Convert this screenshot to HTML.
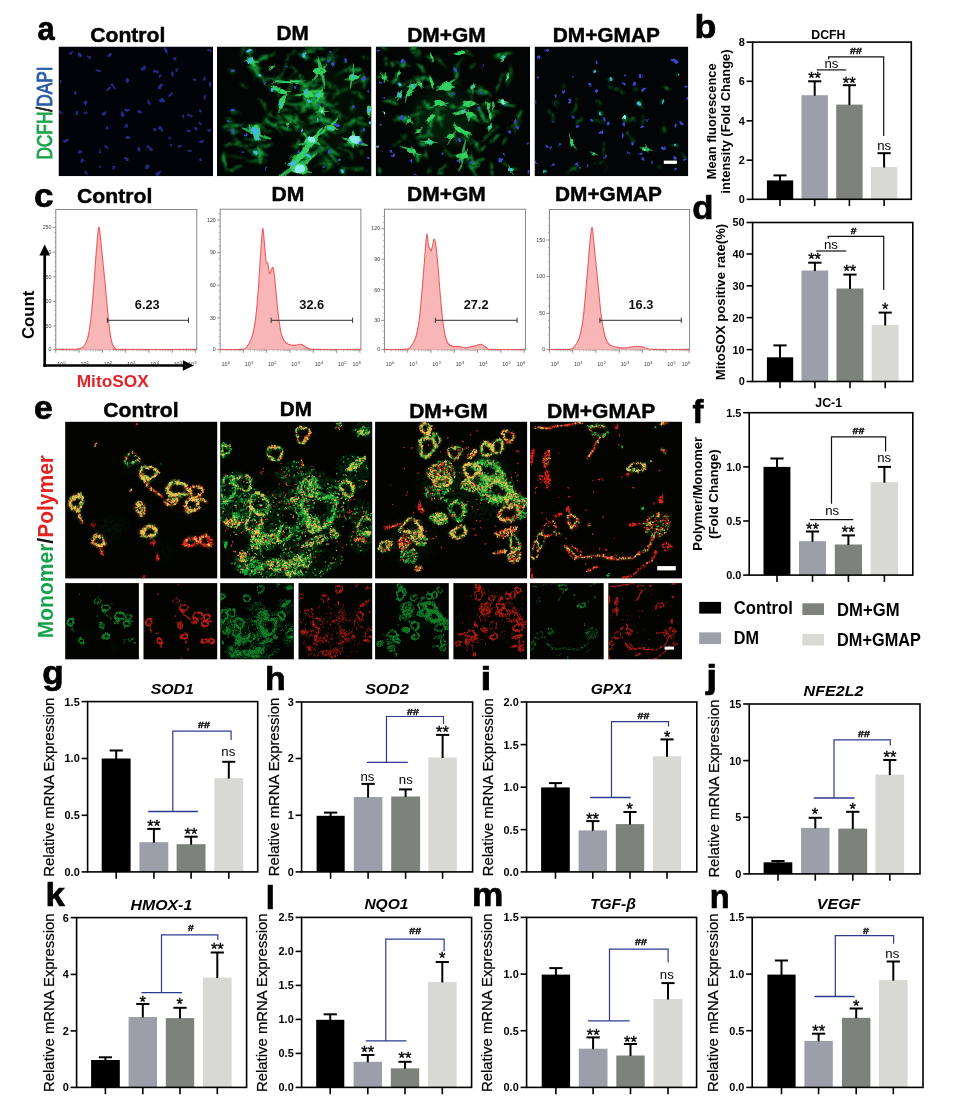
<!DOCTYPE html>
<html lang="en"><head><meta charset="utf-8"><title>Figure: oxidative stress and mitochondrial function</title>
<style>
html,body{margin:0;padding:0;background:#fff}
svg{display:block;font-family:"Liberation Sans", Arial, Helvetica, sans-serif}
text{font-family:"Liberation Sans", Arial, Helvetica, sans-serif}
</style></head>
<body>
<svg width="955" height="1102" viewBox="0 0 955 1102">
<defs>
<filter id="b06" x="-30%" y="-30%" width="160%" height="160%"><feGaussianBlur stdDeviation="0.55"/></filter>
<filter id="b08" x="-30%" y="-30%" width="160%" height="160%"><feGaussianBlur stdDeviation="0.8"/></filter>
<filter id="b1" x="-30%" y="-30%" width="160%" height="160%"><feGaussianBlur stdDeviation="1.0"/></filter>
<filter id="b12" x="-30%" y="-30%" width="160%" height="160%"><feGaussianBlur stdDeviation="1.1"/></filter>
<filter id="b2" x="-30%" y="-30%" width="160%" height="160%"><feGaussianBlur stdDeviation="1.8"/></filter>
<filter id="b5" x="-30%" y="-30%" width="160%" height="160%"><feGaussianBlur stdDeviation="6"/></filter>
<filter id="warp" x="-5%" y="-5%" width="110%" height="110%"><feTurbulence type="fractalNoise" baseFrequency="0.045" numOctaves="2" seed="11" result="n"/><feDisplacementMap in="SourceGraphic" in2="n" scale="9" xChannelSelector="R" yChannelSelector="G"/></filter>
<filter id="gtex" x="-5%" y="-5%" width="110%" height="110%"><feGaussianBlur in="SourceGraphic" stdDeviation="0.9" result="b"/><feTurbulence type="fractalNoise" baseFrequency="0.33" numOctaves="2" seed="21" result="n2"/><feColorMatrix in="n2" type="matrix" values="0 0 0 0 1  0 0 0 0 1  0 0 0 0 1  3.2 0 0 0 -1.05" result="m"/><feComposite in="b" in2="m" operator="in"/></filter>
<filter id="gtex2" x="-5%" y="-5%" width="110%" height="110%"><feGaussianBlur in="SourceGraphic" stdDeviation="0.9" result="b"/><feTurbulence type="fractalNoise" baseFrequency="0.33" numOctaves="2" seed="33" result="n2"/><feColorMatrix in="n2" type="matrix" values="0 0 0 0 1  0 0 0 0 1  0 0 0 0 1  3.2 0 0 0 -1.05" result="m"/><feComposite in="b" in2="m" operator="in"/></filter>
<filter id="cell1" x="-20%" y="-20%" width="140%" height="140%"><feTurbulence type="fractalNoise" baseFrequency="0.07" numOctaves="2" seed="5" result="n"/><feDisplacementMap in="SourceGraphic" in2="n" scale="9" xChannelSelector="R" yChannelSelector="G" result="d"/><feGaussianBlur in="d" stdDeviation="1.2" result="b"/><feTurbulence type="fractalNoise" baseFrequency="0.22" numOctaves="2" seed="9" result="n2"/><feColorMatrix in="n2" type="matrix" values="0 0 0 0 1  0 0 0 0 1  0 0 0 0 1  1.8 0 0 0 -0.15" result="m"/><feComposite in="b" in2="m" operator="in"/></filter>
<filter id="cell2" x="-20%" y="-20%" width="140%" height="140%"><feTurbulence type="fractalNoise" baseFrequency="0.07" numOctaves="2" seed="5" result="n"/><feDisplacementMap in="SourceGraphic" in2="n" scale="7" xChannelSelector="R" yChannelSelector="G" result="d"/><feGaussianBlur in="d" stdDeviation="0.8" result="b"/><feTurbulence type="fractalNoise" baseFrequency="0.22" numOctaves="2" seed="9" result="n2"/><feColorMatrix in="n2" type="matrix" values="0 0 0 0 1  0 0 0 0 1  0 0 0 0 1  1.8 0 0 0 0.05" result="m"/><feComposite in="b" in2="m" operator="in"/></filter>
<filter id="cell3" x="-20%" y="-20%" width="140%" height="140%"><feTurbulence type="fractalNoise" baseFrequency="0.07" numOctaves="2" seed="5" result="n"/><feDisplacementMap in="SourceGraphic" in2="n" scale="5" xChannelSelector="R" yChannelSelector="G" result="d"/><feGaussianBlur in="d" stdDeviation="0.65" result="b"/><feTurbulence type="fractalNoise" baseFrequency="0.22" numOctaves="2" seed="9" result="n2"/><feColorMatrix in="n2" type="matrix" values="0 0 0 0 1  0 0 0 0 1  0 0 0 0 1  1.8 0 0 0 0.3" result="m"/><feComposite in="b" in2="m" operator="in"/></filter>
<filter id="nuc" x="-10%" y="-10%" width="120%" height="120%"><feTurbulence type="fractalNoise" baseFrequency="0.16" numOctaves="2" seed="2" result="n"/><feDisplacementMap in="SourceGraphic" in2="n" scale="4.5" xChannelSelector="R" yChannelSelector="G" result="d"/><feGaussianBlur in="d" stdDeviation="0.6"/></filter>
<clipPath id="ca0"><rect x="58.5" y="46.5" width="154.5" height="129.7"/></clipPath>
<clipPath id="ca1"><rect x="217" y="46.5" width="154.5" height="129.7"/></clipPath>
<clipPath id="ca2"><rect x="375.7" y="46.5" width="154.3" height="129.7"/></clipPath>
<clipPath id="ca3"><rect x="534.5" y="46.5" width="153.8" height="129.7"/></clipPath>
<clipPath id="ce"><rect x="0" y="0" width="152" height="157"/></clipPath>
<g id="e0g" clip-path="url(#ce)"><g filter="url(#warp)">
<g filter="url(#gtex)" fill="#17a33b" stroke="#17a33b"><ellipse cx="82.9" cy="52.4" rx="7.5" ry="6.7" fill="none" stroke-width="4.1" opacity="0.85"/><ellipse cx="67" cy="36.5" rx="6.7" ry="5.9" fill="none" stroke-width="3.9" opacity="0.39"/><ellipse cx="112.2" cy="67.5" rx="9.2" ry="7.5" fill="none" stroke-width="4.4" opacity="0.85"/><ellipse cx="130.7" cy="70" rx="6.7" ry="5.9" fill="none" stroke-width="3.9" opacity="0.43"/><ellipse cx="126.5" cy="83.4" rx="5.9" ry="5.9" fill="none" stroke-width="4.1" opacity="0.7"/><ellipse cx="137.4" cy="80.9" rx="5.8" ry="2.1" stroke="none" opacity="0.43" transform="rotate(35 137.4 80.9)"/><ellipse cx="105.5" cy="80.1" rx="7.1" ry="4.8" stroke="none" opacity="0.45"/><ellipse cx="75.4" cy="86.8" rx="6.4" ry="8.8" stroke="none" opacity="0.45"/><ellipse cx="10.9" cy="81.7" rx="6" ry="6" fill="none" stroke-width="4.4" opacity="0.85"/><ellipse cx="16.4" cy="95.1" rx="1.7" ry="5.4" stroke="none" opacity="0.36"/><ellipse cx="34.3" cy="120.3" rx="6.4" ry="4.7" fill="none" stroke-width="4.1" opacity="0.65"/><ellipse cx="36.9" cy="132.3" rx="1.7" ry="5.1" stroke="none" opacity="0.14"/><ellipse cx="83.8" cy="109.4" rx="7.5" ry="5.5" fill="none" stroke-width="4.4" opacity="0.85"/><ellipse cx="125.6" cy="119.4" rx="7.5" ry="3.7" fill="none" stroke-width="3.9" opacity="0.16"/><ellipse cx="141.5" cy="119.4" rx="4.4" ry="5" fill="none" stroke-width="3.9" opacity="0.11"/><ellipse cx="31.8" cy="22.3" rx="1.4" ry="2.1" stroke="none" opacity="0.47"/><ellipse cx="71.2" cy="3.9" rx="1.2" ry="1.7" stroke="none" opacity="0.47"/><ellipse cx="65.3" cy="68.3" rx="1.6" ry="1.6" stroke="none" opacity="0.8"/><ellipse cx="96.3" cy="41.5" rx="1.2" ry="1.2" stroke="none" opacity="0.8"/><polyline points="75.4,58.3 87.1,67.5 97.2,75" fill="none" stroke-width="2.3" opacity="0.34"/><ellipse cx="46.9" cy="105.2" rx="15.1" ry="8.4" stroke="none" opacity="0.1" filter="url(#b5)"/><ellipse cx="100.5" cy="130.3" rx="10.1" ry="10.1" stroke="none" opacity="0.08" filter="url(#b5)"/><ellipse cx="68.7" cy="43.2" rx="8.4" ry="10.1" stroke="none" opacity="0.1" filter="url(#b5)"/></g>
<path d="m31.9 23.9h0m0.1-1.8h0m35.6 6.8h0m0.4-0.3h0m-6.5 7.2h0m1.7-3.6h0m0-0.3h0m0.1-0.8h0m0.6-0.3h0m0 0.5h0m4-0.4h0m2.9 3.8h0m0.3-0.3h0m0.1-0.6h0m0.7 0.2h0m0 0.3h0m-12.5 3.9h0m0.5 1.7h0m0-1.3h0m0.6 2.4h0m0.5-4.4h0m1.3 4.4h0m4.2 0.2h0m0.1 0h0m0.4-0.4h0m0.1 0.7h0m0.6-0.2h0m0.2-0.2h0m0.8-0.2h0m0 1h0m1.9-0.9h0m1.8-0.8h0m0.7-2h0m0 2.9h0m1-3.3h0m0.3-1.4h0m22.2 5.2h0m-33.3 0.6h0m4.3 0.2h0m0.2 0.6h0m8.6 4h0m0.3 0.6h0m1.1-1.4h0m2.5 0.7h0m0.6 0.7h0m0-0.3h0m1 0.1h0m0.7 0h0m1.7-2.2h0m0.2 0.9h0m0.2-0.1h0m0.1-0.1h0m0.8 0.8h0m0.2-0.8h0m0.4-0.4h0m0.2-0.9h0m0.4 1.3h0m1.9 1.9h0m0.4-0.3h0m0.8 0h0m-14.8 3.6h0m0 0.7h0m0.4 0.8h0m0.4-2.2h0m0.1-1.6h0m0.4 1.4h0m0.7 0.4h0m4.8-2.2h0m1.1-0.4h0m4.8 1.1h0m1.4-0.4h0m0 1h0m0.4-1h0m1.3 3.4h0m0.1-2.1h0m0 3.7h0m0.4-2.5h0m0.2-0.3h0m0.2 0.1h0m0.3 1.1h0m0.1-1.2h0m0.1 1h0m0.1 0.6h0m0.2-0.4h0m0.9 1.2h0m-19.3 3.5h0m0.2-0.9h0m0 0.6h0m0.7-1.7h0m0.1 3h0m0.1-1.4h0m0.5 1.7h0m0.1 1h0m0.5-1.5h0m0.1-1.4h0m0.1 1.5h0m0.2-0.7h0m0.1 0.7h0m0.1 1.5h0m0.3-1.2h0m0 0.1h0m0.1-0.9h0m0.1 0.9h0m0.6 1.4h0m0.5-3.5h0m0.1 1.3h0m0.2-0.6h0m0.5 0.9h0m0.7 0.5h0m0.3-0.2h0m0 1.3h0m0.1-2.6h0m0 2.7h0m0.1-2.8h0m0 1.9h0m0.9-0.5h0m0.3-0.2h0m0 0h0m0.2 0.9h0m0 0.4h0m0.7 0.7h0m0.5-1.1h0m0 0.3h0m0.7 0h0m0.3 0.4h0m0.1 0.2h0m0.3-0.4h0m1-1.1h0m0.2 0.2h0m0.2 0.8h0m0.3-2.1h0m0.7 0.5h0m1.1-0.9h0m0.4 0.1h0m0.2-1.3h0m0.1 2h0m0.5-2.1h0m0-0.1h0m0.4 0.4h0m0 0.9h0m23.7 3.6h0m0.4-0.1h0m0.6-0.2h0m-34.3 2.5h0m0.1 0.5h0m0.7-0.1h0m5.1 3h0m16.6-0.2h0m0.1-0.4h0m0.8-0.4h0m0.3 0.7h0m0.2-2h0m0.5-1.9h0m0.8 0.9h0m0.2-1.2h0m0.1 0.1h0m0.2 1h0m0-0.7h0m1.2-0.4h0m0-0.8h0m2.6 1.1h0m1-0.2h0m0.6-0.2h0m0.2 0.2h0m0.1 0.3h0m0.4 1.5h0m0.3-1.8h0m0.4-0.2h0m0.3 0.9h0m0.3 1.3h0m0.1-1.5h0m0 0.1h0m0.2-1.3h0m0.2 0.7h0m0 1.3h0m0.2-0.6h0m0.1-0.6h0m0 0.7h0m1.2 0.2h0m0-1.5h0m0.5-0.2h0m0.3 1.2h0m0.1-0.4h0m0.1 0.5h0m0.3-0.9h0m0.6 0.4h0m0.5 1.7h0m0-2.1h0m0.3 0.8h0m0.3-0.6h0m0.6 0h0m0.1 1.6h0m0-1.2h0m0 0.3h0m0.2 0.4h0m0.3 1.3h0m0.1-0.5h0m0.1-2.5h0m0.1 3.4h0m0.1-1.1h0m0.2 1.7h0m0.1-1.9h0m0.2 2.1h0m0.7-1.4h0m0.1 1.2h0m0.3-1.8h0m0.5 0.9h0m0.3-1.3h0m5.9 1.7h0m0.6 0h0m2.6-0.5h0m1.5 1.5h0m-66.9 3.2h0m0.1 1h0m0.2-1.6h0m19.8 0h0m0.3-0.8h0m2.5 2.5h0m11.3-1.7h0m1.8 2.8h0m0.1-4.3h0m0 2.8h0m0.5 1.6h0m0.1-2.5h0m0.2 0.3h0m0.4-1.1h0m0.3 3.3h0m0 0.9h0m0.2-2.3h0m0 2h0m0.2-1.9h0m0.2 2h0m0.2-0.2h0m0.6-0.4h0m0.6 1.2h0m1.1 0.1h0m14.8-5.3h0m0.2 2.3h0m0.7-0.6h0m0.1 1.2h0m0.3 1.3h0m0.1-0.2h0m0.5-1h0m0.4-2.2h0m0.9 4.2h0m0.1-2.8h0m0.1 2.2h0m0.2-4.7h0m0.2 0.8h0m0.2 4.8h0m7.9-5.7h0m1.3 0.2h0m1 1.4h0m0-0.5h0m0.5-1.2h0m0.5 0.9h0m0.5 2.4h0m0-1.1h0m0.4 0.6h0m0.3 2.3h0m-130.8 5.9h0m0.1 0.2h0m0.4 0.6h0m0-0.3h0m0-1.7h0m0.4-0.3h0m0.2 1.9h0m0.2-1.2h0m0.6-1.2h0m0.6 1.1h0m0.2 0.4h0m0.2-0.1h0m0.4 0.4h0m0.3-1.8h0m0.3 1.4h0m0-1h0m1.4 1.1h0m0-3h0m0.1 2h0m0.2-1.2h0m0 2.5h0m0.1-0.6h0m0.2 0.7h0m0.3-1.4h0m0-0.7h0m0.2 2h0m0-1.8h0m0.3 2h0m0.2-3h0m1.1 3.8h0m0-2.1h0m0.2-1h0m0.7 1.7h0m0.1 0h0m0 1h0m0.5-0.5h0m0 0.1h0m0.1 0.5h0m0.4 0.1h0m76.2-5.5h0m0.1 0.1h0m0.3 0.5h0m0.6-0.4h0m0.5 0.8h0m7.6 4.1h0m0.8-0.8h0m0.6-3.9h0m0.1 1h0m2.1-0.1h0m0.2 0.4h0m0.1 3.3h0m0.1-4.2h0m0.1 4h0m0.3-3.6h0m0.4 0.1h0m0.2-0.1h0m0 3.9h0m0.1-4.6h0m0.8-0.7h0m0.2 1.5h0m0.1-0.4h0m0 2.2h0m0.4-1.3h0m0 3.1h0m0.2-3.3h0m0.2-0.9h0m0.1 0.2h0m0.1 1.3h0m0-0.9h0m0.2-1.1h0m0.4 0.4h0m0.4 1.7h0m0.9-0.9h0m0.3-0.4h0m1.1-0.9h0m0.2 3.1h0m0.4-1.7h0m0-0.7h0m0.2-0.1h0m0.3-0.1h0m0 0.5h0m1.2 0.4h0m1.3-0.8h0m0.5 1.5h0m0.3-0.9h0m1.2 0.4h0m0.5-0.4h0m1.1-0.6h0m0.3 1.5h0m2.2 1.2h0m1.2 2.3h0m0.9 0h0m0.6-2.9h0m0.4 2.3h0m0-3h0m0 3.2h0m1.4-0.4h0m0.3-1h0m0.4-0.6h0m2.5-0.2h0m0.1 0.4h0m0.1 0.1h0m0.8 0.1h0m0.5 0h0m0.4-2.8h0m0.9 1h0m0.9 0.1h0m0.4-0.3h0m0.7-1h0m0.2 1.6h0m0.2-1.7h0m0.3 0.5h0m-131.7 4.7h0m0.2 3.8h0m0-0.3h0m0.1 2h0m0.1-0.4h0m0.1 0.5h0m0.1-2h0m0 2.3h0m0.4-1.9h0m0.1-0.7h0m0.1-1.1h0m0 0.9h0m0.1-0.4h0m0.4 1.4h0m0.6-3.1h0m0.3 0.2h0m0.1 0.9h0m2.1-0.9h0m0.4-0.9h0m5.1 4.8h0m0.5-0.9h0m0.4-0.8h0m0.1 0h0m0.3 0h0m0.1-1h0m0.1 3.1h0m0.2-5.1h0m0.3 0.4h0m0.2 1.5h0m0.2 1.5h0m0.4-2.6h0m1 4.3h0m53.9-2.1h0m0.7-0.8h0m0.2 1.6h0m0.1 1.2h0m0.7-0.4h0m0.3-0.4h0m0.3-1.2h0m0 2.5h0m0.1-3h0m0-1.2h0m0.2 2h0m0.7 0.7h0m0-3.1h0m0.2-0.8h0m0 3.2h0m0.8 1.1h0m0.7-1.5h0m0.3-2h0m0.8 2.3h0m24 0.2h0m0.2 1.8h0m0.1-1.1h0m0.6-0.4h0m0.9-3.1h0m0.1 4h0m2-2.4h0m0.3-1h0m1.6-1.1h0m0 1.1h0m0.1 0.6h0m0.6 2.7h0m0.3-4.4h0m0.1 0.1h0m0.3 5h0m0.9-5.4h0m0.1 1.3h0m0.8 1h0m8.6 0.5h0m0 2.8h0m0.1-3h0m0.4 1.2h0m0.1 1.9h0m0.3-0.9h0m0.1-2.7h0m0.3 1.2h0m2.2-1.4h0m1-0.7h0m0.1-0.6h0m0.4-0.2h0m1.5 0.9h0m1 0.8h0m0.1-1.5h0m0.4 0h0m0.4 0.5h0m0.2-1.2h0m0.4 1.7h0m0.3-0.8h0m0.3 0.5h0m0-0.1h0m0.1-0.7h0m0.9 0h0m0.6-0.1h0m0.2 1.9h0m0-0.3h0m0.5 2.9h0m0.1-2.8h0m0.1-1.6h0m0.4 3.5h0m0.4 1.1h0m0.5-4.7h0m0.1 4.8h0m0-2.3h0m0.4 1.8h0m1.2-2.1h0m0.7-1.7h0m1.7 2.2h0m1.1-1.4h0m0.8 1.3h0m0.7 1.5h0m0.9-0.1h0m-135.9 1.6h0m0.1 0h0m0.3 1.5h0m0.1 0.4h0m0.1-1h0m0.7-0.1h0m0 1.4h0m0.8 0.9h0m1.2-1.1h0m0.7 0.3h0m0.2 0.4h0m1.1-0.1h0m0 0.1h0m0.2-1.3h0m0 2.3h0m2 1.1h0m0.1-0.1h0m0.5-0.1h0m0.1-0.7h0m0.1-1.1h0m0 1.6h0m0.1 0h0m0.3 1h0m0.2-1.1h0m1.2-1.2h0m0.4-0.2h0m0.2 2.1h0m0-0.9h0m0.2-0.7h0m0.1-0.8h0m0.1 0.5h0m0.2-1.8h0m0.3 0.8h0m0.4 2.3h0m0.1-2.3h0m0.2-0.7h0m53 3.3h0m0.7 0.3h0m0.4-3.9h0m0.6 3.2h0m0.3-2.9h0m0.2 2.4h0m0.3-3.7h0m2.1 2h0m0.5-0.5h0m0.7-1.7h0m1.1 5.2h0m1.1-1.7h0m0.1-1.5h0m1.8-0.4h0m0.4 2.6h0m0.4-2h0m38.8-1.3h0m0.3 0.1h0m1.6 1.7h0m0.2-0.2h0m0.9-0.9h0m0.6 1.6h0m0.1 0.2h0m0.5 2.5h0m0.4-1.9h0m0.7-0.2h0m0.2-2.6h0m1.2 2.4h0m0.5 1.5h0m0.3-0.1h0m0.3 0.5h0m1.9-0.8h0m0-1.7h0m0.2 0.3h0m0.3 1.9h0m0.6-1h0m1.2-4.2h0m0.3 3.2h0m1.7-1.3h0m1.1 0.8h0m-119.1 6.2h0m0.1 1.3h0m0.7 0.4h0m0.3-0.9h0m0.1-1.8h0m53-2h0m1.9 1.3h0m1 0.7h0m0.1-1.7h0m0.8 1h0m1.4 1h0m0-0.8h0m0.7-1h0m0.1 4h0m0.3-1.7h0m0.9 1.4h0m0.8-3.3h0m0.5 0.1h0m0.5 1.2h0m0.2 0.8h0m0.5-0.3h0m0.7-2.7h0m44.4 0.7h0m1.7-0.6h0m-109 6.3h0m58.2 11h0m0.9-0.7h0m0.2 1.2h0m0.5-0.5h0m0.6-0.3h0m0.2-2.5h0m0.5 0.6h0m0.4-0.7h0m0.1 0.8h0m0.1-0.9h0m0 0.3h0m0.2 1.7h0m0.5-1.3h0m0.1 2.1h0m1.5-4.2h0m0 1.2h0m1.5-1.9h0m0.1 1.3h0m0.6-1.1h0m0.5 0.3h0m0.1 0h0m0 1.7h0m0.6-0.5h0m1.6 0.6h0m0.1 2.3h0m0.3-1.9h0m0-0.6h0m0 0.6h0m0.6 1.6h0m0-0.5h0m0.1-3.2h0m0.4 1h0m0.1 3.1h0m0.1 0.2h0m0.4 0.6h0m0.6-1.4h0m0.1 0.6h0m0.4 0.3h0m0.2-1.2h0m0.3 1.8h0m0 0.1h0m0.3-2h0m0.2 0.4h0m0.3 0.6h0m0.6 0.3h0m0.2 0.4h0m0.5-0.6h0m0.3-0.1h0m0.2-0.7h0m0.1 1.2h0m-16.9 1.6h0m0.4-0.1h0m0.4-0.7h0m0.2 2.6h0m0.2-0.5h0m0 1.2h0m0.1-1.4h0m0 1.7h0m0.1-0.4h0m0.1-1.3h0m0 1.6h0m0.1 0.4h0m0-0.8h0m0.1-3.2h0m0.5 1.1h0m0-0.5h0m0.2 1.2h0m0.4-0.5h0m3.3 4.2h0m1.6 0.3h0m0.5-0.8h0m0.5-0.8h0m0.8 1.1h0m0.2-0.3h0m0 0.6h0m0.3-0.8h0m0.3 0.6h0m0.7-0.3h0m0.1-0.3h0m0.7 0.7h0m0.5 0.2h0m0.1-0.2h0m0.2-0.5h0m1.2-0.6h0m0.3-3.2h0m0.4 0.1h0m0.6 2.1h0m0-0.5h0m0.1-2.8h0m0.2 4.3h0m0.1 1.2h0m0.4-4.6h0m0.6 0.1h0m0.4-0.3h0m0.1 2h0m-65.9 8.8h0m1.5-3.1h0m0.4 3.2h0m0-1.8h0m0.2-3h0m0.2 4.6h0m1.3-3.4h0m1.3-1.5h0m0.1 0.5h0m0.1 1.2h0m0.1-2h0m0.7 0.2h0m1.2 1.1h0m0.4 0.5h0m0.1-1h0m0.4 0.8h0m0.7-1.6h0m0.7 1.6h0m2.1-0.7h0m0.2 1.7h0m0.8-0.8h0m0 3.7h0m36.4-5.5h0m1.8 0.4h0m1-0.5h0m1.6 1.2h0m0.5-0.9h0m2.2 0.2h0m1.4-0.9h0m0.4 0.2h0m0.6 0h0m0.2 1.5h0m1.6-1.1h0m0.8 0h0m0.4-0.2h0m32 3.3h0m0.1-0.6h0m0.3 1.5h0m0.1 0.7h0m0.4-2h0m3.3-0.4h0m6-0.5h0m0.2-1.6h0m1.1 2.4h0m0.3 1.3h0m2.1 1.4h0m2.3-2.6h0m0.3 2h0m0.4-1.2h0m1.5-2.1h0m0.1-0.1h0m1.2 0.5h0m0.4 0.1h0m2.4-0.8h0m0.6-1.4h0m-115.3 7.8h0m1.8 2.1h0m1.9-0.1h0m0.2 0.5h0m0.1-0.5h0m1.2 1.4h0m1.1-0.2h0m0.5-0.1h0m0.1-0.3h0m0 0.1h0m0.1 0.6h0m0.3 0.2h0m0.2-0.1h0m0.2 0.2h0m0.4-1.1h0m0.5-0.8h0m0.4 1.7h0m0.3-2.8h0m0.3 0.7h0m0.3 1.9h0m0.6-1.5h0m0.2 0.1h0m0.1-2.7h0m0.5-0.3h0m0.1 1.6h0m0.2-0.4h0m0-1.9h0m0.2 1.7h0m0.1 0.9h0m0.2-1.2h0m79.4 1h0m3.4-0.8h0m13.3-1.9h0m6.7 3.1h0m0.7 0.4h0m0.6-1h0m0.6 1.2h0m-109.6 2.7h0m1.1 4h0m0.1-4.2h0" fill="none" stroke="#1bb83e" stroke-width="1.6" stroke-linecap="round"/>
</g></g>
<g id="e0r" clip-path="url(#ce)"><g filter="url(#warp)">
<g filter="url(#gtex2)" fill="#c4261a" stroke="#c4261a"><ellipse cx="82.9" cy="52.4" rx="7.5" ry="6.7" fill="none" stroke-width="4.1" opacity="0.7"/><ellipse cx="67" cy="36.5" rx="6.7" ry="5.9" fill="none" stroke-width="3.9" opacity="0.28"/><ellipse cx="112.2" cy="67.5" rx="9.2" ry="7.5" fill="none" stroke-width="4.4" opacity="0.7"/><ellipse cx="130.7" cy="70" rx="6.7" ry="5.9" fill="none" stroke-width="3.9" opacity="0.85"/><ellipse cx="126.5" cy="83.4" rx="5.9" ry="5.9" fill="none" stroke-width="4.1" opacity="0.85"/><ellipse cx="137.4" cy="80.9" rx="5.8" ry="2.1" stroke="none" opacity="0.68" transform="rotate(35 137.4 80.9)"/><ellipse cx="105.5" cy="80.1" rx="7.1" ry="4.8" stroke="none" opacity="0.58"/><ellipse cx="75.4" cy="86.8" rx="6.4" ry="8.8" stroke="none" opacity="0.58"/><ellipse cx="10.9" cy="81.7" rx="6" ry="6" fill="none" stroke-width="4.4" opacity="0.7"/><ellipse cx="16.4" cy="95.1" rx="1.7" ry="5.4" stroke="none" opacity="0.72"/><ellipse cx="27.6" cy="103.5" rx="4.2" ry="2" stroke="none" fill="#e3281b" transform="rotate(35 27.6 103.5)"/><ellipse cx="34.3" cy="120.3" rx="6.4" ry="4.7" fill="none" stroke-width="4.1" opacity="0.85"/><ellipse cx="36.9" cy="132.3" rx="1.7" ry="5.1" stroke="none" opacity="0.72"/><ellipse cx="83.8" cy="109.4" rx="7.5" ry="5.5" fill="none" stroke-width="4.4" opacity="0.85"/><ellipse cx="125.6" cy="119.4" rx="7.5" ry="3.7" fill="none" stroke-width="3.9" opacity="0.85"/><ellipse cx="141.5" cy="119.4" rx="4.4" ry="5" fill="none" stroke-width="3.9" opacity="0.85"/><ellipse cx="87.1" cy="121.1" rx="2.1" ry="3.8" stroke="none" opacity="0.72"/><ellipse cx="93" cy="135.3" rx="2.4" ry="3.8" stroke="none" opacity="0.72"/><ellipse cx="80.4" cy="154.6" rx="1.2" ry="1.7" stroke="none" opacity="0.8"/><ellipse cx="31.8" cy="22.3" rx="1.4" ry="2.1" stroke="none" opacity="0.8"/><ellipse cx="71.2" cy="3.9" rx="1.2" ry="1.7" stroke="none" opacity="0.47"/><ellipse cx="65.3" cy="68.3" rx="1.6" ry="1.6" stroke="none" opacity="0.8"/><polyline points="75.4,58.3 87.1,67.5 97.2,75" fill="none" stroke-width="2.3" opacity="0.8"/></g>
<path d="m71.6 2.9h0m0.3 0.8h0m-40.3 17.2h0m0.5 1h0m-0.4 2.1h0m35.2 5.4h0m1.7 0.2h0m-8.5 4.9h0m1.1 1.1h0m0.3-0.7h0m1.8-3.6h0m5.7-0.5h0m2.4 3.3h0m1 0.1h0m0.3 0.9h0m-13 3.1h0m7.9 2.8h0m0.6-0.1h0m3.9-1.1h0m1.2 1.8h0m0.7-3.9h0m0.2 1.3h0m0.7-0.9h0m1.5 9.1h0m0-0.3h0m0.3 1h0m0.9-1.4h0m0 0h0m3.4 0.8h0m0.6 0.5h0m0.1-0.6h0m0.3-0.1h0m0.5-0.2h0m0.2 0.5h0m1.4-2.1h0m0.2 0.9h0m0.5-0.2h0m0.1-0.2h0m0.2 0.5h0m0.4 0.4h0m0.1-0.5h0m0.8-0.4h0m0.1-1.4h0m0.5 1.7h0m0.6 0.9h0m-13.9 6.8h0m0.4-0.9h0m0.9-1.7h0m0 0.9h0m0.2-0.2h0m1.1-1.9h0m5.6-1.5h0m5.9 0.5h0m0.9-0.9h0m0.3 1.4h0m0.4-0.6h0m0-0.2h0m0.7 0h0m0.1 0.9h0m0.7 2.6h0m0.1-2.5h0m0.2 1.3h0m0.8 0.8h0m0-0.9h0m0.3 0.8h0m0.3 0.6h0m1.1 0.9h0m-20.4 1.6h0m0.4-0.6h0m0.5 2.7h0m0.5-0.8h0m0.4-1.5h0m0.2 1.7h0m0 1.5h0m0.4 0h0m0-1.4h0m0.1 1.5h0m0 1.1h0m0.4-1.1h0m0.1 0h0m0.1-1.8h0m0 0.9h0m0.6 1.3h0m0.2 1.3h0m0-0.6h0m1 0.2h0m0.5-3.5h0m0.4 1.1h0m0.1 0.4h0m0.4 1.7h0m0.2-0.6h0m0.7-0.3h0m0.3 1.2h0m0.1-0.7h0m0.5-0.5h0m0.4-0.1h0m0-0.4h0m0.1 1.3h0m0.2-0.3h0m1 0.3h0m1.3 0.7h0m0-0.1h0m0.1-0.1h0m1.5-2.2h0m0 1.9h0m1.9-2.3h0m0.4-0.1h0m0.1-0.1h0m0.2 0.8h0m0-2h0m1.2 0.3h0m0.1 0.8h0m0.9-0.3h0m0.1-1.7h0m22.9 5.5h0m0.6-0.3h0m-35.1 1.5h0m0.3 0.4h0m0.7 0.6h0m0.1 0.3h0m0 0.5h0m0.3 0h0m0.1-0.9h0m1.8 1.5h0m2 2.1h0m1.2 0.1h0m16-0.3h0m0 0.4h0m1-0.4h0m0.8-0.9h0m0.1 1h0m1.5-3.1h0m0.2-1.1h0m0.2-0.3h0m0 0.5h0m0.2 0.7h0m1.3-1.7h0m3.7 0.4h0m0.6 0.3h0m0.4 1.6h0m0.5-1.8h0m0.3 1.1h0m0.8-0.3h0m0-1.8h0m0.1 1.6h0m0.4-0.3h0m0.3 0.4h0m0.8 0.2h0m0.4 0h0m0.9-1h0m0.1 0.8h0m1-0.7h0m0.4-0.1h0m0.2 0.2h0m0.5 0.2h0m0.3-0.1h0m0.5 1.5h0m0.3 1.4h0m0-3.5h0m0.3 1.8h0m0.1 2.4h0m0.3-2.3h0m0.1 0.2h0m0.8 2.1h0m0.2-2.3h0m0.3 1.2h0m0.5-1.2h0m0.2 3.1h0m2.8 0.1h0m0.3-0.6h0m0.2-1h0m0.1 1.3h0m1.7-2.6h0m0.6 1.3h0m0.9-0.1h0m0.1 1.1h0m2.1-1.7h0m0.2-0.1h0m1.6 1.2h0m0.2-0.4h0m1.1 0.8h0m0 1.1h0m0.2-0.2h0m0.1 0.2h0m1.3-1.1h0m0.3 1h0m-70.5 3.2h0m0.3-0.7h0m0.2-0.6h0m19.6-1.7h0m0.2 1.5h0m0.1-0.7h0m2.2 0.8h0m0.7 1.8h0m0.4 0h0m0.9 0.7h0m0.2-0.6h0m1.3 1.8h0m9.9-0.8h0m0-3.2h0m0.7 0.6h0m0-1.1h0m1 0.1h0m0 4.2h0m0-0.9h0m0.2 0.7h0m0.4-1.9h0m0.2 0.1h0m0.7 1.5h0m0.7 0.7h0m14.3-4.6h0m1.1 2h0m0.2-2.4h0m0.6 2.2h0m0.3 0h0m0.2 0.2h0m0.1 0.8h0m0.1 1.2h0m0-0.4h0m1.1-1h0m0-2h0m0.1 1.8h0m0.3-2h0m0.1-0.6h0m0.1 1h0m0.2 1.7h0m0.1-1.9h0m0 0.5h0m0 4h0m0-0.3h0m0.2-2.8h0m0 0.7h0m0.1 1.8h0m0-0.4h0m0-3.5h0m0.2-1.4h0m0.1 3.4h0m0-2.6h0m0 0.2h0m0.1 4.4h0m0.3-1.7h0m7.7-3.2h0m0.1-0.4h0m1.6 0.6h0m0.9 0.4h0m0.5-0.3h0m0.5-0.1h0m0 2.6h0m0.1-1.8h0m0-0.6h0m0 0.1h0m0.1 1.5h0m0.3-0.6h0m0.1 0.9h0m0.2 0.1h0m0 2.5h0m0-2.2h0m0.1-0.4h0m0.3 0.8h0m0.3-1.5h0m1.4 0.6h0m-132.4 8.8h0m0.5-1.7h0m0 0.9h0m1.5-0.5h0m0.5 0.4h0m0.6-1.8h0m0.1 2.3h0m0.6-1.5h0m1.2-1.8h0m0.2 2.9h0m0.4-0.2h0m0.1-1h0m0.2 1.4h0m0.1-2.2h0m0.1 2.4h0m0-1.7h0m1.7-1.5h0m0.5 2.8h0m0.2-0.4h0m0.3 1.4h0m0.2 0h0m0.5-0.7h0m0 0.1h0m76.5-4.9h0m0.1 0.5h0m0.1-0.2h0m0.8 0.2h0m0.1 0.3h0m0.3-0.1h0m0.2 0.2h0m0.9 1h0m0.7 1.2h0m0.4 0h0m5.5 2h0m1-1h0m0.2-3h0m0.1-0.6h0m1.6-0.6h0m0.1 0.2h0m0.4 1.6h0m0.2-0.4h0m0 4h0m0.2-4.8h0m0.3 0.7h0m0 3.5h0m0.9-4.3h0m0.2 2h0m0.9-1.3h0m0 0.4h0m0-0.6h0m0.1 2h0m0.4-2.1h0m0.5 0.6h0m0 1h0m0.1-1.2h0m0.4-0.4h0m0.5 1.3h0m0.2 3.4h0m1-5.4h0m0.4 1.5h0m0.8-1.6h0m0.7 0.6h0m0.1 0.3h0m0.1-0.1h0m1.5 0.5h0m1.3-0.6h0m0.5 1.2h0m3.1-1.1h0m2.2 2.8h0m1.1 1.6h0m0.2 0.5h0m0.3-5.2h0m0.7 5.2h0m0-4.8h0m0.6 1.7h0m0.2 2.2h0m0.4 0.4h0m0.9-0.6h0m0.3 0.6h0m0.1-1.2h0m0.6-0.7h0m0.4 0.6h0m0.1 0.9h0m0.9-0.3h0m0.2-0.3h0m0.6-1.4h0m0.1 0.5h0m0.2-0.1h0m0 0.6h0m0.2-0.2h0m0.6-0.1h0m0.4 0.8h0m0.1-1.7h0m0.1 1.8h0m0.3-0.7h0m0.2 0.3h0m0-1.2h0m0.1-2.1h0m0.4 0.7h0m0.2 0.2h0m0.4 1.1h0m0.6-0.8h0m0.5-0.3h0m0.5-0.6h0m0.2 1.3h0m0.1-1.2h0m0.2-0.4h0m0.4 0.4h0m1.2-1.1h0m-133.4 7.4h0m0.3-0.6h0m0.3-0.8h0m0.1 3.7h0m0.1 1.5h0m0-0.4h0m0.3-1.6h0m0.2-0.1h0m0.1-0.4h0m0.2 1.3h0m0.2-1.6h0m0.5-1.1h0m0.5-0.1h0m0.3 0.4h0m1-1.7h0m0.9 1.1h0m0.7-1h0m5.5 4h0m0.2-0.8h0m0.4 0.1h0m0.4 0h0m0.2-2.5h0m0.1-0.4h0m0 5.1h0m0.5-2h0m0.4-2.6h0m0.8 4.1h0m54.2-2.1h0m0.9 1h0m0.4 1.1h0m0.4-0.4h0m0.2-0.3h0m0.4-1.9h0m0-0.8h0m0.2 1.9h0m0.6-2.3h0m0.2 3h0m0-0.8h0m0.3-3.2h0m0.4 4.2h0m1.1-3.3h0m0.7 0.8h0m0.6 1.3h0m1.4 2.6h0m19.1-3.9h0m0.2 0.6h0m1.2-0.3h0m0.4 1.5h0m1.4 1.8h0m0.1-2h0m0 0.8h0m0.2-1.4h0m0.7 1.2h0m0.6-3.1h0m0.4 3.8h0m1-3.4h0m0.1 3.9h0m0.1-4.4h0m0.6 1.9h0m0.2-0.2h0m0.3-1.3h0m1.1-1h0m0.1 2.1h0m0.1-1.3h0m0.2-0.5h0m0.1 1.5h0m0.4 3.4h0m0.5-0.6h0m0.2-4.9h0m0.1 5.5h0m0-5.4h0m0.6 1.6h0m0.2 1.9h0m0.1-3.7h0m0.3 4.3h0m0.6-2h0m8.6 0.4h0m0 0.3h0m0 2.8h0m0.7-2.1h0m0.1-1.4h0m0.1 2.7h0m0.2 0h0m0.3-1.7h0m1.6-3.2h0m0.7 2.1h0m1.2-1.2h0m0-0.4h0m0.4-0.1h0m0.5-0.1h0m0.6-0.5h0m0 1.5h0m1.1 0.6h0m0.4-1h0m0.1-0.1h0m0.6 0.6h0m0-0.2h0m0.6-0.7h0m0.1 1.4h0m0.1-0.5h0m0.5-0.1h0m0.6-0.7h0m0.4 0.9h0m0.3-1.4h0m0.1 0.6h0m0.2 1.3h0m0.4 0.1h0m0.2 3.1h0m0.1-0.7h0m0.1-0.5h0m0.1-3.3h0m0.3 0.8h0m0 3.9h0m0.8-0.3h0m0-5h0m0.2 5.4h0m0-2.5h0m0.2 1.9h0m0.1-0.2h0m0.9-4.7h0m1 1.1h0m1.2-0.4h0m0.2 2.1h0m1.1-1.3h0m0.9 2.7h0m0.5-1.2h0m0-0.3h0m0.2 1.6h0m1.2-0.1h0m-136.1 1.9h0m0.1-0.3h0m0.3 1.5h0m1.2 1.2h0m0-1.5h0m0.3 2.9h0m0.4-1h0m1.1-0.7h0m0.8 0.3h0m0.3 0.2h0m0.9 0.1h0m0.1-1.3h0m0.2 2.2h0m0.4 0.4h0m1.4 0.8h0m0.4 0h0m0.2-0.4h0m0.4 0h0m0.2-1.9h0m0.6 0.1h0m0.9 0.7h0m0.3 0.6h0m0.3-0.7h0m0.1 0h0m0.1 1.6h0m0.1-2.5h0m0.3-1.1h0m1 0.2h0m52.5 4.3h0m0.3-4.7h0m0.1 3.8h0m0.4-4.6h0m0.4 4.7h0m1.1-0.1h0m0.1-3.4h0m0.1 2.9h0m0.2-0.3h0m0.5-4.2h0m1.3 0h0m0.3 4.3h0m0.5-2.3h0m0.5-0.5h0m0.7-1.4h0m0.9 4.8h0m0.1 0.5h0m0.9-2h0m0.1 0.5h0m2.1-2.5h0m0.2 0.8h0m0 2.1h0m0.1 0.6h0m0.1-2.6h0m37.8-2.3h0m1.3-0.1h0m0 0h0m0 0.2h0m0.1 1h0m0.3-0.3h0m0.5 2.5h0m0.7-2.8h0m0.3 2h0m0 0h0m0.1-0.6h0m0.8 2.5h0m0.3 0.6h0m0.2-1.6h0m0.4-0.2h0m0 1.2h0m0.3-0.4h0m0.6 0.2h0m0.6-0.4h0m0.1-2.6h0m1 2.7h0m0.3-0.1h0m0.3 1.3h0m0.2 0h0m0.6 0.1h0m0.1 0.4h0m0.4-1.7h0m1.1 0.6h0m0.1 0.4h0m0.4-1.8h0m0.4 1.9h0m0.1-1.1h0m0.2 0.4h0m1.5-1h0m1.1-0.6h0m0.6-0.8h0m0.6-0.3h0m0.8 1.1h0m-119.2 6.3h0m0.1-1.8h0m0.1 3.2h0m0.2 1.4h0m0.2-1.1h0m0.2-0.4h0m0.1-0.4h0m0.3-2.2h0m54.9-0.2h0m1.1-1.4h0m0.2 1.6h0m0.3-0.3h0m0.5-0.2h0m1.1 2.2h0m0.1 0.9h0m0-2.4h0m0.8 2.8h0m0.1-4.4h0m0.2-0.2h0m0 2.9h0m2.2-2h0m0.1 1.6h0m0.6 0.5h0m0.6-0.3h0m0.9-2.7h0m0.1 0.4h0m0.1-0.5h0m43.1 0h0m2.7 0.3h0m-109.5 7.9h0m0.3-2.2h0m58 11.1h0m1.1 0.4h0m0.1-0.6h0m0.1 0.7h0m0.3 0h0m0.3-0.8h0m0.6-1.1h0m0.1 1.3h0m0.2-2.4h0m0.9 0.3h0m0.2 1.3h0m0.6 1h0m0.4-2.4h0m0.2 0.1h0m0.3-1.9h0m0.9 0.9h0m1.1-0.4h0m1.1-0.8h0m0.2 0.2h0m0.1 1.3h0m0.2-1.3h0m0.2 0.9h0m2 0.7h0m0 0.2h0m0 0.4h0m0.8-2.3h0m0.1 2.4h0m0 1.6h0m0.4-2.8h0m0.2 2.8h0m0.2 0.4h0m0.1 0.6h0m0.3-0.9h0m0.4 0.2h0m0.2-0.7h0m0.4-0.1h0m0.1-0.4h0m0.3 2h0m0.2-0.2h0m0-2h0m0.1 0.5h0m0.3-0.1h0m0.9 0.9h0m0.2 0.8h0m0.5-1.1h0m0.1 0.5h0m-17.2 3h0m0.8-0.2h0m0.4-1.3h0m0.2 4.8h0m0.1-5.4h0m0.2 2.3h0m0.1 2.5h0m0.1-0.9h0m0.1-2.1h0m0 1h0m0-0.5h0m0 1.2h0m0.2 0.8h0m0.4-0.8h0m0.1-2.7h0m0.2-0.4h0m0 1.3h0m0.7-0.5h0m3.3 4.4h0m2 0h0m0.2-0.7h0m0.4-0.7h0m0.7 0.6h0m0.2 0.7h0m0.3 0.2h0m0.5-0.1h0m0.4-0.5h0m0.2-0.4h0m0.8 0.6h0m0.3 0.1h0m0.2 0h0m0.4-0.5h0m0.7-0.3h0m0.2 0.4h0m0.2 0.5h0m0.7-4.2h0m0.3 2.1h0m0.2-3.2h0m0.3 4h0m0.3-3.3h0m1 0h0m0.4-0.5h0m49.9 4.4h0m-116.1 6.6h0m1.9-1.7h0m0.3 0.2h0m0 1.8h0m0.1-4.5h0m0.3 0.7h0m0.1 3.4h0m0.5-4h0m0.9 3.2h0m0.2-3.5h0m0.3-0.3h0m0.5-0.3h0m0.1 1.2h0m0.1-1.4h0m0.2 2h0m1.8-0.1h0m0.2 0.1h0m0-0.8h0m0.6 0.3h0m0-0.4h0m0.3-0.2h0m0.2-0.6h0m0.1-0.2h0m0.6 1.4h0m2.3-0.4h0m0.4 2.6h0m0.4-2.1h0m0.1 1.7h0m0.3-1.5h0m0.1 3.1h0m0-2.8h0m0.1 0.9h0m36.1-2.6h0m3-0.4h0m2.1 0.4h0m0.2 0.4h0m2.1-0.4h0m0.5 0.1h0m0.4-0.8h0m0.4 0.1h0m0.5-0.1h0m0.4 1.8h0m2.4-1.8h0m0.1 4.4h0m30.1 1.3h0m0.2-1.1h0m0.2 1.2h0m0.2-0.1h0m0.1-0.7h0m0.2 0.4h0m0.1-2.1h0m0.2 1.7h0m0-1.3h0m0.1 0.9h0m0.4 0.7h0m0.1-2.9h0m0.5 1.1h0m0-0.4h0m0 1.1h0m0.2-1.8h0m0.1 3h0m0.2-0.9h0m0.5-1.2h0m1.5-1.7h0m1 0.1h0m0.4 1h0m0.5-0.1h0m2.3-0.7h0m0.1 0.2h0m0.3-0.5h0m0.8-0.1h0m0.1 0h0m0.2 0.3h0m0.1 0.2h0m0-0.8h0m0.3 1.2h0m0.8-0.7h0m0.6 0.6h0m0.4 0.2h0m0.2-1.8h0m0.2 0.9h0m0.1 1.1h0m0-1.5h0m0.4 1.3h0m0.1 0.3h0m0.3-1.1h0m0.2 2.8h0m0.1-2.5h0m0.8 1h0m0.1 0.3h0m0 1h0m0.1 0.4h0m0.4 0.9h0m0.3-0.5h0m0.2-0.3h0m0.2 1h0m1-0.7h0m0.2 0.8h0m0.6-0.1h0m0.1-4.1h0m0.3 1.2h0m0.1 0.4h0m0 1.8h0m0.2-0.6h0m0.1-0.6h0m0.2 1.2h0m0.6-2.5h0m0.1 1.1h0m0-0.4h0m0.2-0.3h0m0.3-0.1h0m0.1-1.9h0m0.1 0.3h0m0.1 1.5h0m0-0.1h0m0-1h0m0.1 0.7h0m0.2-0.8h0m0.2 0.6h0m0.2-1h0m0.4 1.3h0m0.3-0.5h0m0-0.8h0m0.2 1.4h0m0.2-1.6h0m0 1.8h0m0.2-2.6h0m1.8 1.9h0m0-0.5h0m0.7-1.2h0m0.1 0.7h0m0.7 0.6h0m0.4-0.2h0m0.9-0.5h0m0.3 1.6h0m0.6 3h0m0.2-2.1h0m0-0.3h0m0.6-0.9h0m-118.7 5.7h0m0.8-0.8h0m0.4 2.6h0m0.1 0.4h0m0.1-1.8h0m0.1 0.2h0m2.3 1.7h0m0.1 0.7h0m1.8-0.1h0m0.3 0.4h0m0.4-0.4h0m0.2-0.1h0m0.1 0h0m0.1 0.3h0m0.1 0.6h0m0.2-0.2h0m0.2 0.1h0m0.3 0h0m0-1h0m0.2 0.2h0m0.9-0.7h0m0.1 0.2h0m0.1 1.1h0m0.2-1.6h0m0.3-0.5h0m0.2 2.4h0m0.4-2h0m0.3-0.2h0m0 0.2h0m0.4-2.5h0m0 2.6h0m0.4-0.8h0m0.1-0.7h0m0.1-1.9h0m0.1-0.3h0m0.1 2.7h0m0.1-0.5h0m0-0.5h0m0.5-0.8h0m0.1 1.4h0m0.1 0.9h0m0.3-0.4h0m0 0.6h0m45-2.3h0m1.5 3.1h0m0.1-2.7h0m0.4 0.6h0m0.3-1.8h0m0.2-0.1h0m0.1 1.4h0m27.6-0.1h0m0.1-0.4h0m0.4-1.2h0m0.1 0.9h0m0.4-0.4h0m0.2 0.7h0m0.6 1.9h0m0.5-1.8h0m0.1 1h0m0.1-2.4h0m0.3 3.2h0m0.1-0.5h0m0 0.1h0m0.9-0.1h0m0.4-0.5h0m0.6 0.1h0m0.1-0.4h0m0.3 1h0m0-0.5h0m1.2-0.1h0m0.4-0.2h0m0 0.9h0m0.3 0.6h0m0.6 0h0m1.4-0.4h0m0.2-0.2h0m1.2-0.8h0m0.9 1h0m0.1-0.2h0m0.5-0.8h0m0.3-0.3h0m1.7-0.3h0m0-0.7h0m0.2 0.7h0m2.2-1.6h0m0.2 0.7h0m0.2-0.5h0m1.7 1h0m1.6-0.3h0m0 0.2h0m1.1 2.3h0m0.1-1.1h0m0.4 0.6h0m0.2-2.1h0m0.2 0.3h0m0.6 3h0m0.9 1h0m0.1-0.4h0m0.8-0.9h0m0.1-0.4h0m0.4 2.1h0m1.3-2.6h0m0.6 1.8h0m0.2-1.5h0m0 0.9h0m0-0.9h0m0.2-0.6h0m0.4 1.3h0m0.1-2h0m0.2 0.7h0m0.4-0.6h0m0.1-0.2h0m0.1 2.1h0m0-3.7h0m0.5 1.9h0m0-2.1h0m0.2 1.5h0m1.5-0.1h0m-113.2 5.9h0m1.4-1h0m0.2 0.1h0m0.5-0.4h0m0.7 5.3h0m0.1-5h0m0 2h0m0 0.7h0m0.1 1.7h0m-1.1 3.1h0m0.3-1.6h0m0.3 0.4h0m0.8 2.3h0m0.1-1.8h0m54.5 2.3h0m0.3-1.4h0m1 1.2h0m0.3-2.9h0m0.3 0.4h0m0 0.8h0m0.4 0.7h0m0.1 1.7h0m0.2 1.1h0m0.5-1.2h0m-13.9 19.7h0m0.1-1.6h0" fill="none" stroke="#e3281b" stroke-width="1.6" stroke-linecap="round"/>
</g></g>
<g id="e1g" clip-path="url(#ce)"><g filter="url(#warp)">
<g filter="url(#gtex)" fill="#17a33b" stroke="#17a33b"><ellipse cx="11.7" cy="76.2" rx="16.3" ry="28.9" stroke="none" opacity="0.23"/><ellipse cx="45.2" cy="98" rx="32.2" ry="33.9" stroke="none" opacity="0.22"/><ellipse cx="97.2" cy="82.9" rx="32.2" ry="32.2" stroke="none" opacity="0.22"/><ellipse cx="67" cy="139.9" rx="55.7" ry="17.2" stroke="none" opacity="0.23"/><ellipse cx="140.7" cy="106.4" rx="13" ry="25.5" stroke="none" opacity="0.2"/><ellipse cx="132.3" cy="51.1" rx="16.3" ry="20.5" stroke="none" opacity="0.21" transform="rotate(-30 132.3 51.1)"/><ellipse cx="75.4" cy="51.1" rx="18.8" ry="10.5" stroke="none" opacity="0.21"/><ellipse cx="144.1" cy="9.2" rx="10.5" ry="8.8" stroke="none" opacity="0.23"/><ellipse cx="5" cy="27.6" rx="4.7" ry="4.7" fill="none" stroke-width="4.1" opacity="0.7"/><ellipse cx="55.3" cy="30.2" rx="7" ry="7" fill="none" stroke-width="3.9" opacity="0.52"/><ellipse cx="83.8" cy="12.6" rx="6.4" ry="7" fill="none" stroke-width="3.6" opacity="0.38"/><ellipse cx="118.9" cy="4.2" rx="4.6" ry="4.6" stroke="none" opacity="0.25"/><ellipse cx="144.1" cy="11.7" rx="6.8" ry="4.6" stroke="none" opacity="0.56"/><ellipse cx="82.1" cy="41" rx="2.1" ry="4.1" stroke="none" opacity="0.08"/><ellipse cx="135.7" cy="41" rx="10.5" ry="3.8" stroke="none" opacity="0.56" transform="rotate(-40 135.7 41)"/><ellipse cx="126.5" cy="66.2" rx="7" ry="8" fill="none" stroke-width="4.1" opacity="0.85"/><ellipse cx="21.8" cy="61.1" rx="10.9" ry="7.5" fill="none" stroke-width="4.1" opacity="0.66"/><ellipse cx="6.7" cy="66.2" rx="7.5" ry="12.6" fill="none" stroke-width="4.1" opacity="0.7"/><ellipse cx="38.5" cy="82.9" rx="9.7" ry="9.7" fill="none" stroke-width="4.1" opacity="0.61"/><ellipse cx="33.5" cy="101.3" rx="8" ry="10.9" fill="none" stroke-width="4.1" opacity="0.64"/><ellipse cx="16.8" cy="93" rx="4.1" ry="4.1" stroke="none" opacity="0.6"/><ellipse cx="13.4" cy="99.7" rx="6.8" ry="4.6" stroke="none" opacity="0.39"/><ellipse cx="88.8" cy="66.2" rx="13.8" ry="9.6" stroke="none" opacity="0.37"/><ellipse cx="75.4" cy="77.1" rx="4.1" ry="3.1" stroke="none" opacity="0.54"/><ellipse cx="98.8" cy="89.6" rx="15.9" ry="16.8" fill="none" stroke-width="5.9" opacity="0.68"/><ellipse cx="93.8" cy="103" rx="9.6" ry="9.6" stroke="none" opacity="0.5"/><ellipse cx="63.7" cy="111.4" rx="7.5" ry="8" fill="none" stroke-width="4.1" opacity="0.69"/><ellipse cx="46.9" cy="116.4" rx="11.3" ry="6.3" stroke="none" opacity="0.5"/><ellipse cx="36.9" cy="120.6" rx="6.3" ry="9.6" stroke="none" opacity="0.5"/><ellipse cx="145.7" cy="104.7" rx="7.5" ry="8" fill="none" stroke-width="4.1" opacity="0.54"/><ellipse cx="142.4" cy="118.1" rx="6.8" ry="2.9" stroke="none" opacity="0.06"/><ellipse cx="113.9" cy="111.4" rx="5.1" ry="5.1" stroke="none" opacity="0.55"/><ellipse cx="93.8" cy="120.6" rx="13.8" ry="4.1" stroke="none" opacity="0.5" transform="rotate(-20 93.8 120.6)"/><ellipse cx="80.4" cy="139.9" rx="20.5" ry="6.3" stroke="none" opacity="0.5" transform="rotate(-12 80.4 139.9)"/><ellipse cx="55.3" cy="143.2" rx="13" ry="7.9" stroke="none" opacity="0.46"/><ellipse cx="30.2" cy="146.6" rx="13" ry="7.9" stroke="none" opacity="0.42"/><ellipse cx="21.8" cy="134.8" rx="5.1" ry="5.1" stroke="none" opacity="0.33"/><ellipse cx="73.7" cy="151.6" rx="10.5" ry="4.1" stroke="none" opacity="0.6"/><ellipse cx="3.4" cy="123.1" rx="2.4" ry="3.4" stroke="none" opacity="0.72"/><ellipse cx="77.1" cy="96.3" rx="5.4" ry="28.9" stroke="none" opacity="0.18"/><ellipse cx="60.3" cy="103" rx="63.7" ry="55.3" stroke="none" opacity="0.05" filter="url(#b5)"/><ellipse cx="48.6" cy="62.8" rx="12.6" ry="9.2" stroke="none" fill="#000" opacity="0.8" transform="rotate(-20 48.6 62.8)"/><ellipse cx="100.5" cy="87.1" rx="7" ry="8" stroke="none" fill="#000" opacity="0.8"/><ellipse cx="67" cy="96.3" rx="10.1" ry="9.2" stroke="none" fill="#000" opacity="0.8"/><ellipse cx="113.9" cy="51.1" rx="9.2" ry="6.7" stroke="none" fill="#000" opacity="0.8"/><ellipse cx="124" cy="103" rx="9.2" ry="10.1" stroke="none" fill="#000" opacity="0.8"/><ellipse cx="21.8" cy="119.8" rx="10.1" ry="6.7" stroke="none" fill="#000" opacity="0.8" transform="rotate(20 21.8 119.8)"/><ellipse cx="51.9" cy="129.8" rx="11.7" ry="5" stroke="none" fill="#000" opacity="0.8" transform="rotate(-20 51.9 129.8)"/><ellipse cx="103.9" cy="136.5" rx="15.1" ry="8.4" stroke="none" fill="#000" opacity="0.8" transform="rotate(-20 103.9 136.5)"/><ellipse cx="6.7" cy="46.1" rx="7.5" ry="6.7" stroke="none" fill="#000" opacity="0.8"/></g>
<path d="m79.9 5.6h0m2.1 0.1h0m5.3 0.2h0m29.5-4h0m1.7 0.2h0m0.6 1.5h0m0.4-2.6h0m0.6 0.5h0m0.9 2.9h0m0.8-0.7h0m0.3-0.4h0m-45.5 5.8h0m0.6 1.4h0m0.2-2h0m0-1.6h0m1.1 0.5h0m2.1-0.5h0m1.6 0.3h0m0.5-0.8h0m0 0.4h0m1.8-0.4h0m1.1 0h0m0 0.6h0m0-0.6h0m0.2 1.5h0m0.9-1.7h0m3.4 1.3h0m0.1 1h0m0 2.1h0m1 0h0m25.4-3.5h0m3.3 0.7h0m17.5-0.2h0m1.1 2.2h0m0.1 1.1h0m0.4 0.5h0m0-0.6h0m0.3-1.3h0m0.7-0.4h0m0.7 0.7h0m0.5 1.8h0m0.5-3.4h0m0.1 3.3h0m0.3-1.8h0m0 0h0m0.4 0.7h0m0.5-0.6h0m0.2 1.3h0m0.2-0.7h0m0 1.5h0m0.1-5.7h0m0 0.9h0m0.5 2.2h0m0 0.8h0m1.4-3.3h0m1.9 2.8h0m0.5 2.2h0m0.1-2.6h0m0.6 2.2h0m0.5-4.2h0m0 3.8h0m0.4 0.2h0m0.4 0.8h0m0.2-0.3h0m-73.1 1.6h0m0.4-0.4h0m0.6 0.7h0m0.4 0.5h0m0.2-0.1h0m0.4 0.1h0m0.2-0.1h0m6.8 3.3h0m1-2.1h0m0.9 1.8h0m0.7-0.9h0m0.3 1.7h0m0.7-5h0m1.4-0.3h0m46.8 1.7h0m0.7-0.9h0m1.4-0.9h0m0.2 0.5h0m0.3 0.1h0m1.2 0.1h0m0.8-0.8h0m0.1 2.3h0m0.2-1.9h0m0.5 1h0m0-1.5h0m1.4 1h0m0 1.3h0m1.6-2.1h0m0.9 1.1h0m1-1.5h0m0.6 1h0m0.8-0.3h0m-148 11.3h0m0.4-1.6h0m0.1 1.1h0m0.7-1.2h0m0.9 0.9h0m0.1 0.5h0m0.8-2.9h0m0.7 2.7h0m0.2-1.4h0m1 1.7h0m0.6-0.5h0m0 0.6h0m43.9-1.1h0m2.6 0.1h0m0.3 0.2h0m0 0.7h0m2.4 0.1h0m0.2-0.5h0m1.2-0.6h0m0.2 1h0m0.8-0.7h0m0.3 0.7h0m22-4h0m0.2 0.4h0m0.9-0.1h0m2.1 0.5h0m0.5-1.3h0m0.5 1.5h0m0.1-1.9h0m1.3-0.1h0m-85.8 9.8h0m0.1-0.8h0m0.4-1.8h0m0.3-1.1h0m0.1 2.7h0m0.7 0.7h0m4.4-3.1h0m2-1h0m0.8 4.6h0m0.1 0.1h0m0.1-1.2h0m0.4-3.2h0m0.5 2.8h0m0.3 0.6h0m0.2-0.3h0m0.1-0.3h0m36.6 0h0m0.3-1.4h0m0.8-0.7h0m1.4-0.1h0m0.6 0.8h0m0.1-1.1h0m0.2-0.1h0m0.8 0h0m1.8 0.1h0m1.6 0.4h0m3.1-0.5h0m2.5 4.7h0m0.5 0h0m0.5-4.1h0m0.5 3.8h0m0-1.6h0m-61.8 4.1h0m0.3 0.1h0m0.2-0.3h0m0-0.3h0m0.3 0.2h0m0.6 1.3h0m0.3-0.5h0m0 0.6h0m0.2-2.5h0m0.4 3h0m0.2 1.2h0m0-2.2h0m0.5-0.6h0m0.7-0.2h0m1-0.2h0m0.2-0.8h0m0.5 1.2h0m0.3 0h0m0.7-0.3h0m0.1-0.4h0m0.2-0.7h0m0.7 1.5h0m0.3-0.8h0m0.5-0.8h0m1.3 0.1h0m38.2 1.3h0m1 1.2h0m0.2 0.4h0m0-0.1h0m1.1-0.2h0m0.2 3h0m0.4 0h0m0.3-1.8h0m0-0.5h0m0.2 0.8h0m0.1 1h0m0.4-1.7h0m0.2 1.7h0m7-1.2h0m0.4 0.5h0m0.2-1.5h0m0.4-1.8h0m0.2 0h0m0 2h0m0.1 2.1h0m0.2-4.7h0m0.3 0.5h0m0.2-0.3h0m0.1 0h0m0.7 0.8h0m61.2 2.5h0m8 0.5h0m3.3 0.2h0m1.1-0.9h0m0.2 0.7h0m3.5 0.9h0m2.5-0.5h0m0.9-0.3h0m-91.6 1.9h0m1.4 0.9h0m1.3 0h0m2.2-0.9h0m0.3 0.9h0m1.1 0.6h0m0.4-1.2h0m0-0.1h0m1.3 0.3h0m13.8 4.4h0m2.3 0.1h0m2.6-0.1h0m4.3-2.9h0m0 1.8h0m41.3-1.2h0m4.3-2.2h0m5.5 2.2h0m0.4-0.9h0m0.2 2.8h0m0.6-3h0m1.6 1h0m0.9-2h0m0.3 4.7h0m0.1-4.1h0m0-0.9h0m0.6 3.2h0m0.1-3.6h0m0.3 1.9h0m0.8 2h0m0.2 1h0m0.3-0.9h0m0.1-4.3h0m0.7 1h0m0.2 1.7h0m0.7 0.6h0m0.3-2.9h0m1.1 0h0m0.2 0.7h0m-76.5 9h0m4.8 0.3h0m1.2-4.5h0m3.3 4.8h0m0.5-0.7h0m3 1.1h0m3.1-2.8h0m0.7-1.3h0m44 2.8h0m1.8-1.1h0m0.6-0.2h0m0.2 0h0m0 1.6h0m0.4-4.3h0m0.3 2.4h0m0.8 1.9h0m0.1-2.5h0m0.1-1.7h0m0.2 1.6h0m0 3.2h0m0.1-2.7h0m0.2-1.5h0m0.1 3.3h0m0.4-3.7h0m0.4 2.3h0m0.1 2.2h0m0.5-2.2h0m0.8-2.3h0m0 3h0m0.4-2.3h0m0.1 1.7h0m0.1 0.9h0m0.1-0.9h0m0.2 0.6h0m0.4-2.6h0m0.1 4.9h0m0.6-5.5h0m0.9 1.8h0m7.1 0.7h0m1.9 1.1h0m-142.6 7.7h0m1.3-0.3h0m3.2-0.2h0m0.3 0.1h0m1.2-0.5h0m0.1-0.1h0m0.1 0.9h0m0.2 0.4h0m0.1-0.9h0m0.2 0.9h0m0.6-0.6h0m0.2-4.3h0m0.1 4.5h0m0.2 0.1h0m6.8 0.1h0m4.9-1.1h0m0.6 0.4h0m0-0.3h0m0.1 0.4h0m0.4-0.2h0m0.1 0.5h0m0.2-1h0m0.4 0.2h0m1.5 0.3h0m1 0.7h0m30-3.8h0m4.3 2.4h0m4.2 0.1h0m1.7-2.8h0m9.9 3.8h0m2.6 0.7h0m8.1 0.1h0m2.4-4.8h0m2.1-0.6h0m24.8 2.3h0m6.9 0.5h0m2.4-0.4h0m8.4 2.2h0m0 0.3h0m1.2-4.4h0m-135.7 9.3h0m0.3 0.5h0m0.2-3.7h0m0.1 2.3h0m0 0.6h0m0.3-2.5h0m0 3.9h0m0.1-1.1h0m0.3-1.5h0m0.1-2.1h0m0.1 3h0m0.1-2.2h0m0.3 0.9h0m4.1-0.6h0m1 1.7h0m0.2-3.5h0m0.5 6h0m0.6-5.6h0m0.4 3.9h0m0.7 1h0m0.1-3.7h0m0.5 4.1h0m0.1-5.1h0m0.6 3.5h0m0.2-3.5h0m0.4 3.7h0m0-2.8h0m0.1-0.3h0m0.2-0.6h0m0 2.5h0m0.3-0.1h0m0.3 0.6h0m0.1 0.5h0m0-3.2h0m0 5h0m0.1-3.8h0m0.1 1.3h0m0.1 2.6h0m0.3-2.9h0m0.2-0.2h0m1.6-0.5h0m0.6-0.5h0m0.6 1.3h0m0.1-0.5h0m0 1.4h0m0.1-2.1h0m0.3 0.2h0m0.6-0.5h0m0.2-0.6h0m0.2 0h0m0.2 0h0m0.6-0.9h0m6.5 0.6h0m1.5 4.2h0m1.4-3.8h0m0.4 1.8h0m0.1-2h0m0.3 1h0m0.8-1.3h0m0.4 1.7h0m0.2 1.8h0m0.4 0.9h0m0.3-0.2h0m0.4-0.5h0m0.2-0.3h0m0.3-1.2h0m0.1 0.9h0m0.6 2.1h0m27.8-5.1h0m1.5 0.4h0m2.8 0h0m8.2-0.6h0m6.8 1.1h0m1.3 3.7h0m1-5.1h0m0.6 4h0m0.3 0.9h0m0.7 0.2h0m0.9-5h0m0.5 4.9h0m1 0.3h0m0.6-1.6h0m1.4-1.6h0m2.6 0.9h0m0.4 0.1h0m1.1 2.2h0m0.1-0.4h0m0.4-2h0m0.2 0.9h0m1.7-0.1h0m0.6 0.9h0m2.2 0.7h0m18.8-0.3h0m2.6-1.4h0m2.7 0.6h0m2.2 1h0m0.6-0.5h0m1.7-2.3h0m0.1 0.3h0m0.6-0.3h0m0.2 1.1h0m0.3-3.1h0m0.2 4.9h0m0.3-3.2h0m0.2 1.5h0m0.1-1.9h0m0 1.4h0m0.2 1.1h0m0.1-0.5h0m0.2 1.3h0m0.2 0.2h0m0.3-2.1h0m0.3 1.1h0m0 0.4h0m0.4-0.9h0m0.3 1.1h0m0.5 0.5h0m8.4-0.1h0m3.4-0.7h0m1.2 0.3h0m-142.8 1.8h0m1.3 0.3h0m0.8 2.7h0m4.2-1.6h0m0.3 0.7h0m0.8 1h0m0.1-1.9h0m0.9-1.6h0m0.2 2.3h0m0.1 0.7h0m0.1-1.8h0m0.3 1.8h0m0.6-0.8h0m0.1 0.7h0m0.1-1.2h0m0.1-1.1h0m0 0.4h0m0.1 1.1h0m0.4 2.5h0m0.3 0.4h0m0.2-1.2h0m0.2-0.3h0m0.4 0.8h0m0.1-3.9h0m0 3.2h0m0.4 1.4h0m0-2.1h0m0.1 1.4h0m0.3-0.8h0m0.2-3.1h0m0.2 5.1h0m0.2-0.3h0m0.6 0h0m0.3 0h0m0.2 0.2h0m0.4-1.1h0m0.1 0.2h0m0.2 0.8h0m0.4-2.1h0m0.9 2.2h0m4.6-2.3h0m8.1 1.8h0m0.2-5.1h0m0.1 2.8h0m0.1 1.6h0m0.6-0.5h0m0 1.3h0m0.5-1h0m0.1 1.2h0m0.2-1.5h0m0.5-2.6h0m0.3 2.5h0m0.1-2.6h0m33.7 0.4h0m9.4 3.1h0m0.5-0.1h0m0.1-1.1h0m0.5 1.8h0m0.2-2.6h0m0.1 2.2h0m0.8-5.1h0m0.7 0.6h0m0.4 0.4h0m1.1 4.2h0m0-2.8h0m0.2 1.6h0m0.1-3.3h0m0 3.5h0m0.2-2.3h0m1.3-1.8h0m0.1 2.1h0m0.3-1.7h0m0.3 1.2h0m0.1-0.8h0m1.9 3.6h0m0.1-0.8h0m1.1-2h0m1.4 1h0m0.4-0.9h0m0.6 2.6h0m1 0.7h0m0.6-3.3h0m0-0.8h0m0.1 4h0m0-3.3h0m0.1 1.8h0m0.2-2.7h0m0 1.2h0m0 2.9h0m0.3-0.9h0m0.5-1.4h0m0.2 2.1h0m0.1 0.4h0m0.2-2.1h0m0.4-2.7h0m0.1 4h0m0.3-1.2h0m0.2-0.9h0m0.4 2.6h0m0.3-0.4h0m0.1 1.3h0m0-4.4h0m0.5-1h0m0.7 2.8h0m1.1-1.9h0m0.1 2.8h0m0.1 1.8h0m0.2-3.2h0m0.2-2.6h0m0 5.8h0m0.3-5h0m0.8 2.2h0m0.4 1.1h0m0.3 0h0m0.7 0h0m0.2-1.8h0m1.1 3.1h0m0.1-0.1h0m0.2-1.1h0m1.2 0.1h0m0.2 0.7h0m6.2-2.9h0m1.5 3.5h0m1.4 0.2h0m1.3-1.7h0m0.2-1.1h0m3.2 2.1h0m3.8-0.6h0m0.1-3.1h0m0.4 1.9h0m0.1 0.7h0m0-0.7h0m0.1-2.1h0m0.5 4.1h0m0.1-0.3h0m0.4-3.6h0m1.5-1.4h0m4.4 0.7h0m3.4 0h0m0.3 2.5h0m0.1-0.6h0m0-1.8h0m0 0.6h0m0.1 1.4h0m0.2-0.1h0m0.3-0.9h0m0 0.3h0m0.1 0.7h0m0.1-0.4h0m0 1.7h0m0.1-4.1h0m0.1 4.2h0m0 0.6h0m0.2-1.4h0m0.2 0.7h0m0.1 1.2h0m0.1-1.5h0m0.3 1.1h0m0.3-1.1h0m0.1 1.9h0m0.2-0.2h0m0.2 0.1h0m13.5-1.8h0m0.9-3.1h0m-146.6 7.9h0m3.5-0.6h0m5.9 0.1h0m1.8-0.8h0m0.7-0.6h0m0.1 1.9h0m0.3 1.8h0m0.2-3.1h0m0.2 4h0m0.3-1.3h0m0.3-1.9h0m1.3-1.6h0m1.3 2.1h0m0.4-2.4h0m0.3 0.4h0m0.2-0.4h0m1.9 1.8h0m0.1-0.2h0m1.9 0.1h0m1.4 1.3h0m0.6 0h0m0.3-0.4h0m0.3-0.6h0m0.5 0.6h0m0.5 0.6h0m0.6 0h0m0.6-1.6h0m1.1 0.7h0m0-0.5h0m0-0.2h0m0.3 1h0m0.4-0.8h0m0.2 0.5h0m0.7-1.1h0m0.2-0.6h0m0.4 0h0m0.5-0.1h0m0.6 0.5h0m1.4-1.3h0m3 1.7h0m0.7 4.1h0m0.3-0.5h0m1-0.4h0m0.9 0.9h0m0.6 0.2h0m0.6-1.1h0m32-2.6h0m0.4 0.6h0m3.2 1.5h0m0.4 0h0m1.3-2.9h0m0.6 2.3h0m0.6 2h0m0.1-1.6h0m0.2-1.8h0m0.6-1.8h0m0.4 1.4h0m0 2.2h0m0.8-3.5h0m0.5 1.9h0m0.1 1.2h0m0.3-3.4h0m1.2 1.5h0m0.7 1.4h0m0.7-0.6h0m0.8 2.3h0m0.6 1h0m0.1-1.7h0m2.2-3.7h0m0.5 0.5h0m0.1 0.2h0m0.3 1.4h0m0.3-1.8h0m0.4-0.7h0m0.2 2.2h0m0.5 3.1h0m0.4-4.6h0m1.1 3.8h0m0.3-1.5h0m0-0.4h0m0.3-0.8h0m0.3-0.2h0m0.5 1.4h0m0.6 1.4h0m0.2 0h0m0-3.2h0m0.2-0.4h0m1.5 3.4h0m0.2-2.5h0m0.1-0.6h0m0.4 4.7h0m0.1-0.8h0m1.2-0.4h0m0 0h0m0.1 0.6h0m0.5-3.8h0m0.5 3.8h0m0.2-1.3h0m0.5 0.4h0m0.7-0.9h0m0.1 0.3h0m7.8-3h0m6.7 4.3h0m1.9-5.1h0m0.2 0h0m2.6 3h0m0.3-3h0m0.5 0.1h0m0.6 1.3h0m0.3 0.1h0m0.1 3.5h0m0.1 0.6h0m0-5h0m0 1.8h0m0.3-2.5h0m0 1.6h0m0-0.4h0m0.2-1h0m0.1 3.1h0m0.1 2.5h0m0.1-2.5h0m0.7-1.5h0m0.1 0h0m0.4 2.8h0m0 0.5h0m1.1 0.3h0m0 0h0m0.1 0.5h0m0.7-1.1h0m6.7-3.9h0m0.4 3.2h0m0.3-3h0m0.1 1.7h0m0.1-1.6h0m0.2 3h0m0.2-0.8h0m0.1-2.1h0m0.5-0.3h0m0.2 4h0m0.2-1h0m0.2-3.2h0m0 1.1h0m0.1-0.2h0m6.8-1.5h0m-139.4 8.2h0m0.1-2.1h0m0.3 1.2h0m0.1-0.1h0m0.4 2.8h0m0.1 0.9h0m2.5-1.2h0m4.1 1.6h0m1.3-0.6h0m0.2-1.8h0m0 1.7h0m0.3-1.2h0m0.4-0.2h0m0.1 1h0m0.4-1.3h0m0.1-1.2h0m0.3-0.5h0m0-0.3h0m0 2.3h0m0.2 0.7h0m0.6-1.6h0m0.7-0.6h0m0.2-0.3h0m0.6-1.3h0m1.5 3.5h0m2 1.5h0m1.3-1.2h0m2 1.4h0m1.1-4.8h0m1.7 2.2h0m4.8-2.7h0m2 4.1h0m0.6 0.1h0m0.3-0.9h0m0.6-1.7h0m0 0.8h0m0.1-1.5h0m1 1h0m1.1-1.3h0m0.9 0h0m0.1 0h0m0.7-0.6h0m0.1 2.6h0m0.7-2.5h0m0.5 0.6h0m0.1-0.3h0m1.2 0.6h0m0.5 0.1h0m0.3-0.3h0m0.1-0.9h0m0 4.6h0m1.5-4.2h0m0 0.8h0m0.3-0.9h0m0.2 0.6h0m0.1 1.1h0m0.2-1.3h0m0.3 0h0m0.1 1.9h0m0.1 0h0m0.2-0.3h0m0.1 3.4h0m0-4.4h0m0.3 2.4h0m0.9 1.7h0m0.1-0.8h0m0.3-1.2h0m1.6 2.5h0m0.1-1h0m0.3 0.5h0m0.5 0.4h0m0.7-0.2h0m0.2-1.4h0m8.4-0.6h0m10.2-1h0m3.1 2.3h0m3.2-0.5h0m0.6-1.4h0m0.1 2.6h0m0-2.3h0m0.6 0.5h0m0.1-0.3h0m0.2-0.4h0m0.8 1.9h0m0.6 0.1h0m0.2 0.3h0m0.2-0.4h0m0.1-3.8h0m0.5 3.4h0m0.2-0.6h0m1.4-0.6h0m0.1-0.3h0m0.1 0.8h0m0.2 0.7h0m2.6-3.3h0m0.3 4.5h0m0.3-4.7h0m0.5-0.3h0m0.7 2.5h0m0.8 2.2h0m0-0.4h0m0.2 0h0m0.6-4.3h0m0.7 1h0m0-0.1h0m0.2 4h0m0.2-4.1h0m0.5 0h0m1 3.2h0m2-4.4h0m0.2 1.1h0m0.5 0.1h0m0.7-0.9h0m0.6 0.4h0m0.3 1.7h0m0.3-0.1h0m0.2 0.4h0m0-1.3h0m0.2 1.3h0m0.1-1.2h0m0-1.8h0m0.1 2.9h0m0.1-0.4h0m0.7-2.5h0m0.7 2.2h0m1.2 3.1h0m0.6-4h0m0.2 2.1h0m0.1-0.4h0m0.4 0h0m0.1-0.9h0m0.6-1.2h0m0.4-0.5h0m0.3 1.3h0m0.1 3.5h0m0.7-1.3h0m0.1 0.1h0m0.3 1.2h0m0.3-1.8h0m0.2-0.4h0m0.7-0.7h0m0.3 3h0m1.6-1h0m0.4-1.9h0m0.4 0.9h0m0.3-0.5h0m0.2 0.9h0m0.1-0.8h0m0 1.2h0m0.1-1.6h0m0.8-0.5h0m0.3 2h0m0.4-1.1h0m0.1-0.6h0m0.2-0.9h0m0-0.7h0m0.3 2.5h0m0.3-2h0m0.1 2.1h0m0.5-1.8h0m0.2 0.6h0m0.3 1.4h0m0.2 1h0m0.3-1h0m0.2-1.5h0m0.3 1.9h0m0.4-2.9h0m0.1 1.4h0m0 1.9h0m0.2-2.8h0m0.2 2.7h0m0.8-1.9h0m0.1 0.7h0m0.5-3h0m0 3.5h0m0.1-0.5h0m0.5 2.7h0m0.4-3.4h0m0.4 2.2h0m0.1-1.3h0m0.4-2.7h0m1.5 4.6h0m0.1-0.8h0m0.1 0.5h0m0.7-4.6h0m0.7 3.7h0m0.8 1.2h0m0.3-4.2h0m3.5 4.7h0m1.2-1.6h0m0.3-3.7h0m0.6-0.4h0m0 1.3h0m0.1-0.4h0m0.7-0.1h0m0-0.1h0m0.3-0.8h0m0.4 2.4h0m0.1-0.7h0m0.4 2.4h0m0.4-2.6h0m0.1 0.2h0m0.3 3.8h0m0.3-4.3h0m0.2 1.3h0m0.2 0h0m1 0.2h0m0.3-1h0m0.1 1.1h0m0.2 0.3h0m0.4 1.9h0m0.8-2.1h0m0.5-0.7h0m0.2 2.1h0m0.1-0.8h0m0.2-0.4h0m0.4 0.7h0m0.3 0.1h0m0.7-2.4h0m0.5-0.5h0m0.1 2.7h0m0.3-2.8h0m1.1 2.1h0m-131.3 6.1h0m1.3-0.5h0m0.2-1.4h0m0.2 2.1h0m0.7-0.4h0m0.1-0.7h0m0-0.1h0m0.3 1.2h0m0.2 0.1h0m0.5-0.5h0m0.4-0.6h0m0.3 2.3h0m0.3-0.6h0m0-2.3h0m0 1.6h0m0.1-0.8h0m0.2-0.4h0m0.1 2.6h0m0-3.5h0m0 1.8h0m0.4 3h0m0.3-3.4h0m0.8-0.2h0m0 2.4h0m0.2-3.6h0m0.1 0h0m0.4-0.1h0m0.1 1.1h0m0.2-0.3h0m0.4 0.2h0m0.2 0.1h0m0.2-0.5h0m2.3 0.5h0m4.3 0.8h0m5-2.4h0m0.2 2h0m0.5 0.8h0m0.2-2.8h0m2 3.8h0m0.9-2.1h0m0.6-2h0m1.1 2h0m0.3 1.7h0m1.4-1.3h0m1.3 3.1h0m0.1-3h0m0.2-0.5h0m0.5 2.4h0m0.3-2.8h0m0-0.8h0m0.2 2.2h0m0.1-0.7h0m0.2-0.9h0m0 2.7h0m0.2-4h0m0.3 0.4h0m0.5 3.3h0m2.1-3.4h0m1.6-0.1h0m4.3 5.4h0m4.7-5.9h0m0 3.1h0m1.1 1.2h0m0.5 1.3h0m0-4.8h0m0.5 4.7h0m0.1-4.3h0m0.4 2.5h0m0-1.9h0m4.6-1.1h0m0.9 0.8h0m12.3-1h0m4.4 1h0m0.2 4.2h0m0.3-5.5h0m3.8 5h0m0-4.1h0m0.5 4.1h0m1.7-5h0m0.3 0.6h0m0 1.9h0m1.6 0.4h0m0.8 2.8h0m0.6-0.8h0m0.3-2.6h0m0.6 3h0m0.1-4.5h0m0.4 4.7h0m0.4-0.5h0m0.3-1.3h0m0.7 1.6h0m0.1-2h0m0.1-2h0m0.1 2.9h0m0.5-3.1h0m0.3 4.6h0m0.1-4.5h0m0 2.1h0m0.2 2.3h0m0-2.4h0m0.1-0.5h0m0-2.7h0m0.3 0.1h0m0.7 1h0m3.6 4.3h0m0.8 0.1h0m1.3-5.8h0m2.3 0.8h0m1 2.5h0m11.4-2.3h0m1.3 0.9h0m2.9 2.2h0m0.4-0.2h0m0.9-2.7h0m0.5-0.8h0m0.2-0.1h0m1.2 1h0m0.2-0.5h0m0.2 0.6h0m0 2h0m0.7 1.7h0m0.5-3.6h0m0 1.1h0m0.2-0.9h0m0 0h0m0.5 1.2h0m0 2.7h0m0.1-2.1h0m0.2-1.8h0m0 3.2h0m0.1-3.3h0m0 4.1h0m0.1-1.3h0m0 0h0m0.2-3.2h0m0.8 1.8h0m0.8 0.5h0m6.3 0.2h0m1.8-3.2h0m2.8 0.7h0m6-0.3h0m-132.5 6.1h0m1 1.4h0m0.4-2.1h0m1.1 2.5h0m9.8 2.4h0m0.9-4.8h0m1.5 5.5h0m0.4-5.2h0m5.1 3.6h0m1.6-3h0m1.9 2.7h0m0.6-0.9h0m2.9-0.6h0m0.6 1.6h0m0.5 1.2h0m0-2h0m0.1-1.1h0m0.8 2.1h0m0.3 0.2h0m0 0.9h0m0.2-1.2h0m0-1.4h0m0.5 2.9h0m0-1.1h0m0.4-1.7h0m0 0.7h0m0.1 1.3h0m0.5-0.1h0m0.2 0.1h0m0.4 0.1h0m0.3-0.5h0m0.1-3.9h0m0.1 5.2h0m0.2-0.6h0m0 0h0m0.2 0.6h0m1.3-0.7h0m2.8-0.6h0m2.5-4.4h0m0 0h0m0.8 5.1h0m0.1-4.7h0m1.6 3h0m1.5 0.5h0m0.2-2.4h0m0.1 4.3h0m1-4.3h0m0.5 2.2h0m2.6 1.3h0m9.6-3h0m7.1 0.6h0m0.3-1.7h0m8.4 0.9h0m0.7 1.4h0m0.8-1.6h0m2.4-1.2h0m0.4 3.2h0m0.9-1.3h0m1.1 1h0m1-1.7h0m0.1-0.3h0m0.5-0.2h0m0.2-0.6h0m0 1.9h0m0.3 2h0m0.1-1h0m0 0.5h0m0.2-0.2h0m0.2 0.4h0m0.1 1.7h0m0.1-0.6h0m0.6-2.2h0m0.5 1.7h0m0.1-0.5h0m0.1 1h0m0.1-2.6h0m1.3 2h0m0.6 0.6h0m1-2.4h0m1.1-0.2h0m3.5-0.9h0m0.3-0.1h0m18.1 3h0m1.6-0.1h0m0.2-3.9h0m0.1 1.4h0m0 1.4h0m1.6 1.1h0m0.2-1.8h0m0.5 0.8h0m0.2-0.1h0m3.1 1.2h0m2.6-3.5h0m1.7 3.4h0m0.3-1.2h0m11.2 0.2h0m2.5 0.3h0m4.3 0.9h0m-138.8 3.6h0m0.1 3.5h0m0.5-5.2h0m11.6 4.1h0m0-0.4h0m0.1-1.6h0m0.1-2.1h0m0.1 4.4h0m0-1.2h0m0.2 0.3h0m0 1.5h0m0.2-0.5h0m0.6-2h0m0.2-2.4h0m0 2.2h0m0.2 2.9h0m0.2-1.9h0m0.2-1.3h0m0.9 0.4h0m0.1 0.1h0m0.5-1h0m0 0.7h0m0.1-2.7h0m0.3 0.9h0m0.1 3.2h0m0.1 0.4h0m0.5-1.7h0m0.9-0.6h0m1 3h0m1.2-1.8h0m2.3-1.9h0m3 3h0m0.9-4h0m0.1 2.7h0m0.2-2.3h0m0.1 2.2h0m0.1-0.6h0m0.5-0.4h0m1.5-0.6h0m0.1-1.7h0m1.8 0.7h0m0.4 0.1h0m0.3-0.4h0m0.4 1.2h0m0.5-1.1h0m0.8 0.6h0m0.1 0.5h0m0.2 1.6h0m0.2 0.4h0m0.1-2.5h0m0.3 2.5h0m0.1-1.3h0m0.1 0.8h0m0 0.1h0m0.2-1.7h0m0 1.7h0m0.2 0.2h0m0-2h0m0.1 1.6h0m0-0.9h0m0.4 2.3h0m0.2-1.9h0m0 1.5h0m0.2-0.3h0m0.1 1.8h0m0.1-4.9h0m0.1 3h0m0 0.6h0m0.1-0.4h0m0.1-1.1h0m0-0.6h0m0.5 1.9h0m0.1-0.5h0m0.3-0.6h0m0 1.5h0m0.2-0.8h0m0.1-0.3h0m0.4-3.2h0m0.2 4.4h0m0.4 0h0m1.1-0.9h0m0.2 0h0m0-0.9h0m0.6 0h0m0.2 1.4h0m0.4 1.2h0m0.2-3.8h0m0.3 1h0m0.3 0.3h0m1.9-0.4h0m0.4-1.4h0m0.1-0.6h0m9.5 2.5h0m0.2-1.2h0m13.6 1.8h0m2.5 2.1h0m3-5.3h0m1.1 1.5h0m0.7 0.6h0m1.1 1h0m0.6 1.3h0m0.6-2.5h0m1.2 1.2h0m1.4-1.2h0m0 1.2h0m0.1-1.4h0m0.1-0.4h0m1.4-1.1h0m0 1.3h0m0.1 2.7h0m0.2-3.3h0m0.2 0.9h0m0.6-0.5h0m0.2 0.3h0m0.1 0h0m0.1 1.8h0m0.4-1.1h0m0.2-0.1h0m0.2 3.3h0m0-4.7h0m0.1-0.2h0m0 0.9h0m0.1 1.4h0m0-0.5h0m0.2-2.6h0m0 1.9h0m0.1 1.8h0m0.1-0.8h0m0.1 2.5h0m0-2.8h0m0.2-2.1h0m0.1 3.4h0m0.4-1.9h0m0 3h0m0.2-2.5h0m0.8 3.1h0m1.2-2.7h0m0.1 1.3h0m4.4 0.5h0m0-0.9h0m0.8-1.9h0m1.6 3.7h0m0.4-0.8h0m0.4 0.5h0m1.6-2.3h0m5.8-0.8h0m5.1 1.5h0m0.8 1.5h0m1.9-1.6h0m0 1.7h0m0.5-1.9h0m0.1-1.3h0m0.4 0.6h0m0 1.2h0m0.7 1.6h0m0.1-4.4h0m0.1 1.5h0m0.1 0.8h0m0.3-0.5h0m0.8-2.9h0m2.6 3.4h0m0.9-1.1h0m0.5 0.6h0m7.5 2.1h0m3.6 0.2h0m0-0.3h0m4.9-3.2h0m1.2 0h0m5.7 3.9h0m1 0h0m0.1 0h0m1.4-3.3h0m0-0.8h0m1.1 3.9h0m1.1-1.4h0m0.1 1.5h0m1.2-1.7h0m2 1.1h0m0.8-1.8h0m-149.8 3.2h0m1.2 2.3h0m0.1-1.6h0m4.7 3.6h0m0.8 0.2h0m0.1-0.6h0m0.5-2.5h0m0.3 1.3h0m0.3 1.7h0m0.5-1.6h0m0.6-0.9h0m1.6 1.8h0m0.2 0.2h0m0.2 1h0m0.3-0.4h0m0-3.1h0m0-1.2h0m0.1 0.9h0m0.4 0h0m0.8 0.5h0m0.2 1.4h0m0.9-1.2h0m0.3-1.4h0m0.2 0.4h0m0.2-0.4h0m0.2 3.2h0m1 0.5h0m1 0.9h0m0-2.2h0m0.2 1.4h0m0.2-1.6h0m1.1-0.5h0m2-1.3h0m0.1-0.5h0m0.2 3.2h0m2.4-1.1h0m0.6 3h0m0.2-0.7h0m0.2-4.2h0m0.1 4.6h0m0.4-1.8h0m0.1 1.9h0m0.1-3.7h0m0.1 4h0m0.1-2.6h0m0.1-1h0m0.4 0.7h0m0.1-0.4h0m0.2-0.2h0m0.2 0.7h0m0.5-1.4h0m1.1-1h0m3.7 3.3h0m0.3-0.9h0m1.4 0.7h0m0.6-3.2h0m0.5 4h0m5.8 0.2h0m0.3-0.9h0m0-2.4h0m0.1 2.6h0m0.1-0.4h0m0-2.1h0m0.1 1.6h0m0 2.4h0m14.9-1.5h0m0.4 0.9h0m7.2 0.7h0m11.8-2h0m1.2-2.7h0m1.5 3.2h0m0.1 0.9h0m1.8-2.4h0m0.8 0.6h0m0.2-1.1h0m0.5 3.2h0m0.2-4.4h0m1.6-0.9h0m0.5 4.9h0m1.5-4.5h0m0 1.6h0m0.1 2.5h0m0.4-1.8h0m0.3 0.3h0m0 1.9h0m0-4.7h0m0.1 3h0m0-1.2h0m0.4-1.9h0m0 2.4h0m0 0h0m0.1 0.2h0m0.1 2.1h0m0.1-3.9h0m0.4-0.5h0m0.1 2.8h0m0.1-0.9h0m0.1 3.1h0m0.2-1.5h0m0.3-1.5h0m0 3h0m0.4-3.8h0m0.3 4.2h0m0-3.4h0m0.1 2.2h0m0.2-0.4h0m0.1-0.7h0m0.2-1.2h0m0.1 3.2h0m0.5-5.3h0m1 0.2h0m0.3 5h0m0.1-0.2h0m0.4-1.1h0m0 1.1h0m0.1-0.5h0m0-1.3h0m1-2.5h0m0.1 2.9h0m0-0.7h0m0.4 1.3h0m0.3-3.2h0m0.2 3.3h0m0.4 1.3h0m0-2.2h0m0.1 2h0m0.1-0.2h0m0.1-3.6h0m0.3-0.9h0m0.1-0.6h0m0.1 3.3h0m0.2-2.6h0m0.8-0.3h0m0.2-0.7h0m0 1.8h0m0.6-1.6h0m0.4 2h0m0.3 1.6h0m0.1 0.2h0m0.7-3.2h0m0.3 2.6h0m0.2-1.4h0m0.2 0.6h0m0.3 1.1h0m0.4-0.3h0m5.4 1.8h0m1.2 0.1h0m0.5-0.2h0m0.2-0.4h0m0.3-0.5h0m0.2 0.6h0m0.3-0.7h0m1.4 1.7h0m0-4.9h0m0.5 2.2h0m0.4-1.6h0m0.3-0.7h0m0.1 0.1h0m0.2 4.7h0m0.2 0h0m0.4-4.3h0m0.1-1.2h0m0.1 2h0m0.1-0.3h0m1.4-1.3h0m21.3 3.2h0m3.3 1.2h0m0.4 0h0m1.5-0.7h0m0.5 1.3h0m0.2-4h0m0.3 2.1h0m0-0.6h0m0.5-1.3h0m0.1-1.3h0m2.8 2h0m0.2 2h0m1.4-1.5h0m0.4-2.9h0m1.2 2.6h0m0.1 0.6h0m0.2 0.8h0m0.1-0.3h0m0.9-0.5h0m0.2 0h0m0.4 0.7h0m0.6-1.4h0m0.6 1.5h0m0.2-0.4h0m-150.3 3.7h0m8.6-0.7h0m1.6 0.4h0m0.6 0h0m2.6 0.7h0m1.5-0.8h0m0.9 2.2h0m0.7-3h0m0 0.7h0m6.8 0.1h0m0.1-0.3h0m0.2 2.4h0m0.1-2.9h0m0.3 0.6h0m0.1-0.5h0m0 2.5h0m0.2-0.1h0m0.2 2.6h0m0.7-1.2h0m0.9 0.2h0m0.4-1.3h0m3.7 2.7h0m1.6-5h0m0.8 3.8h0m1.1-1h0m3-2h0m2.2 3h0m0.8 0h0m0.3-1.1h0m1.1 0.3h0m0.3-1.9h0m0.6 0.2h0m0.4-0.7h0m0.1 3.6h0m6.4 0.8h0m0.3-5.5h0m3.5 5.4h0m2.9-0.5h0m1.2-2.7h0m0 2.9h0m0.2-0.6h0m0.5 0h0m0.3-0.9h0m0 1.6h0m0.5-0.7h0m0.4-0.1h0m0.4-1.8h0m0.4-1.3h0m0.1 2h0m0.5-1.2h0m3.5-1.9h0m1.5 4.8h0m2.1-1.4h0m0.5 0.5h0m1.1-0.6h0m0.1-0.2h0m0.1 0.5h0m0.6 0.4h0m0.1 1h0m2-2.3h0m2.5 2.1h0m1.3-4.5h0m0.2 3.8h0m0.2-2h0m0.1-1h0m1 4.3h0m0.2-0.4h0m0-3.1h0m2.1 2.4h0m0.6-3.6h0m4.9-0.9h0m0.2 1.7h0m0.6-0.3h0m0.2 3.1h0m0.2-3.2h0m0.1 0.8h0m0.4 0.7h0m0.4-2.4h0m0.2 2.1h0m0.1-2.1h0m0.3 2.3h0m0 1.1h0m0.2-2.7h0m0.2 2.4h0m0 0.2h0m0.1-0.7h0m0.1-2.8h0m0.2 0h0m0.3 2.9h0m0.1-2.4h0m0.8-0.1h0m0.8 0.3h0m0.1 2h0m0.2-1.3h0m0 1.4h0m0.9-1h0m0.8 0.8h0m0.4 2.9h0m0.1-3.7h0m0.1 2.3h0m0.1-4h0m0.1 4.3h0m0 0.8h0m0.7-1.9h0m0.1 2h0m0.5-1.1h0m0.1-0.1h0m0.4-3.3h0m0-1.1h0m0.2 4.4h0m0.8-1.1h0m0.4-0.7h0m0.3 1.4h0m0.1-2.5h0m0 1.3h0m0.8-1.2h0m0 2.8h0m0.2 0.8h0m0.2 0.5h0m0.1-0.4h0m0 0.2h0m0.3-4.8h0m0.3 0.5h0m0.5 3.4h0m0 0.8h0m0.2-0.3h0m0.1 0.2h0m0-2.8h0m0.2 0.3h0m0.1 1.1h0m0.1-0.2h0m0.1-2.1h0m0.1 1.3h0m0.2-2.4h0m0 2.4h0m0.2-2.1h0m0.3 3.4h0m0 0.3h0m0.1-2.5h0m0.5 2.6h0m0 0.3h0m0.2 0.4h0m0-3.8h0m0 3h0m1.7-1.6h0m0.2 1.2h0m0.3 0.3h0m0.1-0.8h0m0.1 0.8h0m0.1 0.3h0m0-2.8h0m0.2-0.1h0m0.3 1.5h0m0.2-1.6h0m0.1 0.1h0m0.7 0.8h0m0.1-2.3h0m0.4 1.5h0m0.1-0.5h0m0 1.5h0m0.2 0.8h0m0.1-3.2h0m0.6 0.4h0m1.4-0.3h0m0.9 1.7h0m0.5 2.4h0m1.7-2h0m0.9 2.7h0m8.7-4.6h0m11 2h0m1.9-1.4h0m1.6 0.7h0m1.2-1h0m0.6 0.3h0m0.2 3h0m0 0.5h0m0.7-2.5h0m0.2 0.1h0m0.2-2.5h0m0.7 1.8h0m5.3 4.1h0m2.9-1.2h0m-132.8 2.7h0m1.5 2.3h0m9-3.2h0m0 0.3h0m1 1h0m0.1-0.5h0m0-0.5h0m0-0.3h0m0.1 0.6h0m0.5-0.7h0m0.7 1.1h0m0.9 2.6h0m0.7-1.9h0m0.2 0.1h0m2.5 0.1h0m0.2 2.4h0m0.1-0.6h0m0.8-0.1h0m0.7-2.2h0m0.2-0.2h0m0 3.2h0m0.5 0.3h0m1.1-0.2h0m0.2-1.2h0m0.2 1.9h0m0-2.4h0m0.3 1h0m0.4-0.9h0m0-2.7h0m0.5 3h0m0.1-2.8h0m0.2 1.2h0m0 1.2h0m0.1-0.2h0m0.1 0.7h0m0.3 0.5h0m0.2-1.7h0m0.1 0.8h0m0.1 0.2h0m0.3 0.1h0m0.1-1h0m0.1-2.1h0m0 3.1h0m0.8-1.7h0m0.4-1.8h0m0 3.7h0m0.2-3.3h0m0.2 4h0m0.8-0.6h0m0.9-0.7h0m0.6-0.2h0m0.3 2.4h0m0.4 0.4h0m0.4-0.1h0m0.6-2.2h0m0.2 0.4h0m0.1 1.3h0m0.3-1.3h0m0.6 1.1h0m1.4-1.3h0m0.2 1.4h0m0.2 0.1h0m0.2-2h0m0.7-2.8h0m0.1 3.7h0m1.1-0.6h0m0.2 1.9h0m0-1.3h0m0.9-1h0m0.1 0.7h0m0.4-3.1h0m1.1 3.1h0m0.5 0h0m0.2 0.3h0m1.7-0.2h0m0.6 0.4h0m0.1 1.3h0m0.2-4.4h0m0.1 1.2h0m0.4 0.2h0m0-1h0m0.1 1.5h0m0-0.1h0m0.1 1.6h0m0.1 0h0m0.1 0.5h0m0.4-0.4h0m0.1-2.6h0m0 2.9h0m0-2.9h0m0.1-0.5h0m0.3 3h0m0.1-1.6h0m0.1-2.7h0m0 0.5h0m1 0h0m0.2 0.6h0m0.4 2.6h0m2.3-1.6h0m1.9 1.1h0m5.4-3.6h0m0.2 0.4h0m0.1 4.2h0m0.1 0.5h0m0.3-4.9h0m0.1 4.2h0m0.1-3.8h0m0.4 3.5h0m0.2 0.2h0m0.2 1h0m0.1-3.2h0m0.1 2.3h0m0.3-2.9h0m0.4 2.1h0m1-1.8h0m0.4 0.8h0m2.7 2.1h0m4.8-2.7h0m0.2-0.6h0m0.1 0h0m2.7 0.4h0m4.4-0.7h0m1-0.3h0m0.7 1.3h0m0.2 1.9h0m0-3.3h0m1.1 1.5h0m0.4 0.1h0m0-2.1h0m0.3 1.2h0m0.2-0.6h0m0 1h0m0.2-0.7h0m0.3-1.1h0m0.3 0.6h0m0.2 2.7h0m0.2 0.3h0m0.5 0.8h0m0.1-2h0m0.2-1.8h0m0.3 1.7h0m0.1-2.1h0m0.3 1.2h0m0.4 2.5h0m0.3-1.2h0m1.1 0.3h0m0.4-2.4h0m0.1 0.8h0m0.3-0.1h0m0.5-1.1h0m0.1 2.8h0m0.2-2h0m0.2 1.1h0m1.1-0.9h0m0-1.1h0m0.1 0.4h0m0.1 1.3h0m0.1 1.9h0m0.5-3.4h0m0.8 1.1h0m8.5 1.8h0m0.1-0.5h0m0.1 1.3h0m0 0.4h0m0.2 0.1h0m0.5-3.8h0m0.5-0.3h0m1.6 0.3h0m0.3-0.2h0m0.1 0.3h0m0.4 3.7h0m0.5-0.1h0m0.1-0.3h0m0-3h0m0.1 4.5h0m0.4-5.5h0m0.3 0.4h0m0.4 1.9h0m0.2 0.7h0m0.3-1.2h0m0.3 0.1h0m0.2 0.7h0m0.3 2.7h0m0.9-3.1h0m0.7 1.1h0m0.1 1.1h0m14.4 1.4h0m5-1.6h0m2.2-3h0m1.4 3.6h0m1.3-2.8h0m1 2.9h0m0.1-0.1h0m0.6 0h0m0.2 0.2h0m0.1-0.8h0m0.6 0.1h0m0.7 0.5h0m0.1-1h0m0-1.3h0m0.1 0.7h0m0.5-1.2h0m0 1h0m0.2 0.7h0m0-1.9h0m0.6 0.7h0m0.2 0.6h0m0-1.7h0m0.3 1.7h0m0.1 0h0m0.1 0.2h0m0.1 1.5h0m0.1-2.4h0m0.1 0.3h0m0-0.9h0m0 0.6h0m0.1-0.7h0m0.1 0.5h0m0.5 1.8h0m0.1-1.9h0m0.1 0.3h0m0.7-1.1h0m0.1 1.1h0m0.4 0.7h0m-119.3 7.4h0m0.9 0.8h0m0.2-3.9h0m0.4 0.3h0m0.2 0.5h0m0.1 2.2h0m0.5-0.4h0m0.3 0.8h0m0.2-0.5h0m0.2-2.5h0m0.1-0.2h0m0 0.9h0m0 2h0m0.5-3.1h0m0.3 0.4h0m0.1 2.8h0m0.1-2.9h0m0.2 0.1h0m0 1.5h0m0.4 1h0m0.4-0.6h0m0.6-0.1h0m0.2-0.8h0m0.7 2.5h0m0.2-1.8h0m0.3 0.7h0m0 0.7h0m0.4-4h0m0.2-0.4h0m0.3-0.2h0m0.1 0.1h0m0.1 5h0m0.3-2.3h0m0.1 0.3h0m0 1h0m0-1.3h0m0.1 1h0m0.2-1h0m0.7 0.8h0m0.4-3.3h0m0.2 5.1h0m0.3-1.4h0m0.2 0.7h0m0.4 0.9h0m0.2-2.5h0m0.2-1.9h0m0.3 1h0m0 2.4h0m0.1-4.7h0m0.1 4.4h0m0.7-1.6h0m0.1-1.9h0m0.2 2.9h0m0.3-2.5h0m0.3-0.2h0m0.4 0.8h0m0 3.6h0m0.2-4h0m1.3 2.3h0m0.1 1.5h0m0.5-1.6h0m0.1 1.6h0m0.3-2.4h0m0.6 1.6h0m0.1-3.9h0m1 2.6h0m0.4 0.8h0m0.8-3.9h0m0.2 1.6h0m0.1 0h0m0-1.2h0m0.3 3.1h0m0.1 0.5h0m0.9-1.4h0m0.4 3h0m1.2-4.4h0m0.3 3.8h0m0.3-5.3h0m1.2 1.9h0m0-1.7h0m0.2-0.1h0m0.2 0h0m0.3 4.3h0m0.1 0.5h0m0.1-4.1h0m0.4 0h0m0.6 2.5h0m0.2 0.7h0m0.2-3.5h0m0.2 4.2h0m0-0.2h0m1.1 0.2h0m0.3 0.4h0m1.2-0.2h0m1.2 1h0m1.2-0.5h0m0.5-1.4h0m1.1 1.6h0m1.4-1.7h0m0.3-0.3h0m0.9 1.1h0m0.2-0.7h0m0.1-2.1h0m0.2 3.7h0m0.8-4.4h0m0.2 0.4h0m0.1-1.5h0m0.2 3.3h0m0.2-1.9h0m0.1-0.6h0m0.1-0.3h0m0.4 1.8h0m0.1 2.5h0m0.4-3.6h0m0.1-1.2h0m0.6 0.1h0m3.4 5.1h0m2-5.3h0m0.5 2.8h0m0.7 0h0m0.3 1.8h0m0.2-2.2h0m0.6-1h0m0.4-1.2h0m0.5 3.2h0m4.6-3.4h0m5.1 4.5h0m0.4-0.1h0m1.8-0.3h0m2.7-0.9h0m0.6 1h0m0.1-1.7h0m0.5-0.3h0m0.1 0.3h0m0.2-0.3h0m0.8 0.3h0m0.2 1.9h0m0.1-0.1h0m0.1 0.9h0m2.1-1.9h0m0.6-1.7h0m0.6 1h0m1.2 3.2h0m0.3-1h0m0.1 0h0m0.6 1h0m0.5-4.7h0m0.6 2.2h0m0.1 0.1h0m1.3 0.9h0m1.1-1.8h0m3.4-1.6h0m2.8-0.6h0m2.1 1h0m0.9-0.1h0m0.2-1h0m16 3.7h0m6.7 1.1h0m1.2-4.5h0m0 2.9h0m0.8 1.5h0m1.5-1.9h0m0.2-2.4h0m2.5 3.4h0m-142.1 6.8h0m0.1-1.2h0m0 1.2h0m0.5 0.4h0m0.2-2.5h0m0 1.9h0m0.3-3.2h0m0.1 2.4h0m0-2.5h0m1.2 0.7h0m0.2 1.5h0m26.3 1.6h0m0.2-4.5h0m1.1 4h0m0.4-3.9h0m0.2 1.2h0m1.7 2.8h0m0.2-0.8h0m1.2-0.4h0m0-3.5h0m0.6 1.1h0m0.2 2.6h0m0.4-1.8h0m0.2 0.9h0m0.1-0.4h0m0.4 1.2h0m0-2.6h0m0.1 3.5h0m0.1-3.1h0m0.7-0.6h0m0.6 1.1h0m0.1-0.4h0m0.1 2h0m0.1-3.2h0m0.5 3.6h0m0.1-0.1h0m0.3-2.5h0m0.2 3.6h0m0.2-0.2h0m0.1-2.1h0m1.1-2.2h0m0.2 1.8h0m0.4-1.4h0m0.3 1.2h0m3.7-0.1h0m0.3 1.7h0m0.3 1.8h0m1.4-5h0m0.5-0.4h0m0.8 1.5h0m3 1.6h0m0.7-2.4h0m0.7-0.3h0m4.9 0.3h0m0.2-0.7h0m1.7 0.3h0m2.8 2.7h0m1.7 0.2h0m11.6 1.1h0m4.5-0.4h0m0.1 0.3h0m0.3-0.1h0m0.5-0.2h0m0.4 1.2h0m0.2-2.2h0m1.9 0.9h0m0.2-2.3h0m0.1 2.9h0m0.2-3.5h0m0.6 2.4h0m0.1-0.9h0m0.4 1.5h0m0.4-0.1h0m0.6-0.4h0m0.4-1.5h0m0.8 2.1h0m0.4 0.1h0m0-2.7h0m0.1-0.1h0m0.1 3.8h0m0.1 0.2h0m0.1-3.6h0m0.1 3.5h0m0.2-3.2h0m0.7 1.7h0m0.9-1.5h0m0.2-0.1h0m0.2-0.9h0m3.3-0.2h0m0.5 0.4h0m0.1 1h0m1.5-1.2h0m0.3 0.4h0m0.6 0.4h0m1.7-1.3h0m0.5-0.7h0m0.6 0.3h0m4.2 2h0m26.9-0.6h0m6.2 2.5h0m5.8-4h0m-129.2 7.6h0m4.2 3.1h0m0.5 0.3h0m2.1 0.4h0m0.8-2.6h0m0.9 2.1h0m0.9 0.2h0m3.7-0.4h0m1.5-1.7h0m3.3 1.7h0m0.4-4.8h0m0 2.6h0m0.1-1.7h0m1.9-0.6h0m1.4 1.1h0m0.6-0.4h0m0.3 0.9h0m0-2h0m0.7 1.4h0m1.3 0.3h0m0.4 1.8h0m23.3 0.4h0m0.2-2.6h0m0.9 3.6h0m2.3-2.6h0m0.1-1.7h0m2 5.3h0m2-0.5h0m10.2-5h0m5.2 5.1h0m0.7-5.3h0m1.6 3.1h0m1.2 0.6h0m2.4-2.7h0m4 1.3h0m4.2-1.4h0m14.6 0.7h0m25 1.1h0m-122.2 7.3h0m0.2-3.6h0m1.9 2.3h0m0.1-0.4h0m0.2 1.8h0m0.5-1.3h0m0-2.1h0m0.4 1.4h0m0.5 3.3h0m0.8-1.5h0m0.1-0.2h0m0.5 1.9h0m0.1-3.7h0m0.6-2h0m0.3 2.4h0m0.5 0.4h0m0.2-2.8h0m0.7 5.7h0m0.1-4.6h0m0.4 2.3h0m7.2 1.8h0m1.7-3.9h0m5.3-0.4h0m1.8 2.4h0m9.5 1.5h0m0.1-1.7h0m0.4 1.3h0m0-0.2h0m2 0.2h0m0.7 1h0m0.5 0h0m2.5 0.3h0m0.6-4.3h0m0.7 4.1h0m0.9-1h0m1.8 1h0m6.6-5.1h0m0.3 2.4h0m0.8 2.7h0m2.5-0.4h0m0.3 0.2h0m0.3-5h0m1.9 2.9h0m0 0h0m0.2 0.6h0m1.5 1.7h0m0.1-0.4h0m0.8-2.4h0m0.1 0.7h0m0.3 1.1h0m0.4 0.3h0m0.4-0.8h0m0.1 0.8h0m0.4 0.4h0m0.1 0.5h0m0-1.6h0m0 1.5h0m0.5-0.2h0m0.4-0.2h0m0.1-2.3h0m0.5-0.4h0m0.4 0.7h0m0-0.3h0m0.4-1.3h0m0.6 3.4h0m0.3-3.6h0m0.8 2.9h0m0.1 0.8h0m1.2-1.2h0m0.2 0.3h0m0.3 0h0m1.5-0.9h0m0.4-1.3h0m0.4 1.8h0m0.4-1.7h0m0.9 1.6h0m0.6 0.6h0m0-0.8h0m0.6-0.3h0m0.1 0.7h0m0-2.8h0m0.5-0.4h0m0.6-0.8h0m0.2 1.8h0m0.6-0.7h0m5.6 1.3h0m0 3.5h0m15.8-2.1h0m7.3 0.1h0m-107.5 4.7h0m3.4-0.7h0m3.8 2.4h0m0.3 1.2h0m0.6-0.5h0m1.3-4.2h0m1.4-0.1h0m0.8-0.5h0m1.8 4.5h0m0.1-3h0m0.7-0.2h0m1.6-0.7h0m0.6 4.8h0m0.9-0.1h0m0.2-3h0m0.1 3.4h0m0.7-5.9h0m0.8 3.9h0m0.2-1.8h0m0.2-1.7h0m0.2 3.4h0m0.1 0.6h0m0.6-0.2h0m1.1-1h0m1.6 1.1h0m1-1.4h0m2.5 2.8h0m0.9-0.2h0m3.8-1.7h0m0.1-1h0m1.9 3h0m0.3-3h0m0-0.4h0m0.5 3h0m0.2-3.3h0m1 2.5h0m0.3-4.1h0m0.1 0h0m0 5.1h0m0.1-4.5h0m0.3 1.5h0m0.2 1.6h0m0.1-0.2h0m0.7-1.9h0m0.2 2.7h0m1.2-1.9h0m0-1.1h0m3.5 0.1h0m0 3.9h0m0.5-4.8h0m0.4 3.4h0m0.3-2.3h0m0.7 2.2h0m0.6-3.8h0m0 0.9h0m0.1 2.3h0m0.5 0.4h0m0.4-0.7h0m0.3-1h0m0.1 2.4h0m0.1-4.9h0m0 5.3h0m0.2 0.3h0m0.6-2.9h0m0.8 1.5h0m0.8-3h0m0.1 3.7h0m0.1-4.4h0m0.2 5.3h0m0.3-1.7h0m0.1 0.7h0m0.2-1.9h0m0.1 2.8h0m0.8-3.3h0m0.3 0.4h0m0.2 3.1h0m0.1-3.7h0m0.1-0.1h0m0.1-1.4h0m0.1 0.5h0m0.1 4h0m0.1-1.2h0m0.5-2.9h0m0.2 0.6h0m0.1 3.1h0m0.2 0.6h0m0.1-4.3h0m0.2 1.9h0m0.6-0.4h0m0.4 0.6h0m0.3-0.8h0m0.9 1.5h0m0.1 0.9h0m0.5 0.7h0m0.3-4.2h0m0 1.8h0m0.3-1.3h0m0-1.3h0m0.1 1.4h0m0.5 2.4h0m0-0.1h0m1-1.1h0m0.3-1.4h0m0-0.5h0m1.4 2.8h0m0.8-0.5h0m0.1 0.3h0m0.2-0.7h0m0.1 1.8h0m0.2 0.8h0m0.3-5.1h0m0 5.1h0m0-1.3h0m0.3 0.4h0m1-4.7h0m0.1 4.4h0m0.2-1.4h0m0.1 1.9h0m0.6-1.2h0m0-3.7h0m0.1 1.8h0m0.2 0.1h0m0.8-1h0m0.7 0.6h0m0.2 1.6h0m0.1 1.3h0m0.9-3.4h0m0.4 2.2h0m0.6-2.6h0m0.3 5.2h0m0.5-5h0m0.5 0.9h0m0.3 2.7h0m0.8 1.3h0m0.1-3h0m0-2h0m0.7 1.7h0m0.1 1.6h0m0.1 1h0m0.7-0.8h0m0 0.8h0m0.2-2.7h0m0.1-2.4h0m0.2 4.5h0m0.5-3.9h0m0.7 5.1h0m1.9-5.5h0m0 5.5h0m0.1-1.1h0m0-4h0m0.6 1.1h0m0.1 0.7h0m1.6-0.5h0m1-0.7h0m15.9 0.1h0m5.9 3.7h0m1-0.8h0m6.5-2.8h0m-102.5 8.5h0m0.5-3.4h0m0.3 0.1h0m0 1h0m1.9 1.8h0m0-2.1h0m0.3-1.2h0m1.4 3.3h0m0.2 1h0m0.1 1.2h0m0.3-2h0m0.3 0.4h0m0.9 2h0m0.2-1.7h0m0.3 1.5h0m0.1-1.6h0m0.5 0.6h0m0.1-1.4h0m0.2 2.2h0m0.6-3.8h0m0.3 1.3h0m0-2.8h0m0.5 1.3h0m0.1 3.4h0m0.2 0h0m0.1-2.5h0m0.1 0.8h0m0-1.5h0m2.5 0.5h0m0.1-0.2h0m0 3.6h0m1.2-5.1h0m0-0.5h0m0.1 2.6h0m0.1-2.3h0m0.6 0.9h0m0.7 4.3h0m0.1-0.4h0m0.6-0.2h0m0.3-1h0m0-1.6h0m0.5-0.5h0m0.1 2.1h0m1.1-0.6h0m0-0.2h0m0 0.8h0m0.4-0.9h0m0.1-0.7h0m0 2.7h0m0.1-4.9h0m0.8 2.4h0m0.4 0.8h0m0.1-2.1h0m0.1-0.1h0m0 1.3h0m0.3 0.1h0m1-1.2h0m0.1 2h0m0.1-1.3h0m0.5 0.7h0m0.1 1.2h0m0-0.5h0m0.1-2.3h0m0.3 1.2h0m0.7 1.3h0m0 1.2h0m0.7 0.1h0m0.4-5h0m2.5 0.3h0m0.5 0h0m1.4 3.6h0m0-3.9h0m0.7 0.6h0m0 1h0m0.3-0.6h0m0.6 2.4h0m0.5-3.2h0m0.7 0.5h0m0 2.8h0m1 0.8h0m0.8-1.4h0m0.1 0.3h0m0.9 0.9h0m0.2-1.6h0m0.1 0.4h0m0.1 3h0m0.3-3.2h0m0.2 1.7h0m0.1-0.2h0m0.2 1.1h0m0-4.1h0m0 1.8h0m1.3-2.8h0m0.4 4.5h0m0 0.3h0m0.3-1.5h0m0-1.5h0m0.4 0.1h0m0-1.8h0m0.1 3.2h0m0.3 2.4h0m0.6-2.2h0m0.1-3h0m0.4 0h0m0.1 3.3h0m0.3-0.9h0m0.4 1.3h0m0.6-4.2h0m0.1 4.3h0m0.3-1.5h0m1 1h0m1.6-3h0m0.7 0.2h0m0.2 0.2h0m0.6-1h0m0.4 1.4h0m0.3-0.2h0m0.7 1.9h0m0.2 0.4h0m0 1.8h0m0.1-5.3h0m0.8 5.2h0m0.2-5.3h0m0.7 1h0m0.4 0.9h0m0.1-0.9h0m0.3 3.6h0m0.5-4.1h0m0.3 0.8h0m0.2 3.2h0m0.2-4.8h0m0.2 1.8h0m1.1 4.2h0m0.7-5.6h0m0.2 5.5h0m1.3-1.3h0m0.2-2.3h0m0.3 3.1h0m0.3-4.5h0m2 0.9h0m0.2 3h0m0.9-3.4h0m0.1 2.9h0m0.1 0.3h0m0.3 0.2h0m0.6-1.5h0m0.9-2.5h0m0-0.8h0m0.5 2.2h0m0-0.7h0m0.1-0.8h0m1.2 5.1h0m0.1-0.4h0m1.2-5.3h0m0.2 5.2h0m0.2-0.1h0m0.2 0.5h0m3.7-5.1h0m1.4 4.6h0m6.1 0.1h0m2.2-3.7h0m4.6 3.9h0m0.8-1.1h0m1-1.4h0m1.1 0.2h0m3.4-2.3h0m3 4h0m0.6-1.3h0m1.3-3.3h0m1.5 3.1h0m-91.7 3.3h0m2.1 0.1h0m1 2.1h0m0.3-2.1h0m0.6 1.5h0m0.3-0.2h0m0.4-1.9h0m0.5 2.2h0m0.4-2.1h0m2.9 2.4h0m0.1 1.3h0m1.6-3.4h0m0.3 1.6h0m0.7-1.5h0m0.9 3.1h0m0.5-1.2h0m0.2 0.5h0m0.7-1.2h0m0-0.6h0m0.2-1.1h0m0.1 2.5h0m0.5-2h0m1.9 1h0m1.8-0.2h0m1.8 1h0m2.4 2.2h0m2.3-3.7h0m1.7 4.4h0m2.9-2.4h0m0.2 1h0m0.1-1.1h0m3.2 0.4h0m3.5-2.9h0m0.4 1.3h0m0.7-1.3h0m0.2 1.1h0m2.6-0.9h0m3.8 0.4h0m0.4 0.7h0m0.4-0.2h0m0.6-0.2h0m0.3-0.2h0m0.1 2.2h0m0.1-1.5h0m0.4 0.7h0m0.3-1.5h0m0.2 2.4h0m0.3-2.3h0m0-0.4h0m0.5 0.3h0m0.2 1.7h0m0.5-1.6h0m0.1-0.8h0m0.9 1.4h0m0.1 1.5h0m0.5-2.4h0m0 2.8h0m0.5 0.4h0m0.1 0.3h0m0.2 0.4h0m0-1.5h0m0.4-1.1h0m0 2.2h0m0-3.1h0m0.4-1.1h0m0 4.6h0m0.3-2.2h0m1.8-0.6h0m0.4-1.1h0m0.6 0.4h0m0.5 0.4h0m0.1 1.2h0m0.5-1.1h0m0-1.1h0m0.6 1.2h0m2 0.8h0m0.2-1.6h0m0.1-0.9h0m0.5 1h0m0.5 0.2h0m0.6-0.1h0m0.2 2.7h0m2.2-3.5h0m0 2.4h0m0.7-1h0m12.1-0.6h0m5.3 1.3h0m1.9-1.6h0m-32.8 5.1h0" fill="none" stroke="#1bb83e" stroke-width="1.6" stroke-linecap="round"/>
</g></g>
<g id="e1r" clip-path="url(#ce)"><g filter="url(#warp)">
<g filter="url(#gtex2)" fill="#c4261a" stroke="#c4261a"><ellipse cx="5" cy="27.6" rx="4.7" ry="4.7" fill="none" stroke-width="4.1" opacity="0.1"/><ellipse cx="55.3" cy="30.2" rx="7" ry="7" fill="none" stroke-width="3.9" opacity="0.16"/><ellipse cx="83.8" cy="12.6" rx="6.4" ry="7" fill="none" stroke-width="3.6" opacity="0.22"/><ellipse cx="118.9" cy="4.2" rx="4.6" ry="4.6" stroke="none" opacity="0.06"/><ellipse cx="144.1" cy="11.7" rx="6.8" ry="4.6" stroke="none" opacity="0.08"/><ellipse cx="82.1" cy="41" rx="2.1" ry="4.1" stroke="none" opacity="0.27"/><ellipse cx="135.7" cy="41" rx="10.5" ry="3.8" stroke="none" opacity="0.09" transform="rotate(-40 135.7 41)"/><ellipse cx="126.5" cy="66.2" rx="7" ry="8" fill="none" stroke-width="4.1" opacity="0.17"/><ellipse cx="146.6" cy="60.3" rx="2.1" ry="2.1" stroke="none" opacity="0.27"/><ellipse cx="21.8" cy="61.1" rx="10.9" ry="7.5" fill="none" stroke-width="4.1" opacity="0.1"/><ellipse cx="38.5" cy="82.9" rx="9.7" ry="9.7" fill="none" stroke-width="4.1" opacity="0.12"/><ellipse cx="33.5" cy="101.3" rx="8" ry="10.9" fill="none" stroke-width="4.1" opacity="0.13"/><ellipse cx="13.4" cy="99.7" rx="6.8" ry="4.6" stroke="none" opacity="0.17"/><ellipse cx="88.8" cy="66.2" rx="13.8" ry="9.6" stroke="none" opacity="0.04"/><ellipse cx="75.4" cy="77.1" rx="4.1" ry="3.1" stroke="none" opacity="0.23"/><ellipse cx="93.8" cy="103" rx="9.6" ry="9.6" stroke="none" opacity="0.07"/><ellipse cx="46.9" cy="116.4" rx="11.3" ry="6.3" stroke="none" opacity="0.06"/><ellipse cx="36.9" cy="120.6" rx="6.3" ry="9.6" stroke="none" opacity="0.09"/><ellipse cx="145.7" cy="104.7" rx="7.5" ry="8" fill="none" stroke-width="4.1" opacity="0.1"/><ellipse cx="142.4" cy="118.1" rx="6.8" ry="2.9" stroke="none" opacity="0.21"/><ellipse cx="113.9" cy="111.4" rx="5.1" ry="5.1" stroke="none" opacity="0.1"/><ellipse cx="93.8" cy="120.6" rx="13.8" ry="4.1" stroke="none" opacity="0.09" transform="rotate(-20 93.8 120.6)"/><ellipse cx="80.4" cy="139.9" rx="20.5" ry="6.3" stroke="none" opacity="0.06" transform="rotate(-12 80.4 139.9)"/><ellipse cx="55.3" cy="143.2" rx="13" ry="7.9" stroke="none" opacity="0.08"/><ellipse cx="21.8" cy="134.8" rx="5.1" ry="5.1" stroke="none" opacity="0.19"/><ellipse cx="73.7" cy="151.6" rx="10.5" ry="4.1" stroke="none" opacity="0.09"/></g>
<path d="m79.3 5.5h0m0.7-0.1h0m1.8 0.3h0m5.2 0.1h0m29.7-3.9h0m4.1-0.3h0m0.4 2.6h0m0.5-0.4h0m0.5-0.4h0m22.1 2.2h0m-67.7 3.2h0m0.5-1.6h0m0 3.4h0m2.2-3.6h0m3.1 0.1h0m0.2-0.1h0m0.1-1h0m0.5 0.9h0m0.5-0.7h0m1.1 0.2h0m0.6 0.4h0m0.3-0.2h0m0.5 0.1h0m0.1-0.1h0m0.3-0.2h0m2.1 1h0m1.2 1.9h0m0.2-1h0m0.1 2.4h0m0.1-3.4h0m0.4 2.8h0m0.4 1.5h0m26.7-5.3h0m1.8 0h0m0.4-0.3h0m0.1 1.5h0m18.5 2.2h0m2.3 0h0m0.9 1.6h0m0-1.5h0m1.6 1.3h0m0.7-1.5h0m0.1 0.2h0m2.3 2.1h0m3.3-0.1h0m-71.6 2.4h0m0.4 2.1h0m0.1-1.6h0m0.6 1.2h0m0.1-1.7h0m0.1-0.6h0m0.3 0.7h0m0.1 3h0m0.3-2.9h0m5.3 3.2h0m0.5-0.5h0m0.7-1.7h0m0.4 2.1h0m0.3-1.7h0m0.2-0.1h0m0.2-0.3h0m0.1 1.5h0m0.1-0.5h0m0.3-0.1h0m0.3 1.3h0m0-3.5h0m1-1.3h0m0.5 1h0m0-1.6h0m0.6 1.1h0m0.7-0.6h0m48.5 0.5h0m0.1-0.8h0m1.3 0.8h0m0.7-0.7h0m0.8-0.1h0m0.4 1.3h0m3.4-1.5h0m2.2 1.1h0m-146.3 9.6h0m0.3-0.3h0m2.3 1.1h0m1.4-0.2h0m0.5-0.3h0m43.7-0.2h0m2.4 0.1h0m0.4 0.1h0m0.1 0.5h0m0-0.8h0m0.7 0.1h0m0.3 0h0m0.5 0.9h0m1.2-0.6h0m1.8 0.6h0m22.2-5.8h0m0.7 1.8h0m0.1 0.4h0m2.8 0.3h0m0.9 0.3h0m0.1-0.8h0m0.1-1.1h0m1.7-0.5h0m0-0.3h0m0.1 0.6h0m-86.2 10.1h0m0.7-0.8h0m0-0.4h0m7.4 2.3h0m1.1-5.8h0m37.7 2.9h0m1.8-2.6h0m1.2-0.3h0m0-0.2h0m0.4 1h0m0.5-0.2h0m0.2-0.7h0m1 1h0m0.8-0.5h0m1.4 0.3h0m0.1-0.7h0m3-0.2h0m2.9 5.5h0m1.5-1.4h0m0.2-0.6h0m-61.9 4h0m2 0.7h0m0.1 0.3h0m0.4-1h0m0.5 0.3h0m1.8-0.4h0m1.2 0.1h0m41.9 0h0m1.1 1.2h0m0.1 0.3h0m0.8 0h0m0.8 3h0m0.7-0.9h0m6.5 0.3h0m1.7-1.3h0m0.3-0.6h0m0.3 2.1h0m0-2h0m0.1-0.8h0m0.1-1.8h0m0-0.1h0m0.2-0.5h0m0 1h0m0.1 2.6h0m0-2.9h0m0.3-0.1h0m0.2-0.8h0m0.1 1.5h0m0.1 0h0m81 3h0m0 0.7h0m-91.8 2.2h0m0.2-1.5h0m0.1 0.6h0m1.2 1h0m4.5-1.2h0m2.2 0.4h0m1.4 3.6h0m20.1-2h0m1.1-0.7h0m0 1h0m0.2 1.4h0m0.3-1.4h0m0.3 0.5h0m0.5 0.6h0m50.6-1.3h0m2.2 0.5h0m0.6-2h0m0.9 0.6h0m0.6 2.7h0m0.1-3.9h0m0 2h0m1 3.1h0m0.4-5.2h0m0.8 2.4h0m1.3-2.1h0m0.8-0.1h0m0.6 0.7h0m-100 9.5h0m19.1-1.1h0m14.1 0.3h0m4.9 0.3h0m0.2-3.5h0m0.6 0.2h0m0-0.9h0m0.7 0.6h0m0 2.1h0m0-2.5h0m0.2 1.1h0m0.3-0.1h0m8.2 0.8h0m1.4 1.5h0m35.8-0.6h0m1.1 1.3h0m0.8-2.1h0m0.3 1.3h0m0.3-1.3h0m0.3-0.7h0m0.1 3.1h0m0.1-4.2h0m0.1 0.3h0m0.2 3.1h0m0.2-3.7h0m2 3.5h0m0.3-3h0m0.5 2.9h0m0-0.8h0m2.3-0.8h0m-134.3 8.6h0m2.6 0.3h0m4.3 0h0m1.3 0.9h0m13.1-0.7h0m0.2-0.8h0m0.3 0.4h0m1.4 0h0m1.3 0.6h0m12.8-2.7h0m1.2 1.3h0m1.2-2.3h0m21.4-1.4h0m0.3 4.9h0m3.8 0.6h0m12.7-1.6h0m8.3 0.2h0m37.5-1.5h0m0.6 0.6h0m-125.9 6.5h0m0.2 1.7h0m9-2.7h0m0 2.7h0m0.9-1.4h0m0.5-3.8h0m0.6 3.9h0m0.7-1.3h0m2.9-0.7h0m0.3 0h0m1.8-1.2h0m0 0.3h0m1.1-1.3h0m4.1 3.8h0m2.4-1.6h0m0.6-1.5h0m0.7 4.3h0m1.1-3.7h0m0.3-0.6h0m1-0.2h0m1 3.6h0m0.5 0.8h0m1.6-2h0m30.5-2.9h0m21.2 5.2h0m1.7 0.2h0m1-2.6h0m1-0.5h0m2.9 0.8h0m3.5 0.9h0m6.3-2.5h0m17 3.4h0m3.7 0.2h0m1.8-2.5h0m0.3 2.9h0m0-1.9h0m2.9-0.7h0m0.5-0.1h0m0.3 1h0m0.4 0.1h0m0-1.4h0m0.4 1.1h0m0.2 0.4h0m0.1 0h0m0.1 1.7h0m0.1-2h0m0.6 1.2h0m0.9-1.1h0m15.3 2h0m0.6-0.5h0m1.3-0.4h0m0.2 0.6h0m-140.5 3h0m2.6 1.6h0m1.7 0.7h0m0.4-1.2h0m2.6 2h0m0.3 0h0m0.7-0.6h0m1.8 0.3h0m13.7-3.1h0m0.1 1.7h0m0.3-0.9h0m0.3 0.3h0m0.1 0.8h0m0.4 0h0m0.1 1.7h0m0.1-4h0m26.1 0.6h0m7.5-1.9h0m0.3 1.7h0m0.7 0.9h0m0.8-0.3h0m5.3-1.1h0m2.5 3.9h0m4.9-1.5h0m0.1-3.5h0m0.7 2.1h0m1-2.4h0m2.7-0.2h0m2.8 0.6h0m2.1 1.1h0m0.7 2.3h0m1.1 1.1h0m0.2-4.8h0m0.5 2.7h0m3-1.6h0m2 2.9h0m1.3-0.1h0m9.3-2.4h0m11.9 1.5h0m2.6-3.2h0m7.5 0.4h0m0.5 0.2h0m0.1 1.7h0m0.3-0.7h0m0.4 0.6h0m0-0.6h0m0.2 2.4h0m0.2-4h0m0.1 3.2h0m0.1 2h0m0.5-1.5h0m0 1.4h0m0.4-2.2h0m0.3 2.4h0m0.2 0.1h0m0.8-2.2h0m0.1 1.3h0m12-3.9h0m0.5 2.9h0m0.3-2.9h0m-133.7 8h0m2.1-2.7h0m1.6 2.2h0m3.7-0.6h0m1.3 0.1h0m0.8-0.2h0m0.6 1.5h0m0.6 0.2h0m3.7-0.6h0m0.1-1.1h0m1.4-1.5h0m0.2 1.7h0m0.4 0.6h0m0-1.3h0m0.6 0.3h0m5.8 3.8h0m2.3 0h0m0.7 0.5h0m8.6-2.1h0m17.1 1.6h0m10.5-4.2h0m3.9 2.8h0m0.2 0.1h0m0.2-0.6h0m1.1-2.8h0m2.2 3.2h0m1-0.8h0m0.2 2.1h0m3.1-4.9h0m0.1 0.4h0m0.6 0.5h0m0.5 3.1h0m2.8-1.4h0m0.4 0.4h0m1.7-2h0m0.1 3.7h0m0-0.1h0m2-3.5h0m0.7 4.1h0m1 0.1h0m11.2-0.8h0m10.3-1.3h0m0.6-3h0m0.5 0.1h0m0.9 0.4h0m0.3 4.1h0m0.1-2.6h0m0.1-0.5h0m0.1-1.7h0m0.4 3.2h0m1-1.4h0m1.3 3.5h0m7.7-1.3h0m0.6 0.1h0m0-3h0m0.3 0.3h0m0.1 2.2h0m1.1-2.7h0m-131.8 6.3h0m0.4 2h0m7.5 1.8h0m3.9-3.1h0m10.3 1.3h0m5.5-1.8h0m0-0.8h0m2.1 2.8h0m2.5-2.7h0m0 0.2h0m1.9-0.9h0m0.5 0.4h0m1.1-0.1h0m1 0.9h0m0.7-0.2h0m0.2-0.3h0m1.5 1.8h0m0.5-1.7h0m0.6 0.2h0m0.4 4.5h0m0-3.6h0m0.5-0.6h0m0.2 3.1h0m0.7 0h0m3.2 1.5h0m5.1-1h0m0.3-4.5h0m1.7 1.7h0m6.7 0.4h0m6.2-2.2h0m5.4 4h0m0.6-0.4h0m0.4-0.4h0m0.2 0.4h0m0.2-0.4h0m0.4-0.8h0m1.3-0.2h0m0 2.8h0m1.4-1h0m1.2-0.9h0m0.1 0.9h0m0-0.3h0m3.8-3.2h0m0.6 2.4h0m0.3-2.9h0m1.5 0.4h0m2.5 3.9h0m2.4-1.9h0m1.1-2h0m0.1 2.4h0m0.6 0.3h0m0.4-0.5h0m0.3 0.1h0m0.4-1.2h0m0.1 0h0m3.4 1.1h0m1.4 1h0m2.3-0.3h0m0.7 1.7h0m2.9-2.5h0m1.9-0.7h0m5 0.4h0m5.4 2.1h0m0.9-3.6h0m0.8 0.6h0m3.4 0.3h0m0.4 3.5h0m1.6-4.5h0m0.5-0.2h0m0-0.6h0m0.9 1.5h0m1.1-0.4h0m0.5-1.1h0m0 2.5h0m0.9-2.7h0m0 3h0m0.9 0.4h0m2.3-0.4h0m0.3 0.6h0m0.8-2.3h0m0.5 2.4h0m0.8-0.2h0m1-0.3h0m-129.5 4.5h0m0.5 0.1h0m1.5 0.4h0m1.7 0.3h0m17.4 1.4h0m0.8 2h0m2.9-3.5h0m0.8 1.4h0m1.2 1h0m0.5-3.8h0m0 3.4h0m0.2-0.9h0m0.9-3.1h0m3.6 1.8h0m4 0.5h0m6.7-2.5h0m1.2 1.7h0m0.5 2h0m0.2 1.4h0m4.5 0.2h0m0.8-3.8h0m5.5 0.2h0m0.6-0.5h0m2.8-1.2h0m4.8 2.8h0m3.2 0.1h0m2.2-2.8h0m0.3 0.3h0m1.7 0.6h0m0.9 3.3h0m1.4-1.5h0m0-2.4h0m4.8 4.9h0m0-0.7h0m0.9-0.2h0m0.3-4.1h0m2.3 0.9h0m2-0.6h0m1.8 1.2h0m3.9-1.4h0m1.2 2.5h0m10.9-1h0m4.6-1.6h0m2.4 4h0m1.4-3.2h0m0.6-0.9h0m0.3 1.1h0m0.4-0.1h0m0.6 4h0m0.3-0.5h0m0.5 0.9h0m1.6-5.1h0m5.4 2.7h0m2.2-3h0m3 1.6h0m2.5-1.1h0m3.8 0.2h0m-128 5h0m9.6 0.6h0m0.8 0.8h0m12.1 0.9h0m0.4 1.1h0m0.5-3.4h0m0.1 5.4h0m0.2-3.3h0m0.1 0h0m0.4-0.9h0m0.1 3.1h0m0-0.1h0m0.4 0.1h0m0.2 1.5h0m0.1-1.7h0m0.2-1.5h0m0.1 0.6h0m0.1 1.4h0m0.3-1.2h0m0.8 1.4h0m0.1-1.5h0m0.8-2.5h0m0.1 3.4h0m0.2 1.6h0m0.3-0.5h0m6.7-4.3h0m3.9 0.3h0m4.1 3.1h0m16-1.6h0m0.8-0.5h0m0.3-1.1h0m2.4-0.3h0m12.7 2.3h0m0.1-2.8h0m1.4 0.9h0m2.4 1h0m0.2 2.9h0m1.9 0.2h0m0.3-1.9h0m28.1-0.1h0m0.5-2.1h0m6.4-0.3h0m0.7 2.1h0m6.2 1.4h0m2 1h0m-128.3 1.3h0m11.9 4.7h0m0.4-2.6h0m0.3-0.6h0m0.9 1.4h0m11.6 1h0m0.4-4.1h0m0.2 2.5h0m0.1 0h0m1.6-3.2h0m3.4 0.1h0m1.3 2.1h0m0.2 1.4h0m0.3-0.3h0m0.5 0.4h0m0.3-1.2h0m0.7 1.2h0m0.1-1.4h0m0.2 0.1h0m0.2 1.7h0m0.1 0h0m0.2-0.2h0m0.2-3.6h0m0 2.2h0m0 1.8h0m0 1.4h0m0.1-1.9h0m0.3 1.3h0m0.3-0.9h0m0.4-0.4h0m0.2-0.7h0m0.1 1h0m1.1 0.7h0m0.8-1.5h0m0.2 0.1h0m1.1 0.5h0m0.2-0.8h0m0.1-0.4h0m0.1 1.2h0m0.8-1.1h0m2.1-2.4h0m9.5 1.5h0m4.8 1.5h0m11.5 1.9h0m4.3-3.4h0m7.7 0.2h0m1.1-1.3h0m1.2 2.2h0m0.5 2.2h0m1.5 0.6h0m7-1.3h0m17.7-0.3h0m1.7-3.8h0m6.6 2.9h0m0.2-1.4h0m4.6 1.2h0m2.8-2.5h0m1.6 0.3h0m3.1 1.6h0m8.7-0.4h0m0.8 3.4h0m1.3-0.9h0m6.6-1.7h0m-145.5 7h0m1.7-0.2h0m0.3 1.1h0m0.5-0.2h0m0.2 0.5h0m0.1-4.7h0m0.3 3.2h0m0.6 1.4h0m0.3-1.8h0m0.2-1.2h0m0.9 0.5h0m1-1.2h0m0.3 3.8h0m0-1.9h0m0.1 0.9h0m0.4 1.2h0m0.1-0.5h0m0.2-3.5h0m0.1 0.5h0m0-1.4h0m0.1 3.9h0m0.1-2.8h0m1.3 2.2h0m0.5-0.8h0m0.8-1.5h0m0.9 0.9h0m0.1-2.1h0m1.3 5.1h0m0.1-2.3h0m0 1.6h0m0.2-4.3h0m0.2 4h0m1-1.7h0m1.1 0.5h0m1-2.5h0m0.5 3.2h0m2.3 1.8h0m0.8-0.7h0m0.5-1.2h0m0.1 1.8h0m0.5-3.4h0m0.1 0.2h0m0.1 1h0m0.7-0.4h0m0.3-1.1h0m1.2-0.9h0m0.1 0.1h0m2 2.8h0m4.1 0.8h0m6.3-1.1h0m0 1.6h0m0.1-3.5h0m0.3 3.7h0m0.1-1.2h0m2.6-1.5h0m1.6-1h0m33 3.7h0m5.4-2.7h0m1.6 3h0m0.5-2.9h0m0.4 0.4h0m0.2-0.4h0m0.6-0.7h0m0.8 3.6h0m0.3-0.2h0m0.4-3.9h0m0.6 4.3h0m0.6-5.6h0m1.9 3.6h0m1.2-2.8h0m0.4 2.1h0m1 2.8h0m0.4-5.5h0m0.1 1.5h0m2.9 2h0m1.7-1.3h0m0.1 0.8h0m6.3 1.6h0m0.8-4.9h0m1.3 4h0m0.7 0.8h0m1.7-2.2h0m1.3-0.6h0m0.2-0.3h0m0.1 1.3h0m25.6 2.7h0m1.8-0.6h0m0.2-1h0m0-0.2h0m2.2-1.7h0m0.4-2h0m4.1 0.6h0m0.2 0.8h0m0.8 1.5h0m0.1-0.1h0m0.3 0.6h0m1.8-2.1h0m1.4 2.6h0m-150.8 3.1h0m5.2 4.5h0m1.4-5.4h0m0.9 2.8h0m3-2.1h0m0.3-0.3h0m0.1 0.2h0m0 0.3h0m4.4-0.2h0m0.4 0.3h0m0.5 1.6h0m0-1.9h0m7.5 4.2h0m0.3-4.4h0m0.5 1.9h0m0.3 2.8h0m1.4-1.2h0m3.9 1.5h0m6.5-4.3h0m2.3 3.2h0m0.2-1.4h0m1 0.1h0m0.8-2.8h0m0.5 2.1h0m0.2-1.2h0m0.2-0.9h0m0.6 1.3h0m9.8-0.3h0m0.7 3.9h0m5.4-0.6h0m1.6-1.5h0m0.2-1.6h0m5.7 3h0m3.3-1h0m14.9 1.1h0m1.7-3.2h0m0.2 1h0m0.2-0.2h0m0.6 0.6h0m0.4-2.1h0m1.1 2.3h0m0.6-2.2h0m2.2 0.7h0m0.2-0.7h0m1.2 0.2h0m0.4 3.2h0m0.1 1.1h0m0.6-5.2h0m1.2 2.7h0m0.2-1.9h0m0.6 3.1h0m0.3-2.3h0m0.8-2.1h0m0.2 2.7h0m1 0.8h0m0.1-1.6h0m0.3 1.3h0m1-1.4h0m0.3 2h0m0.1 1.2h0m0.7-2.2h0m0.6 1.3h0m0.6 0.7h0m2.5-2.4h0m0.5-0.6h0m0 1.1h0m1.1-0.2h0m0.3-0.6h0m0.8-1.5h0m3.4 4.7h0m1.7-2.6h0m0.9 2.6h0m24-4.4h0m1 1h0m0.2-0.6h0m0.5 0.3h0m0.3 3.4h0m0.2-2.6h0m3.7-1h0m-133.2 9.2h0m3.8-3.1h0m3.2 2.1h0m4.3-0.7h0m1.6-0.9h0m3.5-0.9h0m0.9 0h0m1 0.7h0m2.2-0.4h0m0.9-0.7h0m0.4 2h0m1.3 1.2h0m1.6-2.4h0m0.8 3.6h0m0.6-0.7h0m0.4-1.2h0m0.1 0.4h0m0.5 0.9h0m0.5-4h0m0.1 2.7h0m0.2 0.3h0m0.5 0.1h0m0-0.6h0m0 1.2h0m0.1-1.1h0m0.4 0h0m0.1-0.7h0m0.1 2.2h0m0.5-1h0m0.1-0.8h0m0.7 1.6h0m0.4-4h0m3.4 4.9h0m0.2 0.3h0m1.8-1.7h0m0 1.6h0m2.1-2.3h0m2 0.2h0m0 0.8h0m1.3 0.5h0m0-1.4h0m1.5 1.4h0m0.1 0.4h0m3.3-3.8h0m0.4 1.3h0m0.7-0.4h0m0.1 2.7h0m0.6-2.3h0m3.5 3.3h0m0.1-1.8h0m0.6-1.5h0m6.8 3h0m0.7-4.7h0m1.3 3.7h0m9.7-1.6h0m7.4-2.8h0m0.1 1h0m1.4 0.6h0m0.4-0.5h0m0.6 1.2h0m0.5-0.3h0m0.8 0.2h0m1 1h0m0.2-2.1h0m1.2-0.5h0m1 3.1h0m0.1-1.4h0m3.8-2.3h0m0 1.3h0m0.3 0.2h0m0.3 1.7h0m2-2.3h0m8.1 3.6h0m0.3-0.1h0m0-2.6h0m0.8-1.4h0m0.2 2h0m1.3-0.8h0m0.2-1.5h0m0.1 0.2h0m0 0h0m0.5 4.1h0m0.7-0.1h0m1-4.3h0m0.1 2h0m0.1 0.6h0m1.1-0.3h0m0 2.6h0m2-0.5h0m13.7-3.2h0m1.5 1h0m4.9 0.2h0m0.7-0.9h0m0-1.1h0m0.8-0.4h0m0.9 2h0m0.3 3.6h0m3.8-1.5h0m2.3-1.4h0m0.3-1.1h0m0.2 1.2h0m0.5-0.4h0m0.5-1h0m0.2 0.7h0m0.1 1.6h0m0.1-2.7h0m0.7 1.3h0m0.3 0.7h0m-137.6 8.5h0m19.7-4.4h0m0.2 0.8h0m0.7 2.9h0m0.6-0.8h0m0.2-2.4h0m0.2-1.4h0m0 1.3h0m0 1.2h0m0.8-1.4h0m0 0.1h0m1.4 4.4h0m0-2.3h0m1.3 1.7h0m0.4-1.2h0m0.6-3.6h0m0.2 0.4h0m0.4 4.7h0m0.1-5.5h0m0.2 3h0m1.6-2.5h0m0.4 4.5h0m1.1-1.5h0m0.3 1.6h0m1.3 0h0m0.2-3.6h0m0.7 4.3h0m0.4-2.7h0m1.9-1.7h0m0.1 1.3h0m1.9-0.7h0m0.4 2h0m2.3 1.3h0m0.4-3.8h0m1-1.5h0m2.6 4.2h0m0.1-2.5h0m0.5 0.3h0m0.6 1.2h0m0.5 1.4h0m0.4 0h0m2.3 0h0m5.4-3.4h0m0.4 2h0m1.2-1.6h0m0.7-1.4h0m0.5-0.1h0m15.2-0.1h0m2.9 5h0m4.7-1h0m3.5-1.4h0m0.4 0.2h0m0-0.6h0m1 0.4h0m0.2 0.1h0m0.2 2.2h0m0.2-0.4h0m0.1 0h0m1.7-1.3h0m0.8-1.5h0m1.7 0.4h0m0.6 2.5h0m1.7-1.7h0m6-1.9h0m0.2 1.7h0m4.3-1.6h0m0.8 3.4h0m17.2-3.6h0m3.9 3.3h0m0-0.1h0m0.3-0.4h0m1.1 1.6h0m0.7-3.3h0m0.1 2.9h0m0.9-1.4h0m0.2-0.1h0m0.3 0.8h0m0.2-0.3h0m0.1 0.5h0m0.7 0.4h0m1.3-0.9h0m0.2 0.3h0m0.3-0.3h0m0.3 0.1h0m0.2 1.5h0m0.5-4.1h0m1.2 0.9h0m0.3-0.4h0m0.1 0.9h0m0.7 1.7h0m0-0.5h0m-134.7 4.3h0m21.5-1.6h0m0.3 1.1h0m3.8-1.1h0m0.8 1.9h0m0.5 3.1h0m2-2.6h0m0.7-2.4h0m0.3 0.4h0m4.1 0.1h0m3.7-0.7h0m3.6-0.5h0m2.5 0.5h0m4 0.2h0m2.7-0.6h0m2.7 4h0m0.3-1h0m0.7-0.9h0m13.1 0.4h0m3.4 1.3h0m0.2 1.2h0m0.3-1h0m0.9 0h0m0.8 1h0m0.2 0.6h0m0.7-0.1h0m0.9-4.5h0m0.7 2.3h0m0.6 0.5h0m0.4-0.5h0m0.6 0h0m1.2-1h0m0.6 2.5h0m0.1 0.2h0m0.3-3.4h0m0.1 0.3h0m0.7 1.9h0m1-1.5h0m0.1-1.2h0m3.8 0h0m1.9 0.2h0m2-0.5h0m1.3-0.8h0m4.6 1.8h0m16.7 2.6h0m3.8-2.9h0m4.8 1.5h0m8.9 2.6h0m0.1-5.8h0m4.2 0h0m-129.6 7.3h0m0.6 0.6h0m4.1 3h0m0.1 0.1h0m0.3 0.1h0m0.7-0.1h0m1.9 0.4h0m0.4-2.7h0m0.8 2.2h0m1.3 0.3h0m3.5 0h0m5.1-4.9h0m0.2 2.2h0m0.2-1.5h0m1.5-0.9h0m1.6 1.4h0m0.9-0.5h0m0.1-0.8h0m0.4 1.3h0m29.3 0.1h0m4.1 0.4h0m10.1-1.3h0m1.3 2.9h0m5.5-0.2h0m26.7-1.8h0m6.9 0.7h0m-104.4 4.2h0m1.3 0h0m0.9 2.3h0m0.2 1.6h0m0.1-1.8h0m0.1 3.3h0m0.3-3h0m0 2.4h0m0.3-4.7h0m0.1 3.1h0m0-2.4h0m0.6 1.3h0m0.6-0.5h0m0.2 1.8h0m0.6 1.8h0m0-0.2h0m0.1-3.3h0m1.5-1.8h0m0 2.7h0m0.9-2h0m0.1 1.5h0m3.2-0.4h0m4.5 3.2h0m1.6-3.8h0m7.4 3.3h0m11.8-0.1h0m2.2-1.2h0m5.2 1.8h0m4.3-5.3h0m6.6 5.2h0m2.4-1.5h0m1.4 1.9h0m0.7-2.8h0m0.7 1.7h0m1 1.2h0m0.4-1.8h0m0.3 1.7h0m5-1.2h0m0 1.1h0m2.8-3.3h0m0.3-0.6h0m3.3 0.4h0m0.1-1.8h0m3.7 2.1h0m-79.1 6.8h0m6.3-2.5h0m2.3-0.4h0m0.9-0.4h0m0.3 1h0m0.9 0.8h0m1.1 4.1h0m3.4-3.4h0m1.5-2.2h0m0.3 1h0m5.1 3.7h0m6.4 0.3h0m1.1-0.1h0m0.2-2.7h0m1.3 0.7h0m0.1-0.4h0m0.3 2.5h0m1 0.6h0m1.3-2.9h0m0.3-0.9h0m0.1 2.9h0m1.8-4.2h0m0.4 1.5h0m2.8 0.8h0m0.3-2.1h0m0.8 1.1h0m0.7-0.1h0m0.8-0.5h0m0.5 2.9h0m0.8 1.3h0m2.9 0h0m0.4-1.7h0m0.2 1.5h0m0.8-4.7h0m0.2 1.6h0m0.6-0.1h0m0.2 3.1h0m0.4-2.9h0m0.8 3.1h0m0.7-3.4h0m1.7-2.1h0m0.3 3.6h0m0.1 0.9h0m0.8-3.3h0m0.9 4.1h0m0.8-2.2h0m0.7-0.9h0m0.9 1.6h0m0.6-0.7h0m0.4 0.5h0m0.5-3.1h0m1.8 0.7h0m0.4 1.6h0m2.2 1.3h0m0.3 1.4h0m1.4-2.3h0m0.5-2.8h0m1.1 0.1h0m0.3 1h0m1.7 3.5h0m1-0.9h0m0 0.7h0m2 0.8h0m1.7-1.6h0m0.1-3.4h0m3.4 0.3h0m20.6 3.2h0m3.1-3.7h0m5.2 4.6h0m-99.3 4.4h0m1.5-0.1h0m1.7-2.1h0m3 1.3h0m5.4 1.8h0m4.6 0.9h0m0.5-0.2h0m1.3-3.5h0m0.5 3h0m6.5-0.5h0m0.7-3.2h0m0.6 1.2h0m0.2 1.3h0m1.1 0.5h0m0.4-3.2h0m1.9 4.8h0m0.8-1.4h0m1.1-4h0m0.2 4.1h0m1.1-0.3h0m0.5 1h0m0.3-1.4h0m0.3-3.5h0m1.2 3.9h0m1.9-0.9h0m0.2 1.4h0m0.5-0.7h0m0.1-0.7h0m1.4-1.2h0m1.6-0.4h0m0.6 2.1h0m0.8-0.6h0m0.1 1h0m0.9 0.1h0m0.1-1.6h0m0.1 0.5h0m0.7 0.2h0m0-1.9h0m0.3 0.6h0m0.9 0.6h0m0.2 2.3h0m5.1 0.8h0m0.8-4.8h0m3 4.1h0m0.2 0.2h0m0-3.1h0m2.2-0.1h0m2.3-1.7h0m1 4.9h0m0.1 0.6h0m0.2-1.4h0m4.9-3.4h0m13.6 3.6h0m-80.2 1.8h0m10.2 1.1h0m0.3-1.2h0m7.3 1h0m16.5-0.9h0m9.9 1h0m2.1 1.4h0m0.7 0.7h0m0.2-2.3h0m1 0.3h0m0.1-1h0m1.2 1.6h0m0.1 1.1h0m0.1 0.5h0m1.1 1h0m0.3-0.1h0m0.1-2.1h0m2.9-1.8h0m0.8 0.8h0m0.5 0.3h0m0.4 0.2h0m0.8-0.1h0m5.9-1.2h0" fill="none" stroke="#e3281b" stroke-width="1.6" stroke-linecap="round"/>
</g></g>
<g id="e2g" clip-path="url(#ce)"><g filter="url(#warp)">
<g filter="url(#gtex)" fill="#17a33b" stroke="#17a33b"><ellipse cx="50.3" cy="7.5" rx="5" ry="5" fill="none" stroke-width="3.9" opacity="0.7"/><ellipse cx="51.9" cy="23.5" rx="7" ry="8.7" fill="none" stroke-width="3.9" opacity="0.74"/><ellipse cx="60" cy="17.6" rx="4" ry="5.7" fill="none" stroke-width="3.3" opacity="0.6"/><ellipse cx="80.4" cy="30.2" rx="5.7" ry="6.7" fill="none" stroke-width="3.6" opacity="0.45"/><ellipse cx="112.2" cy="27.6" rx="5.5" ry="5.5" fill="none" stroke-width="3.6" opacity="0.74"/><ellipse cx="122.6" cy="24.3" rx="5.5" ry="5.5" fill="none" stroke-width="3.6" opacity="0.74"/><ellipse cx="134" cy="14.2" rx="4.7" ry="5.7" fill="none" stroke-width="3.3" opacity="0.34"/><ellipse cx="97.2" cy="32.7" rx="5.4" ry="3.4" stroke="none" opacity="0.3" transform="rotate(-30 97.2 32.7)"/><ellipse cx="95.5" cy="49.4" rx="8" ry="8" fill="none" stroke-width="4.1" opacity="0.7"/><ellipse cx="114.7" cy="49.4" rx="13.4" ry="8.4" fill="none" stroke-width="7.6" opacity="0.81" transform="rotate(20 114.7 49.4)"/><ellipse cx="95.5" cy="64.5" rx="10.5" ry="5.1" stroke="none" opacity="0.54"/><ellipse cx="121.4" cy="68.2" rx="14.2" ry="10.9" fill="none" stroke-width="9.8" opacity="0.81" transform="rotate(20 121.4 68.2)"/><ellipse cx="139.9" cy="79.6" rx="12.1" ry="8.4" stroke="none" opacity="0.54" transform="rotate(30 139.9 79.6)"/><ellipse cx="134" cy="91.6" rx="8" ry="6.4" fill="none" stroke-width="3.9" opacity="0.41"/><ellipse cx="147.4" cy="94.6" rx="5.1" ry="5.1" stroke="none" opacity="0.54"/><ellipse cx="65.3" cy="51.1" rx="14.6" ry="12.1" stroke="none" opacity="0.27"/><ellipse cx="65.3" cy="59.8" rx="6.7" ry="5.7" fill="none" stroke-width="3.9" opacity="0.6"/><ellipse cx="62" cy="69.5" rx="13" ry="8.8" stroke="none" opacity="0.2"/><ellipse cx="72.9" cy="77.6" rx="1.9" ry="1.9" stroke="none" opacity="0.78"/><ellipse cx="82.1" cy="87.9" rx="7.4" ry="8.4" fill="none" stroke-width="4.4" opacity="0.68"/><ellipse cx="83.8" cy="109.7" rx="8.4" ry="5.5" fill="none" stroke-width="4.1" opacity="0.66" transform="rotate(-15 83.8 109.7)"/><ellipse cx="62" cy="97.2" rx="10.5" ry="7.1" stroke="none" opacity="0.68" transform="rotate(10 62 97.2)"/><ellipse cx="35.2" cy="106.4" rx="9.7" ry="6.4" fill="none" stroke-width="4.1" opacity="0.49"/><ellipse cx="16.8" cy="103" rx="8.8" ry="2.4" stroke="none" opacity="0.06" transform="rotate(-10 16.8 103)"/><ellipse cx="45.2" cy="86.3" rx="2.7" ry="4.8" stroke="none" opacity="0.07" transform="rotate(-20 45.2 86.3)"/><ellipse cx="10.1" cy="123.5" rx="10.5" ry="5.1" stroke="none" opacity="0.39" transform="rotate(-15 10.1 123.5)"/><ellipse cx="30.2" cy="121.8" rx="7.1" ry="7.1" stroke="none" opacity="0.11"/><ellipse cx="44.4" cy="116.8" rx="8.8" ry="6.8" stroke="none" opacity="0.49"/><ellipse cx="33.8" cy="133.5" rx="8.8" ry="10.5" stroke="none" opacity="0.26"/><ellipse cx="41" cy="147.4" rx="3.4" ry="3.4" stroke="none" opacity="0.39"/><ellipse cx="132.3" cy="109.7" rx="13.8" ry="5.8" stroke="none" opacity="0.22" transform="rotate(-10 132.3 109.7)"/><ellipse cx="140.7" cy="121.8" rx="4" ry="6.7" fill="none" stroke-width="3.6" opacity="0.52"/><ellipse cx="124.8" cy="130.2" rx="7.4" ry="2.6" stroke="none" opacity="0.36" transform="rotate(-15 124.8 130.2)"/><ellipse cx="139" cy="135.2" rx="7.1" ry="7.1" stroke="none" opacity="0.32"/><ellipse cx="105.5" cy="62.8" rx="36.9" ry="33.5" stroke="none" opacity="0.12" filter="url(#b5)" transform="rotate(30 105.5 62.8)"/><ellipse cx="63.7" cy="66.2" rx="20.1" ry="18.4" stroke="none" opacity="0.12" filter="url(#b5)"/><ellipse cx="33.5" cy="119.8" rx="26.8" ry="21.8" stroke="none" opacity="0.08" filter="url(#b5)"/></g>
<path d="m44.4 5.4h0m1.5-0.4h0m0.1 0.2h0m0.2 0.3h0m0.2-1h0m0.7 0.4h0m0.4 0.6h0m0.2-0.1h0m0.1 0.4h0m0-1.3h0m0.9-2.1h0m0.6 0.5h0m0.4-0.6h0m0.7 0.2h0m0.6-0.7h0m0.3 0.2h0m0.1 0.2h0m3.2 1.2h0m0.7 1.4h0m1.4 0.4h0m1.2 0.1h0m-14.3 4.2h0m0.4-2.1h0m0.5 2h0m0.8 1.6h0m0 0.1h0m0-5h0m0.7 3.8h0m0.5-2.9h0m0 4.4h0m0.6-4h0m1.1 4.1h0m2.4 0.3h0m1.1-1.1h0m0.1 1h0m0.5-3.4h0m0 1.5h0m0.8 1.2h0m0-1h0m0.1-0.3h0m0.3 1.7h0m0.4-1.6h0m0.2 0.9h0m0-2h0m0 0.3h0m0.3-2.3h0m0.9 1.1h0m0.1 0.6h0m0.1 0h0m0.2-1.3h0m0.4-0.9h0m0.1 1.3h0m1.3 3.5h0m3.2 0.7h0m0.7-0.4h0m67.9 0h0m0.8-0.6h0m0.2-0.2h0m1.3-0.7h0m0.5-0.3h0m0.8 0.5h0m0.3-1.2h0m0.9-0.6h0m-90.2 9.6h0m1.4-0.5h0m0.7-1.3h0m1-3.9h0m0.5 0.9h0m0.1 2.7h0m0.1-0.1h0m0.3 0.4h0m0.2 1.4h0m0.8-1.6h0m0.1 0.5h0m0.1-3.8h0m0.1 2.8h0m1.1 0.9h0m0.1-0.7h0m0.4-0.9h0m0-1.5h0m0.1 2.2h0m0.3 0.3h0m0.2-3.4h0m0.9 0.5h0m0.1-0.4h0m0.3 3.3h0m0.2 0.2h0m0.1-3.5h0m0.9 3.3h0m0.4 0h0m0.2 1.1h0m0.4-0.2h0m0.3-2.3h0m0.4 0.6h0m0.1-0.9h0m0.2-1h0m0.1-0.1h0m0.2 4.6h0m0.3-3.1h0m0.1 2.6h0m0.1-4.1h0m0.6-0.1h0m0.5-0.2h0m0.5 0.1h0m0.3 1h0m0.3 0.2h0m1.4-1.5h0m0 0h0m0.5-0.2h0m1.4 2h0m0.5 2h0m0.1 0.4h0m0.2 1h0m0-2.5h0m0.7 2.1h0m57.5 0.9h0m3.8-0.4h0m3.1-4.5h0m1.2 0.6h0m0.1 3.1h0m0.2-4.2h0m0.7 1.3h0m0 1.6h0m7.5 0.9h0m0.1-2.3h0m0.6 0.1h0m-94.8 5.4h0m0.3-0.5h0m0.2-0.3h0m0.4-0.1h0m0 1.7h0m0.3 0.8h0m0 1.6h0m0.1 1h0m0.1-5.5h0m0 3.9h0m0.8-2h0m10.4-0.6h0m0.2-0.5h0m0 0.5h0m0.2-1.6h0m0.3 0.2h0m0 0.7h0m0-0.4h0m0 0h0m0.9 1.9h0m0.2-1.9h0m0.3 4.2h0m0.6-0.4h0m0.1-0.3h0m0.1 0.2h0m0-1.3h0m0 2.5h0m0.2 0.4h0m0.1-4.8h0m0.1 1.5h0m0.2 1h0m0.1 0h0m2.2 2.3h0m0.2-1.6h0m0.2 0.6h0m0.3-2.5h0m0.6-0.5h0m0.6 0.2h0m0.2-1.4h0m0.3 1.1h0m0 0.7h0m13.1 3.3h0m4.2-0.1h0m25.9-0.5h0m0.8-0.4h0m0.5-1.3h0m0.2-0.6h0m0.8 1h0m0.2-0.8h0m0.2 1h0m0.1-1.1h0m1.7 1.7h0m0.9 0.2h0m0.8 0.7h0m0.1-1.5h0m0.2 1.2h0m0.2-0.3h0m0 1.1h0m0.5-1.6h0m0.9 0.7h0m1.7-0.4h0m0-0.6h0m0.1 1.7h0m0-0.2h0m0.3-0.3h0m0.2-2.1h0m0.2 2.1h0m0.1-1.6h0m0 1.7h0m0.3 0h0m0-2.4h0m1.1-1.6h0m0.6-0.9h0m0.6 0.2h0m1.5 0.6h0m0.1-1.1h0m0.7 0.1h0m1.1-0.2h0m1.4 0.5h0m0.4 3.4h0m0.1-0.4h0m0.5 0.6h0m0.2 1.3h0m0.2-3.8h0m0 3.2h0m0.1 0.9h0m0.1-2.4h0m0.1-0.5h0m0.3 1.4h0m0.1-0.1h0m0 0h0m2.4-3h0m0.5-0.6h0m0.1 0h0m0.6 0.1h0m0.7 0h0m2.7 0.8h0m0 1.5h0m1.5-2.5h0m0.4-0.4h0m-90.6 7.5h0m0-1h0m0.4-0.4h0m0 0.7h0m0.1 2.7h0m0.5-2.8h0m0.5 4h0m0 1.1h0m7.1 0.1h0m0.7-1.4h0m1.2 0.7h0m0-0.7h0m0.6-1.7h0m0.1 0.3h0m0.3 0.3h0m0.3-1.5h0m0.9-1.7h0m0.2-0.2h0m0.3 0.4h0m0.2 2.4h0m15.1 0h0m0.9-2.3h0m0.3 5.1h0m3.7-5.5h0m0.3 0.6h0m1.2 0.1h0m0.1 0.5h0m0.3 0.4h0m0-0.8h0m0.5-0.8h0m0.3 1.6h0m2-1.2h0m0.1 0h0m0.6 0.1h0m2.4 3.4h0m13.2 1.6h0m6.3 0.1h0m0-1.7h0m0.2-1.1h0m0.1-1.4h0m0.1 3.5h0m0-4h0m0.3-0.9h0m0.1 2.9h0m0.1-2.2h0m0.2 1.5h0m0.1 1.4h0m0-2.6h0m0.5 1.7h0m6.8-2h0m0.4 0.3h0m0.1 1.1h0m0.2-1.9h0m0.1 0.9h0m0.3-0.3h0m0-0.4h0m0.1 1.6h0m0.2 0.3h0m0.3 1.3h0m0.1-2.2h0m0-0.4h0m0.1 2.1h0m0.1 0.3h0m0.3-2.6h0m0.1 0.6h0m0.1 0.9h0m0.4 2h0m0.1-2.7h0m0 1.7h0m0 0.3h0m0.1-0.2h0m0.2-0.1h0m1.5 1.9h0m1.2 0.1h0m0.4 0h0m3.8-0.2h0m0 0.6h0m0.2-1.1h0m0.4-1.1h0m0.1-2.2h0m0.2 1.1h0m0.1 0.6h0m0-2.9h0m0.1 1.1h0m0.3 0.9h0m0.1-1.1h0m0.2 1.4h0m0.1-2.1h0m0.3 2.2h0m0.7 0.5h0m-82.4 4.1h0m0.8 1.1h0m0.4-2.2h0m0 1.3h0m0.4-1.2h0m0.1 2.1h0m0.4-1.1h0m0.1 1.9h0m0.3-1.4h0m0 1.3h0m0.1 0.2h0m1.3 1.7h0m0.2-2.9h0m0 1.8h0m0.1 0.2h0m0.3-1h0m0.5-0.3h0m0.1 0.2h0m0.2 2h0m0.2-1.1h0m0.5-2h0m0.4 0.5h0m0.3-1.7h0m0.6 1.2h0m0.1-1.8h0m0.1 1.2h0m0.4 1.8h0m1-3h0m0.5 1.4h0m19.6 3.1h0m0.4 0.6h0m0.1-4h0m0.2 1.3h0m0.1-1.2h0m0.1-0.7h0m0.3 5h0m0.2-2h0m0.3-0.5h0m0.5 2.8h0m4.3 0.1h0m1.3-1h0m1.9 0h0m0.4-1h0m0.6-3.4h0m0.7 1.9h0m7.6 2.9h0m1.4-0.7h0m0.3-2.1h0m0.3-0.8h0m1 0.6h0m0.3 3.4h0m0.4-5.7h0m1.2 3.8h0m0.3-2.1h0m1.6-0.2h0m0.5-0.5h0m6.4 0.5h0m0.2 0.9h0m0.2 0.2h0m1.7-0.4h0m0.3 0.1h0m1 0h0m0 0.8h0m0.8-2h0m0.1 2.1h0m0.2-0.8h0m0.5-0.2h0m0-1.3h0m0.2 1.7h0m0-0.9h0m1.6 0.3h0m0.8-0.3h0m1 0h0m4-1.5h0m0.7-0.1h0m4.5-0.1h0m-64.5 11.6h0m0.5-0.2h0m1.7-1.2h0m0.7-0.7h0m1.8 0.4h0m3.6 1.7h0m0.7-1h0m0.3 0.7h0m2.3-0.2h0m3-5.1h0m0.9 1h0m3.1-0.4h0m0.6 0h0m0.5 0.5h0m0.8-0.5h0m8.6 5h0m1.2 0h0m1.4-0.2h0m0.5-0.1h0m0.2-1.7h0m0.5 0.7h0m0.1-0.2h0m0 1.1h0m0.1 0.4h0m0.8-2.3h0m0 1.4h0m1.2 0.5h0m0.8 0.7h0m0.5-1.1h0m2.5 0.7h0m0.2 0.2h0m0.3-1.6h0m0.8 1h0m2.2-0.3h0m0.7 1h0m0.3 0.1h0m1 0h0m0.2-0.4h0m0.1 0.1h0m0.2-0.1h0m0.1-0.1h0m0.7 0.4h0m0.2-2.4h0m0.3 1.5h0m0.6-2h0m0.1 1.9h0m0.3 0.3h0m1.7-1.6h0m0.2 1.2h0m0.7-3.4h0m1.5 4.3h0m0.6-3.6h0m0.3 2h0m0.5 0.9h0m0.2-0.8h0m0.3 1.7h0m0.2-1.9h0m0 1.7h0m2.9-2h0m0.1 1.8h0m0.6-1.1h0m0.5-2.8h0m1 4h0m0.3-1.4h0m1.8 0h0m1.1-0.6h0m-68.9 5.9h0m0.5 0.4h0m1.4-1.2h0m0.4 1.9h0m0.1 0.3h0m0.1 1h0m0.1-0.1h0m1.6-5.4h0m0.2 1.3h0m0.3-1.5h0m0 0.4h0m0.1 4.6h0m0.5-3h0m0.1 2.2h0m0.4-4.2h0m0.2 4.4h0m1-3.9h0m0.2-0.3h0m0.1 3.8h0m0.9-4.1h0m0.9 5.8h0m0.8-0.6h0m0.6-4.4h0m0.9 3.8h0m0.3-4.3h0m3.2 3.9h0m0.7-1.2h0m0.1-0.5h0m0.3 0.4h0m0.1-2.2h0m1.4 4.2h0m1.7-0.5h0m0.2 1.2h0m0.8-4.4h0m0.4 4.1h0m0.9-4.3h0m0.1 4.4h0m12-0.9h0m0.5-1.9h0m0.1 0.3h0m0.3-0.6h0m0.3 2h0m0.1 0.4h0m0.3-4.2h0m0.5-0.2h0m0.2 1.3h0m0.1 2.5h0m0.6-3.3h0m0.3 0.6h0m0.5-0.7h0m0.4-0.6h0m0.7 0.1h0m0.4 1.8h0m0.2-0.6h0m1-1.1h0m0.6 0.5h0m1.1 0h0m0.3 2.8h0m0.3-0.8h0m0.9 0.1h0m0.7 2.1h0m0.2-1.4h0m0.1-3.1h0m0 1.7h0m0.1-1.8h0m0.1 1.7h0m0.6-0.7h0m0.2-0.2h0m0.1 1.9h0m0.1 1.4h0m0.1-3.1h0m0.2-0.8h0m0.1-0.6h0m0 5.7h0m0.1-5.5h0m0 0.7h0m0.4 4.1h0m0-0.4h0m0.1-0.5h0m0-2.9h0m0.2 2h0m0.3-0.8h0m0.1-1.5h0m0 1.7h0m0.8 0.2h0m0-2.6h0m0.1 1.3h0m0-0.5h0m0.4 1.8h0m0-1.7h0m0.1 0.9h0m0-0.6h0m0.3 0.2h0m0.2-0.6h0m0.1 2.6h0m0-0.1h0m0.1 0.1h0m0 1.1h0m0.4 0.1h0m0.3 0.2h0m0.1-4.2h0m0-0.6h0m0.1 1.4h0m0.3-0.6h0m0.1 4.4h0m0.7-1.2h0m0.1-2.8h0m0 4h0m0.5-0.2h0m0.4-3.7h0m0.2-0.7h0m0.2 0.5h0m0.2-0.5h0m0.6-0.4h0m0.1 1h0m0 0h0m0.8-1.2h0m0.6 0.2h0m0.5-0.4h0m0.2 0.9h0m0.2 1.4h0m0.9 0.6h0m0.5-0.7h0m0.4-0.7h0m0.7-1.6h0m0.3 2h0m0.2-1.7h0m5 1.9h0m0.7-1.9h0m0.1 1.3h0m1.2-1.4h0m1.1 1.1h0m0.9 0h0m0 4.7h0m0.1-3.6h0m0.2-2.2h0m0.2 1.7h0m0 0.3h0m0.1 1.3h0m0.4-2.2h0m0 1.4h0m0.3 1.7h0m0.2 1.2h0m0-1.4h0m0.4 1.5h0m0.2-1.1h0m0.1-2h0m0.2-0.5h0m0.1 0.9h0m0.1 2.1h0m0-4.1h0m0.3 3.7h0m0.2-3.6h0m0 3.5h0m0.2-2.4h0m0.1 1.5h0m0.1-1.1h0m0.1 2.8h0m0.2-3.1h0m0.3 1.5h0m0.4-2h0m0.3 4.1h0m0.6-0.4h0m0.4-1h0m0.2 1.3h0m0.4 0.1h0m0.6-0.6h0m0.3 0.7h0m0.5-0.5h0m-76.1 3.7h0m0.9 2.7h0m0.1-2.2h0m1 2.1h0m0.2-3.5h0m0.8 3h0m0-1.9h0m0.6-3.2h0m0.4 0.4h0m0.1 5.3h0m0.5-2h0m0.1 0.7h0m0.2-4.5h0m0.4 1.6h0m0.1 3.6h0m2.2 0.3h0m1.3-3.9h0m0.1 1.8h0m0.4-1.6h0m0.8 2.8h0m0.7-3h0m0.2 3.6h0m0.6-5.1h0m0.1 0h0m0.5-0.1h0m2.5 4.6h0m0.1-3.3h0m0.1 1.7h0m2.2 2.9h0m0.1-0.5h0m0.2-4.2h0m0.9 1.3h0m0.1 3.2h0m0-1.6h0m0-0.4h0m0.2-0.4h0m2 1.4h0m4.5-3.9h0m0.3 3.7h0m8.4-2.8h0m0.2-0.5h0m0.1 0.7h0m0.5-0.8h0m0.1 3.6h0m0.6-4.3h0m0.1 4.8h0m0.1-4.5h0m0.5 2.4h0m0.1 2.3h0m0.3-0.4h0m0.4 0.9h0m0.2-0.9h0m8.6 0.7h0m0.1-5.7h0m0.2 0.9h0m0.2 3.6h0m0.7-3.9h0m0.2 0.8h0m0.6 4h0m0.2-0.4h0m0.1-0.7h0m0.8-3.3h0m0.3 3.6h0m0.1-1h0m0 1.8h0m0.2-0.7h0m0.1 0.2h0m0.1-0.9h0m0.3-2.4h0m0.6-0.8h0m0.4 1.1h0m0.1 1.7h0m0.1 0.8h0m0.2-2.3h0m0-1.4h0m0.3 0.8h0m0.2 0.6h0m0 0.7h0m0.2-1.3h0m0 1.3h0m0.1-2h0m0.1 0.5h0m0.1 3.1h0m0.2-1.4h0m0.1-0.7h0m0.1 0.8h0m0.3-1.9h0m0.5 4.1h0m1.3-1.7h0m0 1.5h0m0.6-0.5h0m0-0.1h0m1.1 1.2h0m0.2-0.4h0m0.5-2.4h0m1.2 2.6h0m2.2-3.2h0m2.1 2.9h0m1.3 0.3h0m1.5-1h0m0.6-0.1h0m1.9-1.3h0m0-0.8h0m0.4-0.3h0m0.1 3.8h0m0.8-0.5h0m0.1-2.1h0m0.7 1.9h0m1-0.6h0m0.2-4.6h0m0.2 5.6h0m0.5-4.9h0m0.5 4.9h0m0.1-5.2h0m0.1 0.2h0m0.2 4.4h0m0-4.7h0m0.7 0.2h0m0.2 0.9h0m0.1 1.4h0m0 1h0m1-2.9h0m0.1 3.3h0m0.2-3.1h0m0.3 4.1h0m0.1-3h0m0.6-1.5h0m0.1 1.1h0m0.2 0.4h0m0-0.8h0m0.7 1h0m0.6-0.7h0m0.2-0.3h0m-78.3 5.5h0m0.8 0.2h0m1.8 2.5h0m1.3 1.1h0m0.2-4.7h0m0.8 4.7h0m0-0.8h0m0.2-1.2h0m0.1-2.1h0m0.1 5.1h0m0.1-1h0m0.2 0.8h0m0-0.6h0m1.3-3h0m0.1 1h0m0.1-1.7h0m0.2 0.2h0m0.4-0.4h0m0.1 4.1h0m0.1 0.5h0m0.2-5h0m0.3 0.7h0m1 3.3h0m0-1.5h0m0.4-0.7h0m0.3-0.2h0m0.2-2.1h0m0.1 1.5h0m0.1-0.2h0m0 2.3h0m1-2.1h0m0.1-1.4h0m0.9 2.9h0m0.2-2.8h0m0.4 1.7h0m0.7 1.8h0m0.3 0.2h0m0.2-2.8h0m0.5-0.4h0m0.4 0.6h0m0.9 0.8h0m0.3 0h0m0.5-1.1h0m0.7 0.7h0m0.2 0.1h0m1.1 2.6h0m0.2 0.9h0m0-2.1h0m0.1-0.7h0m0-0.2h0m0.1 2.2h0m0.2 0.6h0m0.2-0.6h0m0 0.6h0m0.7 0.3h0m0.2-1.6h0m0 0h0m0 1.4h0m0.1 0.4h0m0.3-2.2h0m0.1 0.8h0m0-2.4h0m0.7 1.7h0m0.3 0.6h0m2.4-1.3h0m0.6-2.7h0m11.3 0.6h0m0.7 1.2h0m0.2 0.4h0m0.3-2.3h0m0.6 2.2h0m0-0.3h0m0.5 1h0m0.4-2.7h0m0 4.7h0m1.2-1.4h0m0.6 1.5h0m0.7-1.4h0m0.2 0.4h0m0.9-0.3h0m1.4 0.2h0m0 0.3h0m0.1-0.8h0m0.6-0.7h0m0 0.3h0m0.3 0.3h0m0.1-0.7h0m0.6 0.1h0m0.4-0.9h0m5.6-1.4h0m1.6 0.5h0m0.1 0.6h0m0.1-0.2h0m0.4 2.2h0m1-3.1h0m0.8 4.9h0m0.2-5.2h0m0 2h0m0.2 1.4h0m0.2-1.6h0m0 0.1h0m0.2-0.6h0m0 2.1h0m0.1-1.1h0m0.2 1h0m0.1 2.2h0m0.4-5.2h0m0 2.7h0m0.1 2.2h0m0.2-0.6h0m0.3-0.2h0m0.1-4.3h0m0 3.5h0m0-2.1h0m0 0.1h0m0.1 3.9h0m0.2-2.4h0m0.1-1h0m0 1.2h0m0 1.7h0m0.1-0.1h0m0-0.2h0m0.2 0.5h0m0.1-5.1h0m0 4.4h0m0-3.1h0m0.2 4.3h0m0.1-1.4h0m0-1.9h0m0.2 2.5h0m0.1-2.9h0m0.2 2.2h0m0-3.5h0m0.1 3.4h0m0-1.9h0m0.2 1.3h0m0.1-0.1h0m0.3-3.1h0m0.1 5.1h0m0-0.6h0m0.2-1.9h0m0.1 1.6h0m0.1-3.1h0m0 0.1h0m0.1 3.3h0m0.1-1.5h0m0-0.3h0m0-0.8h0m0.1-0.1h0m0.1 0.7h0m0 1.9h0m0.1 0.1h0m0-0.9h0m0.1-2.9h0m0.1 2.1h0m0.9-0.3h0m0.1 1.5h0m0.1-3.7h0m0.1-0.2h0m0.1 5h0m0-2.5h0m0.3-0.1h0m0.1 1.6h0m0.2-2.6h0m1.1 3.6h0m0.1-0.1h0m0.3-0.2h0m0.1-2.7h0m0.1 2.5h0m0-0.7h0m0.2-2.1h0m0.7 2.6h0m0-1.7h0m0.1 1.4h0m0.2-1.8h0m0.2 1.2h0m0.2 0.2h0m0.1-3.8h0m0.3 4.6h0m0-0.3h0m0.3-0.3h0m0.4 0.2h0m0.2-3.7h0m0.1 4h0m0 0.6h0m0.1-5h0m0.2 2.3h0m0-0.7h0m0.2-0.3h0m0.1 2.3h0m0.2-1.3h0m0-0.2h0m0.5 1.2h0m0 0.2h0m0.1-0.5h0m0.1-1.2h0m0.2 0.6h0m0.2-0.2h0m0 2.5h0m0-1.9h0m0.3 1.5h0m0-2.7h0m0 0.2h0m0 1.2h0m0.1 0h0m0.7-0.6h0m0 2.3h0m0.5-2.3h0m0.1 0.7h0m0.1-2.7h0m0 2.8h0m0.3 1.7h0m0-4h0m0.4 4h0m0.1-4.3h0m0.4 2.5h0m0.2-3.1h0m0 4.5h0m0.5-3h0m0.8-1.6h0m0.1 3.1h0m0.2-3.4h0m0 2.3h0m0.3 1.8h0m0.4 0.9h0m0.5-4.2h0m0.1 4.4h0m0.3-2h0m0.8-0.3h0m0.5 1.8h0m-76 6.4h0m2.1-4.4h0m0 5h0m0.2-5.1h0m0.3 0.3h0m0.4-0.7h0m0 0.1h0m0.4-0.2h0m0.4 3.7h0m0.7-1.3h0m0.6 1.3h0m0.1-0.6h0m0 1.4h0m0.4 0.5h0m0.2-1.5h0m0.4 1.8h0m0.3-4.3h0m0.3 4.3h0m0.2-4.2h0m0.8 3.4h0m0.4-2.3h0m0.8 3.4h0m0.2-0.6h0m0.6 0h0m0.5-3.2h0m0.1 3.9h0m0.1-1.5h0m0.2 0.5h0m0.1 0.5h0m0.1-0.2h0m1-3.7h0m0.2 2h0m0-2.2h0m0.4 0.4h0m0.6-0.1h0m0.1 2.3h0m0.2-0.3h0m0.3-1.1h0m0.5-2.4h0m0 4h0m0.5-1.5h0m0.7 1.2h0m0.1-1.9h0m0.1 1h0m0.7-1h0m0 0.4h0m0.5-0.2h0m0.3 0.2h0m0.3-2.1h0m0.9 0.8h0m0.1-0.7h0m12.7 5.4h0m0.7-0.4h0m0.8-3.3h0m0.2 2.4h0m0.2 1.4h0m1-4.3h0m0.8 1.7h0m0.7-2.6h0m0 0.5h0m0.5 0.5h0m0.3 2.9h0m0.3-1.1h0m0.1-2.8h0m0.3 0.8h0m0.3 2h0m0.9 0.5h0m0.4-2.6h0m0.1-1h0m0 1.2h0m0.1 0.3h0m0.3-0.1h0m0.4-0.7h0m0.4 2.3h0m0.1-0.6h0m0.7-0.6h0m0.4-0.6h0m0.3 1.1h0m0.3 2.5h0m0 0.6h0m0.3 0.3h0m0.5-2.2h0m0.2 1.1h0m0.8-3.6h0m0.5 3.3h0m0.4-0.6h0m0.5-2.5h0m0.2 0.8h0m0.7 1.7h0m1.1 2h0m1.8-1.3h0m0.4-1.7h0m0 2.5h0m0.4-1.8h0m1.3-2.1h0m0.9 2.3h0m0.4-0.3h0m0.3 1.2h0m0.5 0.5h0m0.1-0.2h0m0.4-3.7h0m0-0.5h0m0-0.6h0m0.2 1.2h0m0.1 3.5h0m0.6 0h0m0.2 0.5h0m0.4-3.2h0m0 2h0m0.1-1.5h0m0.2 0.2h0m0.1 0.1h0m0.3 2.7h0m0.1-5.3h0m0 0.8h0m0.1 3h0m0.1-2.8h0m0.4 0.9h0m0 2.2h0m0.3-4.3h0m0.2 0.9h0m0.4 0.5h0m0.1 2h0m0 0.7h0m0-0.1h0m0.1 0.7h0m0.1-3.1h0m0.1 1.7h0m0.3-2.8h0m0 0.6h0m0.1 1.5h0m0.1 0.8h0m0-3.6h0m0.2 1.4h0m0.1 1.3h0m0 2.4h0m0.1-5.1h0m0.3 2h0m0.2-1.8h0m0.1 0h0m0.1 3h0m0.1-0.2h0m0.2 2.9h0m0.8-0.1h0m0.1-1.3h0m0.7-2.1h0m0.5-0.1h0m0.8 1.7h0m0.4-2.4h0m1.6 0.2h0m0.1-0.3h0m0-1.5h0m0.4 0.9h0m0.2-0.2h0m0.1 0.4h0m0.4 0h0m0.4 0.1h0m0.3-0.3h0m2.4-0.3h0m0.3 2.1h0m0.4-0.5h0m0.1-1.3h0m0.5 1.9h0m0.2 1.3h0m0.2-0.8h0m0.7-2h0m0.1 0.7h0m0.1 1.2h0m0.1-2.7h0m0 1.4h0m0.1-1h0m0.1 1.1h0m0 0.4h0m0.3 1.3h0m0.1-1.7h0m0.6-0.9h0m0.1 4.4h0m0.5-4.2h0m0.3 1.7h0m0.3 2.9h0m0.1-5.9h0m0.1 0.2h0m0.2 5.4h0m0.1-3h0m0.3-2h0m0.1 2.5h0m0.1-0.8h0m0.5-2h0m0.1 0.7h0m0.1 0.1h0m0.2 1.5h0m0.2-0.6h0m0 2.8h0m0.2-4.6h0m0.3 3h0m0.2-0.6h0m0-2.5h0m0.1 1.4h0m0.1-1.4h0m0.5 4.9h0m0.1-0.3h0m0 0h0m0.3-2.4h0m0.5 1.9h0m0.5-0.7h0m0.9 1.5h0m0.2-3.9h0m0.5-0.4h0m0.2 3.3h0m0.5 1.2h0m0.3-0.5h0m0.5 0.6h0m-86.7 5.3h0m0.9 0.3h0m0.3-3.4h0m0.3 3.8h0m0.2-5.2h0m0.6 2.2h0m1.6 2.6h0m0.1-0.9h0m3.1-3.2h0m1.7 2.6h0m0.9 0.5h0m0.4-1.2h0m1.3-2.6h0m1.1 2.1h0m0.6 1.9h0m0.7-1.5h0m0.1 0.5h0m0.8-1.1h0m0.2 3.7h0m0.5-0.1h0m1.5-4.3h0m1.6 2.6h0m1.4 1.3h0m0.4 0.1h0m0.1-1.5h0m0-2.4h0m0.4-0.8h0m0.5 1.1h0m0.2 2.1h0m0.6-1.2h0m1.1-2.6h0m16.2 1h0m1.5 0.4h0m0.8 0h0m0.2-0.4h0m0.3-0.3h0m0.3 0.1h0m0.6 0.9h0m0.9 1.3h0m0.6-0.6h0m0.1-1.5h0m0.7 2h0m2.1-0.5h0m1.1-1.7h0m1 1.2h0m0.1 0h0m1-1.4h0m0.9-0.3h0m1.2 1h0m0.3 1.8h0m0.6 1.1h0m0.7-3.9h0m0 5.4h0m0.3-0.2h0m0.3-4.2h0m0.2 3.2h0m0.2-2.1h0m0.2-0.2h0m0 1.8h0m0-1.8h0m0.3 1.5h0m0-2.4h0m0.4-0.5h0m0.1 2.7h0m0.1-1h0m0.3-0.6h0m0.2-1.6h0m0.1 3.2h0m0.6-0.5h0m0.1 1.4h0m0-4.1h0m0.8 3h0m0.1-1.1h0m0.1-2.2h0m0.6 4.3h0m0.1-2.3h0m0.8 0.1h0m0-1.3h0m0.3 4.9h0m0.2-4.2h0m0.4 4.4h0m0.3-5h0m0.5 0.6h0m0.1-0.6h0m2.8 3.6h0m0.2-1.6h0m0.4-2.4h0m0.4 0h0m11.5 0.7h0m1.6-0.6h0m0.3-0.5h0m0.3 2.9h0m1-2.1h0m0.2 2.4h0m0-1.6h0m0.4-1.5h0m0.3 3.8h0m0.2-1.9h0m0-0.9h0m0.2 1.6h0m0.1 3h0m0.7-5.4h0m0.1 3h0m0.1 2.2h0m0.1-2.9h0m0.1 1.6h0m0 1h0m0-0.1h0m0.1-4.1h0m0 0.7h0m0 1.7h0m0.1-2h0m0.1 4.4h0m0.1-0.9h0m0-0.8h0m0.3-1.7h0m0.2 2.3h0m0-3.1h0m0.1 3.7h0m0.1-2.6h0m0.2-1h0m0.1-0.5h0m0.1 1.2h0m0.2 2.2h0m0.2-2.2h0m0.1-1.3h0m0.2 1.3h0m0.3 1.2h0m0.3-1.3h0m0-0.3h0m0.2 0.8h0m0 1.8h0m0-1.5h0m0.1 1.9h0m0 0.2h0m0.2-0.9h0m0.1-3h0m0.3 3.9h0m0 0.4h0m0.2-0.6h0m0.2-1.5h0m0.1 0.8h0m0.3-4.3h0m0.2 2.5h0m0.1 2.7h0m0.2-4.6h0m0.2 3.3h0m0.1 0.8h0m0.1 0.8h0m0.1-3.1h0m2.2 3.1h0m-89.8 0.7h0m0.3 0.8h0m0.1 1h0m0.5 0.4h0m6.7-1.6h0m1.7 3.5h0m0.1-3.2h0m3-1.1h0m1.7 4.4h0m0.4-4.2h0m2.5 3h0m1.1-0.8h0m1 0.1h0m1.5 3.2h0m0.2 0.2h0m1.3-0.8h0m0.2 0.1h0m0.6 0h0m30.8-4.9h0m1 3.9h0m0.5-3.5h0m0.2 4.9h0m0.6-3.8h0m1.6-0.4h0m0.7 4.1h0m0.6-2.3h0m1-1.1h0m0.5 1.2h0m0.6-0.1h0m0-0.1h0m0.2 1h0m0.2-0.8h0m0.5 2.2h0m0.1 0.1h0m0.1-3.4h0m0.2 3.2h0m2.1-0.7h0m0.2 1.1h0m0.2-0.5h0m0.1-1.7h0m0.1 0.6h0m0 1.2h0m0.2 0.4h0m0.1-0.1h0m0.3-3.6h0m0.2 1.4h0m0.1 1.4h0m0.5 0.7h0m0.5-1.6h0m0.1 1.2h0m0.2-2.6h0m0.8 2h0m0.5 0.8h0m1.1-1.3h0m0 0.8h0m0.3 0.5h0m0.3-2.9h0m0.3 0.9h0m0.4 1.3h0m0.1-1.4h0m0.2 2.6h0m0.5-0.7h0m0.1-3.1h0m0.5 1.4h0m0 0.5h0m0.2-2.7h0m0 3.1h0m0.2 1.1h0m0-4.1h0m0.6 3.4h0m0.2-1.5h0m0.1 2.3h0m0.4-0.2h0m0.1-1.5h0m0.7-0.2h0m0.3 0.8h0m0.2-1.5h0m0.8 2.6h0m0.1-1.3h0m0 1.1h0m0.2-1.5h0m0.3-0.3h0m0.6 0.6h0m0.4 0h0m0.3-0.7h0m0-1.4h0m0 3.3h0m0.2-0.9h0m0.3-1.2h0m0 1.4h0m0.2 0.9h0m0.1-2.7h0m0.1 0.8h0m0.2-0.2h0m0.1-0.6h0m0 2.3h0m0.5 0.4h0m0-5.2h0m0 1.8h0m0.2 0.5h0m0.1 2.1h0m0.2-4h0m0.1 2.7h0m0 0.2h0m1.1-0.1h0m0.3 1.3h0m0.3-4.1h0m0-0.2h0m0.2 3.6h0m0.4-0.9h0m0.4-1.4h0m0 3.6h0m0.4-2.1h0m0.1-2.4h0m0-0.6h0m0.4-0.1h0m0.1 5.6h0m0.2-0.2h0m0.5-0.9h0m0.3 0.4h0m0.1 0.4h0m0.1-3.4h0m0.1 0.6h0m0.1 1.4h0m0-1.9h0m0.1 1h0m1.5 1.5h0m0-4.1h0m0.4 2h0m0.1-1.2h0m0.3 1.7h0m0.1-1.4h0m0.7 3.3h0m0.1-3h0m0.3 3.4h0m0.2-0.6h0m0.1 0.1h0m0.1-0.4h0m0-1.8h0m0.8 2.7h0m0.4-3.1h0m0-0.5h0m0.2-0.7h0m0.3 3.7h0m0.1-2.6h0m0.4-1.2h0m0.3 1.6h0m0.6 2.3h0m0.3-0.3h0m0.2-2.3h0m0.2-0.2h0m0.4 0.7h0m0.2 0.1h0m0.5 0.3h0m0.2 0.3h0m0.1 0.2h0m0.5 1h0m-72.8 1.4h0m0.2 0.6h0m1.6 4.4h0m0.2-0.5h0m0.1-0.3h0m0.5 0.7h0m0.2 0h0m0.4-1.9h0m0.9 0.1h0m0.5 0.7h0m0.1 0.8h0m0.1-1.2h0m0.5-0.9h0m0.4 1.8h0m0.1-2.1h0m0.4-0.9h0m0.2 0.1h0m0.5 0.6h0m0.7-1.4h0m0.1 1.3h0m0.3 0.1h0m0.2 0.2h0m0.1 0.6h0m0.4-2.8h0m0.2 1.7h0m1.7 0.6h0m0 0.8h0m1.2 0.9h0m0.9-0.6h0m1.3-1.2h0m0.7 3.2h0m0.5-2.4h0m0.3 2.6h0m0.3-0.7h0m0 0h0m0.5 0.1h0m0.1-0.6h0m1.1 1.2h0m0.7-1.3h0m19-4.6h0m1.4 1.4h0m0.6 2.4h0m0.4-2.3h0m0 1.4h0m0.8-1.9h0m0.1-0.9h0m0.4 2.4h0m0-0.6h0m1.2 0.7h0m0-1.2h0m0.3-1.1h0m0.1 2.2h0m0.2-1.9h0m0.3 0.5h0m0.4 0.6h0m0.5-0.4h0m0.1 0.8h0m0.1-2h0m0.4 3.2h0m0.8-1.8h0m0.2-1h0m0.1 0h0m0.2 1.9h0m0.4-2.1h0m0.5 0.9h0m0.2 0.2h0m0.7-0.5h0m0.1 1.8h0m0.2-0.1h0m0.1-2.5h0m0.5 1.7h0m0.1 0.1h0m0.9 1.5h0m0.3-2h0m0.3 1.4h0m0.1-2.4h0m0.3 1.5h0m0.1-1h0m0 2.6h0m0.4-3h0m0.2 1.4h0m0.3-1.3h0m0.3 0.1h0m0.2 0h0m0.3 2.3h0m0.2-2.6h0m0-0.3h0m0.8 1.7h0m0.1-1.2h0m0 0.6h0m0.2-0.9h0m0 0.7h0m0.9 1.1h0m1.7-1.6h0m0.2 0.3h0m0.3-0.5h0m0.1 0.1h0m0.3 2.5h0m0.5-0.7h0m0.3-1.4h0m0-0.7h0m0.3 3.6h0m0.4-1.9h0m0.2 3.7h0m0.1-5h0m0 0.7h0m0.2 1.9h0m0.5-2.2h0m0.2-0.3h0m0.4 0h0m0.1 0.6h0m1.1 0.5h0m0.1-1.1h0m0.2 5.1h0m0.3-5h0m1 0.3h0m0.2 0.1h0m0.8 0.7h0m1.1 1.1h0m0.6 0.7h0m0.4-2h0m0.4 1.5h0m0.2-1.7h0m0 0.2h0m0.7 0.8h0m0 2.8h0m0-5.1h0m0.1 0.5h0m0 1.8h0m0.3 2.8h0m0.5-0.7h0m0.2-4.2h0m0.4 0.4h0m0.4 3.6h0m0.6-0.7h0m0-1.6h0m0 2.2h0m0-2.8h0m0.7 2.9h0m0.7-1.8h0m0.5-1.7h0m0.8 0.9h0m0.2 0h0m0 0.4h0m0.5-0.4h0m0.1 2.7h0m0 0h0m0.1-3.9h0m0.2 3.1h0m0.7-0.8h0m0.4-2.3h0m0.7 3.5h0m0.7 1.1h0m0-4.4h0m-103.3 7.6h0m26.5-1.6h0m0.4 1.7h0m0.6 2.7h0m0.4-1h0m0.9-3.5h0m2.9 0h0m9.7 4.9h0m0.3 0h0m0.5-4.1h0m0.2-0.5h0m0.1-0.1h0m0.1 3.9h0m0.1-3.9h0m0-0.3h0m0 1.6h0m0.1 3h0m0.2-2.2h0m0.4 1.9h0m1-1.5h0m35.1 1.8h0m0-1.1h0m0.2 1.3h0m0.4 0.2h0m0.6-1.2h0m1.6-2.7h0m0.3 0.6h0m0.8-0.7h0m0.3-0.2h0m2.2 0.7h0m1.6-0.3h0m0.3 0.9h0m0.2-1.9h0m0 1h0m0.1 1h0m0.3-0.8h0m0.8-0.4h0m1 0.7h0m0.2 1h0m0.3-2.9h0m0.2 2.4h0m2-0.7h0m0.1-1.8h0m0.5 1.2h0m0.2 0.5h0m0 0.1h0m0.4 0.3h0m0.1 2h0m0.5 1.7h0m0.8-1.6h0m0.1-0.4h0m0-0.7h0m0.6-2.1h0m0.5-0.6h0m0.1 0.3h0m0.4-0.6h0m0.3 0.1h0m2.3 3.5h0m0.7-0.9h0m0.2-2.1h0m0.2 0.9h0m0.2 1.1h0m1.4-2.1h0m1 1.1h0m0.6-1.3h0m-97.8 10.2h0m0.4-1h0m0.7-0.5h0m0 0.2h0m0.4 0.9h0m0.1-0.1h0m1-2.1h0m0.6 2.1h0m0.1 1.5h0m0.7-3.1h0m0.1 2.5h0m0.2-3.7h0m0.7 4.2h0m0.9-0.2h0m0.1-1.1h0m0.3-1h0m0-0.9h0m0.4 1.1h0m0.3-2.5h0m0.1 1.7h0m0 1.2h0m0-2.7h0m0.1 3.7h0m0.5-4.4h0m0 4.9h0m0.2 0h0m0.1-2.3h0m0.8-0.9h0m0 1.6h0m0.3-2h0m0.2 2.7h0m0.2-2.4h0m0 1.4h0m0.9 0.9h0m0.4-2.6h0m0.2-0.5h0m0.8 0.6h0m0.2 2.6h0m0.4-1.5h0m0.2-0.6h0m0.4 0h0m1 1.2h0m0.2-0.1h0m0.3 1.5h0m0.9 0.4h0m0.1-1.7h0m0.1-0.2h0m0.4 0.3h0m1 1.8h0m0.4-1.1h0m5.3-4.6h0m0.2 1.5h0m0.3-1.2h0m1.7 3.7h0m0.3-2h0m0.7-0.6h0m1 3.8h0m0-2h0m0.5-1.6h0m5.2 3.6h0m0.2-1.9h0m0.1 1.2h0m1.6-1.4h0m0.3-0.5h0m0 1.2h0m0.3-2.6h0m0 2.5h0m0.9-3.3h0m0.3 0.4h0m0.1-0.4h0m0.3 0.3h0m1.1-0.6h0m34.8 3.6h0m0.3-0.6h0m0.5 1.6h0m0.1-2.1h0m0 2.3h0m0.1-0.8h0m1-1.6h0m0.2 2.3h0m0.2 1.2h0m11.6-0.8h0m2.1-4.3h0m0.7 3h0m0.4-2.1h0m0.2 0h0m0.7 2.6h0m0.1-0.6h0m0.2-1.6h0m1 2.7h0m0.4-2.8h0m0 2.6h0m0 0.5h0m0.3-0.7h0m0.2-0.3h0m0.1-3.3h0m0.2 4.5h0m1-3.8h0m0.9 0.6h0m1.4-0.1h0m1.3 0.8h0m0.3 0h0m0.2 2.2h0m0.3-3.2h0m-121.2 10h0m1.6-2h0m0.7-0.1h0m0.4-0.2h0m1.6-1h0m1.3 0.9h0m0.4-1.3h0m0.3-0.4h0m2.7 2.2h0m0.4-0.7h0m1.6 2.4h0m0.6-0.3h0m0.8-0.8h0m10.9-4h0m1.6 2.7h0m0.4-0.8h0m1 1.7h0m0 0h0m0.1 1.5h0m0.4-3.6h0m0 3.9h0m0.2-3.6h0m0.4 1.9h0m0-3.6h0m0.6 2.7h0m0 1h0m0.6-0.3h0m0.2-4h0m0 1.6h0m0.6 0.7h0m0.1 2h0m0.2 1.4h0m0.2-1.4h0m0.3-4.1h0m0 2.1h0m0.8 1.1h0m0.5 1h0m0.1-2.7h0m0.1 3.6h0m0.2-4.7h0m0.2 1.9h0m0.8 0.4h0m0.1-1.1h0m0.7-0.1h0m0.3 4.1h0m0.1-4.3h0m0.2 3.9h0m0.4-3.9h0m0.1 0.3h0m0 1h0m0.1-0.8h0m0.1-1.4h0m0 4.4h0m0.7-3.1h0m0.2 0.7h0m1-1.4h0m0.1 1h0m0.2 3.2h0m0.2-2.9h0m0 2.6h0m0.1-4.4h0m0.1 2.9h0m0.1-1.8h0m1.1-0.6h0m0.5 1.4h0m0.3 2.6h0m0.4-2.4h0m0.1-1.3h0m1.1-0.6h0m0-0.4h0m0.2 3h0m0.1-0.1h0m8.5-3.3h0m0.2 1.1h0m1.3 1h0m0-0.7h0m1 0.7h0m0.2 1.2h0m0.1-1.7h0m0.4-0.7h0m0.2-0.6h0m0.8 1.4h0m0.5 0.8h0m0.8-0.5h0m0.1 3.6h0m0.8-5h0m42.2-0.6h0m0.1 0.2h0m0.3-0.2h0m1 0.4h0m0.9 0.9h0m2.5-0.7h0m1.4 0.4h0m1.1-0.1h0m0.3 2h0m1.6-2.4h0m0.3 0.7h0m5.5-0.7h0m1.4 0.7h0m0.1 0.4h0m0.1 0.4h0m0-0.3h0m0.7 0.5h0m0.9-2.1h0m2.1 0h0m0.6 1.3h0m0.4-0.4h0m0.2-0.7h0m0.7 0.2h0m0.4 0.8h0m-133.2 5.3h0m6.4 2.4h0m0.1 2.1h0m1.4-1.7h0m0.1-1.4h0m0.6 1.7h0m1-2.5h0m0.1 0.5h0m0.3 0h0m0.3-0.6h0m0.9-0.9h0m0 1.1h0m0.3-0.5h0m0.6-0.6h0m1.5 0.1h0m8.5-0.2h0m1 2.3h0m0.4-2h0m0.8 1.7h0m0.3-1.3h0m0.4 2.3h0m0.4-1h0m0.5 1.3h0m0.6 1.8h0m0.1-1.1h0m0.1 1.4h0m0.2-1.9h0m0.1 0.7h0m0.1 0.7h0m0.1 0.4h0m0.2-1h0m0.1 0.1h0m0.8-0.4h0m0.1 0.9h0m0.7 0.5h0m11.6-5h0m0.1-0.4h0m0.8 0.9h0m1.8 0h0m0.1-0.3h0m0.2 1h0m0.5-1.2h0m1.3-0.3h0m0.2 1.1h0m1.3-1.4h0m0.4 0.1h0m1.1 1.3h0m9.6 3.9h0m0.5-0.1h0m0.3-0.2h0m1.4-0.7h0m0-0.7h0m0.4 2.1h0m0.5-3h0m0.3-0.1h0m0 0.3h0m0.2-0.3h0m0.8-0.2h0m0 0.5h0m0.2 0.2h0m2.1-0.3h0m2-2.2h0m1.4-0.5h0m2.2 4h0m0.1-0.2h0m0.2-0.8h0m0.4 0.4h0m0.1 2.3h0m0.1-0.6h0m0-3.1h0m0.3 1.4h0m0.1-1.1h0m0.4 2.4h0m0.6 0.9h0m38.1-0.5h0m0.8-2.2h0m0.1 2.2h0m2-0.6h0m3.2 0.1h0m0.3-2.6h0m0.3 2h0m0.6 0.7h0m3.6-1.3h0m1.9 2.2h0m1.4-1.7h0m1.1 1.2h0m0-1h0m-121.3 1.8h0m0.9 1.4h0m1.5 1.9h0m0.3-3.3h0m0.5 2.2h0m2.5 1.7h0m1.2-0.1h0m0.3-0.4h0m0.1 0.1h0m0.4 0.5h0m0.1 0h0m0.1-1.4h0m0.2 1.7h0m1.5-0.3h0m0.1-0.5h0m0.7-0.6h0m0.4-0.3h0m0.9 1.3h0m0.7-0.1h0m0.5-1.8h0m0.1 2.3h0m0.6-1.7h0m1.2 1.2h0m2.2 0.2h0m0.2 0h0m0-0.3h0m0.3 0.1h0m0.1 2h0m1.6-2.9h0m2.1-0.8h0m0.4 2.7h0m0.3-3.5h0m0.8 2.2h0m0.1 2h0m0.2-4.5h0m0.4 4.9h0m0-1.1h0m0.1-1.6h0m0.4-0.8h0m1.2 1.1h0m0.1 0.6h0m0.4 0.9h0m0.1 0.7h0m0.1-2h0m0.1 2.2h0m24.7-4.3h0m1.1 0.5h0m0.3-1.4h0m0.3 2.5h0m0-0.1h0m0-0.4h0m0.2-2.5h0m0.2 1.2h0m0.5 0.6h0m0.3 2.2h0m0.3 1.5h0m0.2-4.6h0m0.2 2.6h0m0.2 1.6h0m0.3-3.1h0m0.1 2.3h0m0.2-0.9h0m0.5 1.2h0m0.3 1h0m0.6-0.2h0m0-5h0m7.6 4.9h0m0.6 0.2h0m0.7-0.3h0m1.1-2.6h0m0.3 2.9h0m0.2-4.9h0m0.9 2.1h0m0.3 0.3h0m0.4-1.9h0m0-0.2h0m0.1 2.1h0m0 0.9h0m0.2-3.3h0m0.2 0h0m0.3 0.4h0m0.1 3h0m0.2-2.8h0m0.2-0.6h0m0.3 0.1h0m27.1 1.8h0m0.8 0.9h0m0.4 2.2h0m0.9-1.7h0m0.9 0.1h0m1.5-3.9h0m0.1 2.4h0m2.9-1.6h0m0.6 1.3h0m1.9-1h0m1.4 2h0m0.8-2.6h0m0.9 4h0m0.2-2.3h0m0.3 1.6h0m2.5-2.7h0m0.2 2.2h0m0.4-3h0m0.2 1.7h0m1.5 2.6h0m0.3-1.7h0m0.6-2h0m1.6 4.1h0m0.1-3.5h0m1.7-1.1h0m0.7-0.3h0m-132.3 10.2h0m0.7 0.1h0m2-0.4h0m0.7 1.1h0m0.4 0.1h0m9.3-0.2h0m1.1-1.3h0m0.6-1.3h0m0.5 0.2h0m5.2 1.5h0m0.2-2.5h0m2.8 0.8h0m2.1-2.1h0m0.2 2.5h0m0.1-0.5h0m1-0.4h0m0-1.2h0m0.3-0.3h0m0.4 1.2h0m0.1 2.8h0m0.1-0.1h0m0.3-2.6h0m0.2-0.8h0m0 1.3h0m0.1 0.6h0m0-1.2h0m0.1 1.4h0m0.1-3.1h0m0.3 1.7h0m0.3 1h0m0.3 2.8h0m1.2-2.1h0m0-0.2h0m0.3 2.1h0m0.3-4.9h0m0.9 1.3h0m0.2 3.3h0m0.9-3.5h0m1.3-1.4h0m0.3 2.8h0m1.2-1.9h0m0.5 3.1h0m0.3 0.2h0m0.7 0.7h0m1.1-4.9h0m0-0.3h0m0.2 1.9h0m0.9 0.1h0m1.2 0.3h0m22.6-2.4h0m2.6 0.6h0m0 1.7h0m0.9-1.8h0m0 0.5h0m0.9-0.7h0m0 0.8h0m0.2 0.6h0m1.6 0.5h0m0.3-1.8h0m0.8 2.8h0m0.9-0.3h0m0.3-0.6h0m0.3-1.6h0m1.7 1.5h0m43.2-0.8h0m2.8-0.9h0m2.7-0.3h0m2.9 2.9h0m0.6 1.8h0m0.2 0.5h0m0.5-0.3h0m0.2-3h0m0.1-1.7h0m3.3 1h0m1.1 1.9h0m0.6-0.1h0m0.5 0.3h0m-142 6.9h0m0.7 0.5h0m0.6-1.8h0m1.7-0.9h0m0 3.1h0m0.1-4.4h0m0 0.5h0m0.6 3h0m0.2-3h0m1.5-1.1h0m1.8 0h0m0.3-0.1h0m0.4 1.6h0m0.1 0.2h0m1.3-1.5h0m0.2 0.5h0m0.2 4.2h0m0.2-2.1h0m0 0h0m0.5 1.6h0m0.7-1.2h0m0.7 0.5h0m0.6-1h0m0.1 2.1h0m0.8-3.6h0m0.3-1.5h0m0.4 3.3h0m1.9-2.7h0m0.3 0.4h0m0.3 1.8h0m1-0.6h0m6.2 3.7h0m0.1-2.1h0m0.3-0.8h0m2-0.1h0m0 2h0m0.4-2h0m3.5 2.8h0m1-4.6h0m0.2 4.2h0m0.4-3.6h0m1.7 3h0m0.2-1h0m7.1-0.9h0m0.1-1.7h0m1.5-0.6h0m0.1 0.3h0m1-0.4h0m0.5 2.4h0m0.6-1.2h0m2.4-1.1h0m0.1 0.6h0m0.1-0.2h0m0.3-0.7h0m0.3 1.2h0m0.3-1.2h0m1.2 0.3h0m0 0h0m84.7 4.4h0m0.4-1.6h0m0.2 2h0m0.2-2.4h0m0.1 0.6h0m0.2 0.2h0m0.2 0.5h0m0-2.6h0m0.2-1.1h0m0.1 0.8h0m0.3-0.1h0m0 0.5h0m0.3-0.4h0m0.6-0.3h0m0-0.9h0m5 5.1h0m0.2 0.6h0m0.4-1.1h0m0.3-4.1h0m0.1 0h0m0.5 0.2h0m-144.3 5.7h0m0.7 0.7h0m0.1-0.9h0m1.3 0.2h0m3.3 0.7h0m0.3 1.4h0m0.4-1.4h0m1.7 1.1h0m2.6-0.8h0m0.1 0.1h0m3.9-1.4h0m11.4 4.8h0m0.8 0.9h0m0.3-1.4h0m0.4-0.1h0m0.1-2.2h0m0.5 3.1h0m0.7-4.4h0m0.3 0.2h0m2.5 4.2h0m0.8-2.8h0m0.3-1h0m2.6 4.1h0m0.2-1.5h0m1.7-0.1h0m1.4-1.7h0m0.5 0.5h0m1.7 2.5h0m0.5-0.1h0m76.3 0.2h0m1.4 0.4h0m3.1-3h0m2.6-0.7h0m1.3 2.3h0m1.8 0.8h0m0.2-1.6h0m0.2-0.7h0m0.5 1.1h0m0.3 0.6h0m0.2-2.5h0m0.3 1.3h0m1.3-0.4h0m3.6 2.7h0m0.8 0h0m0.4-2.2h0m0.1-2.5h0m0.4 3.5h0m0-3.8h0m0.1 3.6h0m0 0.4h0m1.2-3.7h0m0.1 3.1h0m0.1 0.8h0m0.4 0.2h0m1.2-1.3h0m0.1 0.4h0m0.2-1.6h0m0.2-0.4h0m0.5-0.3h0m0.2 0.1h0m0.6-0.2h0m0.2-0.7h0m0.2 1.6h0m0.5-0.6h0m0.3-0.6h0m0.3 0.9h0m0.3 0.5h0m0.4-0.9h0m0.6-1.5h0m-118.6 9h0m0.4-2.3h0m0.4 2.7h0m1 0.4h0m0.7 0.1h0m0.3-1.2h0m0.7-1h0m0 1.3h0m0.7-2h0m0-0.3h0m1.2 3.8h0m0.6-1.8h0m0-3.2h0m0.7 1.1h0m0.1 3.5h0m0.8-3.7h0m0.4-0.5h0m1.5 3.1h0m1.1-1.3h0m0.8 2.9h0m0.5-5h0m0.2 1.6h0m1.5 2.1h0m0.2 0h0m1.6 0h0m0.6 0h0m91.1-2.2h0m0.2 1.3h0m0.3-2h0m0.6 2.9h0m0.3-1.4h0m0.5-2.4h0m3 1.9h0m1.2 0.6h0m1.1-2h0m2.5 4.2h0m1.6-0.2h0m0.2-2.6h0m0.3 4.1h0m0.2-3.7h0m0.2 2.7h0m0.5-3h0m-116.9 6.3h0m1.5 2.2h0m0.3-1.4h0m1.2 0.2h0m0.6-1.2h0m0.1 2.8h0m0.1 0.1h0m1.4-4.6h0m0.5 2.5h0m1.3 1.4h0m1-0.3h0m1.2-0.3h0m0.2-2.9h0m0.4 0h0m0.6 1.2h0m1.1-0.2h0m94.7-1.1h0m1.7-0.6h0m0.1 0.2h0m1.3 0h0m3 0.8h0m0.3 0.6h0m0.1-1.6h0m0.4 0.9h0m1.4 0h0m-104.4 7.4h0m0.6-0.9h0m2.8 3.8h0m0.2 0.6h0m0.8-3.1h0m0.1 0.3h0m0.4 0.2h0m-2.9 2.9h0" fill="none" stroke="#1bb83e" stroke-width="1.6" stroke-linecap="round"/>
</g></g>
<g id="e2r" clip-path="url(#ce)"><g filter="url(#warp)">
<g filter="url(#gtex2)" fill="#c4261a" stroke="#c4261a"><ellipse cx="50.3" cy="7.5" rx="5" ry="5" fill="none" stroke-width="3.9" opacity="0.56"/><ellipse cx="51.9" cy="23.5" rx="7" ry="8.7" fill="none" stroke-width="3.9" opacity="0.33"/><ellipse cx="60" cy="17.6" rx="4" ry="5.7" fill="none" stroke-width="3.3" opacity="0.18"/><ellipse cx="80.4" cy="30.2" rx="5.7" ry="6.7" fill="none" stroke-width="3.6" opacity="0.3"/><ellipse cx="112.2" cy="27.6" rx="5.5" ry="5.5" fill="none" stroke-width="3.6" opacity="0.4"/><ellipse cx="122.6" cy="24.3" rx="5.5" ry="5.5" fill="none" stroke-width="3.6" opacity="0.4"/><ellipse cx="134" cy="14.2" rx="4.7" ry="5.7" fill="none" stroke-width="3.3" opacity="0.57"/><ellipse cx="97.2" cy="32.7" rx="5.4" ry="3.4" stroke="none" opacity="0.48" transform="rotate(-30 97.2 32.7)"/><ellipse cx="95.5" cy="49.4" rx="8" ry="8" fill="none" stroke-width="4.1" opacity="0.56"/><ellipse cx="114.7" cy="49.4" rx="13.4" ry="8.4" fill="none" stroke-width="7.6" opacity="0.14" transform="rotate(20 114.7 49.4)"/><ellipse cx="95.5" cy="64.5" rx="10.5" ry="5.1" stroke="none" opacity="0.34"/><ellipse cx="121.4" cy="68.2" rx="14.2" ry="10.9" fill="none" stroke-width="9.8" opacity="0.18" transform="rotate(20 121.4 68.2)"/><ellipse cx="139.9" cy="79.6" rx="12.1" ry="8.4" stroke="none" opacity="0.22" transform="rotate(30 139.9 79.6)"/><ellipse cx="134" cy="91.6" rx="8" ry="6.4" fill="none" stroke-width="3.9" opacity="0.45"/><ellipse cx="147.4" cy="94.6" rx="5.1" ry="5.1" stroke="none" opacity="0.05"/><ellipse cx="65.3" cy="51.1" rx="14.6" ry="12.1" stroke="none" opacity="0.2"/><ellipse cx="65.3" cy="59.8" rx="6.7" ry="5.7" fill="none" stroke-width="3.9" opacity="0.48"/><ellipse cx="62" cy="69.5" rx="13" ry="8.8" stroke="none" opacity="0.06"/><ellipse cx="82.1" cy="87.9" rx="7.4" ry="8.4" fill="none" stroke-width="4.4" opacity="0.09"/><ellipse cx="83.8" cy="109.7" rx="8.4" ry="5.5" fill="none" stroke-width="4.1" opacity="0.43" transform="rotate(-15 83.8 109.7)"/><ellipse cx="62" cy="97.2" rx="10.5" ry="7.1" stroke="none" opacity="0.29" transform="rotate(10 62 97.2)"/><ellipse cx="35.2" cy="106.4" rx="9.7" ry="6.4" fill="none" stroke-width="4.1" opacity="0.45"/><ellipse cx="16.8" cy="103" rx="8.8" ry="2.4" stroke="none" opacity="0.48" transform="rotate(-10 16.8 103)"/><ellipse cx="45.2" cy="86.3" rx="2.7" ry="4.8" stroke="none" opacity="0.58" transform="rotate(-20 45.2 86.3)"/><ellipse cx="10.1" cy="123.5" rx="10.5" ry="5.1" stroke="none" opacity="0.29" transform="rotate(-15 10.1 123.5)"/><ellipse cx="30.2" cy="121.8" rx="7.1" ry="7.1" stroke="none" opacity="0.41"/><ellipse cx="44.4" cy="116.8" rx="8.8" ry="6.8" stroke="none" opacity="0.22"/><ellipse cx="33.8" cy="133.5" rx="8.8" ry="10.5" stroke="none" opacity="0.07"/><ellipse cx="41" cy="147.4" rx="3.4" ry="3.4" stroke="none" opacity="0.62"/><ellipse cx="132.3" cy="109.7" rx="13.8" ry="5.8" stroke="none" opacity="0.42" transform="rotate(-10 132.3 109.7)"/><ellipse cx="140.7" cy="121.8" rx="4" ry="6.7" fill="none" stroke-width="3.6" opacity="0.24"/><ellipse cx="124.8" cy="130.2" rx="7.4" ry="2.6" stroke="none" opacity="0.58" transform="rotate(-15 124.8 130.2)"/><ellipse cx="139" cy="135.2" rx="7.1" ry="7.1" stroke="none" opacity="0.35"/></g>
<path d="m43.2 5.9h0m2.4 0h0m0 0h0m0.2-0.6h0m0.3 0.2h0m0-1.1h0m0.1 0.5h0m0.8-0.2h0m0.5 0.6h0m0.1-0.7h0m0.1 0.9h0m0.1-0.4h0m0.7-2.8h0m0.9 0h0m1.1 0h0m0.2 1.1h0m0.6-1.4h0m3.3 1.1h0m3.1 2.1h0m-14.4 4.4h0m0.4 1.4h0m0.1-3.6h0m0.6 2.2h0m0.7 1.7h0m0.3-0.2h0m0.4-1.3h0m0.7 1.7h0m0.3-4.7h0m0.2 0.5h0m1 4.4h0m2.4 0h0m1-0.9h0m0.2 0.7h0m0.6-3.2h0m0.2 3.3h0m0.1-1.9h0m0.7 1h0m0.1-1h0m0.1 0.1h0m0.1 1.6h0m0.3-1.4h0m0.1-0.8h0m0.1 1.7h0m0.2-2.4h0m0.1-0.4h0m0.7-0.5h0m0.4 0.9h0m0.5-2.2h0m0.4 0.3h0m0.2 0.7h0m0.2 4.6h0m0.1-0.2h0m3.5-4.5h0m0.5 4.5h0m41.1-1.8h0m27.3 1.2h0m0.7-0.4h0m0.2-0.5h0m0.9-0.8h0m0.1-1.2h0m0.4 1.6h0m0.4 0h0m0.2-0.4h0m0.9 0.6h0m0.2-1.3h0m0.8-0.3h0m2.2 1.8h0m1.1 0.7h0m0.3 0.3h0m0.2 0h0m0.2 0.3h0m0.6 0.3h0m-93.1 5.3h0m1.5-4.7h0m0.6 0.3h0m0 4.4h0m0.3 0.1h0m1.1-1.8h0m0.3-0.8h0m0 0.7h0m0 1.2h0m0.1-4h0m0.5 3.7h0m0.1-4.1h0m0.1 3.9h0m0.7-0.8h0m0.2 0.4h0m0.1-2.8h0m0.7-0.7h0m0 5.2h0m0.7-1h0m0-4.2h0m0.2 0.4h0m0.4 0h0m2.1 3.7h0m1.2-0.2h0m0.6 1.4h0m4.8-5.3h0m1 4.4h0m0.6 1.1h0m9.3-1.5h0m23.7-1.2h0m27.9 3h0m1-0.1h0m2.7-4.8h0m1.2 0.8h0m0.1 0.1h0m0 2.7h0m0.1-3.8h0m0.1 0.1h0m1 2.6h0m0.2-1.9h0m0 4h0m0.3 0h0m6.7-1.4h0m0.3-0.3h0m0.2-1.7h0m0.1 0.1h0m0 1.8h0m0.1-2.1h0m0 1.9h0m0.1-2.8h0m0.1 1.9h0m-94.6 4.4h0m0.2-0.6h0m0 0.1h0m0.4-0.3h0m0.1 2.3h0m0.2 2.1h0m1.1-2.7h0m0.8 3.7h0m5.6-1.9h0m4.1-3.9h0m0.3 1.4h0m1.9 2.9h0m0.3 0h0m0.1-3.5h0m0 3.3h0m0.1-0.9h0m0.3-0.3h0m0.1 0.8h0m0 1.6h0m0.1-1.8h0m0.2-1.1h0m0.3 0.9h0m0 0.9h0m1.7-0.2h0m1.4-3.6h0m0.6 1.7h0m0.8 0h0m13.9 3.3h0m9.6-4.2h0m19.3 4h0m0.6-0.3h0m0.4-0.2h0m0.8-2.3h0m1 1.1h0m0.2-0.9h0m0 0.4h0m0.1 1h0m1.5-0.9h0m1.2 1.8h0m0.5-1.3h0m0.3 1.4h0m0 0.4h0m0.5-0.5h0m0.1 0.6h0m0.6-1.1h0m0.5 0.5h0m1.8-0.8h0m0.1 0.4h0m0.3-1.4h0m0.5 2h0m0-1.4h0m0 1.7h0m0.1-2.5h0m0.4 1.9h0m0.6-3.3h0m2.8-1.6h0m3.7 3.7h0m0.1 0.2h0m0-3.6h0m0.5 3.6h0m0.5 1.6h0m0.1-0.6h0m0.1-1.9h0m0 2.3h0m0.1-0.8h0m0-1.6h0m2.7-1.9h0m0.3-0.4h0m0.2 0.5h0m0-0.8h0m0.2 0.6h0m0.1-0.3h0m0.6 0.7h0m0.2 1.8h0m0.2-0.1h0m0.2-1.5h0m0.1 0.2h0m0.2-0.7h0m0.4 0.7h0m0.2 1.1h0m1.6 0.3h0m0.1-1.7h0m0.2-1.3h0m1.3 0.4h0m0.5-0.6h0m-106.1 7.6h0m7.1 1.3h0m8.7-1.9h0m0.7 1.5h0m0.2-1.7h0m0.7 4.1h0m0 1.1h0m9.8-3.9h0m0.6 1h0m7.1 2.1h0m9.1-0.7h0m0.3-1.5h0m0 2.6h0m0.8-4.9h0m0 3h0m4.9-3h0m1.4-0.1h0m0.5-0.5h0m0.2 0.7h0m0.1-0.8h0m2 3.3h0m1.6 2.7h0m0.6-3.2h0m3 0.5h0m2.3 0.5h0m6.1 1.6h0m1.9 0.5h0m6.9-1.8h0m0.1-3.2h0m0.1-0.4h0m0.1 0.1h0m0.3 2.7h0m0.1-2.4h0m0.2 2h0m7.5-1.4h0m0.1 1h0m0.6-1.1h0m0-1.3h0m0.3 2.4h0m0.1 0.9h0m0.3-1.1h0m0.1-1.6h0m0.1 0.9h0m0.1 1.8h0m0.1 1h0m0-4.3h0m0.2 3.5h0m0.3-2.4h0m0.6 3.4h0m0-1.1h0m0.5 1.7h0m2.4 0.2h0m3.8 0.1h0m0.3 0.2h0m0.3-0.6h0m0.3-1h0m0.3-2.6h0m0.2-1h0m0.1 2h0m0 0.7h0m0.6-2.2h0m0.3 1.9h0m11.2 1.8h0m1.7 1.2h0m-94.7 1.3h0m1.5 0.3h0m2.9 2.3h0m0.6-1.3h0m0.8 1.5h0m0.4-2h0m1.2-0.2h0m0.3 1.8h0m0.1-3.3h0m1.5-0.2h0m0.3 1.4h0m19.8 0.9h0m0.1 2.1h0m0 0.5h0m0.2-3.9h0m0.1 3.7h0m0-3h0m0.1-0.7h0m0.1 1.8h0m0.1 2.4h0m0-4.5h0m0.2 4.7h0m0.3-0.1h0m0.4-0.3h0m0.2-2.1h0m5.1 2.5h0m0.3-1.3h0m0.9 1.6h0m0.5-2.7h0m0.6 0.2h0m0.1 0.9h0m0 1.4h0m0.2-0.2h0m0.2-2.2h0m0 0.9h0m0-1.6h0m1-1.1h0m6.8 1.7h0m1.1 2.3h0m1.5-0.4h0m0.4-2.2h0m0.5-1.1h0m0.5 1.6h0m0-0.9h0m0.5 3.1h0m0.1-5.1h0m0.4-0.1h0m0.3 3.5h0m0.9 0h0m0.5-2.1h0m0 0.4h0m0.6 1.5h0m0.3-0.5h0m0.3 0.1h0m0.3-1.7h0m0.4-0.7h0m0.1 0.3h0m6.4 0.7h0m2.1 0.6h0m0.4 0.2h0m1-0.3h0m0 0.9h0m0.6 0h0m0.4-0.7h0m0.4 0.3h0m0-0.6h0m0.1-0.3h0m0.2-1h0m1.6 2.4h0m1.6-1.4h0m0.1-0.2h0m3.9-1.5h0m5.1-0.1h0m-57.9 11.9h0m2.8-0.4h0m7.5-4.5h0m1.2 3.1h0m0.2-1.8h0m10.8 3h0m1.4-0.1h0m1.5 0.2h0m0.2 0.1h0m0.4-2h0m0.3 1h0m0.1-0.2h0m0.1 1.2h0m0.3-0.1h0m0.6-1.5h0m0.6 0.8h0m0.4 0.3h0m0.3-5h0m1.1 5.9h0m0.3-1.2h0m5.2 0.5h0m9.5-3.3h0m1.6 2.5h0m1.9 0h0m1.3-1.6h0m3.9 2.9h0m19.8 0h0m-112.5 5.1h0m26.3-1.1h0m1.4-1h0m0.6 2.2h0m0.3-4.6h0m0.9 3.7h0m0-0.9h0m0.6-1.5h0m0-1.3h0m0.2 4.6h0m0.1-4.9h0m1.5 4.5h0m0.4-4.2h0m0.3-0.2h0m0.3 4.9h0m0.5-3.6h0m1.6-1.4h0m0.8 3.1h0m0.1-2.1h0m1 3.4h0m0.4 1.4h0m0.2-5.8h0m0.4 1.5h0m0.9 0.5h0m0.5 2.8h0m0-3.5h0m0.6-1.1h0m0.6 5.5h0m0-5.3h0m0.5 5.3h0m0.1-5h0m0.3 2.2h0m0.5-0.1h0m2.8 1.7h0m0.8-3.2h0m1.8-0.5h0m0.3 4h0m0.2-2.2h0m0.4 1h0m0.4-0.7h0m10.8 1.9h0m0.6-2.3h0m0.2-0.4h0m0.1 2.1h0m0.3 0.6h0m0.4-4.5h0m0.1 0.2h0m0.2 1.3h0m0.9-1.1h0m0.5 0.9h0m0.3-1.7h0m0.2 0.6h0m0.2-0.5h0m0.9 2h0m0.2-0.4h0m1.5-1.5h0m0.2 0.9h0m0.4 0.7h0m0.5-1.7h0m0.4 1.1h0m2.6 2.1h0m0.6-0.2h0m0-1.9h0m0.1 0.5h0m0.5-0.1h0m0.3 2.9h0m0.8-1h0m0.4-1.1h0m0.1-0.2h0m0-1.2h0m0.8 2.6h0m0.4-0.6h0m0.4 0.9h0m0.3-0.1h0m0.5-3.6h0m0 4.4h0m0.1 0.6h0m0.1-0.7h0m0.1-0.3h0m1 0.7h0m0.5 0.4h0m1.8-3.8h0m0.6 0.4h0m15.3 3.8h0m1-0.9h0m1.1-2.3h0m1.8 1.5h0m-83.8 5.5h0m9.5-1.7h0m0.6 2.3h0m0.3 0.7h0m0.9 1.1h0m0.1-2.4h0m0.1 1.4h0m0.8 1h0m0.2-3.5h0m0.8 1.1h0m0.4-3.2h0m0.7 0.1h0m0.2 4.3h0m0.1-1.1h0m0.5-3.6h0m2.2 4.3h0m0.2 1.4h0m0.1 0.2h0m0.1-0.9h0m0.2-4.2h0m1.2 2.5h0m0.2-1.2h0m0.5 1.8h0m0.4-1.4h0m0.1-1.1h0m0.7 3.5h0m0-3.2h0m0.1 3.7h0m0.9-5.2h0m1.4 5.7h0m1.5-2.6h0m0.6 0.6h0m0.9 0.7h0m0.8-2.5h0m1.1 0.8h0m0.4 0.4h0m1.2 2.7h0m0.5-0.6h0m0.2-0.3h0m1.8-3.9h0m0.6 2h0m0.1-2.4h0m6.9 4.1h0m4.1-3.2h0m0.1-0.3h0m0.5-0.1h0m0.3 3.7h0m0.5 0h0m0.2-4.7h0m0.2 0.4h0m0.1 2.3h0m0.1 2.5h0m0.6-0.5h0m0.4-0.2h0m8.7 0.8h0m0.6-0.9h0m0.6 0.8h0m1.1-1.3h0m0.2 0.8h0m0.8-0.2h0m0-3.7h0m0.2 2.3h0m0.4 0.5h0m0.1 1.1h0m0-0.2h0m1.1-1.3h0m0.4 0.8h0m0.6-2.7h0m0.1 0h0m0-0.5h0m0.1 3.5h0m0.1-2h0m0.3 2.5h0m0.2-3.1h0m0.1 2.4h0m0.6-3h0m1 3.5h0m0-0.3h0m0.3-1h0m3.8 1.7h0m9.8-3.5h0m0.7 1.5h0m3-2.6h0m1.7 2h0m1.2 1.5h0m0.9-2.5h0m0.2 1.6h0m0.2-2.5h0m2.1 3.5h0m8.5-2.8h0m1 4.2h0m1.8-1.2h0m-88.7 4.2h0m0.3-1.8h0m1 3h0m1 1.4h0m0.2-0.8h0m0.6-4.4h0m0.7 3.7h0m0-3h0m0.2 5h0m0.1-2.8h0m0.4 1.6h0m0.2 0.7h0m1.3-3.4h0m0.1 1h0m0.2 3.1h0m0.1-2.9h0m0.4-2.3h0m0.4 0.1h0m0.2 0.4h0m0.7 1.9h0m0.2 2.6h0m0.2-1.4h0m0.1-1.3h0m0.1-1.7h0m0.9 0h0m0.9-1.2h0m0.5 0.3h0m0.7 4.2h0m1.3-1.1h0m0.5-0.4h0m0.1-2.5h0m0.8 2h0m0.4-2.1h0m0.1 1.8h0m0.2-1.8h0m0.1 1.5h0m0.2 1.6h0m0-0.2h0m1.2-2.6h0m0.8 1.1h0m0.5 3.7h0m0.1-1h0m0.2-1.8h0m0.2 2.3h0m0.2-0.7h0m0.2-0.3h0m0 1.2h0m0.5 0.3h0m0.4-2h0m0.2-2.1h0m3.6 1.1h0m0.3-2.4h0m11.3 0.4h0m0.9 1.4h0m0.2-2h0m0-0.1h0m0.7 1.8h0m0.8 0.3h0m0.2 2.8h0m0-1.2h0m0-3.7h0m0.2 4h0m0.6 0.9h0m0.8-1h0m0.5 1.1h0m0.7-1h0m0.1-0.1h0m0.9-0.3h0m1 0.3h0m0.1 0.2h0m0.3-0.7h0m0.9-0.3h0m0.6-0.4h0m0.6-0.6h0m1-2h0m8.8 2.3h0m0.1 0h0m0.6-0.7h0m1.5 2.4h0m0.3 1h0m0.4-4.1h0m1.8 2.7h0m0.1-0.4h0m0.9-2.5h0m0.6 3.5h0m0.2 1.4h0m0.4-4.7h0m0.8 1h0m0.5-0.3h0m0.7 3.2h0m1.3-2h0m0.3 1.4h0m0.3 1h0m0.6-1.1h0m0.7-4h0m0 0.5h0m0.4 5.1h0m0.1-1.9h0m0.2 0.1h0m0.3-3.1h0m0.7 1.4h0m0.2 2.5h0m0.7-1.4h0m0.4-1.1h0m0.1-2.2h0m0.6 5.5h0m0.9-0.8h0m2.3-0.4h0m0.3 0.6h0m0.5-4.3h0m0.1 3.8h0m0.1-3.2h0m1.6 1.6h0m5.6-1.1h0m6.9 3.8h0m-129.7 5.8h0m36.6-1h0m6.8-3.4h0m0.1-0.1h0m0.3 0.1h0m0.3 1.8h0m0.7-0.8h0m0.1-1.9h0m0.5 1.3h0m0.2 1.1h0m0.2 2.3h0m0.1-2.2h0m0.6 1.3h0m1 1.7h0m0.2 0.4h0m0.4-0.6h0m1.2-0.3h0m1 0h0m0-0.4h0m0.9-0.5h0m0.5-2h0m0.2 3.2h0m1.6-1.7h0m1.3-0.1h0m0.1-2.6h0m0.1 1.8h0m1.8-0.7h0m0.1 1h0m0.8-1.4h0m0 0.4h0m0.2-1.7h0m0.5-0.3h0m0.3 0.4h0m0.9 0h0m0 0.3h0m13.3 2.1h0m0.9-0.8h0m0.3 3.6h0m0.1-1.5h0m1.4-2.8h0m0.4-0.5h0m0.6-0.4h0m0.2 0.7h0m0.7 3.1h0m0.3-0.8h0m1-0.1h0m0.9-1.9h0m0.3-1.3h0m0 1.7h0m0.1-0.2h0m0.2-0.1h0m0.2-0.2h0m0.3-0.7h0m0.8 2.1h0m0.3-0.7h0m0.6-0.4h0m0.3 1.2h0m0.3 2.8h0m0.5-1.9h0m0.3 0.2h0m0.5-2h0m0.1-0.4h0m0.5 0.4h0m0.2 2.5h0m1.1-0.3h0m0.1-2.5h0m0.2 0.5h0m0.1 0.3h0m0.4 0.5h0m0.1 1.2h0m0.9 1.6h0m0.4-3.4h0m1.7 0.5h0m2.3 2h0m1.8-0.7h0m3.4 1.1h0m0.6-1.5h0m0.1 0.7h0m0.5-2.5h0m0.6 0.7h0m0.4-0.8h0m1.2 3h0m0.2-1.1h0m1-1.4h0m0.7 2h0m0.9-2.7h0m1.4-0.5h0m2 1.2h0m5.3 3.5h0m0.5-4.8h0m0 0.9h0m0.2 1.7h0m0.4-2.2h0m0.4-0.9h0m1.7 4.4h0m0.2-2.4h0m1-1.7h0m0.1 1.2h0m0.1 3h0m0.2-5h0m0.2 5.2h0m0.5-2.1h0m0.2-2.9h0m0.6 4.3h0m3.5 0.3h0m1.1 0.2h0m-103.9 5.3h0m17.3-3.8h0m3.1 3.5h0m0.2 0.9h0m0.2-2.3h0m1.2-0.4h0m0.3-1.5h0m4.4 0.5h0m2.9 1.8h0m2.1 0.2h0m0.1 1.3h0m6.3-2.3h0m1.1 0.2h0m4.6-0.3h0m14.1-0.4h0m3.2 1.4h0m0.4-2.4h0m0.2 0.9h0m2.7 0.9h0m0.4 0.4h0m1.5-1.2h0m2-1.7h0m0 0h0m1.3 1.3h0m1.7-1.3h0m2.4 1.9h0m0.6-1.9h0m1.3 2.1h0m0.8 0.4h0m0-0.8h0m5.4 1.1h0m0.1-1.7h0m7 4.8h0m4.2-5.3h0m1 0.7h0m5.4-1.1h0m0 1.1h0m1.2 0.9h0m0.6 0.2h0m0.2 1.7h0m0.3-1.5h0m2.8 2.6h0m0.1-2.7h0m3.9 1.7h0m-110.1 4.3h0m24.9-1.8h0m0.1 4.2h0m0.3-0.9h0m1.5-3.2h0m1.9 3.8h0m7.2 0.2h0m0.1-1.6h0m0.3 0.1h0m14.2 2.6h0m19.4-1.3h0m5.2-3.2h0m1.7 0.2h0m1.2 1.4h0m0.5-1.6h0m0.8 2.2h0m1.7-0.5h0m0.6 2.6h0m0.6-0.9h0m2.7 0.3h0m1.4-1.2h0m1.7 1.6h0m2-2.2h0m0.1-0.1h0m1.6-2h0m0.2 3.2h0m0.9 1.1h0m1.1 0.2h0m2.2-2.1h0m1.1 0.4h0m0.3-0.7h0m0.6 1.4h0m0.2-1.7h0m0 0.8h0m0.2 1.4h0m0.7-4.2h0m0.1 3.8h0m0.1-2.9h0m2-1.8h0m0.1 0.5h0m0.3 3.6h0m0.4-2.3h0m0.5 1.6h0m0.8-3.2h0m0.9 2.8h0m0 1.1h0m0.1-2h0m0-0.1h0m1.3 1.2h0m0.1-2.2h0m0.1 3.7h0m0.9-1.9h0m1-0.5h0m0.3 3.3h0m0.4-0.8h0m0.2-0.5h0m0.9 1.2h0m0.4-3.7h0m1.1-0.5h0m0.3 2.7h0m2.7-4.1h0m3.9 5.8h0m-131.3 5.6h0m25.2 0.1h0m0.1-4.5h0m0.2 2.2h0m0.1 1.5h0m32.9-1.6h0m1.9-0.6h0m0.1 0.9h0m1.2-0.6h0m1.2-0.7h0m0.6-1h0m5.5 4.4h0m0.3-0.5h0m1.1-1.8h0m0.5 2h0m0.4-0.3h0m2.7-3.3h0m12.9 1.6h0m6.9 0.6h0m0.6-2.3h0m0.2 1.4h0m4-2.1h0m1.5-0.4h0m0.4 0.3h0m0.4 0.6h0m0.7 0h0m0.9 1.4h0m4.8 0.3h0m1.8-2.4h0m1.8-0.2h0m0.6 0.4h0m0.2-0.3h0m0.4-0.4h0m0.3 1.9h0m0.4 1.3h0m0.4 0.1h0m0.2 1.8h0m0-3.4h0m0.1-0.9h0m0.4 2h0m0.2-0.1h0m0.4-1.7h0m0.2-0.5h0m1.6-0.3h0m0.2 5.5h0m0.1-5.2h0m1.5 4.9h0m0-4.6h0m0.8-0.8h0m1.6 3.5h0m2.8-3.7h0m0.3 3.1h0m0.6 1.1h0m0.3 0h0m0.7 0.2h0m1.8 0.5h0m0.5-2.6h0m1.2 1.1h0m0.7-0.3h0m1.5 2.2h0m0.3-4.5h0m-106.3 8.2h0m0-1.6h0m0.2 2.5h0m0.3-0.6h0m0-0.5h0m0.1 0.8h0m0.3-2.7h0m0.1-0.3h0m0 2.6h0m0.4-3h0m1 5.7h0m0.1-3.5h0m0.4-0.3h0m0.3 1.7h0m0.1-0.9h0m0.9 1h0m0.2 0.9h0m27.2-4.1h0m13.1 5h0m1-4.2h0m0.1 1h0m0-0.7h0m7.9-0.9h0m5.7 2.8h0m21.9 2h0m0.9-0.6h0m0-0.4h0m0.1-0.7h0m0.6 1.1h0m0.2 0.2h0m0-1h0m0.4 0h0m2-2.2h0m0.1-0.2h0m0.4-0.7h0m0.4 0.3h0m0.2-0.1h0m0.1-0.2h0m1.9 0.4h0m0.9 0.5h0m0.7-0.8h0m0.5 1.4h0m0 0.1h0m0.1-1h0m0.1 2.4h0m0.8-3h0m0.9 2.1h0m0.9 0.1h0m0.6-1.5h0m0 0.9h0m1.8-0.8h0m0.3-0.1h0m0-0.4h0m0.3 0.6h0m0.6 0.3h0m0.6 3.4h0m0.1-2.5h0m0.4-0.1h0m0.1 0.6h0m1.5-3.1h0m0 3.4h0m0.6-1.4h0m1.6 1h0m0.6 0.4h0m1.2-2.6h0m0 1.6h0m-107.7 4.7h0m14.1 1.9h0m0.3 0.7h0m1.7 1h0m0.8-0.3h0m0.9 0.6h0m1.5-2.4h0m0.6-2h0m0.3-0.8h0m0.1 2.1h0m0.1 2.2h0m0.5-4h0m0.9 3.1h0m0.1-2.3h0m0.1 0.5h0m0.2 2.2h0m0.3-0.5h0m0.8 0.9h0m0.6-2.5h0m1.1-0.4h0m0.6 0.9h0m0.1 0.1h0m3.4 1.3h0m1.2 1.8h0m4.5-5.7h0m2.1 4.2h0m1.2-0.5h0m1.2 0.3h0m1.5-0.3h0m6.7-1.9h0m0.5 1.7h0m0.5-3.5h0m36.3 2.2h0m0.1-1.5h0m0.9 3.2h0m0-1h0m0.1 0.3h0m0.2-3.2h0m0.2 2.5h0m0.3 2.5h0m0-0.6h0m1.2-2.3h0m0.3 2.8h0m0 0.6h0m0.1-0.6h0m4.6 0.5h0m1.9 0.2h0m4.7-0.9h0m2-4.1h0m0.5-0.3h0m0.2 5h0m0.2-5.4h0m0.2 4h0m0.8-3.4h0m0.2 2.2h0m1.4-0.6h0m3.8 2.8h0m-129.4 6.6h0m0.4 0.2h0m1.8-0.2h0m0.2-0.9h0m2.4 1.2h0m0.5-0.1h0m5.6-0.3h0m0.4 0.3h0m1.2-2.3h0m0.6 0.1h0m0 0.6h0m0.4-0.4h0m0.3-0.2h0m0.1-1.6h0m0.1 0.3h0m0.2 1.8h0m1.4-1.5h0m3.5 0.9h0m1.2 0.2h0m0.1-0.2h0m1.3 1.7h0m0.1-0.9h0m0.5 1.3h0m0.4-1h0m2.2-1.2h0m12.4 0.5h0m0.4-2.2h0m0.7 0.6h0m0.4-1.6h0m0.6 2.6h0m0.5 0.9h0m1.1-1h0m1.9 1.1h0m0-3.5h0m0.4 1.4h0m0.6 3.3h0m0.7-3.7h0m0.7-0.1h0m0 3.8h0m0.3-0.1h0m0.3-2.6h0m0-2.4h0m0.1 1.3h0m0 0.2h0m0 0.2h0m0.6-0.2h0m1.3 0.1h0m0.6-1.5h0m1.7 0.7h0m0.7 0h0m0.1 4.2h0m1.2-4.7h0m10.2 1.6h0m1.5 0.9h0m18.9 1.6h0m1.8-3.1h0m4.6-0.6h0m19.1-1h0m0.3 1h0m0.9-1h0m0.2 0.7h0m0.3-0.5h0m0.5-0.2h0m0.3 1.1h0m0.4-0.9h0m1 0.3h0m0.1 0h0m1.4-0.6h0m0.2 1h0m0.8-0.5h0m0.6-0.4h0m0.7 1.2h0m0.8-0.2h0m0.3 1.4h0m0.2 0.8h0m4.4-1.8h0m0.1-0.9h0m1.9-0.1h0m-132.5 8.7h0m0.2-2.3h0m1.6 0.6h0m0.1-0.6h0m0.1 1.6h0m0.3-1.7h0m0.2-0.1h0m0.1 0.1h0m1.7 2h0m0.3-2.9h0m0 1.6h0m1.3-0.4h0m0.3 0.5h0m0-0.1h0m1.1-1.5h0m0.6 0.9h0m1.3 0.2h0m0.3-0.4h0m0.3 0.7h0m1.3-1h0m3.4 5h0m1-1.7h0m0.5-1.6h0m0 2.2h0m0.7-0.5h0m0.6-2.5h0m0.7 0h0m0 0.8h0m0 0.6h0m0.2-1.3h0m0.1 0.9h0m0.3-1.1h0m0.2-0.9h0m0.4 1.3h0m0.4-0.8h0m11.4 1.7h0m0-0.1h0m0-1.3h0m0.3-0.1h0m0.2-0.4h0m0.8 0.9h0m0.1 0.4h0m0.3 1.2h0m0.4 0.4h0m0.1-0.2h0m0.2-1h0m0.4 1.8h0m0.4 1.4h0m0-1.2h0m0.6 1.4h0m0.1-2.3h0m0.3 1.1h0m0 0.6h0m0.8 0h0m0.5-1h0m0.7 1.2h0m14.4-4.1h0m0 0.4h0m2.3-0.5h0m1.1-1.1h0m0.3 0.1h0m10.3 5.8h0m0.6-0.8h0m0.1 0.4h0m0.3 0.1h0m0.1-1.2h0m1.2 0h0m0-0.8h0m1-1h0m0.5 0.4h0m1 0.1h0m0.1-1h0m0.2 1.1h0m0.1-0.3h0m2-0.2h0m1.2-2.1h0m0.9 0h0m1.3-0.7h0m0.2 1.8h0m2 1.3h0m0.9 2h0m0.3-1.6h0m0 2.2h0m0.1-1.9h0m0.1-1h0m0.3 2.1h0m0.7 0.9h0m9-0.7h0m6.8-1.1h0m12.9-3.3h0m5.7 4.5h0m1.4-0.2h0m1.4 0.3h0m0.2-1.5h0m0.3 1.4h0m0.1-0.2h0m0.7-1.9h0m0 0.1h0m0.2 2.2h0m0.3 0h0m1.3 0.2h0m0.5-1.1h0m0.9 0h0m0.2-0.7h0m0.4 0.6h0m1.2 0.1h0m0-0.8h0m0.3 0.7h0m0.1 0.4h0m0.4-2.4h0m0.2 3.4h0m0.4-1.9h0m0.4 1.2h0m0.1-0.2h0m0.2-2.8h0m1.6 3.9h0m0.6-0.1h0m0.9-2.3h0m0.6 1h0m0.8 1.1h0m0.4 0h0m0.9-2.6h0m0.2 2.1h0m0.2-1.4h0m0.3 0.5h0m0.9-0.2h0m0.1 1.1h0m-121 1h0m2.1 3.5h0m0.2-3.3h0m1 1.8h0m2.3 1.8h0m0.5-0.2h0m0.1-0.7h0m0.7 0.5h0m0.5-0.1h0m0 0.6h0m0.2 0.5h0m0.1-0.6h0m0-1.2h0m0.2 1.5h0m0.1-0.8h0m1.4 0.2h0m0.1 0.6h0m0.4-1.5h0m1.3 1.2h0m0-3.2h0m1.2 2.8h0m0.3 1.1h0m0.4-1.7h0m3.6 1h0m0.5-0.1h0m0 0.2h0m0.8-0.7h0m1.2 0.5h0m1.7-1.8h0m0.2 0.6h0m0.6 2h0m0.2-1h0m0.8-2.8h0m0 4.9h0m0.1-4.7h0m0 2.4h0m0.1-1.1h0m0.1-1.4h0m0.1 4.1h0m0.3-2h0m0.3-0.4h0m1.3 1.1h0m0.3 1.5h0m0.3-1.3h0m0.1 0.8h0m1.2-4.1h0m0.3 3.9h0m23.5-2.8h0m1.2-0.4h0m0.4 1.1h0m1-0.3h0m0 1h0m0.2 2.4h0m0.3-0.7h0m0.3-1.3h0m0-2.4h0m0.2 4.2h0m0.5-1.8h0m0.7 1.1h0m0.9-4.2h0m0.2 2.5h0m8.8 2.5h0m0.8-2.8h0m0.3-2h0m0.5 2.4h0m0.4 1.5h0m0.9-1.4h0m0.3-2.4h0m0.1 2h0m0.4 1.5h0m0.4-2.8h0m27.7 1.7h0m0-0.1h0m0.1-1.5h0m0.5 2.4h0m0.2 0.4h0m0.1-2.9h0m1 2.5h0m1.2 0.2h0m0.2-3.2h0m0.3-1h0m0.2 5.9h0m0.4-5.7h0m0.5 2.9h0m1.1 1.9h0m1.1-4.9h0m0.2 4.9h0m0.2-3.9h0m0.6 1.2h0m0.2-0.8h0m0-1h0m0.3 3.4h0m0.2-1.5h0m1.6-1.7h0m0.6 2.7h0m0.3-2.1h0m0.3 2.4h0m1.2 1.8h0m0.3-3.3h0m0.3 0.4h0m0.2 1.8h0m2.5-2.1h0m0.2-0.9h0m0.2 2.2h0m0.1-2.8h0m0.3 1.6h0m0.9-1.1h0m0 2.2h0m0.5-0.1h0m0-3.3h0m0.2 4.8h0m0.1-1.8h0m0.5-2.8h0m0.1 3.2h0m0.9-2h0m0.3-1h0m0.5 1h0m0.8 1.3h0m1.2-2h0m0-0.3h0m0.5-0.2h0m0 0.1h0m-134.2 10.6h0m2-0.1h0m0.7 0.1h0m2.8 0.9h0m0.9-0.1h0m1.5 0.1h0m6.8-0.3h0m0.4-0.5h0m1.2-0.9h0m0.7-1.3h0m0.2 0.2h0m0.1 1.8h0m1 1h0m0.3-1.9h0m0.7-2.6h0m0.5 1.6h0m0.7 0.7h0m1.4 2.2h0m0.7-1.1h0m1.4-2.4h0m1.5 0.6h0m0.6 1h0m1.5-3.3h0m0.4 2.6h0m0.6-0.8h0m0.3-1.4h0m0.2-0.5h0m0.5 1.1h0m0.4 3.3h0m0.2-2.8h0m0.3-1.1h0m0.1 1h0m0 0.8h0m1.9 0.9h0m0.1-2.9h0m0.1 2.6h0m0.4 2.1h0m1.3-3.5h0m0.7 2.7h0m1.3-4.1h0m1.8 0.4h0m4.9 1.2h0m4.9 0.4h0m3.2-1h0m14.2-1.5h0m2.6 2.1h0m0.3-1.7h0m0.5-0.3h0m0.2 0.6h0m0.3-0.8h0m0.7 0.1h0m0.1 1.1h0m0.1-0.1h0m1 1.4h0m0.5 0h0m1.2 0.8h0m1-1.3h0m0 1h0m0.1-1.1h0m1.9 0.4h0m0.4-0.5h0m1.7-1.8h0m2.5 0h0m10.4 1.2h0m21.4-1.1h0m6.7 1.2h0m1.4-0.7h0m1.2 0.3h0m0.3-0.3h0m2.8-0.2h0m0.7 0.2h0m3.4 4.2h0m0.1 0.4h0m0.1-1.2h0m0.4-3.8h0m1.2 0.3h0m-137.2 10.5h0m0.4-2.3h0m0.5 2.3h0m0.5-3.2h0m0.8-1.1h0m1.1 5.1h0m0.8-5h0m0.4-0.5h0m1.9 0.1h0m0.8-0.4h0m1.9 3h0m0.4 1.6h0m0.1-0.6h0m0.8-3.2h0m0.2 2.6h0m0.8 2.3h0m0.1-1.5h0m0.3-2.6h0m0.6-1h0m0.6 2.4h0m1.6-1h0m0.8-1.3h0m0.1-0.4h0m0.4-0.3h0m0 2.7h0m5.6-2.3h0m0.8 2.5h0m0.2-2h0m0.2 3h0m0.3-0.9h0m0 1.1h0m0.3 1.5h0m0.1-2.8h0m0 1.1h0m0.3-3.8h0m0.1 2.6h0m0 0.5h0m0.2 1.6h0m0.4-3.2h0m0.1 2.2h0m0.2-0.2h0m0.5 0.2h0m0 0.5h0m0.1 0.5h0m0.4-2h0m0.1 0.3h0m0.1-1.5h0m0.6 2.7h0m1.8-0.6h0m0.4-2.3h0m0.4 3.8h0m0.6-4.5h0m1-0.4h0m0.2 1.3h0m1.3-0.6h0m0.1-0.3h0m0.6-0.6h0m0.1 4.8h0m0 0h0m0.6-2.1h0m0.7-0.7h0m5.5 0.7h0m0.4-1.8h0m1.4-0.4h0m0.9-0.5h0m4.2 0.2h0m1.6-0.1h0m57.4 1.7h0m27.6 4h0m0.9-3.2h0m0.2 1.3h0m0-1.2h0m0.1-1.7h0m0.1 0h0m0.1 1.3h0m0.5-0.9h0m6.6-0.8h0m0 0.4h0m0.4 1.4h0m-143.4 4.5h0m3.5-0.9h0m1.5 2.3h0m0-0.6h0m2.9-1h0m0.4-0.8h0m1.8 0.8h0m3.4-0.5h0m0.3 0h0m12.3 1.3h0m0.6 2.9h0m0.9-3.9h0m0.1 1.5h0m0.2-1.1h0m0.4 2.3h0m1.3-1.2h0m1.2-1.6h0m0.9 1.2h0m1.6-1.7h0m2.6 2.8h0m1.7 0.2h0m0.1-0.8h0m29.2-1.8h0m50 4.6h0m1.3 0.5h0m3.1 0.1h0m0.3-3.1h0m0 1.8h0m0.4 0.1h0m1.6-0.6h0m0.2-0.2h0m0.1 1.4h0m0-0.1h0m0.2-3.2h0m0.1 0.4h0m1.2 2.2h0m0.2 0.9h0m0.6-2.5h0m0.5 2.5h0m0.2-1.5h0m0.2 0h0m0.2-0.6h0m0.1 0h0m0.7 0.7h0m0.2 0.8h0m0-2.4h0m0.7 0.8h0m0.2 0.2h0m1.1-0.3h0m3.4 2.5h0m1 0.3h0m0.2-2.6h0m0.5 1.1h0m0 1.4h0m0.1-5.6h0m0.1 4.8h0m1 0.2h0m0.2-0.8h0m0.1-0.2h0m0.4 1.2h0m0.2-1.1h0m0.7-0.5h0m0.1-3.5h0m0.2 4.2h0m0.7-1h0m0-1.8h0m1.2-0.2h0m0.2-0.6h0m0 1.3h0m1.5 0.7h0m0.1-2.7h0m0.1 1.9h0m1.1 4h0m-116 3.4h0m0.4-1.3h0m9.5-0.9h0m0.6 2.8h0m0.3 1.4h0m0.7-4.2h0m0.3-1.1h0m82.4-0.1h0m0.9 0.4h0m9.3 0.4h0m0.2 4h0m1.6-4.5h0m0.2 4.4h0m0-0.7h0m0.5 0.6h0m0.1-3.3h0m0.9 1.5h0m1.4-0.4h0m0.3 2.6h0m0-1.9h0m0.5-0.4h0m1.2 1.9h0m0.1-3.9h0m1.2 5.3h0m0.7-0.6h0m0.7 0.1h0m1.4-1.3h0m0.3 1.7h0m0-0.1h0m0-4.2h0m0.5 3.7h0m0.1-3.3h0m0.2-1.4h0m0.5 1.5h0m-118.6 4.4h0m1.6 1.7h0m8.7 0.3h0m97.4-1.9h0m0.5 0.8h0m0.9 0h0m0.3-1.3h0m0.9 0h0m0.5 0.2h0m0.6 3.1h0m0.6-1.2h0m0.6-2.2h0m1.9 0.8h0m1.1 1h0m0.6-0.5h0m1.4-1h0m-106.2 10.5h0m0.3-2.1h0m0 0h0m0.2-0.7h0m0.1-0.4h0m0.7 2.9h0m0.2-2.8h0m0.7 4.2h0m1.1-0.2h0m0.2-1.3h0m0.4 1.2h0m0 0.4h0m0.6-2.7h0m0.1-0.5h0m0-0.4h0m0.2 0.7h0m0.1 2.1h0m0.1-2.2h0m0 0.4h0" fill="none" stroke="#e3281b" stroke-width="1.6" stroke-linecap="round"/>
</g></g>
<g id="e3g" clip-path="url(#ce)"><g filter="url(#warp)">
<g filter="url(#gtex)" fill="#17a33b" stroke="#17a33b"><polyline points="5.4,6.2 17.1,7.5 27.1,3.9 40.5,2.8 53.9,1.7" fill="none" stroke-width="2.6" opacity="0.14"/><ellipse cx="69" cy="9.2" rx="8" ry="5.4" fill="none" stroke-width="4.7" opacity="0.25"/><polyline points="70.7,12.6 65.7,22.6 59.8,32.7 55.9,36" fill="none" stroke-width="2.6" opacity="0.17"/><ellipse cx="136" cy="1.2" rx="5.4" ry="1.9" stroke="none" opacity="0.35"/><ellipse cx="132.7" cy="28.5" rx="1.9" ry="3.4" stroke="none" opacity="0.29"/><ellipse cx="126.8" cy="5" rx="1.4" ry="1.4" stroke="none" opacity="0.62"/><ellipse cx="106.7" cy="46.1" rx="8" ry="3.7" fill="none" stroke-width="3.3" opacity="0.45" transform="rotate(-15 106.7 46.1)"/><ellipse cx="98.3" cy="54.4" rx="2.2" ry="1.9" stroke="none" opacity="0.06"/><ellipse cx="18.4" cy="36.9" rx="3.4" ry="8.8" stroke="none" opacity="0.05" transform="rotate(15 18.4 36.9)"/><ellipse cx="42.2" cy="100" rx="4.4" ry="6" fill="none" stroke-width="3.3" opacity="0.27"/><ellipse cx="18.8" cy="106.7" rx="6.4" ry="8" fill="none" stroke-width="3" opacity="0.12" transform="rotate(20 18.8 106.7)"/><ellipse cx="10.4" cy="118.1" rx="4.7" ry="8" fill="none" stroke-width="3" opacity="0.12" transform="rotate(20 10.4 118.1)"/><ellipse cx="4.5" cy="129" rx="4.7" ry="8" fill="none" stroke-width="3" opacity="0.25"/><ellipse cx="28.8" cy="113.9" rx="4.6" ry="1.2" stroke="none" opacity="0.23"/><ellipse cx="56.4" cy="104.7" rx="1.9" ry="2.4" stroke="none" opacity="0.29"/><ellipse cx="127.6" cy="103" rx="14.6" ry="13" stroke="none" opacity="0.14"/><polyline points="35.5,124.8 47.2,134.8 62.3,133.2 77.4,136.9 90.8,135.7 104.2,134.8 117.6,126.5 122.9,113.1" fill="none" stroke-width="3.1" opacity="0.21"/><ellipse cx="43.9" cy="130.7" rx="6" ry="6.4" fill="none" stroke-width="3" opacity="0.06"/><polyline points="53.9,150.3 60.6,146.9 67.3,144.9" fill="none" stroke-width="2.6" opacity="0.06"/><ellipse cx="79.9" cy="153.3" rx="1.7" ry="1.7" stroke="none" opacity="0.62"/><ellipse cx="90.8" cy="26" rx="1.4" ry="1.4" stroke="none" opacity="0.62"/><ellipse cx="120.9" cy="38.5" rx="1.4" ry="1.4" stroke="none" opacity="0.62"/><ellipse cx="112.6" cy="86.3" rx="1.4" ry="2.1" stroke="none" opacity="0.58"/></g>
<path d="m25.6 4.1h0m4-0.3h0m16-1.6h0m0.1 0.5h0m4.4-1h0m0.8 0.6h0m2.8-0.7h0m5.9 3.2h0m1.3-0.6h0m0.5 1.4h0m1.4-0.7h0m0.2 0h0m0-0.2h0m0.2 0.2h0m0.1-1.2h0m0.3 0.7h0m0.3-0.6h0m1.4 1.7h0m0.9-1.8h0m0.9-1.4h0m0.4 2.7h0m0-1.6h0m2.2 0.2h0m2.2 1.2h0m0.3 0h0m0.7 0.9h0m0.7-0.4h0m0.9 0.4h0m52.8 0h0m0-0.8h0m0.4 0.4h0m4.7-4.4h0m0.6-0.2h0m0.8 1h0m0.2 0.5h0m-126.7 4.7h0m0.6-0.1h0m2-0.8h0m1.6 1.2h0m1.1-0.2h0m0.5 0.6h0m2.9 0.1h0m43.6 0.2h0m0.9 0h0m1.3-1.7h0m2.7 4.7h0m1.3 0.2h0m12.2-0.2h0m0.2-0.6h0m1.1 0.3h0m0.2 0.1h0m-17.9 2.2h0m1.6-0.3h0m2.7 0.1h0m2.1 1.1h0m0.4-0.6h0m0.6 2.2h0m0.1 0.7h0m3.7-0.7h0m0.7-3h0m0 1.2h0m0.3 0.2h0m0.2 1.6h0m0.1-2.6h0m0.2 2h0m0.2-2.3h0m0.8 0.6h0m1 0.4h0m0.1-1h0m-8.9 7.5h0m0.7 0.8h0m0.2-0.2h0m-7.7 8.5h0m1.6-1.9h0m28.7-1.6h0m0.3 1.2h0m40.8 0.3h0m-110.9 3.2h0m38 2.5h0m0.1 0.7h0m0.2-1.6h0m73.7-1.2h0m-117.5 5.8h0m1.4 5.4h0m1.8-3.7h0m2.2-0.6h0m87.2 4h0m2.5-0.2h0m0 0h0m0.1-0.4h0m0.5 1h0m1.5-0.7h0m0.2 0.4h0m1-1.2h0m6.7-2h0m0.3-0.4h0m-24.5 8.5h0m0.7 0.9h0m1.3-1.1h0m0.2 0.7h0m0.3-0.5h0m1.1-1.4h0m0.1 0.2h0m0.9 0.3h0m1.3-1.9h0m0.9-0.5h0m3.2-0.4h0m1.9-0.5h0m3.8 0.2h0m0.2 2.1h0m0.8-1.7h0m0.1 0.4h0m0 2.9h0m0.4-2.9h0m0.2 2.5h0m0.5-3.9h0m1 3.4h0m-18.7 3.4h0m0.4 0.3h0m0.5 0.3h0m0.9 0.3h0m0.1-0.9h0m0.2 0h0m0.2 0.5h0m0.1 0.4h0m0.3-0.9h0m0 1h0m0.2-0.7h0m0.9 0h0m2.3 0.2h0m0.1-0.4h0m1.3 0.4h0m0-0.7h0m0.1 1.5h0m2 0.5h0m0.1-1.3h0m0.7 1.1h0m0.3-0.6h0m1.3-0.5h0m0.1 1.3h0m0.5-0.2h0m0.2-1.5h0m2-0.8h0m0.8 0.1h0m-0.4 39.2h0m0.9-0.5h0m0.4 0.2h0m-75.8 8.7h0m0.1-0.1h0m1-0.2h0m2.5-1.9h0m1-0.1h0m1 1h0m0.6 1h0m0.3-1.3h0m74.3 1.8h0m5.2-2.8h0m1.8-0.6h0m4.3-1.4h0m0 3.1h0m0.1-1.4h0m0.3-0.1h0m5.7 1.8h0m2.3 0.1h0m-123.5 6.3h0m0.4 0.3h0m7.4-2.8h0m1.4 2.2h0m0 0.6h0m14-3.3h0m0.1-0.1h0m7.9 2.9h0m0.1-4.2h0m0.7 3.4h0m1.6 1h0m66-1.1h0m0.5 0.6h0m1.2-0.6h0m1.4 0.4h0m0.2 1.2h0m0.7-0.6h0m0.8-1.5h0m0.1-0.3h0m1.2-0.3h0m0.1 1.3h0m1.6-2.7h0m1.2 0.2h0m7.2 0.1h0m1.6 3.8h0m0.3-1.7h0m5.7 1.1h0m0.7-2.7h0m1.5 3.8h0m-117.3 1.7h0m1.8 2.3h0m15-1.9h0m0.5 1.3h0m1.7 2.2h0m0.9-0.5h0m0.3-0.4h0m0.6-1.2h0m0.9-2.1h0m0.7-0.7h0m12 2.4h0m59.5-2.4h0m1.2-0.6h0m0.3 4.8h0m2.4-2.9h0m3.5 1h0m0.5 0.7h0m1.4-3h0m1.4-0.2h0m0.3 4.6h0m2.2-0.5h0m0.9-0.3h0m0.6-1h0m0.2 1.9h0m2.4-0.5h0m0.1 0.5h0m3.6-2.6h0m0.2-2.3h0m0.7 5.1h0m0.8-3.5h0m1.3 1.6h0m-132.4 6.4h0m1.2-1.3h0m1 0.5h0m0.7-0.4h0m0.4 0.5h0m0.1-1.6h0m0.2 2.3h0m0.6 0.8h0m11.7-1.6h0m0.7 0.3h0m5 1.9h0m11.6-5.2h0m74.5 1.2h0m1.7-0.1h0m2.9 3.4h0m0.8-2.6h0m0 1.9h0m1.1 1.1h0m0.3-0.4h0m1.3-2.6h0m0.9-0.9h0m2 1.2h0m2.4 1.4h0m0.9-2.9h0m1.3 4.3h0m2.4-4.7h0m1.4 2.2h0m0.6 0.8h0m0.8 0.1h0m0.5 0.5h0m-131.1 4.5h0m0.1-1.9h0m0.2 4.9h0m0.1-0.1h0m8.2 0.2h0m1.1-5.2h0m2.4 0.3h0m8-0.5h0m4.3 0h0m89.2 2.3h0m3.3-2.4h0m8 0.7h0m-129.8 10.1h0m0.3-1.2h0m1.1-2.5h0m1-0.3h0m0-0.2h0m0.9-0.6h0m1.3 0.4h0m0.1 0.7h0m1.3 1.7h0m0.2-0.9h0m0.1-0.6h0m0 0h0m0.6 1.3h0m0 1.3h0m0.2 0.6h0m1.8 0.3h0m0-0.1h0m0.6-0.1h0m0.2-0.2h0m0.6-1.5h0m1.2-0.8h0m32.5 3.5h0m71.7-2.3h0m2.6-2.2h0m-118.9 5.5h0m7.3 0.8h0m1.5 4.4h0m27.3-5.6h0m1.1 0.9h0m0.6 0.6h0m0.7 0.6h0m0.1-0.6h0m1.8 1.5h0m1.9 2.4h0m0.2 0.3h0m7.4-0.9h0m61.8-2.4h0m1.9-0.9h0m0.5 1.2h0m3-2.1h0m-114.6 8.7h0m1.1 0.5h0m0 1.2h0m1-0.8h0m0.3 0.1h0m0.2 0.8h0m2.9-3.3h0m0.4 0h0m35.9 2.9h0m0.9-1.3h0m0.2-0.7h0m0-1.3h0m4.7 0.4h0m0.9 0h0m1.8-0.3h0m2.1 0.5h0m1.9-0.5h0m0.5 0h0m1.7 1.2h0m0.4-0.2h0m7.6-1.3h0m1.8 1.9h0m3.8-0.1h0m3.3 1.6h0m3.6-0.2h0m0.5-0.4h0m6.4 0.6h0m2.6-2.1h0m1.6 1.2h0m2.6-1h0m0.4 0.9h0m3.5-0.4h0m0.1 0.5h0m2.9-0.5h0m0.3 0.5h0m5-2.1h0m0.3-0.3h0m0.4-1.5h0m1.5 0.4h0m0.7 0.2h0m-65.2 5.8h0m73.3 4.8h0m4-3.2h0m-66.4 9.6h0m3.7-1.5h0m4.6-2.1h0m16.1 7.7h0m0.5 0.3h0m0.3-2h0m0.1-0.1h0m0.8 2h0" fill="none" stroke="#1bb83e" stroke-width="1.6" stroke-linecap="round"/>
</g></g>
<g id="e3r" clip-path="url(#ce)"><g filter="url(#warp)">
<g filter="url(#gtex2)" fill="#c4261a" stroke="#c4261a"><polyline points="5.4,6.2 17.1,7.5 27.1,3.9 40.5,2.8 53.9,1.7" fill="none" stroke-width="2.6" opacity="0.66"/><ellipse cx="69" cy="9.2" rx="8" ry="5.4" fill="none" stroke-width="4.7" opacity="0.16"/><polyline points="70.7,12.6 65.7,22.6 59.8,32.7 55.9,36" fill="none" stroke-width="2.6" opacity="0.66"/><ellipse cx="87.4" cy="5" rx="1.6" ry="3.4" stroke="none" opacity="0.78"/><ellipse cx="136" cy="1.2" rx="5.4" ry="1.9" stroke="none" opacity="0.72"/><ellipse cx="132.7" cy="28.5" rx="1.9" ry="3.4" stroke="none" opacity="0.36"/><ellipse cx="106.7" cy="46.1" rx="8" ry="3.7" fill="none" stroke-width="3.3" opacity="0.49" transform="rotate(-15 106.7 46.1)"/><ellipse cx="98.3" cy="54.4" rx="2.2" ry="1.9" stroke="none" opacity="0.78"/><ellipse cx="2" cy="33.5" rx="2.6" ry="8.8" stroke="none" opacity="0.54"/><ellipse cx="18.4" cy="36.9" rx="3.4" ry="8.8" stroke="none" opacity="0.57" transform="rotate(15 18.4 36.9)"/><ellipse cx="16.2" cy="58.1" rx="4.1" ry="10.5" stroke="none" opacity="0.54"/><ellipse cx="8.7" cy="56.1" rx="3.8" ry="5.8" stroke="none" opacity="0.24"/><ellipse cx="131" cy="77.9" rx="2.6" ry="5.4" stroke="none" opacity="0.72"/><ellipse cx="42.2" cy="100" rx="4.4" ry="6" fill="none" stroke-width="3.3" opacity="0.64"/><ellipse cx="38.9" cy="88.8" rx="2.7" ry="3.4" stroke="none" opacity="0.66"/><ellipse cx="27.1" cy="93.8" rx="5.4" ry="1.7" stroke="none" opacity="0.66" transform="rotate(-10 27.1 93.8)"/><ellipse cx="18.8" cy="106.7" rx="6.4" ry="8" fill="none" stroke-width="3" opacity="0.34" transform="rotate(20 18.8 106.7)"/><ellipse cx="10.4" cy="118.1" rx="4.7" ry="8" fill="none" stroke-width="3" opacity="0.29" transform="rotate(20 10.4 118.1)"/><ellipse cx="4.5" cy="129" rx="4.7" ry="8" fill="none" stroke-width="3" opacity="0.34"/><ellipse cx="28.8" cy="113.9" rx="4.6" ry="1.2" stroke="none" opacity="0.43"/><ellipse cx="56.4" cy="104.7" rx="1.9" ry="2.4" stroke="none" opacity="0.36"/><ellipse cx="127.6" cy="103" rx="14.6" ry="13" stroke="none" opacity="0.17"/><ellipse cx="105.9" cy="101.3" rx="7.1" ry="2.1" stroke="none" opacity="0.66" transform="rotate(-10 105.9 101.3)"/><polyline points="35.5,124.8 47.2,134.8 62.3,133.2 77.4,136.9 90.8,135.7 104.2,134.8 117.6,126.5 122.9,113.1" fill="none" stroke-width="3.1" opacity="0.55"/><ellipse cx="43.9" cy="130.7" rx="6" ry="6.4" fill="none" stroke-width="3" opacity="0.4"/><polyline points="53.9,150.3 60.6,146.9 67.3,144.9" fill="none" stroke-width="2.6" opacity="0.7"/><polyline points="92.5,154.9 104.2,151.6 114.2,146.6 121.8,138.2 126.3,128.1" fill="none" stroke-width="2.3" opacity="0.7"/><ellipse cx="137.7" cy="124.8" rx="5.1" ry="5.1" stroke="none" opacity="0.3"/><ellipse cx="1.2" cy="151.6" rx="1.7" ry="5.4" stroke="none" opacity="0.72" transform="rotate(-10 1.2 151.6)"/><ellipse cx="120.9" cy="38.5" rx="1.4" ry="1.4" stroke="none" opacity="0.55"/></g>
<path d="m7.1 5h0m14.3 1h0m2.1-0.7h0m0.9-0.6h0m1.2-0.6h0m0.1-0.1h0m0.8-0.1h0m2.2 0h0m0.7-0.3h0m2.2-0.7h0m1.2 0.6h0m0.7-0.2h0m1 0.5h0m0.4-1.1h0m0.8 1.2h0m0.2-0.8h0m0.6 0.6h0m0.4-0.7h0m0.1-0.2h0m0.1 0.7h0m1.4-0.6h0m0.2-0.1h0m0.1-0.1h0m2.2-0.2h0m1.6-0.4h0m0.3 0.6h0m0.1-0.6h0m1.7 0.7h0m1-0.4h0m0 0.5h0m2.2-1.5h0m2 0.1h0m0.6 0.5h0m0.7 0.4h0m0.3-0.6h0m0.7 0.1h0m1.3 0.4h0m0.3-0.8h0m0.1 0.2h0m1.1 0.2h0m6.6 3.6h0m1.9-0.8h0m0.2 0.1h0m0.8-0.2h0m0.7-0.3h0m2.5 0.1h0m0.3 0.4h0m2.2 1.1h0m1.2-0.6h0m0.8-0.3h0m14.5 0.5h0m1.2 0.4h0m0.3-2.3h0m0.2 2.2h0m0.1-0.7h0m43.8-3.9h0m0.9-0.4h0m0.5 0h0m0.1 0.7h0m0.1 0.7h0m2.2 0.3h0m1.2-1.4h0m1.5-0.3h0m0.6 0.7h0m-131.5 5.5h0m2.1-0.6h0m1.1 0.6h0m0.4-0.8h0m0.2 1.2h0m0.8-0.1h0m0.4-0.4h0m0 0.9h0m0.4-0.2h0m1.8-0.5h0m0.7 0.8h0m0.1-0.2h0m1.1-0.6h0m0.3 0.4h0m0.5 0h0m0.9 0.2h0m1.8-1.3h0m0.8-0.4h0m1 0.2h0m37 1.8h0m0.7-0.8h0m1.8 2h0m11.7-2.9h0m2.7 5.5h0m10.5-4.6h0m1.2-0.4h0m-23.3 6.7h0m3.8 2.6h0m0.1 0.2h0m0.3-1.1h0m0.1 1.4h0m0.2-0.5h0m0.5-0.3h0m3.3-1.4h0m2.4-1.2h0m15 0.8h0m-25.3 8.4h0m0.5-0.9h0m0.6-1.4h0m0 0.3h0m1.5-0.6h0m0.2-0.9h0m0.3-0.6h0m0.3 2.3h0m20.3 2.4h0m-87.7 4.4h0m0.3 2.5h0m0.4-2h0m1.1 0.9h0m0.1-2.4h0m18.3 3.2h0m39.6-0.5h0m0.7 0.5h0m0.6-2.3h0m0.3-0.1h0m0.9-0.6h0m0 1.6h0m0.7-3.6h0m0.2-0.1h0m0.2 0.7h0m66.8 3.1h0m1.3 0h0m0.2 0h0m0 0.4h0m0.1 0.4h0m0.8-2h0m-132.8 7.5h0m0-0.2h0m0.1 1.3h0m0-1.7h0m0.1-1.3h0m0.8 0.3h0m0.4-2.4h0m0.3 2.8h0m0.3-0.5h0m0.6 2.3h0m0.1-4.7h0m14.2 0.8h0m0.7 0.4h0m0.7-0.1h0m0.3 3.5h0m0.8-5h0m0.5-0.1h0m0.1 3.4h0m0.2-3.2h0m0.5 4.3h0m0.1-2.8h0m0.2-0.3h0m8.9-0.3h0m25.7 4.3h0m1.8-2h0m0.2-0.2h0m0.6 0.5h0m0.1-0.6h0m0.3-1.1h0m0.5 0.6h0m0.1-0.8h0m0.9-1.4h0m0.1-0.2h0m0 0.8h0m-60.3 8h0m0.2-0.6h0m0.9 3.3h0m0-1.7h0m0.2-3.5h0m0.8 1.4h0m0.3 1.8h0m0.2-1.3h0m0-1.4h0m11.8 2.1h0m0.2 2.1h0m0.1-4h0m0.2 2h0m0.4 0.4h0m0 1.3h0m0.2-2.7h0m0.2 2.5h0m0.3-3.2h0m0 1.9h0m0.6 2.5h0m0.1-4.2h0m0.5-1.6h0m0.3 1.7h0m0.3 0.2h0m0.8 2.7h0m0.1-2.4h0m1.6-0.7h0m0.1-0.2h0m0.1-0.8h0m86.7 5.4h0m2.6-0.5h0m0.2 0.2h0m0.4-0.8h0m1.7 0.9h0m0.1-0.3h0m7.8-3.1h0m-105.4 5.5h0m0-1h0m0.7 1.3h0m0.8 0.7h0m2.2-2.7h0m78.5 5.4h0m1.2-1.2h0m0.3-0.9h0m1.1 0.1h0m0.6-1.2h0m1.6-0.6h0m0.5-0.2h0m3.5-0.6h0m2.3-0.8h0m2.8 0h0m1.1 0.2h0m0.7 0.8h0m0.1 4.2h0m0.3-1.8h0m0 0.8h0m0.3-0.8h0m0-2.5h0m0.3-1h0m0.3 2.4h0m1 1.1h0m15.8 1.1h0m-123.5 6.2h0m1.3-0.5h0m0.7 1.4h0m3.3-0.1h0m1-3.6h0m0 3.5h0m0.2 0.1h0m0-3.4h0m0.2 0.8h0m0.7 1.4h0m1-4.2h0m0.3 1.5h0m0.6 3.8h0m0.3-0.1h0m0.1 0.3h0m0.1-4.1h0m0 2.9h0m0.2-3.1h0m79.1-0.9h0m0.1 5.2h0m0.9-4.3h0m0.3 4.1h0m0.5-0.4h0m0-0.1h0m0.3-3.7h0m0-0.7h0m0.5 4.6h0m0.3-3.4h0m4.3 0.4h0m0.2-1.4h0m2.3 0.7h0m0.6 0h0m0.1 0.8h0m0.1-0.2h0m1.1 0.9h0m0.2-2.1h0m1.2-0.2h0m-103.8 5.6h0m0.1 4.5h0m1.7-2.4h0m0.6 1.8h0m0.2-0.5h0m1.8-3.6h0m0.1 4.8h0m0.3-3.1h0m2.3-1.7h0m0.4 2.1h0m0.2 0.7h0m0.3 0.4h0m0.3 0.8h0m0.1 0.3h0m0.1-0.9h0m1 1.9h0m0.1-5.3h0m0.3 0.7h0m0.1 2.2h0m0.4-2.6h0m0.1 3.2h0m0.4-3.4h0m0.3 3.3h0m0.2-1.4h0m0.2-0.2h0m0.1 0.9h0m0.7 2h0m0.1-0.6h0m0.3-1.4h0m0.8 0.4h0m42.2 0.4h0m6.6 0h0m2.6-0.8h0m20.6 1.5h0m5.2-3.2h0m-87.9 6.8h0m3.9-0.4h0m0.3-0.6h0m1.1-0.3h0m0 2.4h0m0.9 2.1h0m0.3 0.2h0m0.3 0h0m0.5-4.2h0m1.6 0.5h0m0.3-1.6h0m0.2 0.7h0m1.1 0.7h0m84.3 3.4h0m-98.3 7h0m0.3-5.3h0m8.9 0.2h0m1.1 1.2h0m0.6-0.1h0m2.8 1.1h0m20-2h0m25.1 3.2h0m-35.1 7.1h0m10.6-1.5h0m89.9-0.7h0m0 0.8h0m0.8 0.1h0m0.5-1.2h0m0.3 0.3h0m0.6 0.7h0m0.7 1h0m-8.7 5.3h0m5-3.1h0m0.7 1.4h0m0 1.2h0m0.2-2.1h0m0.1 0.7h0m0.9 1.5h0m0.1-2.2h0m0-0.8h0m0.2 1.4h0m0.5 0h0m0.4 1.4h0m0.3 0.1h0m0.5-1.2h0m-95.4 8.4h0m0.3-0.4h0m0.6-1.4h0m0.5 1.8h0m0.3 0.1h0m0.2-2.8h0m0.1 0.8h0m0.1 1.8h0m1.1-0.3h0m14.5-0.9h0m-41 2.8h0m3.5 4.7h0m6.8-0.9h0m0.7 0.4h0m0.3 0.4h0m2.2-2h0m0.4 1.1h0m0.2 0.7h0m0.1-1.6h0m0.9-0.3h0m0.1 0.6h0m1-0.4h0m0 0.7h0m7.1-3.4h0m0.1 5.5h0m0.1-0.3h0m0.8 0.5h0m1-1.7h0m0.2 0.4h0m0.2-3.2h0m0.4-1h0m0.1 4.3h0m0.2-1h0m0.1 1.3h0m0.2-1.4h0m0 1.2h0m1-1.3h0m1.1 1.6h0m0.2-0.1h0m0.2-0.8h0m0.8 0.7h0m0.2 0.4h0m27.8 0h0m46.4 0.4h0m1.4-2.2h0m0.4 1.7h0m0.9-1h0m5.4 0.7h0m1.4-3h0m0.3 1.4h0m1.1-1.8h0m0.1 1.8h0m0.7-2.2h0m0.1 1.9h0m3.9 1.8h0m2.4-1.4h0m-122.3 8h0m1.3-1.6h0m0.4-0.7h0m0.7-0.2h0m2.1-1h0m2.7 1.2h0m0.9-0.7h0m1.1 3.1h0m0.2-1h0m14-2.6h0m0.1-0.2h0m0.4 1.9h0m7.3 1.1h0m0.3-3.7h0m0-0.2h0m0.4 0.5h0m0.2 0.3h0m0.2-0.1h0m0.2-0.1h0m0.1 0.8h0m0.3-0.8h0m0.2 2.4h0m54.8 1.4h0m0.3 0h0m2.2-0.3h0m1.3 0.1h0m0.3 0.6h0m0.1-0.7h0m1 0.8h0m0.9-1.9h0m2.5 1.3h0m0.5-1.5h0m0.4 0.1h0m2.7 1h0m0.2-1.3h0m0.1 0.8h0m2.8-2h0m1.3-1.1h0m0.1 1.7h0m0.2 0.1h0m0.2 2.3h0m0.7 0h0m0.1-1.1h0m0.1-1.1h0m0.7-0.1h0m0.1 1.9h0m1 0.1h0m0.8-3.4h0m2.1-0.6h0m0.2 3.8h0m2.4-3.7h0m4.3 0.9h0m0.5-0.2h0m1-0.4h0m1.8 0.4h0m0.1 0.1h0m0.1 0.2h0m0.3 2.5h0m1.2-0.3h0m0.6-4.3h0m0.4 5h0m0.4-3.5h0m0.2 2.2h0m1 0.3h0m1.2 0.9h0m0.7-0.7h0m-128.4 7.1h0m5.6-4.9h0m5.4 1.3h0m0.3 1.1h0m0.6 1.2h0m0.3-0.7h0m0.3 0.7h0m0.4 0.7h0m13-2.9h0m0 0.3h0m0.3-1.1h0m0.1 1.6h0m0.2-0.2h0m0.2 0.1h0m0.2-0.5h0m0.3 1.6h0m0.8 1.3h0m0.4 0.5h0m0.7 0.4h0m0.8-1.1h0m0.1 0.1h0m0-1h0m0.7-0.5h0m0.1 0.5h0m0.4-0.8h0m0.3 0.6h0m0.3-2.2h0m10.7 1.2h0m0.3 0.6h0m0.5 0.1h0m0.6-2.3h0m43.4-0.8h0m1.2-0.1h0m0.7 0.8h0m0.5-0.5h0m1.7 0.6h0m1.2-0.9h0m0.2 0.9h0m0.4-1h0m7.9 3.1h0m0.1-0.4h0m2.1 2.8h0m0.3-2.2h0m0.3-2.9h0m0.3 3h0m0.5 1.3h0m1.6-1.3h0m0-3.2h0m2.3 0.7h0m0.2 1.6h0m3 1.3h0m0.4-1.1h0m0 1.3h0m0.4 1.8h0m0.3 0.1h0m0.7-2.3h0m1.4 1.3h0m1.1-1.4h0m0.6 2.1h0m0.7-4h0m0.8 2.5h0m0.3-0.9h0m0.9-0.6h0m0.7 1.3h0m2.2-2.2h0m1.4-0.8h0m1.8 4.3h0m-131.6 5.1h0m0.6-0.3h0m0.7-1.2h0m3.1 1.1h0m0.3-0.9h0m0.5-0.7h0m0.3 2.3h0m0.6 0.1h0m0.9 1.2h0m1.4-1.3h0m0.4 0.4h0m0 0.8h0m0.1-0.5h0m0.1-0.8h0m1.5 1h0m1.7-0.1h0m0.4-0.3h0m0.3 0.4h0m0.2-0.1h0m1.9-0.4h0m2.2-1.7h0m1.5-2.3h0m0.7 4.8h0m2.8-0.6h0m0.7 0.7h0m11.9-5.5h0m0.4 0.6h0m19.6 4.1h0m54.3-3.9h0m6.6 4.6h0m0.7-0.7h0m0.3-1.1h0m0.1-3.4h0m0.2 0.2h0m0.4 1.3h0m5.1 3h0m0.4-1h0m0.9-1h0m2.8 2h0m0.8-4.5h0m0.9 4h0m0.7-1.4h0m-131.4 8.6h0m0.8-2.4h0m0.7-0.8h0m9.8 0.2h0m0.7-1.4h0m0.4-0.9h0m1.7 0h0m0.4-0.3h0m1.3 0.1h0m16.9 2.4h0m46.8 0h0m36.6-2.3h0m0.1 3.7h0m0.1 0.3h0m0.5-1.2h0m0.5-0.8h0m0.5-1.1h0m0.5-0.2h0m0.1-0.5h0m0.5-0.3h0m6.3 0.3h0m-128.9 11.1h0m0.6-1.3h0m0 0.6h0m0.4-0.3h0m0.1-1.3h0m0.7-2.1h0m1.2-0.4h0m1.8 3.8h0m0.1-4.6h0m0.2 2.3h0m0.1-1.8h0m0.2 0h0m0.2 0.7h0m1.1 0h0m2.7 3.1h0m0.7 0.6h0m1-1.5h0m24.9 1.3h0m1.8 1.1h0m4.7-1.2h0m2.1 0.6h0m1.7-0.1h0m69.8-1.8h0m1.4-0.8h0m0.5-0.9h0m0.2 3.3h0m0.5-3.6h0m0.5 0.3h0m0.1-0.1h0m13.2 3.9h0m0.3-2.4h0m0.6-0.7h0m0.3 2.9h0m0.7-3.1h0m2.2 0.4h0m0.2-1.1h0m0.9 4.4h0m0.8-2.7h0m0.9 1h0m0.6 1.6h0m1-0.1h0m0.1-1.3h0m-141.1 2.3h0m6.2 0.8h0m1.1 0.1h0m0.1-1.1h0m0 0.2h0m1.3 4.6h0m28.3-4h0m0.1 2h0m0.1-2.8h0m0.1 0.7h0m0.1-0.7h0m0 1.1h0m0.3 0.8h0m0.1 1.8h0m0-0.3h0m0 0.9h0m0.5 0h0m0.2-2.7h0m0 3h0m0.1 0.5h0m2.9-1.6h0m0.3 1h0m2 0.3h0m0-0.3h0m2.7-3.8h0m0.1-1.2h0m3.2 1.5h0m0.3 3.8h0m0.6-3h0m20.2 0.2h0m5 1.6h0m31.5 1.2h0m1-0.5h0m0-0.8h0m0.2 1.3h0m3.3-0.6h0m1.5-3.7h0m0.5 0.6h0m0.3-0.2h0m2.3 0.4h0m0.6-0.6h0m6.9 4.2h0m0.1-0.4h0m0.2 0.5h0m0.3-3.1h0m0 2.6h0m0.2-1.2h0m9.4-1.5h0m0.7 0.6h0m2.2-2.6h0m0.9 0.1h0m-136.6 8.6h0m0.6 0.9h0m0.7-0.5h0m0.7 0.4h0m0.3 0.9h0m1-0.4h0m0.3 0.3h0m0.1 0.9h0m1.9-2.1h0m1.1-1.6h0m0.3 0.6h0m1.4-2.1h0m28.5 0.4h0m0.4 2.1h0m0.2-1.1h0m0.5 1.8h0m1.2 1.9h0m2.2-5.1h0m0.6 0.2h0m0.4 5.2h0m0.9-4.2h0m0.3 2.5h0m0.5-0.8h0m0-1.8h0m0.4 1.2h0m0.5-1h0m0.6 0.9h0m0.1 0.2h0m0-0.6h0m0.8-0.7h0m0.3 0.5h0m1.8 0.4h0m0.1-0.8h0m0.9 1.1h0m0.4-0.3h0m0.6-0.9h0m0.8 0.2h0m0.2-0.5h0m1 0.5h0m1.2 0.6h0m0.2-0.5h0m0.2 0.2h0m0.5 0h0m3.2 1.2h0m0.1-1.8h0m0.2 0.3h0m0.1 0.9h0m1.9-1.8h0m2.4 1.5h0m0.2 0.4h0m0.4-0.8h0m0.5 1.1h0m1.7-1.3h0m0.4 0.8h0m1.7 0.1h0m0 0.5h0m3.6 0.6h0m0.3-0.6h0m0.2 1.5h0m0-0.3h0m0.1-0.7h0m0-0.4h0m1.3 1.1h0m0.6 0.4h0m0.9-0.2h0m0.8 0.2h0m1.1 0.4h0m0.2 0h0m0.4 0.1h0m1-1h0m0.1 0.9h0m0.9-0.6h0m0.3-0.5h0m0.5 2h0m0.8-0.4h0m0.8-1.3h0m1.7-2.2h0m0.3 3.1h0m1.5-0.7h0m2.6-0.1h0m1.7-1.2h0m2.6 0.1h0m0.5 0.4h0m0-1.1h0m0.3 1.5h0m0.1-1h0m1.2 1.4h0m1.1-1.2h0m2.8 0.2h0m0.3-0.5h0m0.5 0h0m0.6-0.3h0m1.6 0.8h0m0.7 0.3h0m1.9-1.5h0m0.6-0.3h0m0-0.2h0m1.2-1h0m0.1 0.3h0m1.6-0.2h0m0.9 0h0m11.1 4.3h0m1.8-0.5h0m0.1 0.1h0m0.7-1.7h0m1-2.1h0m-82.5 5.5h0m1.2 0.4h0m0.3-0.3h0m10 3.8h0m63.2 1.5h0m0.6-1.3h0m0 0.7h0m0.9-1.2h0m0.2-0.2h0m2.1-1.9h0m0 0h0m0.3 0.1h0m0.2-1.4h0m-119.7 9.7h0m52.8 1.1h0m0.4 0.3h0m0.1-0.7h0m0.2 0h0m1.3-1.4h0m0.3 1.2h0m1.7 0.3h0m0.1-0.8h0m0.6-0.7h0m0.7 0.7h0m2.6-1.9h0m0.8-0.2h0m0.1 0h0m0-0.1h0m0.5-0.2h0m0.4-0.2h0m1 0h0m0.1-0.7h0m1 0.8h0m0.8-0.5h0m40.6 4.2h0m2.8-1.2h0m2.3-0.7h0m1.7-1.8h0m0.5 0.3h0m-113.2 4.2h0m0.3 4.6h0m0.2-1.2h0m0.2 0.3h0m0.1 0.9h0m0.1-0.2h0m90.4 0h0m1.4-0.1h0m1.2-0.9h0m0.5 0.2h0m0.5-0.7h0m0.6-0.1h0m0.5-0.2h0m0.4 0.4h0m0.6-0.7h0m2-0.7h0m0.6 0.8h0m3-1.2h0m0.1-0.3h0m1.8-0.6h0m0.1-0.3h0m0.2-0.2h0m0.4 1.2h0m0-0.5h0m0.9-0.8h0m0 0.2h0m-105.8 6h0" fill="none" stroke="#e3281b" stroke-width="1.6" stroke-linecap="round"/>
</g></g>
</defs>
<rect width="955" height="1102" fill="#fff"/>
<text transform="translate(37.4 39.6) scale(0.95 1)" font-size="32.5" font-weight="bold" stroke="#000" stroke-width="0.7">a</text>
<text transform="translate(694.5 38.4) scale(1.1 1)" font-size="32.5" font-weight="bold" stroke="#000" stroke-width="0.7">b</text>
<text transform="translate(33.9 207.3) scale(1.08 1)" font-size="32.5" font-weight="bold" stroke="#000" stroke-width="0.7">c</text>
<text transform="translate(692.3 219.2) scale(1.07 1)" font-size="32.5" font-weight="bold" stroke="#000" stroke-width="0.7">d</text>
<text transform="translate(34 418.9) scale(1.04 1)" font-size="32.5" font-weight="bold" stroke="#000" stroke-width="0.7">e</text>
<text transform="translate(692.5 422.6) scale(1.01 1)" font-size="32.5" font-weight="bold" stroke="#000" stroke-width="0.7">f</text>
<text transform="translate(42.3 684) scale(1.08 1)" font-size="32.5" font-weight="bold" stroke="#000" stroke-width="0.7">g</text>
<text transform="translate(265.1 690.3) scale(1.04 1)" font-size="32.5" font-weight="bold" stroke="#000" stroke-width="0.7">h</text>
<text transform="translate(480.4 690.3) scale(1.2 1)" font-size="32.5" font-weight="bold" stroke="#000" stroke-width="0.7">i</text>
<text transform="translate(706.2 687.7) scale(1.2 1)" font-size="32.5" font-weight="bold" stroke="#000" stroke-width="0.7">j</text>
<text transform="translate(45.5 906.1) scale(1.07 1)" font-size="32.5" font-weight="bold" stroke="#000" stroke-width="0.7">k</text>
<text transform="translate(265.7 908.6) scale(1.0 1)" font-size="32.5" font-weight="bold" stroke="#000" stroke-width="0.7">l</text>
<text transform="translate(471.9 906.1) scale(1.085 1)" font-size="32.5" font-weight="bold" stroke="#000" stroke-width="0.7">m</text>
<text transform="translate(709.7 907.8) scale(1.0 1)" font-size="32.5" font-weight="bold" stroke="#000" stroke-width="0.7">n</text>
<text x="90.2" y="41.7" font-size="20.4" font-weight="bold" textLength="75.2" lengthAdjust="spacingAndGlyphs" stroke="#000" stroke-width="0.45">Control</text>
<text x="276.6" y="39.7" font-size="20.4" font-weight="bold" textLength="32.2" lengthAdjust="spacingAndGlyphs" stroke="#000" stroke-width="0.45">DM</text>
<text x="407.2" y="41.7" font-size="20.4" font-weight="bold" textLength="78.5" lengthAdjust="spacingAndGlyphs" stroke="#000" stroke-width="0.45">DM+GM</text>
<text x="552.7" y="41.6" font-size="20.4" font-weight="bold" textLength="107.3" lengthAdjust="spacingAndGlyphs" stroke="#000" stroke-width="0.45">DM+GMAP</text>
<text x="77.1" y="202.7" font-size="20.4" font-weight="bold" textLength="75.2" lengthAdjust="spacingAndGlyphs" stroke="#000" stroke-width="0.45">Control</text>
<text x="271.6" y="200.7" font-size="20.4" font-weight="bold" textLength="32.8" lengthAdjust="spacingAndGlyphs" stroke="#000" stroke-width="0.45">DM</text>
<text x="407" y="201.4" font-size="20.4" font-weight="bold" textLength="78.7" lengthAdjust="spacingAndGlyphs" stroke="#000" stroke-width="0.45">DM+GM</text>
<text x="555.1" y="201.4" font-size="20.4" font-weight="bold" textLength="106.9" lengthAdjust="spacingAndGlyphs" stroke="#000" stroke-width="0.45">DM+GMAP</text>
<text x="103.3" y="416.7" font-size="20.4" font-weight="bold" textLength="75.3" lengthAdjust="spacingAndGlyphs" stroke="#000" stroke-width="0.45">Control</text>
<text x="279.8" y="415.5" font-size="20.4" font-weight="bold" textLength="32.1" lengthAdjust="spacingAndGlyphs" stroke="#000" stroke-width="0.45">DM</text>
<text x="409.2" y="417.5" font-size="20.4" font-weight="bold" textLength="78.4" lengthAdjust="spacingAndGlyphs" stroke="#000" stroke-width="0.45">DM+GM</text>
<text x="547" y="417.5" font-size="20.4" font-weight="bold" textLength="108.2" lengthAdjust="spacingAndGlyphs" stroke="#000" stroke-width="0.45">DM+GMAP</text>
<g transform="translate(52.2 159.6) rotate(-90) scale(0.815 1)"><text font-size="21.2" stroke-width="0.9" paint-order="stroke"><tspan fill="#1fa34a" stroke="#1fa34a">DCFH</tspan><tspan fill="#111" stroke="#111">/</tspan><tspan fill="#2a5ca6" stroke="#2a5ca6">DAPI</tspan></text></g>
<g transform="translate(52.6 638.2) rotate(-90) scale(0.922 1)"><text font-size="22.8" font-weight="bold"><tspan fill="#14a24a">Monomer</tspan><tspan fill="#111">/</tspan><tspan fill="#e2231f">Polymer</tspan></text></g>
<g clip-path="url(#ca0)">
<rect x="58.5" y="46.5" width="154.5" height="129.7" fill="#020308"/>
<g filter="url(#nuc)" opacity="0.8">
<ellipse cx="71.9" cy="53.2" rx="1.8" ry="1.5" fill="#2b38a6" transform="rotate(138.7 71.9 53.2)"/>
<ellipse cx="79.5" cy="54.9" rx="2.5" ry="1.6" fill="#2b38a6" transform="rotate(78 79.5 54.9)"/>
<ellipse cx="88.7" cy="57.1" rx="2.6" ry="1.5" fill="#2b38a6" transform="rotate(14.4 88.7 57.1)"/>
<ellipse cx="109.6" cy="54.4" rx="2.2" ry="1.3" fill="#2b38a6" transform="rotate(167.9 109.6 54.4)"/>
<ellipse cx="165.7" cy="50.7" rx="2.8" ry="1.4" fill="#2b38a6" transform="rotate(55.7 165.7 50.7)"/>
<ellipse cx="210.1" cy="51.5" rx="2.5" ry="1.3" fill="#2b38a6" transform="rotate(32.1 210.1 51.5)"/>
<ellipse cx="174.9" cy="58.7" rx="1.9" ry="1.4" fill="#2b38a6" transform="rotate(112.7 174.9 58.7)"/>
<ellipse cx="97.9" cy="70.8" rx="2.8" ry="1.3" fill="#2b38a6" transform="rotate(172.1 97.9 70.8)"/>
<ellipse cx="143.9" cy="68.3" rx="2.3" ry="1.7" fill="#2b38a6" transform="rotate(147.2 143.9 68.3)"/>
<ellipse cx="155.7" cy="70.8" rx="1.9" ry="1.6" fill="#2b38a6" transform="rotate(22.3 155.7 70.8)"/>
<ellipse cx="159.9" cy="75.8" rx="1.7" ry="1.4" fill="#2b38a6" transform="rotate(139.2 159.9 75.8)"/>
<ellipse cx="177.4" cy="69.1" rx="2.3" ry="1.3" fill="#2b38a6" transform="rotate(151.4 177.4 69.1)"/>
<ellipse cx="172.4" cy="74.2" rx="2.7" ry="1.4" fill="#2b38a6" transform="rotate(80.7 172.4 74.2)"/>
<ellipse cx="195" cy="79.2" rx="2.4" ry="1.7" fill="#2b38a6" transform="rotate(22.8 195 79.2)"/>
<ellipse cx="204.2" cy="78.3" rx="2.3" ry="1.7" fill="#2b38a6" transform="rotate(109.6 204.2 78.3)"/>
<ellipse cx="210.1" cy="84.2" rx="2.5" ry="1.6" fill="#2b38a6" transform="rotate(91.3 210.1 84.2)"/>
<ellipse cx="60.2" cy="81.7" rx="2" ry="1.5" fill="#2b38a6" transform="rotate(95.1 60.2 81.7)"/>
<ellipse cx="126.4" cy="81.2" rx="2.1" ry="1.7" fill="#2b38a6" transform="rotate(65.3 126.4 81.2)"/>
<ellipse cx="108.8" cy="89.2" rx="2.2" ry="1.6" fill="#2b38a6" transform="rotate(146.5 108.8 89.2)"/>
<ellipse cx="113.8" cy="85.9" rx="2.7" ry="1.6" fill="#2b38a6" transform="rotate(45.5 113.8 85.9)"/>
<ellipse cx="159.9" cy="85.9" rx="2.6" ry="1.7" fill="#2b38a6" transform="rotate(128.7 159.9 85.9)"/>
<ellipse cx="75.3" cy="92.6" rx="2.5" ry="1.5" fill="#2b38a6" transform="rotate(88.8 75.3 92.6)"/>
<ellipse cx="205.1" cy="96.8" rx="2.3" ry="1.3" fill="#2b38a6" transform="rotate(121.7 205.1 96.8)"/>
<ellipse cx="170.7" cy="94.3" rx="2.7" ry="1.3" fill="#2b38a6" transform="rotate(135.7 170.7 94.3)"/>
<ellipse cx="161.5" cy="100.1" rx="2.5" ry="1.3" fill="#2b38a6" transform="rotate(9.1 161.5 100.1)"/>
<ellipse cx="149" cy="102.6" rx="2.4" ry="1.3" fill="#2b38a6" transform="rotate(55.8 149 102.6)"/>
<ellipse cx="85.3" cy="103" rx="2.4" ry="1.6" fill="#2b38a6" transform="rotate(134.8 85.3 103)"/>
<ellipse cx="85.3" cy="112.7" rx="2.3" ry="1.4" fill="#2b38a6" transform="rotate(2.3 85.3 112.7)"/>
<ellipse cx="76.9" cy="113.5" rx="1.8" ry="1.3" fill="#2b38a6" transform="rotate(94.6 76.9 113.5)"/>
<ellipse cx="60.2" cy="112.7" rx="2.5" ry="1.3" fill="#2b38a6" transform="rotate(70.2 60.2 112.7)"/>
<ellipse cx="104.6" cy="113.5" rx="2.7" ry="1.4" fill="#2b38a6" transform="rotate(128.4 104.6 113.5)"/>
<ellipse cx="122.2" cy="114.4" rx="2.4" ry="1.6" fill="#2b38a6" transform="rotate(85.8 122.2 114.4)"/>
<ellipse cx="127.2" cy="109.3" rx="2.3" ry="1.6" fill="#2b38a6" transform="rotate(29 127.2 109.3)"/>
<ellipse cx="139.8" cy="111.5" rx="2.6" ry="1.7" fill="#2b38a6" transform="rotate(8.5 139.8 111.5)"/>
<ellipse cx="200.9" cy="111" rx="1.9" ry="1.4" fill="#2b38a6" transform="rotate(17 200.9 111)"/>
<ellipse cx="190" cy="115.2" rx="1.8" ry="1.6" fill="#2b38a6" transform="rotate(22.1 190 115.2)"/>
<ellipse cx="182.5" cy="116" rx="1.7" ry="1.7" fill="#2b38a6" transform="rotate(72.4 182.5 116)"/>
<ellipse cx="200.1" cy="122.7" rx="2.3" ry="1.5" fill="#2b38a6" transform="rotate(61.9 200.1 122.7)"/>
<ellipse cx="107.9" cy="127.4" rx="2.2" ry="1.3" fill="#2b38a6" transform="rotate(104.4 107.9 127.4)"/>
<ellipse cx="126.4" cy="126.1" rx="2" ry="1.3" fill="#2b38a6" transform="rotate(37.6 126.4 126.1)"/>
<ellipse cx="154.8" cy="129.4" rx="2.1" ry="1.7" fill="#2b38a6" transform="rotate(107.6 154.8 129.4)"/>
<ellipse cx="160.7" cy="129.4" rx="2.8" ry="1.4" fill="#2b38a6" transform="rotate(46.9 160.7 129.4)"/>
<ellipse cx="188.3" cy="131.1" rx="2.5" ry="1.3" fill="#2b38a6" transform="rotate(179.7 188.3 131.1)"/>
<ellipse cx="195" cy="128.6" rx="2.1" ry="1.4" fill="#2b38a6" transform="rotate(48.8 195 128.6)"/>
<ellipse cx="209.3" cy="130.3" rx="2" ry="1.7" fill="#2b38a6" transform="rotate(178.6 209.3 130.3)"/>
<ellipse cx="128" cy="137.5" rx="2.3" ry="1.4" fill="#2b38a6" transform="rotate(1.8 128 137.5)"/>
<ellipse cx="169.9" cy="138.6" rx="1.8" ry="1.4" fill="#2b38a6" transform="rotate(115.7 169.9 138.6)"/>
<ellipse cx="201.7" cy="141.2" rx="2.4" ry="1.7" fill="#2b38a6" transform="rotate(147.8 201.7 141.2)"/>
<ellipse cx="171.6" cy="144.5" rx="2.1" ry="1.6" fill="#2b38a6" transform="rotate(80 171.6 144.5)"/>
<ellipse cx="180" cy="146.2" rx="2.5" ry="1.3" fill="#2b38a6" transform="rotate(175.8 180 146.2)"/>
<ellipse cx="189.2" cy="150.4" rx="1.7" ry="1.6" fill="#2b38a6" transform="rotate(63.4 189.2 150.4)"/>
<ellipse cx="65.2" cy="141.2" rx="2.6" ry="1.3" fill="#2b38a6" transform="rotate(160.4 65.2 141.2)"/>
<ellipse cx="79.5" cy="152" rx="1.7" ry="1.6" fill="#2b38a6" transform="rotate(126.6 79.5 152)"/>
<ellipse cx="99.6" cy="151.2" rx="2.3" ry="1.3" fill="#2b38a6" transform="rotate(68.8 99.6 151.2)"/>
<ellipse cx="106.3" cy="146.5" rx="2.2" ry="1.3" fill="#2b38a6" transform="rotate(29 106.3 146.5)"/>
<ellipse cx="138.9" cy="149.2" rx="2.6" ry="1.5" fill="#2b38a6" transform="rotate(48.7 138.9 149.2)"/>
<ellipse cx="149.8" cy="147.9" rx="2.4" ry="1.6" fill="#2b38a6" transform="rotate(24.5 149.8 147.9)"/>
<ellipse cx="126.4" cy="159.6" rx="2.3" ry="1.5" fill="#2b38a6" transform="rotate(20 126.4 159.6)"/>
<ellipse cx="82" cy="161.3" rx="2" ry="1.7" fill="#2b38a6" transform="rotate(104.2 82 161.3)"/>
<ellipse cx="100.4" cy="166.3" rx="1.9" ry="1.4" fill="#2b38a6" transform="rotate(82.5 100.4 166.3)"/>
<ellipse cx="147.3" cy="167.1" rx="2.5" ry="1.7" fill="#2b38a6" transform="rotate(15.7 147.3 167.1)"/>
<ellipse cx="200.9" cy="159.6" rx="1.7" ry="1.5" fill="#2b38a6" transform="rotate(3.6 200.9 159.6)"/>
<ellipse cx="86.2" cy="173" rx="1.8" ry="1.3" fill="#2b38a6" transform="rotate(15.9 86.2 173)"/>
<ellipse cx="113.8" cy="168" rx="2.4" ry="1.3" fill="#2b38a6" transform="rotate(102 113.8 168)"/>
<ellipse cx="158.2" cy="173" rx="2.8" ry="1.3" fill="#2b38a6" transform="rotate(136.6 158.2 173)"/>
</g>
</g>
<g clip-path="url(#ca1)">
<rect x="217" y="46.5" width="154.5" height="129.7" fill="#020503"/>
<g filter="url(#b5)">
<ellipse cx="328.9" cy="114.4" rx="43.6" ry="50.3" fill="#0e7a2c" opacity="0.07"/>
</g>
<g filter="url(#cell1)" fill="#0f7429" opacity="0.85">
<ellipse cx="231.8" cy="70.8" rx="2.8" ry="1.8" transform="rotate(70 231.8 70.8)"/>
<ellipse cx="232.1" cy="70.4" rx="6" ry="0.6" opacity="0.8" transform="rotate(19.5 232.1 70.4)"/>
<ellipse cx="231.8" cy="71.3" rx="4.8" ry="0.6" opacity="0.8" transform="rotate(56.9 231.8 71.3)"/>
<ellipse cx="285.4" cy="65.8" rx="10.7" ry="1.1" transform="rotate(-60 285.4 65.8)"/>
<ellipse cx="285.3" cy="65.4" rx="12.8" ry="0.6" opacity="0.8" transform="rotate(-71.7 285.3 65.4)"/>
<ellipse cx="285.8" cy="65.9" rx="15.9" ry="0.6" opacity="0.8" transform="rotate(-73 285.8 65.9)"/>
<ellipse cx="330.6" cy="58.2" rx="6.4" ry="3" transform="rotate(90 330.6 58.2)"/>
<ellipse cx="329.5" cy="57.2" rx="16" ry="1.1" opacity="0.8" transform="rotate(142.1 329.5 57.2)"/>
<ellipse cx="329.9" cy="58.4" rx="9.1" ry="1.1" opacity="0.8" transform="rotate(170.5 329.9 58.4)"/>
<ellipse cx="345.7" cy="60.8" rx="2.1" ry="1.8" transform="rotate(0 345.7 60.8)"/>
<ellipse cx="345.1" cy="60.5" rx="5.5" ry="0.8" opacity="0.8" transform="rotate(94.3 345.1 60.5)"/>
<ellipse cx="346.1" cy="60.5" rx="2.9" ry="0.6" opacity="0.8" transform="rotate(158.5 346.1 60.5)"/>
<ellipse cx="364.1" cy="57.4" rx="2.8" ry="1.8" transform="rotate(0 364.1 57.4)"/>
<ellipse cx="364.3" cy="56.9" rx="5.8" ry="0.8" opacity="0.8" transform="rotate(12.7 364.3 56.9)"/>
<ellipse cx="364.1" cy="56.7" rx="4.4" ry="0.8" opacity="0.8" transform="rotate(80.9 364.1 56.7)"/>
<ellipse cx="352.4" cy="106.8" rx="3.6" ry="2.4" transform="rotate(0 352.4 106.8)"/>
<ellipse cx="352.2" cy="106.2" rx="7.8" ry="1.1" opacity="0.8" transform="rotate(88.2 352.2 106.2)"/>
<ellipse cx="352.6" cy="105.9" rx="4.7" ry="0.7" opacity="0.8" transform="rotate(153.5 352.6 105.9)"/>
<ellipse cx="232.6" cy="111" rx="3.6" ry="2.4" transform="rotate(90 232.6 111)"/>
<ellipse cx="233.5" cy="111.8" rx="7.6" ry="1.1" opacity="0.8" transform="rotate(23.2 233.5 111.8)"/>
<ellipse cx="232.5" cy="110.1" rx="5.2" ry="0.9" opacity="0.8" transform="rotate(77.8 232.5 110.1)"/>
<ellipse cx="229.2" cy="121.1" rx="2.8" ry="2.1" transform="rotate(90 229.2 121.1)"/>
<ellipse cx="229.7" cy="120.8" rx="5.8" ry="0.8" opacity="0.8" transform="rotate(156.9 229.7 120.8)"/>
<ellipse cx="228.8" cy="120.7" rx="4.2" ry="0.8" opacity="0.8" transform="rotate(221.1 228.8 120.7)"/>
<ellipse cx="240.1" cy="144.5" rx="3.6" ry="2.4" transform="rotate(0 240.1 144.5)"/>
<ellipse cx="239.6" cy="144.7" rx="9.8" ry="1.1" opacity="0.8" transform="rotate(0.4 239.6 144.7)"/>
<ellipse cx="239.4" cy="143.7" rx="5.7" ry="0.8" opacity="0.8" transform="rotate(45.6 239.4 143.7)"/>
<ellipse cx="224.2" cy="157.9" rx="6.4" ry="1.2" transform="rotate(90 224.2 157.9)"/>
<ellipse cx="224.1" cy="157.9" rx="7.7" ry="0.6" opacity="0.8" transform="rotate(99.5 224.1 157.9)"/>
<ellipse cx="224.5" cy="157.8" rx="8" ry="0.6" opacity="0.8" transform="rotate(81.6 224.5 157.8)"/>
<ellipse cx="359.1" cy="168.8" rx="6.1" ry="2.7" transform="rotate(0 359.1 168.8)"/>
<ellipse cx="358.8" cy="169" rx="8.6" ry="0.9" opacity="0.8" transform="rotate(10.9 358.8 169)"/>
<ellipse cx="359.7" cy="169.3" rx="8.7" ry="0.8" opacity="0.8" transform="rotate(11.7 359.7 169.3)"/>
<ellipse cx="261.9" cy="104.3" rx="6.4" ry="1.8" transform="rotate(70 261.9 104.3)"/>
<ellipse cx="261.3" cy="104.6" rx="9.6" ry="0.8" opacity="0.8" transform="rotate(62 261.3 104.6)"/>
<ellipse cx="262.6" cy="104.8" rx="9.5" ry="0.7" opacity="0.8" transform="rotate(65 262.6 104.8)"/>
<ellipse cx="342.3" cy="90.9" rx="8.5" ry="1.8" transform="rotate(-30 342.3 90.9)"/>
<ellipse cx="341.6" cy="90.6" rx="11" ry="0.6" opacity="0.8" transform="rotate(-42.7 341.6 90.6)"/>
<ellipse cx="341.9" cy="91.6" rx="13" ry="0.8" opacity="0.8" transform="rotate(-38.2 341.9 91.6)"/>
<ellipse cx="359.1" cy="94.3" rx="7.1" ry="2.4" transform="rotate(20 359.1 94.3)"/>
<ellipse cx="358.9" cy="94.2" rx="10.2" ry="0.7" opacity="0.8" transform="rotate(27.9 358.9 94.2)"/>
<ellipse cx="358.9" cy="94.1" rx="9.2" ry="1" opacity="0.8" transform="rotate(10.3 358.9 94.1)"/>
<ellipse cx="337.3" cy="114.4" rx="8.5" ry="2.4" transform="rotate(30 337.3 114.4)"/>
<ellipse cx="337.5" cy="114.3" rx="10.6" ry="0.9" opacity="0.8" transform="rotate(43.9 337.5 114.3)"/>
<ellipse cx="337.7" cy="113.6" rx="12.2" ry="1.1" opacity="0.8" transform="rotate(27.9 337.7 113.6)"/>
<ellipse cx="349" cy="124.4" rx="7.1" ry="2.4" transform="rotate(-20 349 124.4)"/>
<ellipse cx="348.5" cy="123.5" rx="8.7" ry="1.1" opacity="0.8" transform="rotate(-11.6 348.5 123.5)"/>
<ellipse cx="349.5" cy="124.7" rx="8.9" ry="0.9" opacity="0.8" transform="rotate(-22.9 349.5 124.7)"/>
<ellipse cx="323.9" cy="144.5" rx="6.4" ry="2.4" transform="rotate(30 323.9 144.5)"/>
<ellipse cx="323.5" cy="143.7" rx="8.1" ry="1" opacity="0.8" transform="rotate(35 323.5 143.7)"/>
<ellipse cx="324.4" cy="144.9" rx="7.9" ry="1.1" opacity="0.8" transform="rotate(43.7 324.4 144.9)"/>
<ellipse cx="332.3" cy="85.9" rx="7.1" ry="1.8" transform="rotate(20 332.3 85.9)"/>
<ellipse cx="331.9" cy="86.2" rx="10.7" ry="0.6" opacity="0.8" transform="rotate(18.6 331.9 86.2)"/>
<ellipse cx="332.4" cy="85.9" rx="9.2" ry="0.6" opacity="0.8" transform="rotate(30.1 332.4 85.9)"/>
<ellipse cx="293.7" cy="74.2" rx="4.3" ry="1" transform="rotate(-45 293.7 74.2)"/>
<ellipse cx="293.6" cy="74" rx="5.4" ry="0.6" opacity="0.8" transform="rotate(-40.8 293.6 74)"/>
<ellipse cx="293.8" cy="74.1" rx="5.6" ry="0.6" opacity="0.8" transform="rotate(-32 293.8 74.1)"/>
<ellipse cx="243.5" cy="85.9" rx="4.3" ry="1.2" transform="rotate(50 243.5 85.9)"/>
<ellipse cx="243" cy="85.5" rx="5.3" ry="0.6" opacity="0.8" transform="rotate(38.5 243 85.5)"/>
<ellipse cx="243.1" cy="85.9" rx="5.1" ry="0.6" opacity="0.8" transform="rotate(55 243.1 85.9)"/>
<ellipse cx="268.6" cy="57.4" rx="2.8" ry="0.8" transform="rotate(-50 268.6 57.4)"/>
<ellipse cx="268.6" cy="57.3" rx="3.6" ry="0.6" opacity="0.8" transform="rotate(-49.6 268.6 57.3)"/>
<ellipse cx="268.6" cy="57.7" rx="3.5" ry="0.6" opacity="0.8" transform="rotate(-55.7 268.6 57.7)"/>
<ellipse cx="362.4" cy="152.9" rx="4.3" ry="1.5" transform="rotate(40 362.4 152.9)"/>
<ellipse cx="362.1" cy="152.7" rx="6.2" ry="0.6" opacity="0.8" transform="rotate(30.9 362.1 152.7)"/>
<ellipse cx="361.8" cy="153.4" rx="5.1" ry="0.6" opacity="0.8" transform="rotate(48.5 361.8 153.4)"/>
<ellipse cx="278.7" cy="114.4" rx="4.3" ry="1.2" transform="rotate(70 278.7 114.4)"/>
<ellipse cx="279.1" cy="114" rx="6.3" ry="0.6" opacity="0.8" transform="rotate(74.7 279.1 114)"/>
<ellipse cx="279" cy="114.3" rx="6.4" ry="0.6" opacity="0.8" transform="rotate(69.7 279 114.3)"/>
<ellipse cx="322.2" cy="164.6" rx="3.6" ry="2.1" transform="rotate(0 322.2 164.6)"/>
<ellipse cx="322.5" cy="165.4" rx="8.7" ry="0.7" opacity="0.8" transform="rotate(172.1 322.5 165.4)"/>
<ellipse cx="322.3" cy="165" rx="5.2" ry="0.8" opacity="0.8" transform="rotate(221.1 322.3 165)"/>
<ellipse cx="250.4" cy="60.5" rx="4.4" ry="1.3" transform="rotate(9.5 250.4 60.5)"/>
<ellipse cx="250.1" cy="60.4" rx="6.4" ry="0.6" opacity="0.8" transform="rotate(-3 250.1 60.4)"/>
<ellipse cx="250.5" cy="60.4" rx="5.8" ry="0.6" opacity="0.8" transform="rotate(10 250.5 60.4)"/>
<ellipse cx="260.6" cy="77.1" rx="4.3" ry="1.1" transform="rotate(24.7 260.6 77.1)"/>
<ellipse cx="260.5" cy="77.5" rx="5.3" ry="0.6" opacity="0.8" transform="rotate(37.6 260.5 77.5)"/>
<ellipse cx="261" cy="77" rx="5.2" ry="0.6" opacity="0.8" transform="rotate(25.6 261 77)"/>
<ellipse cx="256.4" cy="63.8" rx="3.7" ry="1.2" transform="rotate(45.8 256.4 63.8)"/>
<ellipse cx="256.1" cy="64.2" rx="5.2" ry="0.6" opacity="0.8" transform="rotate(33.7 256.1 64.2)"/>
<ellipse cx="256.6" cy="63.9" rx="4.8" ry="0.6" opacity="0.8" transform="rotate(43.9 256.6 63.9)"/>
<ellipse cx="264.3" cy="78.3" rx="6.9" ry="0.7" transform="rotate(69.4 264.3 78.3)"/>
<ellipse cx="264.4" cy="78" rx="9.2" ry="0.6" opacity="0.8" transform="rotate(65.5 264.4 78)"/>
<ellipse cx="264.5" cy="78.3" rx="10.5" ry="0.6" opacity="0.8" transform="rotate(66.4 264.5 78.3)"/>
<ellipse cx="253" cy="74" rx="6.6" ry="1" transform="rotate(62 253 74)"/>
<ellipse cx="252.7" cy="74.2" rx="8.1" ry="0.6" opacity="0.8" transform="rotate(51.7 252.7 74.2)"/>
<ellipse cx="252.8" cy="74.2" rx="9.6" ry="0.6" opacity="0.8" transform="rotate(75.3 252.8 74.2)"/>
<ellipse cx="254.3" cy="65.3" rx="5.8" ry="1.1" transform="rotate(39.1 254.3 65.3)"/>
<ellipse cx="253.9" cy="65.2" rx="7.7" ry="0.6" opacity="0.8" transform="rotate(45.2 253.9 65.2)"/>
<ellipse cx="254.1" cy="65" rx="8.3" ry="0.6" opacity="0.8" transform="rotate(42.2 254.1 65)"/>
<ellipse cx="242.8" cy="49.5" rx="5.2" ry="0.7" transform="rotate(-73.7 242.8 49.5)"/>
<ellipse cx="242.7" cy="49.4" rx="7.6" ry="0.6" opacity="0.8" transform="rotate(-73.5 242.7 49.4)"/>
<ellipse cx="242.6" cy="49.6" rx="6.1" ry="0.6" opacity="0.8" transform="rotate(-73.1 242.6 49.6)"/>
<ellipse cx="251.1" cy="47.1" rx="4.1" ry="1.1" transform="rotate(62.3 251.1 47.1)"/>
<ellipse cx="251.5" cy="47" rx="6.2" ry="0.6" opacity="0.8" transform="rotate(50.7 251.5 47)"/>
<ellipse cx="251.3" cy="46.9" rx="5.7" ry="0.6" opacity="0.8" transform="rotate(74.8 251.3 46.9)"/>
<ellipse cx="269.9" cy="79.7" rx="8" ry="0.8" transform="rotate(-6 269.9 79.7)"/>
<ellipse cx="269.6" cy="79.4" rx="10.4" ry="0.6" opacity="0.8" transform="rotate(2.2 269.6 79.4)"/>
<ellipse cx="270" cy="79.9" rx="11.9" ry="0.6" opacity="0.8" transform="rotate(-11.4 270 79.9)"/>
<ellipse cx="270.5" cy="54.4" rx="4.6" ry="0.7" transform="rotate(-51.1 270.5 54.4)"/>
<ellipse cx="270.8" cy="54.1" rx="7" ry="0.6" opacity="0.8" transform="rotate(-57.7 270.8 54.1)"/>
<ellipse cx="270.3" cy="54.5" rx="6.1" ry="0.6" opacity="0.8" transform="rotate(-37.9 270.3 54.5)"/>
<ellipse cx="289.1" cy="87.7" rx="6.4" ry="0.7" transform="rotate(-43.5 289.1 87.7)"/>
<ellipse cx="289.3" cy="87.4" rx="8.4" ry="0.6" opacity="0.8" transform="rotate(-52.6 289.3 87.4)"/>
<ellipse cx="289.3" cy="87.7" rx="9.7" ry="0.6" opacity="0.8" transform="rotate(-57.1 289.3 87.7)"/>
<ellipse cx="294.8" cy="82.1" rx="6.5" ry="1.1" transform="rotate(2.9 294.8 82.1)"/>
<ellipse cx="295.2" cy="82" rx="8.7" ry="0.6" opacity="0.8" transform="rotate(3.1 295.2 82)"/>
<ellipse cx="295" cy="81.7" rx="8.3" ry="0.6" opacity="0.8" transform="rotate(-1.3 295 81.7)"/>
<ellipse cx="295.1" cy="68.9" rx="3.7" ry="1" transform="rotate(9.9 295.1 68.9)"/>
<ellipse cx="295" cy="69" rx="4.7" ry="0.6" opacity="0.8" transform="rotate(13.9 295 69)"/>
<ellipse cx="294.9" cy="68.8" rx="4.6" ry="0.6" opacity="0.8" transform="rotate(3.8 294.9 68.8)"/>
<ellipse cx="294" cy="93" rx="7.2" ry="1.2" transform="rotate(1.6 294 93)"/>
<ellipse cx="293.6" cy="92.8" rx="9.6" ry="0.6" opacity="0.8" transform="rotate(-2.5 293.6 92.8)"/>
<ellipse cx="294.1" cy="93.2" rx="9.7" ry="0.6" opacity="0.8" transform="rotate(-9.1 294.1 93.2)"/>
<ellipse cx="275.9" cy="82.2" rx="8.2" ry="1.3" transform="rotate(-55.7 275.9 82.2)"/>
<ellipse cx="276.1" cy="82.3" rx="10.2" ry="0.6" opacity="0.8" transform="rotate(-45.8 276.1 82.3)"/>
<ellipse cx="276" cy="82.6" rx="12.2" ry="0.6" opacity="0.8" transform="rotate(-58.3 276 82.6)"/>
<ellipse cx="285" cy="79.9" rx="7.9" ry="0.8" transform="rotate(5.2 285 79.9)"/>
<ellipse cx="284.8" cy="79.6" rx="10.9" ry="0.6" opacity="0.8" transform="rotate(5.7 284.8 79.6)"/>
<ellipse cx="285.1" cy="80.2" rx="10.3" ry="0.6" opacity="0.8" transform="rotate(-8 285.1 80.2)"/>
<ellipse cx="273.9" cy="90.2" rx="8.2" ry="1.2" transform="rotate(52.1 273.9 90.2)"/>
<ellipse cx="274.3" cy="90.7" rx="10.9" ry="0.6" opacity="0.8" transform="rotate(58.2 274.3 90.7)"/>
<ellipse cx="273.9" cy="90.5" rx="10.8" ry="0.6" opacity="0.8" transform="rotate(49.5 273.9 90.5)"/>
<ellipse cx="286.5" cy="97.7" rx="4.7" ry="1.2" transform="rotate(-7.6 286.5 97.7)"/>
<ellipse cx="287" cy="97.8" rx="6.6" ry="0.6" opacity="0.8" transform="rotate(-11.5 287 97.8)"/>
<ellipse cx="286.7" cy="98.2" rx="7" ry="0.6" opacity="0.8" transform="rotate(-11 286.7 98.2)"/>
<ellipse cx="292.5" cy="104.4" rx="7.7" ry="0.8" transform="rotate(42.6 292.5 104.4)"/>
<ellipse cx="292.8" cy="104.5" rx="10.7" ry="0.6" opacity="0.8" transform="rotate(44.2 292.8 104.5)"/>
<ellipse cx="292.5" cy="104.6" rx="10.2" ry="0.6" opacity="0.8" transform="rotate(52.8 292.5 104.6)"/>
<ellipse cx="285.5" cy="111" rx="6.2" ry="1" transform="rotate(9.5 285.5 111)"/>
<ellipse cx="285.4" cy="110.6" rx="8.2" ry="0.6" opacity="0.8" transform="rotate(9.4 285.4 110.6)"/>
<ellipse cx="285.2" cy="110.8" rx="8.6" ry="0.6" opacity="0.8" transform="rotate(7 285.2 110.8)"/>
<ellipse cx="324.4" cy="83.5" rx="4.5" ry="1" transform="rotate(15.1 324.4 83.5)"/>
<ellipse cx="324.6" cy="83.9" rx="6.6" ry="0.6" opacity="0.8" transform="rotate(2.5 324.6 83.9)"/>
<ellipse cx="324.2" cy="83.6" rx="5.5" ry="0.6" opacity="0.8" transform="rotate(19.1 324.2 83.6)"/>
<ellipse cx="317.5" cy="62.2" rx="4.1" ry="0.9" transform="rotate(53.6 317.5 62.2)"/>
<ellipse cx="317.4" cy="62.2" rx="5.4" ry="0.6" opacity="0.8" transform="rotate(47 317.4 62.2)"/>
<ellipse cx="317.6" cy="61.9" rx="5.6" ry="0.6" opacity="0.8" transform="rotate(60.6 317.6 61.9)"/>
<ellipse cx="326.4" cy="84.4" rx="4.4" ry="0.7" transform="rotate(-9.2 326.4 84.4)"/>
<ellipse cx="326.2" cy="84.4" rx="5.5" ry="0.6" opacity="0.8" transform="rotate(-15.5 326.2 84.4)"/>
<ellipse cx="326.6" cy="84.2" rx="6.5" ry="0.6" opacity="0.8" transform="rotate(-12.1 326.6 84.2)"/>
<ellipse cx="308.1" cy="47.8" rx="4.5" ry="1.3" transform="rotate(18.9 308.1 47.8)"/>
<ellipse cx="308.2" cy="47.5" rx="6.4" ry="0.6" opacity="0.8" transform="rotate(19.8 308.2 47.5)"/>
<ellipse cx="308" cy="48.3" rx="6.2" ry="0.6" opacity="0.8" transform="rotate(23.7 308 48.3)"/>
<ellipse cx="291.6" cy="52.4" rx="4.9" ry="1.1" transform="rotate(-12.7 291.6 52.4)"/>
<ellipse cx="292" cy="52.4" rx="7.2" ry="0.6" opacity="0.8" transform="rotate(-12.1 292 52.4)"/>
<ellipse cx="291.7" cy="52.2" rx="7.5" ry="0.6" opacity="0.8" transform="rotate(-25.7 291.7 52.2)"/>
<ellipse cx="340.2" cy="74.8" rx="4.5" ry="1.1" transform="rotate(-39.9 340.2 74.8)"/>
<ellipse cx="340.5" cy="74.5" rx="6.7" ry="0.6" opacity="0.8" transform="rotate(-47.8 340.5 74.5)"/>
<ellipse cx="339.9" cy="74.5" rx="6.6" ry="0.6" opacity="0.8" transform="rotate(-51.3 339.9 74.5)"/>
<ellipse cx="359.7" cy="80.9" rx="7.8" ry="1.3" transform="rotate(-15.2 359.7 80.9)"/>
<ellipse cx="360.2" cy="81.4" rx="10" ry="0.6" opacity="0.8" transform="rotate(-20.2 360.2 81.4)"/>
<ellipse cx="359.8" cy="81" rx="10.9" ry="0.6" opacity="0.8" transform="rotate(-20.3 359.8 81)"/>
<ellipse cx="366.3" cy="77.7" rx="6.8" ry="0.8" transform="rotate(-4.3 366.3 77.7)"/>
<ellipse cx="366.5" cy="77.8" rx="9.9" ry="0.6" opacity="0.8" transform="rotate(-9.8 366.5 77.8)"/>
<ellipse cx="366.1" cy="77.7" rx="9.1" ry="0.6" opacity="0.8" transform="rotate(-3.4 366.1 77.7)"/>
<ellipse cx="299.9" cy="91.3" rx="5.8" ry="0.9" transform="rotate(-74.6 299.9 91.3)"/>
<ellipse cx="300.1" cy="91.6" rx="7" ry="0.6" opacity="0.8" transform="rotate(-61.2 300.1 91.6)"/>
<ellipse cx="299.7" cy="91.6" rx="8.6" ry="0.6" opacity="0.8" transform="rotate(-61.9 299.7 91.6)"/>
<ellipse cx="306.9" cy="104.9" rx="8.3" ry="1.3" transform="rotate(1 306.9 104.9)"/>
<ellipse cx="306.6" cy="105.1" rx="11.3" ry="0.6" opacity="0.8" transform="rotate(12.9 306.6 105.1)"/>
<ellipse cx="306.5" cy="104.9" rx="12.7" ry="0.6" opacity="0.8" transform="rotate(6.4 306.5 104.9)"/>
<ellipse cx="304" cy="94.4" rx="4" ry="1" transform="rotate(14.1 304 94.4)"/>
<ellipse cx="303.6" cy="94.8" rx="5.1" ry="0.6" opacity="0.8" transform="rotate(26 303.6 94.8)"/>
<ellipse cx="303.7" cy="94.2" rx="5.2" ry="0.6" opacity="0.8" transform="rotate(12.6 303.7 94.2)"/>
<ellipse cx="324.6" cy="95.4" rx="5.4" ry="1.3" transform="rotate(-32.2 324.6 95.4)"/>
<ellipse cx="324.8" cy="95.1" rx="6.9" ry="0.6" opacity="0.8" transform="rotate(-36.7 324.8 95.1)"/>
<ellipse cx="324.4" cy="95" rx="7" ry="0.6" opacity="0.8" transform="rotate(-36.4 324.4 95)"/>
<ellipse cx="309.8" cy="101.2" rx="5.3" ry="1" transform="rotate(-18.2 309.8 101.2)"/>
<ellipse cx="310" cy="101.4" rx="8.1" ry="0.6" opacity="0.8" transform="rotate(-23.9 310 101.4)"/>
<ellipse cx="309.8" cy="101.1" rx="7.5" ry="0.6" opacity="0.8" transform="rotate(-30.8 309.8 101.1)"/>
<ellipse cx="324.2" cy="99.6" rx="5.8" ry="0.8" transform="rotate(57.6 324.2 99.6)"/>
<ellipse cx="324.4" cy="99.3" rx="6.8" ry="0.6" opacity="0.8" transform="rotate(63.5 324.4 99.3)"/>
<ellipse cx="324.1" cy="99.9" rx="7.8" ry="0.6" opacity="0.8" transform="rotate(55.4 324.1 99.9)"/>
<ellipse cx="317.6" cy="117.4" rx="8.2" ry="1" transform="rotate(1.4 317.6 117.4)"/>
<ellipse cx="317.9" cy="117.8" rx="10.9" ry="0.6" opacity="0.8" transform="rotate(13.2 317.9 117.8)"/>
<ellipse cx="317.6" cy="117.5" rx="10.7" ry="0.6" opacity="0.8" transform="rotate(-1.8 317.6 117.5)"/>
<ellipse cx="339.2" cy="131" rx="5.9" ry="1" transform="rotate(-12.6 339.2 131)"/>
<ellipse cx="339" cy="131.4" rx="7.4" ry="0.6" opacity="0.8" transform="rotate(-1.7 339 131.4)"/>
<ellipse cx="339.3" cy="130.9" rx="7.8" ry="0.6" opacity="0.8" transform="rotate(-16.2 339.3 130.9)"/>
<ellipse cx="319.1" cy="132" rx="5.8" ry="1.2" transform="rotate(-2.9 319.1 132)"/>
<ellipse cx="318.9" cy="132" rx="7.1" ry="0.6" opacity="0.8" transform="rotate(4 318.9 132)"/>
<ellipse cx="319.2" cy="132.1" rx="7.3" ry="0.6" opacity="0.8" transform="rotate(-1 319.2 132.1)"/>
<ellipse cx="334" cy="132.4" rx="3.8" ry="1.1" transform="rotate(8.1 334 132.4)"/>
<ellipse cx="334.5" cy="132.7" rx="5.5" ry="0.6" opacity="0.8" transform="rotate(5.2 334.5 132.7)"/>
<ellipse cx="334.4" cy="132" rx="5.5" ry="0.6" opacity="0.8" transform="rotate(18.4 334.4 132)"/>
<ellipse cx="315.5" cy="117.8" rx="3.7" ry="0.9" transform="rotate(49.7 315.5 117.8)"/>
<ellipse cx="315.3" cy="117.7" rx="5" ry="0.6" opacity="0.8" transform="rotate(39 315.3 117.7)"/>
<ellipse cx="315.5" cy="117.7" rx="4.4" ry="0.6" opacity="0.8" transform="rotate(56.6 315.5 117.7)"/>
<ellipse cx="311.6" cy="118.3" rx="4.1" ry="1.1" transform="rotate(27.1 311.6 118.3)"/>
<ellipse cx="311.5" cy="118.3" rx="5" ry="0.6" opacity="0.8" transform="rotate(28 311.5 118.3)"/>
<ellipse cx="311.8" cy="118.7" rx="5.1" ry="0.6" opacity="0.8" transform="rotate(25.4 311.8 118.7)"/>
<ellipse cx="323.2" cy="140.1" rx="6.2" ry="0.8" transform="rotate(-76.6 323.2 140.1)"/>
<ellipse cx="323" cy="140.3" rx="9.1" ry="0.6" opacity="0.8" transform="rotate(-63.7 323 140.3)"/>
<ellipse cx="323.4" cy="140.1" rx="9" ry="0.6" opacity="0.8" transform="rotate(-82.8 323.4 140.1)"/>
<ellipse cx="305.2" cy="161.2" rx="7.3" ry="1.1" transform="rotate(-54.4 305.2 161.2)"/>
<ellipse cx="305.5" cy="161.5" rx="10.6" ry="0.6" opacity="0.8" transform="rotate(-41.6 305.5 161.5)"/>
<ellipse cx="305.1" cy="161.2" rx="10.1" ry="0.6" opacity="0.8" transform="rotate(-56.9 305.1 161.2)"/>
<ellipse cx="307.1" cy="133.6" rx="4.5" ry="0.9" transform="rotate(-29.4 307.1 133.6)"/>
<ellipse cx="307.2" cy="133.9" rx="6.1" ry="0.6" opacity="0.8" transform="rotate(-28.3 307.2 133.9)"/>
<ellipse cx="307.4" cy="133.4" rx="6.5" ry="0.6" opacity="0.8" transform="rotate(-29.9 307.4 133.4)"/>
<ellipse cx="315.5" cy="152.9" rx="3.9" ry="0.8" transform="rotate(-66.3 315.5 152.9)"/>
<ellipse cx="315.4" cy="152.6" rx="4.7" ry="0.6" opacity="0.8" transform="rotate(-66.2 315.4 152.6)"/>
<ellipse cx="315.7" cy="152.7" rx="5.3" ry="0.6" opacity="0.8" transform="rotate(-56.9 315.7 152.7)"/>
<ellipse cx="303.6" cy="160.3" rx="6.2" ry="1.2" transform="rotate(20.3 303.6 160.3)"/>
<ellipse cx="303.4" cy="159.9" rx="9.4" ry="0.6" opacity="0.8" transform="rotate(21 303.4 159.9)"/>
<ellipse cx="303.1" cy="160.5" rx="8.5" ry="0.6" opacity="0.8" transform="rotate(24.6 303.1 160.5)"/>
<ellipse cx="347.2" cy="153.8" rx="6.7" ry="1.2" transform="rotate(44 347.2 153.8)"/>
<ellipse cx="347.1" cy="153.4" rx="8.1" ry="0.6" opacity="0.8" transform="rotate(33.5 347.1 153.4)"/>
<ellipse cx="347.6" cy="153.5" rx="10.1" ry="0.6" opacity="0.8" transform="rotate(41.1 347.6 153.5)"/>
<ellipse cx="341.7" cy="148.2" rx="4.1" ry="1" transform="rotate(20.7 341.7 148.2)"/>
<ellipse cx="341.4" cy="148.6" rx="6.2" ry="0.6" opacity="0.8" transform="rotate(10.9 341.4 148.6)"/>
<ellipse cx="341.4" cy="148.5" rx="5.6" ry="0.6" opacity="0.8" transform="rotate(14.6 341.4 148.5)"/>
<ellipse cx="361.6" cy="131.8" rx="7.8" ry="1" transform="rotate(-78.4 361.6 131.8)"/>
<ellipse cx="361.6" cy="131.8" rx="9.6" ry="0.6" opacity="0.8" transform="rotate(-68.7 361.6 131.8)"/>
<ellipse cx="361.9" cy="131.9" rx="11.6" ry="0.6" opacity="0.8" transform="rotate(-86.6 361.9 131.9)"/>
<ellipse cx="310.9" cy="141.9" rx="7.9" ry="1.2" transform="rotate(-5.5 310.9 141.9)"/>
<ellipse cx="310.6" cy="142.1" rx="10" ry="0.6" opacity="0.8" transform="rotate(-18.7 310.6 142.1)"/>
<ellipse cx="311.3" cy="141.7" rx="9.5" ry="0.6" opacity="0.8" transform="rotate(-14.1 311.3 141.7)"/>
<ellipse cx="313.8" cy="143.4" rx="4.6" ry="1.3" transform="rotate(20.4 313.8 143.4)"/>
<ellipse cx="313.9" cy="143.9" rx="6.6" ry="0.6" opacity="0.8" transform="rotate(18.4 313.9 143.9)"/>
<ellipse cx="313.8" cy="143.1" rx="6.2" ry="0.6" opacity="0.8" transform="rotate(27.6 313.8 143.1)"/>
<ellipse cx="297.3" cy="147.2" rx="5" ry="1" transform="rotate(-11 297.3 147.2)"/>
<ellipse cx="297.4" cy="147.1" rx="6.2" ry="0.6" opacity="0.8" transform="rotate(-23.9 297.4 147.1)"/>
<ellipse cx="297.3" cy="147" rx="7.1" ry="0.6" opacity="0.8" transform="rotate(-2.2 297.3 147)"/>
<ellipse cx="295.6" cy="157.7" rx="6.3" ry="0.9" transform="rotate(-19.8 295.6 157.7)"/>
<ellipse cx="295.5" cy="157.4" rx="8.6" ry="0.6" opacity="0.8" transform="rotate(-7.9 295.5 157.4)"/>
<ellipse cx="295.7" cy="157.6" rx="8.2" ry="0.6" opacity="0.8" transform="rotate(-27.2 295.7 157.6)"/>
<ellipse cx="303.3" cy="172" rx="4" ry="1.3" transform="rotate(6.3 303.3 172)"/>
<ellipse cx="303.8" cy="172.5" rx="5.1" ry="0.6" opacity="0.8" transform="rotate(17.2 303.8 172.5)"/>
<ellipse cx="303.6" cy="172.5" rx="4.8" ry="0.6" opacity="0.8" transform="rotate(2.2 303.6 172.5)"/>
<ellipse cx="264" cy="128.8" rx="7.1" ry="1.2" transform="rotate(28.1 264 128.8)"/>
<ellipse cx="263.5" cy="128.5" rx="8.7" ry="0.6" opacity="0.8" transform="rotate(21.6 263.5 128.5)"/>
<ellipse cx="263.8" cy="128.4" rx="9.9" ry="0.6" opacity="0.8" transform="rotate(26.5 263.8 128.4)"/>
<ellipse cx="260.2" cy="135.1" rx="3.8" ry="1.2" transform="rotate(-6 260.2 135.1)"/>
<ellipse cx="260.7" cy="135.5" rx="4.6" ry="0.6" opacity="0.8" transform="rotate(7.9 260.7 135.5)"/>
<ellipse cx="259.9" cy="135.5" rx="4.8" ry="0.6" opacity="0.8" transform="rotate(-5.5 259.9 135.5)"/>
<ellipse cx="257.4" cy="160.1" rx="8" ry="0.7" transform="rotate(-1.6 257.4 160.1)"/>
<ellipse cx="257.6" cy="160.2" rx="10.6" ry="0.6" opacity="0.8" transform="rotate(-4.5 257.6 160.2)"/>
<ellipse cx="257.3" cy="160.1" rx="12.1" ry="0.6" opacity="0.8" transform="rotate(9.2 257.3 160.1)"/>
<ellipse cx="254.6" cy="144.6" rx="7.1" ry="0.9" transform="rotate(-11.3 254.6 144.6)"/>
<ellipse cx="254.8" cy="144.6" rx="9.5" ry="0.6" opacity="0.8" transform="rotate(-16 254.8 144.6)"/>
<ellipse cx="254.9" cy="144.3" rx="10" ry="0.6" opacity="0.8" transform="rotate(-16.6 254.9 144.3)"/>
<ellipse cx="259.8" cy="157.6" rx="5.3" ry="1.1" transform="rotate(-13.8 259.8 157.6)"/>
<ellipse cx="260" cy="157.9" rx="7.4" ry="0.6" opacity="0.8" transform="rotate(-18.2 260 157.9)"/>
<ellipse cx="259.7" cy="157.1" rx="7.5" ry="0.6" opacity="0.8" transform="rotate(-10.4 259.7 157.1)"/>
<ellipse cx="239.7" cy="143.3" rx="7.7" ry="1.2" transform="rotate(36.5 239.7 143.3)"/>
<ellipse cx="239.7" cy="143" rx="9.6" ry="0.6" opacity="0.8" transform="rotate(50.2 239.7 143)"/>
<ellipse cx="240.1" cy="143.2" rx="9.3" ry="0.6" opacity="0.8" transform="rotate(48.4 240.1 143.2)"/>
<ellipse cx="239.6" cy="159" rx="4.1" ry="0.9" transform="rotate(-6.3 239.6 159)"/>
<ellipse cx="239.7" cy="158.8" rx="5.8" ry="0.6" opacity="0.8" transform="rotate(-0.1 239.7 158.8)"/>
<ellipse cx="239.3" cy="159.1" rx="5.5" ry="0.6" opacity="0.8" transform="rotate(5.6 239.3 159.1)"/>
<ellipse cx="231.6" cy="155.9" rx="3.7" ry="0.8" transform="rotate(11.9 231.6 155.9)"/>
<ellipse cx="231.7" cy="156.2" rx="5.3" ry="0.6" opacity="0.8" transform="rotate(11.3 231.7 156.2)"/>
<ellipse cx="231.6" cy="156.1" rx="5.3" ry="0.6" opacity="0.8" transform="rotate(1.5 231.6 156.1)"/>
<ellipse cx="276.5" cy="129.6" rx="6" ry="1" transform="rotate(59.9 276.5 129.6)"/>
<ellipse cx="276.9" cy="129.5" rx="8.9" ry="0.6" opacity="0.8" transform="rotate(60.6 276.9 129.5)"/>
<ellipse cx="276.5" cy="129.6" rx="7.2" ry="0.6" opacity="0.8" transform="rotate(51.6 276.5 129.6)"/>
<ellipse cx="285.4" cy="115.7" rx="5.6" ry="0.8" transform="rotate(27.9 285.4 115.7)"/>
<ellipse cx="285.6" cy="115.5" rx="7.8" ry="0.6" opacity="0.8" transform="rotate(20 285.6 115.5)"/>
<ellipse cx="285.3" cy="115.4" rx="8.2" ry="0.6" opacity="0.8" transform="rotate(16.6 285.3 115.4)"/>
<ellipse cx="267.3" cy="119.4" rx="7.7" ry="0.9" transform="rotate(-60.6 267.3 119.4)"/>
<ellipse cx="267" cy="119.1" rx="10.2" ry="0.6" opacity="0.8" transform="rotate(-48.3 267 119.1)"/>
<ellipse cx="266.9" cy="119.1" rx="11.7" ry="0.6" opacity="0.8" transform="rotate(-66.4 266.9 119.1)"/>
<ellipse cx="299.1" cy="120.3" rx="4.9" ry="0.8" transform="rotate(22 299.1 120.3)"/>
<ellipse cx="299.2" cy="120.4" rx="6.4" ry="0.6" opacity="0.8" transform="rotate(29.4 299.2 120.4)"/>
<ellipse cx="298.9" cy="120.3" rx="7.1" ry="0.6" opacity="0.8" transform="rotate(12 298.9 120.3)"/>
<ellipse cx="309.5" cy="130.3" rx="6.8" ry="0.6" transform="rotate(-13.6 309.5 130.3)"/>
<ellipse cx="309.5" cy="130.4" rx="9.1" ry="0.6" opacity="0.8" transform="rotate(-23.1 309.5 130.4)"/>
<ellipse cx="309.5" cy="130.2" rx="9.3" ry="0.6" opacity="0.8" transform="rotate(-0.7 309.5 130.2)"/>
<ellipse cx="292.1" cy="122.3" rx="8.3" ry="1" transform="rotate(23.8 292.1 122.3)"/>
<ellipse cx="292.5" cy="122.3" rx="11.5" ry="0.6" opacity="0.8" transform="rotate(36.9 292.5 122.3)"/>
<ellipse cx="291.8" cy="122.1" rx="12.5" ry="0.6" opacity="0.8" transform="rotate(32.6 291.8 122.1)"/>
<ellipse cx="325.9" cy="158" rx="8.5" ry="1.2" transform="rotate(30.8 325.9 158)"/>
<ellipse cx="325.6" cy="158.1" rx="11.7" ry="0.6" opacity="0.8" transform="rotate(44.1 325.6 158.1)"/>
<ellipse cx="326" cy="158.1" rx="11.8" ry="0.6" opacity="0.8" transform="rotate(20.5 326 158.1)"/>
<ellipse cx="327.3" cy="168.4" rx="4.5" ry="0.6" transform="rotate(-28.2 327.3 168.4)"/>
<ellipse cx="327.5" cy="168.4" rx="6.1" ry="0.6" opacity="0.8" transform="rotate(-24.6 327.5 168.4)"/>
<ellipse cx="327.4" cy="168.7" rx="6.1" ry="0.6" opacity="0.8" transform="rotate(-25.4 327.4 168.7)"/>
<ellipse cx="348.3" cy="168.4" rx="6.1" ry="1.2" transform="rotate(23 348.3 168.4)"/>
<ellipse cx="348" cy="168.4" rx="8.7" ry="0.6" opacity="0.8" transform="rotate(10.5 348 168.4)"/>
<ellipse cx="347.8" cy="168.6" rx="8.4" ry="0.6" opacity="0.8" transform="rotate(27.5 347.8 168.6)"/>
</g>
<g filter="url(#cell2)" fill="#1aa641" opacity="0.95">
<ellipse cx="249.3" cy="51.5" rx="3.6" ry="2.4" transform="rotate(0 249.3 51.5)"/>
<ellipse cx="249.2" cy="52.4" rx="8.4" ry="0.8" opacity="0.8" transform="rotate(3.4 249.2 52.4)"/>
<ellipse cx="248.3" cy="52" rx="4.9" ry="0.8" opacity="0.8" transform="rotate(46.7 248.3 52)"/>
<ellipse cx="255.2" cy="69.1" rx="12.1" ry="2.7" transform="rotate(60 255.2 69.1)"/>
<ellipse cx="256.1" cy="68.6" rx="16.5" ry="1.1" opacity="0.8" transform="rotate(57.5 256.1 68.6)"/>
<ellipse cx="255.6" cy="68" rx="14.6" ry="1.2" opacity="0.8" transform="rotate(69.5 255.6 68)"/>
<ellipse cx="303.8" cy="54.9" rx="3.6" ry="2.1" transform="rotate(0 303.8 54.9)"/>
<ellipse cx="303.7" cy="54.9" rx="7.7" ry="0.9" opacity="0.8" transform="rotate(12.3 303.7 54.9)"/>
<ellipse cx="304.4" cy="55.4" rx="4.6" ry="0.9" opacity="0.8" transform="rotate(64.3 304.4 55.4)"/>
<ellipse cx="364.1" cy="80" rx="3.6" ry="2.7" transform="rotate(90 364.1 80)"/>
<ellipse cx="363.9" cy="81.1" rx="9.3" ry="1" opacity="0.8" transform="rotate(80.6 363.9 81.1)"/>
<ellipse cx="363.1" cy="79.1" rx="4.9" ry="1" opacity="0.8" transform="rotate(115.5 363.1 79.1)"/>
<ellipse cx="313.8" cy="97.6" rx="10.7" ry="7.2" transform="rotate(0 313.8 97.6)"/>
<ellipse cx="311.8" cy="99.7" rx="29.1" ry="2.9" opacity="0.8" transform="rotate(63.2 311.8 99.7)"/>
<ellipse cx="312.2" cy="98.5" rx="18.1" ry="2.8" opacity="0.8" transform="rotate(130.7 312.2 98.5)"/>
<ellipse cx="320.5" cy="120.2" rx="10.7" ry="1.3" transform="rotate(-12 320.5 120.2)"/>
<ellipse cx="320.9" cy="120.6" rx="15.3" ry="0.6" opacity="0.8" transform="rotate(0 320.9 120.6)"/>
<ellipse cx="320.9" cy="120" rx="14" ry="0.6" opacity="0.8" transform="rotate(-9.1 320.9 120)"/>
<ellipse cx="308" cy="155.4" rx="3.6" ry="2.7" transform="rotate(90 308 155.4)"/>
<ellipse cx="308.9" cy="154.8" rx="9.7" ry="1.2" opacity="0.8" transform="rotate(164.6 308.9 154.8)"/>
<ellipse cx="308.6" cy="155.4" rx="5.9" ry="0.9" opacity="0.8" transform="rotate(220.3 308.6 155.4)"/>
<ellipse cx="258.6" cy="152.9" rx="5.3" ry="3.6" transform="rotate(0 258.6 152.9)"/>
<ellipse cx="258" cy="153.1" rx="11.8" ry="1.1" opacity="0.8" transform="rotate(12 258 153.1)"/>
<ellipse cx="258.8" cy="153.9" rx="7.5" ry="1.4" opacity="0.8" transform="rotate(76.9 258.8 153.9)"/>
<ellipse cx="233.4" cy="131.1" rx="3.6" ry="2.4" transform="rotate(90 233.4 131.1)"/>
<ellipse cx="232.9" cy="131.1" rx="7.4" ry="0.9" opacity="0.8" transform="rotate(8.6 232.9 131.1)"/>
<ellipse cx="232.9" cy="131.1" rx="6" ry="0.7" opacity="0.8" transform="rotate(37.4 232.9 131.1)"/>
<ellipse cx="230.9" cy="169.6" rx="2.5" ry="1.1" transform="rotate(0 230.9 169.6)"/>
<ellipse cx="231.1" cy="169.9" rx="3.7" ry="0.6" opacity="0.8" transform="rotate(-6 231.1 169.9)"/>
<ellipse cx="231.4" cy="169.7" rx="3.2" ry="0.6" opacity="0.8" transform="rotate(-1.6 231.4 169.7)"/>
<ellipse cx="272.8" cy="124.1" rx="7.1" ry="1.3" transform="rotate(28 272.8 124.1)"/>
<ellipse cx="272.9" cy="124.2" rx="10.4" ry="0.6" opacity="0.8" transform="rotate(34.4 272.9 124.2)"/>
<ellipse cx="272.5" cy="123.6" rx="10.8" ry="0.6" opacity="0.8" transform="rotate(40 272.5 123.6)"/>
<ellipse cx="297.1" cy="122.7" rx="7.1" ry="1.3" transform="rotate(90 297.1 122.7)"/>
<ellipse cx="296.9" cy="122.9" rx="9.8" ry="0.6" opacity="0.8" transform="rotate(101.2 296.9 122.9)"/>
<ellipse cx="297.1" cy="123.2" rx="10.9" ry="0.6" opacity="0.8" transform="rotate(84.2 297.1 123.2)"/>
<ellipse cx="333.9" cy="156.2" rx="6.4" ry="1.5" transform="rotate(45 333.9 156.2)"/>
<ellipse cx="333.9" cy="156.7" rx="9.5" ry="0.6" opacity="0.8" transform="rotate(51.4 333.9 156.7)"/>
<ellipse cx="334.3" cy="155.9" rx="8.4" ry="0.6" opacity="0.8" transform="rotate(58.5 334.3 155.9)"/>
<ellipse cx="342.3" cy="171.6" rx="2.8" ry="1.8" transform="rotate(0 342.3 171.6)"/>
<ellipse cx="343" cy="172.3" rx="6.3" ry="0.7" opacity="0.8" transform="rotate(50.6 343 172.3)"/>
<ellipse cx="342.9" cy="171.3" rx="4.5" ry="0.6" opacity="0.8" transform="rotate(110.4 342.9 171.3)"/>
<ellipse cx="256" cy="68" rx="6.9" ry="0.9" transform="rotate(-0.3 256 68)"/>
<ellipse cx="256" cy="67.8" rx="10.2" ry="0.6" opacity="0.8" transform="rotate(-3 256 67.8)"/>
<ellipse cx="255.9" cy="67.7" rx="8.3" ry="0.6" opacity="0.8" transform="rotate(2.2 255.9 67.7)"/>
<ellipse cx="261.8" cy="59.1" rx="5.6" ry="1.2" transform="rotate(-12.9 261.8 59.1)"/>
<ellipse cx="261.3" cy="59.6" rx="7.3" ry="0.6" opacity="0.8" transform="rotate(-5.1 261.3 59.6)"/>
<ellipse cx="262.2" cy="59.6" rx="7.3" ry="0.6" opacity="0.8" transform="rotate(-8.8 262.2 59.6)"/>
<ellipse cx="266.4" cy="55.7" rx="5.6" ry="0.9" transform="rotate(-11.2 266.4 55.7)"/>
<ellipse cx="266.3" cy="55.6" rx="6.6" ry="0.6" opacity="0.8" transform="rotate(-16.7 266.3 55.6)"/>
<ellipse cx="266.5" cy="55.8" rx="7.6" ry="0.6" opacity="0.8" transform="rotate(-2.4 266.5 55.8)"/>
<ellipse cx="280.3" cy="102.5" rx="6.1" ry="1" transform="rotate(-50.8 280.3 102.5)"/>
<ellipse cx="280.1" cy="102.2" rx="7.3" ry="0.6" opacity="0.8" transform="rotate(-56.7 280.1 102.2)"/>
<ellipse cx="280.3" cy="102.9" rx="7.5" ry="0.6" opacity="0.8" transform="rotate(-42.5 280.3 102.9)"/>
<ellipse cx="294.5" cy="104.7" rx="7.3" ry="0.7" transform="rotate(1.1 294.5 104.7)"/>
<ellipse cx="294.5" cy="104.6" rx="10.4" ry="0.6" opacity="0.8" transform="rotate(10.4 294.5 104.6)"/>
<ellipse cx="294.2" cy="104.7" rx="11.2" ry="0.6" opacity="0.8" transform="rotate(-6.1 294.2 104.7)"/>
<ellipse cx="319.9" cy="59.4" rx="5.4" ry="1.2" transform="rotate(-20.7 319.9 59.4)"/>
<ellipse cx="319.8" cy="59" rx="8.2" ry="0.6" opacity="0.8" transform="rotate(-8.4 319.8 59)"/>
<ellipse cx="320.1" cy="59" rx="7.9" ry="0.6" opacity="0.8" transform="rotate(-12.8 320.1 59)"/>
<ellipse cx="316.4" cy="47.3" rx="8.4" ry="0.8" transform="rotate(14 316.4 47.3)"/>
<ellipse cx="316.7" cy="47.2" rx="11.1" ry="0.6" opacity="0.8" transform="rotate(14.5 316.7 47.2)"/>
<ellipse cx="316.5" cy="47.3" rx="12.7" ry="0.6" opacity="0.8" transform="rotate(11.3 316.5 47.3)"/>
<ellipse cx="309.1" cy="51" rx="5.9" ry="1" transform="rotate(-0.8 309.1 51)"/>
<ellipse cx="309.3" cy="51.1" rx="8.4" ry="0.6" opacity="0.8" transform="rotate(-5.5 309.3 51.1)"/>
<ellipse cx="309.3" cy="51.3" rx="9" ry="0.6" opacity="0.8" transform="rotate(9 309.3 51.3)"/>
<ellipse cx="347.7" cy="68.6" rx="3.7" ry="0.7" transform="rotate(-20.9 347.7 68.6)"/>
<ellipse cx="347.9" cy="68.8" rx="4.7" ry="0.6" opacity="0.8" transform="rotate(-7 347.9 68.8)"/>
<ellipse cx="347.7" cy="68.4" rx="5.7" ry="0.6" opacity="0.8" transform="rotate(-33.8 347.7 68.4)"/>
<ellipse cx="353.8" cy="70.1" rx="8.5" ry="1.1" transform="rotate(-2.1 353.8 70.1)"/>
<ellipse cx="353.5" cy="70.4" rx="10.3" ry="0.6" opacity="0.8" transform="rotate(-7.2 353.5 70.4)"/>
<ellipse cx="353.5" cy="70.4" rx="11.1" ry="0.6" opacity="0.8" transform="rotate(9 353.5 70.4)"/>
<ellipse cx="308.7" cy="84.9" rx="7.6" ry="1.3" transform="rotate(13.5 308.7 84.9)"/>
<ellipse cx="308.8" cy="84.8" rx="9.5" ry="0.6" opacity="0.8" transform="rotate(3.3 308.8 84.8)"/>
<ellipse cx="308.8" cy="84.7" rx="9.3" ry="0.6" opacity="0.8" transform="rotate(7.1 308.8 84.7)"/>
<ellipse cx="323.8" cy="103.6" rx="8.2" ry="1.3" transform="rotate(1.9 323.8 103.6)"/>
<ellipse cx="323.6" cy="103.7" rx="11.1" ry="0.6" opacity="0.8" transform="rotate(15.1 323.6 103.7)"/>
<ellipse cx="324.2" cy="103.4" rx="10" ry="0.6" opacity="0.8" transform="rotate(11.1 324.2 103.4)"/>
<ellipse cx="305.8" cy="106.3" rx="4.5" ry="1.3" transform="rotate(-36.8 305.8 106.3)"/>
<ellipse cx="305.3" cy="106.8" rx="6" ry="0.6" opacity="0.8" transform="rotate(-43.8 305.3 106.8)"/>
<ellipse cx="306" cy="106" rx="6.2" ry="0.6" opacity="0.8" transform="rotate(-23.9 306 106)"/>
<ellipse cx="303.1" cy="93.4" rx="4.4" ry="1.2" transform="rotate(48.3 303.1 93.4)"/>
<ellipse cx="303.3" cy="93.1" rx="5.8" ry="0.6" opacity="0.8" transform="rotate(53.9 303.3 93.1)"/>
<ellipse cx="303.5" cy="93.3" rx="6.4" ry="0.6" opacity="0.8" transform="rotate(57.4 303.5 93.3)"/>
<ellipse cx="313" cy="81.4" rx="8.3" ry="0.7" transform="rotate(-17.6 313 81.4)"/>
<ellipse cx="313.3" cy="81.4" rx="10.7" ry="0.6" opacity="0.8" transform="rotate(-8.3 313.3 81.4)"/>
<ellipse cx="313.1" cy="81.4" rx="12.1" ry="0.6" opacity="0.8" transform="rotate(-21.7 313.1 81.4)"/>
<ellipse cx="324" cy="108" rx="5.8" ry="1" transform="rotate(-45 324 108)"/>
<ellipse cx="323.7" cy="107.8" rx="6.9" ry="0.6" opacity="0.8" transform="rotate(-43.6 323.7 107.8)"/>
<ellipse cx="323.9" cy="108.3" rx="7.5" ry="0.6" opacity="0.8" transform="rotate(-53.8 323.9 108.3)"/>
<ellipse cx="333.5" cy="104.4" rx="4.7" ry="0.9" transform="rotate(-33.7 333.5 104.4)"/>
<ellipse cx="333.5" cy="104.2" rx="5.6" ry="0.6" opacity="0.8" transform="rotate(-24.6 333.5 104.2)"/>
<ellipse cx="333.7" cy="104" rx="6.7" ry="0.6" opacity="0.8" transform="rotate(-46.2 333.7 104)"/>
<ellipse cx="311.1" cy="104.3" rx="8.2" ry="1" transform="rotate(-13.5 311.1 104.3)"/>
<ellipse cx="311.5" cy="104.3" rx="10.8" ry="0.6" opacity="0.8" transform="rotate(-16.1 311.5 104.3)"/>
<ellipse cx="311.2" cy="103.9" rx="9.9" ry="0.6" opacity="0.8" transform="rotate(-26.9 311.2 103.9)"/>
<ellipse cx="313.4" cy="116.3" rx="4.2" ry="1.3" transform="rotate(-9.4 313.4 116.3)"/>
<ellipse cx="313.2" cy="116.2" rx="6" ry="0.6" opacity="0.8" transform="rotate(-23.1 313.2 116.2)"/>
<ellipse cx="312.9" cy="116.4" rx="5.6" ry="0.6" opacity="0.8" transform="rotate(-2.2 312.9 116.4)"/>
<ellipse cx="356.3" cy="120.2" rx="7.1" ry="1.2" transform="rotate(-16.5 356.3 120.2)"/>
<ellipse cx="356" cy="120.4" rx="10.8" ry="0.6" opacity="0.8" transform="rotate(-22.1 356 120.4)"/>
<ellipse cx="356.6" cy="120.4" rx="8.8" ry="0.6" opacity="0.8" transform="rotate(-18.1 356.6 120.4)"/>
<ellipse cx="364.1" cy="124.3" rx="8" ry="0.7" transform="rotate(6.5 364.1 124.3)"/>
<ellipse cx="364" cy="124.3" rx="12.2" ry="0.6" opacity="0.8" transform="rotate(2.1 364 124.3)"/>
<ellipse cx="364" cy="124.4" rx="10.2" ry="0.6" opacity="0.8" transform="rotate(1.7 364 124.4)"/>
<ellipse cx="327.2" cy="131.6" rx="5.9" ry="0.8" transform="rotate(-20.6 327.2 131.6)"/>
<ellipse cx="327" cy="131.3" rx="8.6" ry="0.6" opacity="0.8" transform="rotate(-7.9 327 131.3)"/>
<ellipse cx="327" cy="131.4" rx="8.8" ry="0.6" opacity="0.8" transform="rotate(-26.9 327 131.4)"/>
<ellipse cx="330.4" cy="120.6" rx="7.1" ry="1.1" transform="rotate(12.5 330.4 120.6)"/>
<ellipse cx="330.4" cy="121.1" rx="9.9" ry="0.6" opacity="0.8" transform="rotate(19.7 330.4 121.1)"/>
<ellipse cx="330.9" cy="120.6" rx="10.3" ry="0.6" opacity="0.8" transform="rotate(5.8 330.9 120.6)"/>
<ellipse cx="325.5" cy="131.6" rx="7.1" ry="1.3" transform="rotate(1.3 325.5 131.6)"/>
<ellipse cx="325.8" cy="131.4" rx="10.7" ry="0.6" opacity="0.8" transform="rotate(13 325.8 131.4)"/>
<ellipse cx="325" cy="131.3" rx="9.1" ry="0.6" opacity="0.8" transform="rotate(8.3 325 131.3)"/>
<ellipse cx="317.7" cy="152.3" rx="8.4" ry="0.6" transform="rotate(-15.7 317.7 152.3)"/>
<ellipse cx="317.7" cy="152.3" rx="11.1" ry="0.6" opacity="0.8" transform="rotate(-28 317.7 152.3)"/>
<ellipse cx="317.5" cy="152.6" rx="10.1" ry="0.6" opacity="0.8" transform="rotate(-7.1 317.5 152.6)"/>
<ellipse cx="325.7" cy="133.8" rx="4.9" ry="1.2" transform="rotate(50.9 325.7 133.8)"/>
<ellipse cx="325.3" cy="133.3" rx="5.9" ry="0.6" opacity="0.8" transform="rotate(50.5 325.3 133.3)"/>
<ellipse cx="325.7" cy="133.9" rx="6.1" ry="0.6" opacity="0.8" transform="rotate(43.3 325.7 133.9)"/>
<ellipse cx="297.4" cy="145.4" rx="4.7" ry="0.9" transform="rotate(-74 297.4 145.4)"/>
<ellipse cx="297.2" cy="145.1" rx="6.5" ry="0.6" opacity="0.8" transform="rotate(-72.1 297.2 145.1)"/>
<ellipse cx="297.2" cy="145.8" rx="6.5" ry="0.6" opacity="0.8" transform="rotate(-63.4 297.2 145.8)"/>
<ellipse cx="351.9" cy="144.3" rx="8.5" ry="0.8" transform="rotate(11.7 351.9 144.3)"/>
<ellipse cx="351.8" cy="144" rx="12.7" ry="0.6" opacity="0.8" transform="rotate(0.5 351.8 144)"/>
<ellipse cx="352" cy="144.5" rx="12.5" ry="0.6" opacity="0.8" transform="rotate(1.3 352 144.5)"/>
<ellipse cx="316.6" cy="147.8" rx="7.2" ry="0.8" transform="rotate(8.5 316.6 147.8)"/>
<ellipse cx="316.5" cy="147.8" rx="8.6" ry="0.6" opacity="0.8" transform="rotate(21.3 316.5 147.8)"/>
<ellipse cx="316.9" cy="147.7" rx="10.6" ry="0.6" opacity="0.8" transform="rotate(14.8 316.9 147.7)"/>
<ellipse cx="302.6" cy="155.4" rx="6.2" ry="1.1" transform="rotate(-4.2 302.6 155.4)"/>
<ellipse cx="302.8" cy="155.4" rx="7.6" ry="0.6" opacity="0.8" transform="rotate(-13.4 302.8 155.4)"/>
<ellipse cx="302.3" cy="155.3" rx="8.4" ry="0.6" opacity="0.8" transform="rotate(8.5 302.3 155.3)"/>
<ellipse cx="295.9" cy="161.9" rx="5.9" ry="0.7" transform="rotate(-19.5 295.9 161.9)"/>
<ellipse cx="295.6" cy="161.8" rx="8.8" ry="0.6" opacity="0.8" transform="rotate(-15.2 295.6 161.8)"/>
<ellipse cx="295.8" cy="161.8" rx="8.4" ry="0.6" opacity="0.8" transform="rotate(-23.2 295.8 161.8)"/>
<ellipse cx="256.2" cy="139.1" rx="8" ry="1" transform="rotate(-12.8 256.2 139.1)"/>
<ellipse cx="255.9" cy="138.9" rx="12.3" ry="0.6" opacity="0.8" transform="rotate(-2.6 255.9 138.9)"/>
<ellipse cx="256.2" cy="139.1" rx="11.8" ry="0.6" opacity="0.8" transform="rotate(-0.9 256.2 139.1)"/>
<ellipse cx="254.2" cy="127.1" rx="6.4" ry="1.1" transform="rotate(-7.4 254.2 127.1)"/>
<ellipse cx="254" cy="127.4" rx="7.8" ry="0.6" opacity="0.8" transform="rotate(-2.7 254 127.4)"/>
<ellipse cx="254.5" cy="126.9" rx="8.4" ry="0.6" opacity="0.8" transform="rotate(-8.4 254.5 126.9)"/>
<ellipse cx="267.2" cy="145.7" rx="5.5" ry="1.3" transform="rotate(-7.7 267.2 145.7)"/>
<ellipse cx="266.9" cy="145.3" rx="7.9" ry="0.6" opacity="0.8" transform="rotate(-0.7 266.9 145.3)"/>
<ellipse cx="266.7" cy="145.2" rx="6.4" ry="0.6" opacity="0.8" transform="rotate(1.5 266.7 145.2)"/>
<ellipse cx="233.8" cy="125.3" rx="8.3" ry="0.8" transform="rotate(-4.5 233.8 125.3)"/>
<ellipse cx="233.7" cy="125.6" rx="11.9" ry="0.6" opacity="0.8" transform="rotate(-4 233.7 125.6)"/>
<ellipse cx="233.9" cy="125.1" rx="12.3" ry="0.6" opacity="0.8" transform="rotate(-11.9 233.9 125.1)"/>
<ellipse cx="230.1" cy="125.5" rx="8.4" ry="0.7" transform="rotate(6.5 230.1 125.5)"/>
<ellipse cx="230.2" cy="125.5" rx="10.9" ry="0.6" opacity="0.8" transform="rotate(3.6 230.2 125.5)"/>
<ellipse cx="230.3" cy="125.3" rx="10" ry="0.6" opacity="0.8" transform="rotate(-2.3 230.3 125.3)"/>
<ellipse cx="229.5" cy="145" rx="3.7" ry="0.8" transform="rotate(-10.8 229.5 145)"/>
<ellipse cx="229.7" cy="145.4" rx="4.5" ry="0.6" opacity="0.8" transform="rotate(-6.8 229.7 145.4)"/>
<ellipse cx="229.7" cy="145" rx="5.4" ry="0.6" opacity="0.8" transform="rotate(1 229.7 145)"/>
<ellipse cx="238.6" cy="167.8" rx="3.6" ry="0.8" transform="rotate(-14.9 238.6 167.8)"/>
<ellipse cx="238.8" cy="167.8" rx="5.1" ry="0.6" opacity="0.8" transform="rotate(-16.5 238.8 167.8)"/>
<ellipse cx="238.4" cy="167.6" rx="5.1" ry="0.6" opacity="0.8" transform="rotate(-7.4 238.4 167.6)"/>
<ellipse cx="224.8" cy="162.9" rx="7.7" ry="1.2" transform="rotate(69.1 224.8 162.9)"/>
<ellipse cx="224.7" cy="162.6" rx="10.8" ry="0.6" opacity="0.8" transform="rotate(78.6 224.7 162.6)"/>
<ellipse cx="225" cy="162.4" rx="9.4" ry="0.6" opacity="0.8" transform="rotate(71.3 225 162.4)"/>
<ellipse cx="285.5" cy="122.3" rx="6.1" ry="0.9" transform="rotate(6.8 285.5 122.3)"/>
<ellipse cx="285.7" cy="122.6" rx="8.4" ry="0.6" opacity="0.8" transform="rotate(16.4 285.7 122.6)"/>
<ellipse cx="285.5" cy="122" rx="7.4" ry="0.6" opacity="0.8" transform="rotate(-1.5 285.5 122)"/>
<ellipse cx="276.6" cy="117.1" rx="5.2" ry="0.7" transform="rotate(22.4 276.6 117.1)"/>
<ellipse cx="276.3" cy="117.1" rx="7.7" ry="0.6" opacity="0.8" transform="rotate(20 276.3 117.1)"/>
<ellipse cx="276.6" cy="117.3" rx="6.5" ry="0.6" opacity="0.8" transform="rotate(14.8 276.6 117.3)"/>
<ellipse cx="280.6" cy="123.4" rx="5.4" ry="1.1" transform="rotate(-2.8 280.6 123.4)"/>
<ellipse cx="280.7" cy="123.4" rx="6.9" ry="0.6" opacity="0.8" transform="rotate(-4.6 280.7 123.4)"/>
<ellipse cx="280.3" cy="123.7" rx="7" ry="0.6" opacity="0.8" transform="rotate(-3.4 280.3 123.7)"/>
<ellipse cx="295.4" cy="121.2" rx="8.3" ry="0.8" transform="rotate(35 295.4 121.2)"/>
<ellipse cx="295.3" cy="121.4" rx="11.6" ry="0.6" opacity="0.8" transform="rotate(30.8 295.3 121.4)"/>
<ellipse cx="295.2" cy="121.5" rx="10.8" ry="0.6" opacity="0.8" transform="rotate(48.4 295.2 121.5)"/>
<ellipse cx="288.2" cy="118.9" rx="4.9" ry="0.9" transform="rotate(22 288.2 118.9)"/>
<ellipse cx="288.3" cy="119.1" rx="7.4" ry="0.6" opacity="0.8" transform="rotate(15.5 288.3 119.1)"/>
<ellipse cx="288.2" cy="118.6" rx="7.1" ry="0.6" opacity="0.8" transform="rotate(31.3 288.2 118.6)"/>
<ellipse cx="286.4" cy="129" rx="4.6" ry="1.2" transform="rotate(22.8 286.4 129)"/>
<ellipse cx="286.2" cy="129.5" rx="6.9" ry="0.6" opacity="0.8" transform="rotate(19.5 286.2 129.5)"/>
<ellipse cx="286" cy="128.6" rx="7" ry="0.6" opacity="0.8" transform="rotate(9.4 286 128.6)"/>
<ellipse cx="333.8" cy="150.8" rx="5.9" ry="1.2" transform="rotate(38.3 333.8 150.8)"/>
<ellipse cx="333.9" cy="150.5" rx="7.4" ry="0.6" opacity="0.8" transform="rotate(37.6 333.9 150.5)"/>
<ellipse cx="333.3" cy="150.8" rx="8.9" ry="0.6" opacity="0.8" transform="rotate(28.2 333.3 150.8)"/>
<ellipse cx="327.1" cy="162.6" rx="4.6" ry="1.1" transform="rotate(42.2 327.1 162.6)"/>
<ellipse cx="326.8" cy="162.2" rx="5.8" ry="0.6" opacity="0.8" transform="rotate(31.1 326.8 162.2)"/>
<ellipse cx="327.2" cy="162.1" rx="6.6" ry="0.6" opacity="0.8" transform="rotate(29.6 327.2 162.1)"/>
<ellipse cx="328" cy="165.5" rx="3.8" ry="0.7" transform="rotate(-74.5 328 165.5)"/>
<ellipse cx="327.9" cy="165.6" rx="4.9" ry="0.6" opacity="0.8" transform="rotate(-68.8 327.9 165.6)"/>
<ellipse cx="327.8" cy="165.6" rx="4.9" ry="0.6" opacity="0.8" transform="rotate(-80.9 327.8 165.6)"/>
</g>
<g filter="url(#cell3)" fill="#35d160" opacity="1.0">
<ellipse cx="251" cy="61.6" rx="3.6" ry="2.7" transform="rotate(0 251 61.6)"/>
<ellipse cx="251.4" cy="61.8" rx="7.5" ry="1.1" opacity="0.8" transform="rotate(3 251.4 61.8)"/>
<ellipse cx="251.5" cy="62.2" rx="6.2" ry="0.8" opacity="0.8" transform="rotate(40.9 251.5 62.2)"/>
<ellipse cx="272" cy="67.5" rx="1.4" ry="1.2" transform="rotate(0 272 67.5)"/>
<ellipse cx="272" cy="67.9" rx="4" ry="0.6" opacity="0.8" transform="rotate(124.5 272 67.9)"/>
<ellipse cx="271.6" cy="67" rx="2.4" ry="0.6" opacity="0.8" transform="rotate(165.9 271.6 67)"/>
<ellipse cx="288.7" cy="82.2" rx="15.7" ry="0.8" transform="rotate(3 288.7 82.2)"/>
<ellipse cx="288.8" cy="82.2" rx="18.8" ry="0.6" opacity="0.8" transform="rotate(-4.8 288.8 82.2)"/>
<ellipse cx="288.6" cy="82.2" rx="19.2" ry="0.6" opacity="0.8" transform="rotate(8.9 288.6 82.2)"/>
<ellipse cx="279.5" cy="90.1" rx="7.1" ry="2.4" transform="rotate(15 279.5 90.1)"/>
<ellipse cx="278.5" cy="89.9" rx="9.3" ry="1.1" opacity="0.8" transform="rotate(27.4 278.5 89.9)"/>
<ellipse cx="280.1" cy="89.9" rx="10.9" ry="0.7" opacity="0.8" transform="rotate(4.1 280.1 89.9)"/>
<ellipse cx="282" cy="102.6" rx="7.1" ry="3.3" transform="rotate(100 282 102.6)"/>
<ellipse cx="282.1" cy="103.1" rx="10" ry="1.5" opacity="0.8" transform="rotate(111.4 282.1 103.1)"/>
<ellipse cx="282.1" cy="102.4" rx="8.6" ry="1.3" opacity="0.8" transform="rotate(104.8 282.1 102.4)"/>
<ellipse cx="319.7" cy="71.6" rx="6.8" ry="3.9" transform="rotate(0 319.7 71.6)"/>
<ellipse cx="321" cy="73" rx="17.4" ry="1.5" opacity="0.8" transform="rotate(79.1 321 73)"/>
<ellipse cx="319.1" cy="71.7" rx="11.4" ry="1.4" opacity="0.8" transform="rotate(127.9 319.1 71.7)"/>
<ellipse cx="353.2" cy="76.7" rx="5.3" ry="3" transform="rotate(0 353.2 76.7)"/>
<ellipse cx="352" cy="76.4" rx="12.2" ry="1" opacity="0.8" transform="rotate(98.7 352 76.4)"/>
<ellipse cx="352.9" cy="77.4" rx="9.3" ry="1.2" opacity="0.8" transform="rotate(163.1 352.9 77.4)"/>
<ellipse cx="308.8" cy="94.3" rx="5" ry="3.6" transform="rotate(0 308.8 94.3)"/>
<ellipse cx="308.6" cy="93.1" rx="13.8" ry="1.4" opacity="0.8" transform="rotate(175.2 308.6 93.1)"/>
<ellipse cx="307.7" cy="93.1" rx="6.5" ry="1.5" opacity="0.8" transform="rotate(212.4 307.7 93.1)"/>
<ellipse cx="318.9" cy="95.9" rx="3.6" ry="2.4" transform="rotate(0 318.9 95.9)"/>
<ellipse cx="318.6" cy="96.3" rx="8.9" ry="1.1" opacity="0.8" transform="rotate(115.1 318.6 96.3)"/>
<ellipse cx="318.3" cy="95.1" rx="5.4" ry="0.9" opacity="0.8" transform="rotate(168.1 318.3 95.1)"/>
<ellipse cx="321.4" cy="111" rx="3.2" ry="2.7" transform="rotate(0 321.4 111)"/>
<ellipse cx="321.5" cy="111.8" rx="8.1" ry="0.8" opacity="0.8" transform="rotate(177.1 321.5 111.8)"/>
<ellipse cx="321.7" cy="111.1" rx="5.3" ry="1.2" opacity="0.8" transform="rotate(233.2 321.7 111.1)"/>
<ellipse cx="368.8" cy="111" rx="4.3" ry="1.8" transform="rotate(90 368.8 111)"/>
<ellipse cx="369" cy="110.8" rx="5.3" ry="0.6" opacity="0.8" transform="rotate(76.6 369 110.8)"/>
<ellipse cx="368.7" cy="111.6" rx="5.9" ry="0.7" opacity="0.8" transform="rotate(76.5 368.7 111.6)"/>
<ellipse cx="330.6" cy="127.8" rx="5.3" ry="3.6" transform="rotate(0 330.6 127.8)"/>
<ellipse cx="329.9" cy="126.3" rx="12.6" ry="1.5" opacity="0.8" transform="rotate(131.9 329.9 126.3)"/>
<ellipse cx="331.9" cy="126.3" rx="7.4" ry="1.1" opacity="0.8" transform="rotate(201.5 331.9 126.3)"/>
<ellipse cx="311.8" cy="140.3" rx="6.1" ry="4.2" transform="rotate(0 311.8 140.3)"/>
<ellipse cx="310.9" cy="139.4" rx="14.6" ry="1.5" opacity="0.8" transform="rotate(155.2 310.9 139.4)"/>
<ellipse cx="311.5" cy="139.5" rx="10.6" ry="1.6" opacity="0.8" transform="rotate(221.4 311.5 139.5)"/>
<ellipse cx="306.3" cy="148.7" rx="18.5" ry="3.3" transform="rotate(-52 306.3 148.7)"/>
<ellipse cx="306.4" cy="149.2" rx="27.1" ry="1.5" opacity="0.8" transform="rotate(-50.3 306.4 149.2)"/>
<ellipse cx="305.5" cy="147.6" rx="26.3" ry="1.5" opacity="0.8" transform="rotate(-46.1 305.5 147.6)"/>
<ellipse cx="354.9" cy="140.3" rx="6.8" ry="4.2" transform="rotate(0 354.9 140.3)"/>
<ellipse cx="355.1" cy="141.9" rx="13.7" ry="1.7" opacity="0.8" transform="rotate(16.3 355.1 141.9)"/>
<ellipse cx="353.1" cy="138.8" rx="9.5" ry="1.8" opacity="0.8" transform="rotate(81.7 353.1 138.8)"/>
<ellipse cx="299.6" cy="168" rx="8.2" ry="5.7" transform="rotate(0 299.6 168)"/>
<ellipse cx="297.3" cy="165.8" rx="21.8" ry="2.5" opacity="0.8" transform="rotate(148.9 297.3 165.8)"/>
<ellipse cx="297.3" cy="167.2" rx="14.4" ry="1.6" opacity="0.8" transform="rotate(198.4 297.3 167.2)"/>
<ellipse cx="256" cy="132.8" rx="7.1" ry="3.6" transform="rotate(95 256 132.8)"/>
<ellipse cx="256" cy="133" rx="15.4" ry="1.6" opacity="0.8" transform="rotate(19.6 256 133)"/>
<ellipse cx="255.1" cy="133" rx="10.3" ry="1.3" opacity="0.8" transform="rotate(48.4 255.1 133)"/>
<ellipse cx="288.7" cy="124.7" rx="1.6" ry="1.3" transform="rotate(0 288.7 124.7)"/>
<ellipse cx="289" cy="124.9" rx="4.3" ry="0.6" opacity="0.8" transform="rotate(114.1 289 124.9)"/>
<ellipse cx="288.7" cy="124.9" rx="2.1" ry="0.6" opacity="0.8" transform="rotate(170 288.7 124.9)"/>
</g>
<g filter="url(#nuc)" opacity="1.0">
<ellipse cx="249.3" cy="50.7" rx="3.1" ry="1.8" fill="#3fb6e0" transform="rotate(173.7 249.3 50.7)"/>
<ellipse cx="250.2" cy="60.8" rx="3.9" ry="2.1" fill="#3fb6e0" transform="rotate(119.4 250.2 60.8)"/>
<ellipse cx="259.9" cy="75" rx="2" ry="1.4" fill="#3fb6e0" transform="rotate(51.9 259.9 75)"/>
<ellipse cx="231.8" cy="70.8" rx="2.1" ry="1.2" fill="#3848cc" transform="rotate(174.8 231.8 70.8)"/>
<ellipse cx="272.8" cy="89.2" rx="2" ry="1.5" fill="#3fb6e0" transform="rotate(16 272.8 89.2)"/>
<ellipse cx="281.2" cy="103.5" rx="2.9" ry="1.6" fill="#3fb6e0" transform="rotate(84.9 281.2 103.5)"/>
<ellipse cx="303.8" cy="54.9" rx="2.1" ry="1.6" fill="#3fb6e0" transform="rotate(72.7 303.8 54.9)"/>
<ellipse cx="330.6" cy="52.4" rx="1.6" ry="1.2" fill="#3848cc" transform="rotate(54.8 330.6 52.4)"/>
<ellipse cx="328.9" cy="59.9" rx="1.5" ry="1.4" fill="#3848cc" transform="rotate(122.4 328.9 59.9)"/>
<ellipse cx="332.3" cy="64.9" rx="1.9" ry="1.3" fill="#3848cc" transform="rotate(71 332.3 64.9)"/>
<ellipse cx="345.7" cy="60.8" rx="1.8" ry="1.2" fill="#3848cc" transform="rotate(72.8 345.7 60.8)"/>
<ellipse cx="353.2" cy="75.8" rx="3" ry="1.5" fill="#3fb6e0" transform="rotate(83.5 353.2 75.8)"/>
<ellipse cx="364.1" cy="78.3" rx="2.4" ry="1.5" fill="#3848cc" transform="rotate(3.9 364.1 78.3)"/>
<ellipse cx="306.3" cy="91.7" rx="2.8" ry="1.4" fill="#3fb6e0" transform="rotate(101.6 306.3 91.7)"/>
<ellipse cx="309.6" cy="101" rx="2.3" ry="1.5" fill="#3fb6e0" transform="rotate(32.6 309.6 101)"/>
<ellipse cx="318.9" cy="95.1" rx="2.2" ry="1.6" fill="#3fb6e0" transform="rotate(123.3 318.9 95.1)"/>
<ellipse cx="321.9" cy="111.3" rx="1.7" ry="0.9" fill="#8fe8ee" transform="rotate(117.4 321.9 111.3)"/>
<ellipse cx="369.1" cy="110.2" rx="2.5" ry="1.7" fill="#3fb6e0" transform="rotate(157.7 369.1 110.2)"/>
<ellipse cx="352.4" cy="106.8" rx="1.7" ry="1.4" fill="#3848cc" transform="rotate(124.4 352.4 106.8)"/>
<ellipse cx="330.6" cy="127.4" rx="2.6" ry="1.3" fill="#3fb6e0" transform="rotate(15.1 330.6 127.4)"/>
<ellipse cx="311.3" cy="139.5" rx="3.4" ry="2.8" fill="#8fe8ee" transform="rotate(170.3 311.3 139.5)"/>
<ellipse cx="354.9" cy="139.5" rx="6.1" ry="3.8" fill="#8fe8ee" transform="rotate(21.4 354.9 139.5)"/>
<ellipse cx="360.7" cy="142.8" rx="2.4" ry="1.6" fill="#3848cc" transform="rotate(145.7 360.7 142.8)"/>
<ellipse cx="308" cy="155.4" rx="2.9" ry="1.5" fill="#3fb6e0" transform="rotate(32.2 308 155.4)"/>
<ellipse cx="292.9" cy="163.8" rx="3.9" ry="2.5" fill="#3fb6e0" transform="rotate(160.6 292.9 163.8)"/>
<ellipse cx="300.4" cy="169.6" rx="5" ry="3.9" fill="#8fe8ee" transform="rotate(25.1 300.4 169.6)"/>
<ellipse cx="255.2" cy="131.1" rx="4.7" ry="2.9" fill="#3fb6e0" transform="rotate(60.8 255.2 131.1)"/>
<ellipse cx="256.9" cy="137.8" rx="2.2" ry="1.9" fill="#3fb6e0" transform="rotate(124.1 256.9 137.8)"/>
<ellipse cx="256" cy="152.9" rx="2.4" ry="1.4" fill="#3fb6e0" transform="rotate(50.2 256 152.9)"/>
<ellipse cx="232.6" cy="110.2" rx="2.2" ry="1.1" fill="#3848cc" transform="rotate(168.7 232.6 110.2)"/>
<ellipse cx="229.2" cy="121.1" rx="1.5" ry="1" fill="#3848cc" transform="rotate(20.2 229.2 121.1)"/>
<ellipse cx="233.4" cy="131.1" rx="2.4" ry="1.5" fill="#3848cc" transform="rotate(57.4 233.4 131.1)"/>
<ellipse cx="245.2" cy="135.3" rx="1.4" ry="1.2" fill="#3848cc" transform="rotate(159.8 245.2 135.3)"/>
<ellipse cx="241.8" cy="151.2" rx="1.1" ry="1" fill="#3848cc" transform="rotate(154.2 241.8 151.2)"/>
<ellipse cx="328.9" cy="151.2" rx="1.9" ry="1.3" fill="#3848cc" transform="rotate(144.8 328.9 151.2)"/>
<ellipse cx="339" cy="159.6" rx="1.5" ry="1" fill="#3848cc" transform="rotate(118.9 339 159.6)"/>
<ellipse cx="342.3" cy="171.3" rx="2.2" ry="1.4" fill="#3fb6e0" transform="rotate(60.2 342.3 171.3)"/>
<ellipse cx="323.9" cy="166.3" rx="2.1" ry="1.1" fill="#3848cc" transform="rotate(122.2 323.9 166.3)"/>
<ellipse cx="337.3" cy="125.2" rx="2.1" ry="1.1" fill="#3848cc" transform="rotate(9.8 337.3 125.2)"/>
<ellipse cx="364.1" cy="130.3" rx="1.5" ry="1" fill="#3848cc" transform="rotate(26.7 364.1 130.3)"/>
<ellipse cx="369.9" cy="122.7" rx="1.6" ry="1.2" fill="#3fb6e0" transform="rotate(66.6 369.9 122.7)"/>
<ellipse cx="265.3" cy="83.4" rx="1.5" ry="1.1" fill="#3848cc" transform="rotate(121.8 265.3 83.4)"/>
<ellipse cx="295.4" cy="87.6" rx="1.6" ry="0.9" fill="#3848cc" transform="rotate(119.3 295.4 87.6)"/>
<ellipse cx="320.5" cy="104.3" rx="1.8" ry="1" fill="#3848cc" transform="rotate(98.3 320.5 104.3)"/>
<ellipse cx="317.2" cy="119.4" rx="1.4" ry="1.1" fill="#3fb6e0" transform="rotate(132.3 317.2 119.4)"/>
<ellipse cx="302.1" cy="131.1" rx="1.5" ry="1.1" fill="#3fb6e0" transform="rotate(81.9 302.1 131.1)"/>
<ellipse cx="298.8" cy="151.2" rx="1.5" ry="1" fill="#3848cc" transform="rotate(8.9 298.8 151.2)"/>
<ellipse cx="265.3" cy="168" rx="1.6" ry="0.9" fill="#3848cc" transform="rotate(79 265.3 168)"/>
<ellipse cx="287" cy="65.8" rx="1.2" ry="0.7" fill="#3848cc" transform="rotate(127.9 287 65.8)"/>
<ellipse cx="368.3" cy="90.9" rx="1.6" ry="0.9" fill="#3848cc" transform="rotate(83.7 368.3 90.9)"/>
<ellipse cx="368.3" cy="157.9" rx="1.6" ry="1" fill="#3848cc" transform="rotate(10.5 368.3 157.9)"/>
</g>
</g>
<g clip-path="url(#ca2)">
<rect x="375.7" y="46.5" width="154.3" height="129.7" fill="#020503"/>
<g filter="url(#b5)">
<ellipse cx="443.4" cy="117.7" rx="31.8" ry="26.8" fill="#0e7a2c" opacity="0.2"/>
</g>
<g filter="url(#cell1)" fill="#0f7429" opacity="0.85">
<ellipse cx="418.2" cy="114.4" rx="10.7" ry="1.4" transform="rotate(95 418.2 114.4)"/>
<ellipse cx="418.6" cy="114.9" rx="13.5" ry="0.6" opacity="0.8" transform="rotate(105 418.6 114.9)"/>
<ellipse cx="418.6" cy="114.1" rx="15.8" ry="0.7" opacity="0.8" transform="rotate(103.7 418.6 114.1)"/>
<ellipse cx="475.5" cy="116" rx="2.7" ry="2.2" transform="rotate(90 475.5 116)"/>
<ellipse cx="474.9" cy="116.3" rx="5.6" ry="0.8" opacity="0.8" transform="rotate(55.9 474.9 116.3)"/>
<ellipse cx="475.9" cy="115.1" rx="3.9" ry="0.9" opacity="0.8" transform="rotate(84.4 475.9 115.1)"/>
<ellipse cx="460.1" cy="65.8" rx="6.8" ry="1.4" transform="rotate(-60 460.1 65.8)"/>
<ellipse cx="459.6" cy="65.9" rx="8.2" ry="0.6" opacity="0.8" transform="rotate(-64.5 459.6 65.9)"/>
<ellipse cx="460.4" cy="66.1" rx="10.1" ry="0.6" opacity="0.8" transform="rotate(-51 460.4 66.1)"/>
<ellipse cx="515.4" cy="124.4" rx="5.3" ry="2.9" transform="rotate(90 515.4 124.4)"/>
<ellipse cx="515.7" cy="125" rx="11" ry="1.1" opacity="0.8" transform="rotate(96.2 515.7 125)"/>
<ellipse cx="514.3" cy="123.3" rx="9.4" ry="0.9" opacity="0.8" transform="rotate(151.5 514.3 123.3)"/>
<ellipse cx="466.8" cy="140.3" rx="6" ry="1.7" transform="rotate(30 466.8 140.3)"/>
<ellipse cx="466.6" cy="140.6" rx="9" ry="0.6" opacity="0.8" transform="rotate(31.8 466.6 140.6)"/>
<ellipse cx="466.5" cy="140.4" rx="7.2" ry="0.8" opacity="0.8" transform="rotate(41 466.5 140.4)"/>
<ellipse cx="396.5" cy="142.8" rx="5.3" ry="1.5" transform="rotate(-30 396.5 142.8)"/>
<ellipse cx="397" cy="143" rx="7.3" ry="0.6" opacity="0.8" transform="rotate(-25.4 397 143)"/>
<ellipse cx="396.2" cy="142.9" rx="6.5" ry="0.6" opacity="0.8" transform="rotate(-24.2 396.2 142.9)"/>
<ellipse cx="405.7" cy="137" rx="3.4" ry="1.9" transform="rotate(0 405.7 137)"/>
<ellipse cx="405.6" cy="137.5" rx="7.7" ry="0.7" opacity="0.8" transform="rotate(44.5 405.6 137.5)"/>
<ellipse cx="405.8" cy="136.8" rx="5.1" ry="0.9" opacity="0.8" transform="rotate(92.6 405.8 136.8)"/>
<ellipse cx="448.4" cy="152.9" rx="7" ry="2" transform="rotate(50 448.4 152.9)"/>
<ellipse cx="448.1" cy="152.9" rx="9.6" ry="0.7" opacity="0.8" transform="rotate(61.6 448.1 152.9)"/>
<ellipse cx="448.2" cy="152.8" rx="8.8" ry="0.8" opacity="0.8" transform="rotate(51 448.2 152.8)"/>
<ellipse cx="416.6" cy="52.4" rx="4.3" ry="2.3" transform="rotate(0 416.6 52.4)"/>
<ellipse cx="416.2" cy="53.3" rx="10.9" ry="0.8" opacity="0.8" transform="rotate(73.9 416.2 53.3)"/>
<ellipse cx="416.4" cy="53.1" rx="6.3" ry="0.7" opacity="0.8" transform="rotate(106.9 416.4 53.1)"/>
<ellipse cx="441.7" cy="62.4" rx="6.8" ry="1.1" transform="rotate(45 441.7 62.4)"/>
<ellipse cx="442.1" cy="62.1" rx="10" ry="0.6" opacity="0.8" transform="rotate(41.4 442.1 62.1)"/>
<ellipse cx="441.5" cy="62.6" rx="9.8" ry="0.6" opacity="0.8" transform="rotate(43.5 441.5 62.6)"/>
<ellipse cx="465.7" cy="54.1" rx="5.9" ry="1" transform="rotate(8.8 465.7 54.1)"/>
<ellipse cx="465.5" cy="54.3" rx="7.5" ry="0.6" opacity="0.8" transform="rotate(14.9 465.5 54.3)"/>
<ellipse cx="465.7" cy="53.9" rx="7.9" ry="0.6" opacity="0.8" transform="rotate(18.5 465.7 53.9)"/>
<ellipse cx="379.3" cy="75.1" rx="5.6" ry="1.3" transform="rotate(-24.7 379.3 75.1)"/>
<ellipse cx="379.7" cy="75" rx="8.1" ry="0.6" opacity="0.8" transform="rotate(-11.5 379.7 75)"/>
<ellipse cx="379.8" cy="75.4" rx="7" ry="0.6" opacity="0.8" transform="rotate(-11.8 379.8 75.4)"/>
<ellipse cx="407.8" cy="82.6" rx="9.1" ry="1.4" transform="rotate(-16.3 407.8 82.6)"/>
<ellipse cx="407.6" cy="83" rx="13.2" ry="0.6" opacity="0.8" transform="rotate(-6.1 407.6 83)"/>
<ellipse cx="407.7" cy="82.6" rx="11" ry="0.6" opacity="0.8" transform="rotate(-27.9 407.7 82.6)"/>
<ellipse cx="430.8" cy="85" rx="4.7" ry="1" transform="rotate(-35.5 430.8 85)"/>
<ellipse cx="430.6" cy="85.3" rx="6.5" ry="0.6" opacity="0.8" transform="rotate(-40.6 430.6 85.3)"/>
<ellipse cx="430.8" cy="85.4" rx="6.1" ry="0.6" opacity="0.8" transform="rotate(-32.7 430.8 85.4)"/>
<ellipse cx="396.1" cy="98.1" rx="5.5" ry="1" transform="rotate(7.4 396.1 98.1)"/>
<ellipse cx="395.7" cy="98" rx="7.8" ry="0.6" opacity="0.8" transform="rotate(-3.9 395.7 98)"/>
<ellipse cx="396.1" cy="98.5" rx="7.7" ry="0.6" opacity="0.8" transform="rotate(12.3 396.1 98.5)"/>
<ellipse cx="408.6" cy="90.3" rx="5.2" ry="1.1" transform="rotate(7 408.6 90.3)"/>
<ellipse cx="409" cy="90.7" rx="8" ry="0.6" opacity="0.8" transform="rotate(11.5 409 90.7)"/>
<ellipse cx="408.9" cy="90.1" rx="7.7" ry="0.6" opacity="0.8" transform="rotate(3.8 408.9 90.1)"/>
<ellipse cx="449.9" cy="84.7" rx="9.5" ry="1" transform="rotate(-5.2 449.9 84.7)"/>
<ellipse cx="450.1" cy="84.3" rx="14.1" ry="0.6" opacity="0.8" transform="rotate(-16.1 450.1 84.3)"/>
<ellipse cx="449.9" cy="84.4" rx="13.9" ry="0.6" opacity="0.8" transform="rotate(1.2 449.9 84.4)"/>
<ellipse cx="439.6" cy="108.1" rx="5.7" ry="1.3" transform="rotate(13.5 439.6 108.1)"/>
<ellipse cx="440" cy="107.9" rx="7.9" ry="0.6" opacity="0.8" transform="rotate(26.8 440 107.9)"/>
<ellipse cx="440.1" cy="108.6" rx="7.2" ry="0.6" opacity="0.8" transform="rotate(2.6 440.1 108.6)"/>
<ellipse cx="471.6" cy="98.1" rx="6.8" ry="0.8" transform="rotate(79.4 471.6 98.1)"/>
<ellipse cx="471.6" cy="97.9" rx="8.7" ry="0.6" opacity="0.8" transform="rotate(69.2 471.6 97.9)"/>
<ellipse cx="471.6" cy="98.1" rx="8.9" ry="0.6" opacity="0.8" transform="rotate(92.5 471.6 98.1)"/>
<ellipse cx="474.8" cy="92" rx="9.7" ry="1.5" transform="rotate(22.2 474.8 92)"/>
<ellipse cx="475.2" cy="92.5" rx="11.7" ry="0.7" opacity="0.8" transform="rotate(13.8 475.2 92.5)"/>
<ellipse cx="474.3" cy="92.1" rx="12.5" ry="0.7" opacity="0.8" transform="rotate(9.1 474.3 92.1)"/>
<ellipse cx="510" cy="75.6" rx="9.5" ry="1.5" transform="rotate(-70.7 510 75.6)"/>
<ellipse cx="510" cy="75.3" rx="12.5" ry="0.6" opacity="0.8" transform="rotate(-84 510 75.3)"/>
<ellipse cx="510.5" cy="75.9" rx="14.1" ry="0.6" opacity="0.8" transform="rotate(-82.9 510.5 75.9)"/>
<ellipse cx="483.2" cy="105.3" rx="5.9" ry="1.5" transform="rotate(-46.1 483.2 105.3)"/>
<ellipse cx="483.1" cy="105.3" rx="7.5" ry="0.6" opacity="0.8" transform="rotate(-43.1 483.1 105.3)"/>
<ellipse cx="483.8" cy="105.3" rx="7.4" ry="0.7" opacity="0.8" transform="rotate(-51.2 483.8 105.3)"/>
<ellipse cx="494.1" cy="111.8" rx="6.1" ry="1.7" transform="rotate(-3.1 494.1 111.8)"/>
<ellipse cx="494.1" cy="112.3" rx="8.4" ry="0.6" opacity="0.8" transform="rotate(6 494.1 112.3)"/>
<ellipse cx="494.4" cy="111.1" rx="7.5" ry="0.7" opacity="0.8" transform="rotate(1.2 494.4 111.1)"/>
<ellipse cx="490.2" cy="133.3" rx="9.7" ry="1.5" transform="rotate(-41.9 490.2 133.3)"/>
<ellipse cx="490.6" cy="133.5" rx="14.8" ry="0.6" opacity="0.8" transform="rotate(-36.7 490.6 133.5)"/>
<ellipse cx="490.1" cy="132.8" rx="12.8" ry="0.7" opacity="0.8" transform="rotate(-45.3 490.1 132.8)"/>
<ellipse cx="464.1" cy="133.6" rx="9.9" ry="1.3" transform="rotate(45.5 464.1 133.6)"/>
<ellipse cx="464.6" cy="133.2" rx="14" ry="0.6" opacity="0.8" transform="rotate(41.2 464.6 133.2)"/>
<ellipse cx="464.6" cy="134" rx="12.7" ry="0.6" opacity="0.8" transform="rotate(35.3 464.6 134)"/>
<ellipse cx="453.6" cy="138.8" rx="6.8" ry="1.1" transform="rotate(36.7 453.6 138.8)"/>
<ellipse cx="453.9" cy="138.9" rx="9.4" ry="0.6" opacity="0.8" transform="rotate(47.1 453.9 138.9)"/>
<ellipse cx="453.4" cy="138.7" rx="8.1" ry="0.6" opacity="0.8" transform="rotate(32.9 453.4 138.7)"/>
<ellipse cx="425" cy="144.2" rx="5.9" ry="1" transform="rotate(-2.8 425 144.2)"/>
<ellipse cx="424.6" cy="144.1" rx="7.4" ry="0.6" opacity="0.8" transform="rotate(-11.3 424.6 144.1)"/>
<ellipse cx="424.7" cy="143.8" rx="7.1" ry="0.6" opacity="0.8" transform="rotate(-1.3 424.7 143.8)"/>
<ellipse cx="416.4" cy="152" rx="10.2" ry="1.5" transform="rotate(21.3 416.4 152)"/>
<ellipse cx="416.2" cy="152.1" rx="12.4" ry="0.7" opacity="0.8" transform="rotate(18.2 416.2 152.1)"/>
<ellipse cx="415.8" cy="152.5" rx="13.1" ry="0.6" opacity="0.8" transform="rotate(24.6 415.8 152.5)"/>
<ellipse cx="458.7" cy="155.7" rx="5.5" ry="1.1" transform="rotate(-19.4 458.7 155.7)"/>
<ellipse cx="459.1" cy="155.7" rx="8.3" ry="0.6" opacity="0.8" transform="rotate(-7.6 459.1 155.7)"/>
<ellipse cx="458.9" cy="156.1" rx="7.7" ry="0.6" opacity="0.8" transform="rotate(-22.6 458.9 156.1)"/>
<ellipse cx="512" cy="166.1" rx="7" ry="1.1" transform="rotate(24.8 512 166.1)"/>
<ellipse cx="511.8" cy="166.3" rx="9.1" ry="0.6" opacity="0.8" transform="rotate(38.3 511.8 166.3)"/>
<ellipse cx="511.6" cy="166.3" rx="10.7" ry="0.6" opacity="0.8" transform="rotate(24.8 511.6 166.3)"/>
</g>
<g filter="url(#cell2)" fill="#1aa641" opacity="0.95">
<ellipse cx="403.2" cy="63.3" rx="3.8" ry="2" transform="rotate(-50 403.2 63.3)"/>
<ellipse cx="403.3" cy="62.5" rx="8.9" ry="0.9" opacity="0.8" transform="rotate(13.8 403.3 62.5)"/>
<ellipse cx="403.7" cy="62.8" rx="5.9" ry="0.9" opacity="0.8" transform="rotate(71.7 403.7 62.8)"/>
<ellipse cx="387.2" cy="62.4" rx="4.3" ry="1.1" transform="rotate(80 387.2 62.4)"/>
<ellipse cx="387.3" cy="62.4" rx="5.8" ry="0.6" opacity="0.8" transform="rotate(67.2 387.3 62.4)"/>
<ellipse cx="387.2" cy="62" rx="5.4" ry="0.6" opacity="0.8" transform="rotate(93 387.2 62)"/>
<ellipse cx="393.9" cy="64.1" rx="1.6" ry="1.3" transform="rotate(90 393.9 64.1)"/>
<ellipse cx="393.9" cy="63.7" rx="4.2" ry="0.6" opacity="0.8" transform="rotate(73 393.9 63.7)"/>
<ellipse cx="394.1" cy="64.5" rx="2.6" ry="0.6" opacity="0.8" transform="rotate(115.5 394.1 64.5)"/>
<ellipse cx="399.8" cy="84.2" rx="2" ry="1.6" transform="rotate(90 399.8 84.2)"/>
<ellipse cx="400.1" cy="84.4" rx="4.7" ry="0.6" opacity="0.8" transform="rotate(65.8 400.1 84.4)"/>
<ellipse cx="399.4" cy="84" rx="2.7" ry="0.7" opacity="0.8" transform="rotate(126.1 399.4 84)"/>
<ellipse cx="420.7" cy="69.1" rx="5.1" ry="1.5" transform="rotate(40 420.7 69.1)"/>
<ellipse cx="420.1" cy="69.7" rx="7.7" ry="0.6" opacity="0.8" transform="rotate(53.6 420.1 69.7)"/>
<ellipse cx="420.7" cy="69.5" rx="7.2" ry="0.6" opacity="0.8" transform="rotate(38.6 420.7 69.5)"/>
<ellipse cx="389.8" cy="102.6" rx="7.7" ry="1.5" transform="rotate(10 389.8 102.6)"/>
<ellipse cx="390" cy="103.1" rx="10.1" ry="0.6" opacity="0.8" transform="rotate(6.6 390 103.1)"/>
<ellipse cx="390.2" cy="102.4" rx="9.5" ry="0.6" opacity="0.8" transform="rotate(15.5 390.2 102.4)"/>
<ellipse cx="402.3" cy="119.4" rx="4.4" ry="3" transform="rotate(0 402.3 119.4)"/>
<ellipse cx="401.1" cy="119.2" rx="10.8" ry="1.3" opacity="0.8" transform="rotate(171.7 401.1 119.2)"/>
<ellipse cx="401.2" cy="119.4" rx="6.8" ry="1.3" opacity="0.8" transform="rotate(219.9 401.2 119.4)"/>
<ellipse cx="449.2" cy="92.9" rx="3.4" ry="1.9" transform="rotate(0 449.2 92.9)"/>
<ellipse cx="448.9" cy="92.6" rx="8.6" ry="0.6" opacity="0.8" transform="rotate(54.1 448.9 92.6)"/>
<ellipse cx="449.3" cy="92.6" rx="5.3" ry="0.6" opacity="0.8" transform="rotate(83.2 449.3 92.6)"/>
<ellipse cx="428.3" cy="105.1" rx="3.2" ry="2.6" transform="rotate(90 428.3 105.1)"/>
<ellipse cx="427.6" cy="104.5" rx="8.3" ry="1.1" opacity="0.8" transform="rotate(39.3 427.6 104.5)"/>
<ellipse cx="429.2" cy="105" rx="4.6" ry="0.8" opacity="0.8" transform="rotate(92 429.2 105)"/>
<ellipse cx="440" cy="117.7" rx="3.6" ry="2.3" transform="rotate(0 440 117.7)"/>
<ellipse cx="439.4" cy="118.2" rx="10" ry="1" opacity="0.8" transform="rotate(80.8 439.4 118.2)"/>
<ellipse cx="440.8" cy="118.5" rx="5.9" ry="1" opacity="0.8" transform="rotate(148 440.8 118.5)"/>
<ellipse cx="453.4" cy="105.1" rx="3.6" ry="1.5" transform="rotate(0 453.4 105.1)"/>
<ellipse cx="453.1" cy="105.5" rx="5.1" ry="0.6" opacity="0.8" transform="rotate(-2.6 453.1 105.5)"/>
<ellipse cx="453.7" cy="105.7" rx="4.8" ry="0.6" opacity="0.8" transform="rotate(-6.7 453.7 105.7)"/>
<ellipse cx="482.7" cy="114.4" rx="6.2" ry="1.5" transform="rotate(70 482.7 114.4)"/>
<ellipse cx="482.5" cy="113.9" rx="9.2" ry="0.7" opacity="0.8" transform="rotate(70.3 482.5 113.9)"/>
<ellipse cx="483" cy="114.7" rx="8.1" ry="0.6" opacity="0.8" transform="rotate(62.6 483 114.7)"/>
<ellipse cx="482.7" cy="91.7" rx="3.6" ry="2" transform="rotate(0 482.7 91.7)"/>
<ellipse cx="483.4" cy="92.1" rx="8.4" ry="0.9" opacity="0.8" transform="rotate(35 483.4 92.1)"/>
<ellipse cx="482.7" cy="91.2" rx="5.6" ry="0.7" opacity="0.8" transform="rotate(71.5 482.7 91.2)"/>
<ellipse cx="455.9" cy="73.3" rx="5.5" ry="1.4" transform="rotate(90 455.9 73.3)"/>
<ellipse cx="456.5" cy="73" rx="6.7" ry="0.6" opacity="0.8" transform="rotate(80.5 456.5 73)"/>
<ellipse cx="456.5" cy="73.8" rx="6.6" ry="0.6" opacity="0.8" transform="rotate(86.3 456.5 73.8)"/>
<ellipse cx="471.8" cy="64.9" rx="2.6" ry="0.8" transform="rotate(-50 471.8 64.9)"/>
<ellipse cx="471.8" cy="65" rx="3.6" ry="0.6" opacity="0.8" transform="rotate(-54.9 471.8 65)"/>
<ellipse cx="472" cy="65.1" rx="3.5" ry="0.6" opacity="0.8" transform="rotate(-48.5 472 65.1)"/>
<ellipse cx="500.3" cy="81.7" rx="8.5" ry="0.8" transform="rotate(-65 500.3 81.7)"/>
<ellipse cx="500" cy="81.8" rx="10.3" ry="0.6" opacity="0.8" transform="rotate(-62.9 500 81.8)"/>
<ellipse cx="500.1" cy="82" rx="12.3" ry="0.6" opacity="0.8" transform="rotate(-61.7 500.1 82)"/>
<ellipse cx="519.6" cy="114.4" rx="3.4" ry="0.9" transform="rotate(-30 519.6 114.4)"/>
<ellipse cx="519.6" cy="114.5" rx="4.8" ry="0.6" opacity="0.8" transform="rotate(-42.2 519.6 114.5)"/>
<ellipse cx="519.9" cy="114.5" rx="4.9" ry="0.6" opacity="0.8" transform="rotate(-36.4 519.9 114.5)"/>
<ellipse cx="423.3" cy="144" rx="2.6" ry="1.5" transform="rotate(0 423.3 144)"/>
<ellipse cx="423.3" cy="143.9" rx="5.9" ry="0.6" opacity="0.8" transform="rotate(41.1 423.3 143.9)"/>
<ellipse cx="422.9" cy="143.7" rx="4" ry="0.6" opacity="0.8" transform="rotate(107.1 422.9 143.7)"/>
<ellipse cx="417.4" cy="156.2" rx="5.3" ry="1.5" transform="rotate(60 417.4 156.2)"/>
<ellipse cx="418" cy="156.3" rx="8.1" ry="0.6" opacity="0.8" transform="rotate(72.7 418 156.3)"/>
<ellipse cx="417.1" cy="156" rx="7.3" ry="0.6" opacity="0.8" transform="rotate(71.9 417.1 156)"/>
<ellipse cx="425.8" cy="154.6" rx="1.6" ry="1.3" transform="rotate(90 425.8 154.6)"/>
<ellipse cx="425.7" cy="154.3" rx="4" ry="0.6" opacity="0.8" transform="rotate(84.9 425.7 154.3)"/>
<ellipse cx="426.2" cy="154.3" rx="2.8" ry="0.6" opacity="0.8" transform="rotate(153.9 426.2 154.3)"/>
<ellipse cx="379.7" cy="168.8" rx="1.7" ry="1.1" transform="rotate(30 379.7 168.8)"/>
<ellipse cx="379.4" cy="168.6" rx="4.1" ry="0.6" opacity="0.8" transform="rotate(79.1 379.4 168.6)"/>
<ellipse cx="379.3" cy="169.1" rx="2.5" ry="0.6" opacity="0.8" transform="rotate(105.1 379.3 169.1)"/>
<ellipse cx="468.5" cy="158.2" rx="3.4" ry="2.3" transform="rotate(0 468.5 158.2)"/>
<ellipse cx="468.2" cy="158.4" rx="7.7" ry="0.9" opacity="0.8" transform="rotate(128.6 468.2 158.4)"/>
<ellipse cx="468.5" cy="158.2" rx="4.5" ry="0.9" opacity="0.8" transform="rotate(170 468.5 158.2)"/>
<ellipse cx="473.5" cy="164.9" rx="5.3" ry="3.2" transform="rotate(0 473.5 164.9)"/>
<ellipse cx="472.4" cy="165.3" rx="14.9" ry="1.4" opacity="0.8" transform="rotate(82.3 472.4 165.3)"/>
<ellipse cx="473.4" cy="164.4" rx="7.1" ry="1.1" opacity="0.8" transform="rotate(118.9 473.4 164.4)"/>
<ellipse cx="480.2" cy="159.6" rx="3.6" ry="1.5" transform="rotate(0 480.2 159.6)"/>
<ellipse cx="480.1" cy="159.7" rx="4.4" ry="0.6" opacity="0.8" transform="rotate(-6 480.1 159.7)"/>
<ellipse cx="479.7" cy="159.3" rx="4.3" ry="0.7" opacity="0.8" transform="rotate(5.5 479.7 159.3)"/>
<ellipse cx="476.9" cy="144.5" rx="2.7" ry="2.2" transform="rotate(90 476.9 144.5)"/>
<ellipse cx="476.3" cy="143.9" rx="7.3" ry="0.9" opacity="0.8" transform="rotate(59.5 476.3 143.9)"/>
<ellipse cx="476.9" cy="143.9" rx="3.5" ry="1" opacity="0.8" transform="rotate(98.1 476.9 143.9)"/>
<ellipse cx="482.7" cy="148.2" rx="3.4" ry="1.1" transform="rotate(-40 482.7 148.2)"/>
<ellipse cx="482.9" cy="147.8" rx="4.6" ry="0.6" opacity="0.8" transform="rotate(-29.8 482.9 147.8)"/>
<ellipse cx="483" cy="148" rx="5.2" ry="0.6" opacity="0.8" transform="rotate(-49.8 483 148)"/>
<ellipse cx="496.1" cy="138.6" rx="5.3" ry="0.9" transform="rotate(-40 496.1 138.6)"/>
<ellipse cx="496" cy="138.8" rx="6.3" ry="0.6" opacity="0.8" transform="rotate(-44.1 496 138.8)"/>
<ellipse cx="495.8" cy="138.7" rx="6.7" ry="0.6" opacity="0.8" transform="rotate(-35.6 495.8 138.7)"/>
<ellipse cx="505.3" cy="141.2" rx="3.6" ry="0.8" transform="rotate(-50 505.3 141.2)"/>
<ellipse cx="505.2" cy="141.1" rx="4.8" ry="0.6" opacity="0.8" transform="rotate(-47.8 505.2 141.1)"/>
<ellipse cx="505.6" cy="141.3" rx="4.3" ry="0.6" opacity="0.8" transform="rotate(-44.7 505.6 141.3)"/>
<ellipse cx="491.9" cy="168.8" rx="4.6" ry="1.1" transform="rotate(90 491.9 168.8)"/>
<ellipse cx="491.7" cy="169.1" rx="6.7" ry="0.6" opacity="0.8" transform="rotate(80.6 491.7 169.1)"/>
<ellipse cx="492.1" cy="168.7" rx="7" ry="0.6" opacity="0.8" transform="rotate(80 492.1 168.7)"/>
<ellipse cx="441.7" cy="168" rx="4.4" ry="0.9" transform="rotate(-40 441.7 168)"/>
<ellipse cx="441.5" cy="168" rx="6.1" ry="0.6" opacity="0.8" transform="rotate(-27.5 441.5 168)"/>
<ellipse cx="441.4" cy="167.8" rx="5.7" ry="0.6" opacity="0.8" transform="rotate(-42.5 441.4 167.8)"/>
<ellipse cx="440" cy="173.8" rx="3.4" ry="0.9" transform="rotate(0 440 173.8)"/>
<ellipse cx="440.2" cy="174.1" rx="4.4" ry="0.6" opacity="0.8" transform="rotate(9.7 440.2 174.1)"/>
<ellipse cx="439.9" cy="173.7" rx="5" ry="0.6" opacity="0.8" transform="rotate(-7.9 439.9 173.7)"/>
<ellipse cx="429.1" cy="171.3" rx="1.4" ry="1.2" transform="rotate(90 429.1 171.3)"/>
<ellipse cx="429" cy="171.5" rx="3.1" ry="0.6" opacity="0.8" transform="rotate(93.6 429 171.5)"/>
<ellipse cx="429" cy="171.3" rx="1.9" ry="0.6" opacity="0.8" transform="rotate(130.4 429 171.3)"/>
<ellipse cx="383.9" cy="48.2" rx="2.6" ry="1.2" transform="rotate(0 383.9 48.2)"/>
<ellipse cx="384.2" cy="47.9" rx="5.9" ry="0.6" opacity="0.8" transform="rotate(38.4 384.2 47.9)"/>
<ellipse cx="384.4" cy="48.6" rx="4.2" ry="0.6" opacity="0.8" transform="rotate(100.5 384.4 48.6)"/>
<ellipse cx="414" cy="48.2" rx="2.6" ry="1.2" transform="rotate(0 414 48.2)"/>
<ellipse cx="413.9" cy="47.9" rx="6.6" ry="0.6" opacity="0.8" transform="rotate(143.7 413.9 47.9)"/>
<ellipse cx="413.8" cy="48.1" rx="3.8" ry="0.6" opacity="0.8" transform="rotate(202.6 413.8 48.1)"/>
<ellipse cx="430.1" cy="58.7" rx="4.4" ry="1" transform="rotate(36.3 430.1 58.7)"/>
<ellipse cx="430.4" cy="58.5" rx="6" ry="0.6" opacity="0.8" transform="rotate(48.7 430.4 58.5)"/>
<ellipse cx="430" cy="58.8" rx="5.4" ry="0.6" opacity="0.8" transform="rotate(41 430 58.8)"/>
<ellipse cx="395.8" cy="78.3" rx="5.2" ry="1.6" transform="rotate(-65.2 395.8 78.3)"/>
<ellipse cx="395.2" cy="78.3" rx="7.6" ry="0.7" opacity="0.8" transform="rotate(-59.2 395.2 78.3)"/>
<ellipse cx="395.7" cy="78" rx="6.6" ry="0.6" opacity="0.8" transform="rotate(-71.5 395.7 78)"/>
<ellipse cx="423.2" cy="79.7" rx="8" ry="1.5" transform="rotate(10.2 423.2 79.7)"/>
<ellipse cx="423.5" cy="79.2" rx="11.8" ry="0.6" opacity="0.8" transform="rotate(21.9 423.5 79.2)"/>
<ellipse cx="423.2" cy="79.1" rx="10.7" ry="0.6" opacity="0.8" transform="rotate(1.1 423.2 79.1)"/>
<ellipse cx="412.2" cy="116.5" rx="8.9" ry="1" transform="rotate(-29.5 412.2 116.5)"/>
<ellipse cx="412.4" cy="116.1" rx="11.3" ry="0.6" opacity="0.8" transform="rotate(-33 412.4 116.1)"/>
<ellipse cx="412.6" cy="116.7" rx="13.5" ry="0.6" opacity="0.8" transform="rotate(-24.7 412.6 116.7)"/>
<ellipse cx="431.6" cy="122.8" rx="10.2" ry="1.2" transform="rotate(-72.5 431.6 122.8)"/>
<ellipse cx="431.7" cy="123.2" rx="12.3" ry="0.6" opacity="0.8" transform="rotate(-72.2 431.7 123.2)"/>
<ellipse cx="431.4" cy="123" rx="13.9" ry="0.6" opacity="0.8" transform="rotate(-63 431.4 123)"/>
<ellipse cx="464.8" cy="106.2" rx="4.3" ry="1.4" transform="rotate(-18.2 464.8 106.2)"/>
<ellipse cx="465.3" cy="106.3" rx="6.3" ry="0.6" opacity="0.8" transform="rotate(-15.2 465.3 106.3)"/>
<ellipse cx="464.3" cy="106.1" rx="6.4" ry="0.6" opacity="0.8" transform="rotate(-7.2 464.3 106.1)"/>
<ellipse cx="473.6" cy="118" rx="6.9" ry="1.2" transform="rotate(18.8 473.6 118)"/>
<ellipse cx="473.5" cy="118.2" rx="10.2" ry="0.6" opacity="0.8" transform="rotate(24.8 473.5 118.2)"/>
<ellipse cx="473.6" cy="117.8" rx="8.2" ry="0.6" opacity="0.8" transform="rotate(24.4 473.6 117.8)"/>
<ellipse cx="503.1" cy="54.3" rx="7.5" ry="1.5" transform="rotate(-25 503.1 54.3)"/>
<ellipse cx="503.3" cy="54.9" rx="9.1" ry="0.6" opacity="0.8" transform="rotate(-28.4 503.3 54.9)"/>
<ellipse cx="503" cy="53.8" rx="9.5" ry="0.7" opacity="0.8" transform="rotate(-11.3 503 53.8)"/>
<ellipse cx="509" cy="106.3" rx="7.2" ry="0.8" transform="rotate(13.3 509 106.3)"/>
<ellipse cx="508.7" cy="106.2" rx="9.9" ry="0.6" opacity="0.8" transform="rotate(4.1 508.7 106.2)"/>
<ellipse cx="509" cy="106.6" rx="10" ry="0.6" opacity="0.8" transform="rotate(5.3 509 106.6)"/>
<ellipse cx="490.7" cy="118.9" rx="6.3" ry="1.3" transform="rotate(-44.8 490.7 118.9)"/>
<ellipse cx="490.3" cy="119.1" rx="7.7" ry="0.6" opacity="0.8" transform="rotate(-50.6 490.3 119.1)"/>
<ellipse cx="490.3" cy="118.8" rx="8" ry="0.6" opacity="0.8" transform="rotate(-32.5 490.3 118.8)"/>
<ellipse cx="425.1" cy="135.4" rx="6.7" ry="1.1" transform="rotate(-12.6 425.1 135.4)"/>
<ellipse cx="425" cy="135.7" rx="8" ry="0.6" opacity="0.8" transform="rotate(-25.9 425 135.7)"/>
<ellipse cx="425.3" cy="135.5" rx="10.1" ry="0.6" opacity="0.8" transform="rotate(-20.7 425.3 135.5)"/>
</g>
<g filter="url(#cell3)" fill="#35d160" opacity="1.0">
<ellipse cx="460.1" cy="53.2" rx="4.7" ry="2" transform="rotate(0 460.1 53.2)"/>
<ellipse cx="459.5" cy="52.7" rx="6" ry="0.7" opacity="0.8" transform="rotate(5.1 459.5 52.7)"/>
<ellipse cx="459.3" cy="53.6" rx="6.5" ry="0.7" opacity="0.8" transform="rotate(9 459.3 53.6)"/>
<ellipse cx="432.5" cy="57.4" rx="4.3" ry="1.5" transform="rotate(60 432.5 57.4)"/>
<ellipse cx="432.4" cy="57.4" rx="5.6" ry="0.7" opacity="0.8" transform="rotate(67.6 432.4 57.4)"/>
<ellipse cx="432.1" cy="57.8" rx="5.4" ry="0.6" opacity="0.8" transform="rotate(68.6 432.1 57.8)"/>
<ellipse cx="384.7" cy="76.7" rx="3" ry="1.9" transform="rotate(0 384.7 76.7)"/>
<ellipse cx="384.3" cy="76.3" rx="6.4" ry="0.6" opacity="0.8" transform="rotate(46.9 384.3 76.3)"/>
<ellipse cx="384.9" cy="77.1" rx="5.2" ry="0.8" opacity="0.8" transform="rotate(98.9 384.9 77.1)"/>
<ellipse cx="399" cy="73.3" rx="1.8" ry="1.4" transform="rotate(90 399 73.3)"/>
<ellipse cx="398.4" cy="73.4" rx="4" ry="0.6" opacity="0.8" transform="rotate(108.1 398.4 73.4)"/>
<ellipse cx="399.2" cy="73.2" rx="2.6" ry="0.6" opacity="0.8" transform="rotate(165.1 399.2 73.2)"/>
<ellipse cx="413.2" cy="86.7" rx="3.6" ry="2.4" transform="rotate(-40 413.2 86.7)"/>
<ellipse cx="413.2" cy="87.4" rx="9.3" ry="0.8" opacity="0.8" transform="rotate(134.9 413.2 87.4)"/>
<ellipse cx="412.5" cy="86.4" rx="6.3" ry="0.8" opacity="0.8" transform="rotate(164.9 412.5 86.4)"/>
<ellipse cx="420.7" cy="84.2" rx="2.6" ry="1.9" transform="rotate(0 420.7 84.2)"/>
<ellipse cx="420.1" cy="84" rx="5.9" ry="0.6" opacity="0.8" transform="rotate(46.9 420.1 84)"/>
<ellipse cx="420.6" cy="84.8" rx="4.3" ry="0.9" opacity="0.8" transform="rotate(76.9 420.6 84.8)"/>
<ellipse cx="431.6" cy="81.7" rx="5.1" ry="1.4" transform="rotate(70 431.6 81.7)"/>
<ellipse cx="431.9" cy="81.7" rx="6.9" ry="0.6" opacity="0.8" transform="rotate(71.8 431.9 81.7)"/>
<ellipse cx="432" cy="81.7" rx="7.4" ry="0.6" opacity="0.8" transform="rotate(67.5 432 81.7)"/>
<ellipse cx="399" cy="95.1" rx="3.1" ry="2.3" transform="rotate(0 399 95.1)"/>
<ellipse cx="399.5" cy="95.6" rx="6.5" ry="1.1" opacity="0.8" transform="rotate(114.4 399.5 95.6)"/>
<ellipse cx="398.2" cy="94.5" rx="5.1" ry="0.7" opacity="0.8" transform="rotate(149.5 398.2 94.5)"/>
<ellipse cx="409" cy="93.4" rx="3.7" ry="2.2" transform="rotate(90 409 93.4)"/>
<ellipse cx="408.4" cy="93.2" rx="10.2" ry="1" opacity="0.8" transform="rotate(101.8 408.4 93.2)"/>
<ellipse cx="409.2" cy="94.2" rx="5.2" ry="0.6" opacity="0.8" transform="rotate(137.9 409.2 94.2)"/>
<ellipse cx="409" cy="121.4" rx="2.6" ry="1.5" transform="rotate(0 409 121.4)"/>
<ellipse cx="409.6" cy="120.9" rx="6" ry="0.6" opacity="0.8" transform="rotate(56.4 409.6 120.9)"/>
<ellipse cx="409" cy="121.6" rx="4" ry="0.7" opacity="0.8" transform="rotate(122.8 409 121.6)"/>
<ellipse cx="446.7" cy="85.9" rx="5.3" ry="3.9" transform="rotate(0 446.7 85.9)"/>
<ellipse cx="446.2" cy="85" rx="10.9" ry="1.5" opacity="0.8" transform="rotate(148.3 446.2 85)"/>
<ellipse cx="445.9" cy="87" rx="8.6" ry="1.5" opacity="0.8" transform="rotate(180.7 445.9 87)"/>
<ellipse cx="440" cy="103.5" rx="4.4" ry="2.7" transform="rotate(0 440 103.5)"/>
<ellipse cx="440" cy="104.4" rx="10.4" ry="0.9" opacity="0.8" transform="rotate(164.4 440 104.4)"/>
<ellipse cx="440.6" cy="103.1" rx="6.7" ry="1" opacity="0.8" transform="rotate(197.3 440.6 103.1)"/>
<ellipse cx="430.8" cy="118.5" rx="5.3" ry="2" transform="rotate(-50 430.8 118.5)"/>
<ellipse cx="430.7" cy="119.1" rx="6.8" ry="0.6" opacity="0.8" transform="rotate(-59.1 430.7 119.1)"/>
<ellipse cx="430.6" cy="118.4" rx="7.1" ry="0.6" opacity="0.8" transform="rotate(-38.1 430.6 118.4)"/>
<ellipse cx="470.2" cy="103.5" rx="6.2" ry="2.7" transform="rotate(0 470.2 103.5)"/>
<ellipse cx="471.2" cy="102.7" rx="9.1" ry="0.8" opacity="0.8" transform="rotate(11.5 471.2 102.7)"/>
<ellipse cx="469.9" cy="103.7" rx="7.3" ry="1" opacity="0.8" transform="rotate(-4.5 469.9 103.7)"/>
<ellipse cx="460.1" cy="111.8" rx="5.3" ry="2.3" transform="rotate(-20 460.1 111.8)"/>
<ellipse cx="459.6" cy="111.7" rx="7" ry="0.7" opacity="0.8" transform="rotate(-17.5 459.6 111.7)"/>
<ellipse cx="460.2" cy="111.8" rx="7.9" ry="1" opacity="0.8" transform="rotate(-31.5 460.2 111.8)"/>
<ellipse cx="469.3" cy="114.4" rx="4.4" ry="3" transform="rotate(0 469.3 114.4)"/>
<ellipse cx="469.6" cy="114" rx="9.2" ry="1.3" opacity="0.8" transform="rotate(20.9 469.6 114)"/>
<ellipse cx="468.6" cy="115.1" rx="6.7" ry="1.4" opacity="0.8" transform="rotate(86.9 468.6 115.1)"/>
<ellipse cx="472.7" cy="87.6" rx="2.7" ry="2" transform="rotate(0 472.7 87.6)"/>
<ellipse cx="473.2" cy="88.4" rx="6.2" ry="0.7" opacity="0.8" transform="rotate(92.9 473.2 88.4)"/>
<ellipse cx="473.4" cy="87.4" rx="3.6" ry="0.6" opacity="0.8" transform="rotate(132.4 473.4 87.4)"/>
<ellipse cx="502.8" cy="57.4" rx="1.8" ry="1.4" transform="rotate(90 502.8 57.4)"/>
<ellipse cx="503.4" cy="58" rx="4.8" ry="0.6" opacity="0.8" transform="rotate(130.6 503.4 58)"/>
<ellipse cx="502.6" cy="56.9" rx="2.9" ry="0.6" opacity="0.8" transform="rotate(162.1 502.6 56.9)"/>
<ellipse cx="507.8" cy="76.7" rx="3.2" ry="1.4" transform="rotate(90 507.8 76.7)"/>
<ellipse cx="507.7" cy="76.3" rx="4.5" ry="0.6" opacity="0.8" transform="rotate(95.1 507.7 76.3)"/>
<ellipse cx="508.2" cy="76.6" rx="3.9" ry="0.6" opacity="0.8" transform="rotate(99.9 508.2 76.6)"/>
<ellipse cx="502.8" cy="102.6" rx="3.2" ry="2.2" transform="rotate(90 502.8 102.6)"/>
<ellipse cx="502.5" cy="102.5" rx="6.4" ry="0.9" opacity="0.8" transform="rotate(8.5 502.5 102.5)"/>
<ellipse cx="502.2" cy="102" rx="4.7" ry="0.8" opacity="0.8" transform="rotate(37.8 502.2 102)"/>
<ellipse cx="487.7" cy="106.8" rx="2.8" ry="1.9" transform="rotate(90 487.7 106.8)"/>
<ellipse cx="487.3" cy="107.5" rx="6.6" ry="0.9" opacity="0.8" transform="rotate(72.9 487.3 107.5)"/>
<ellipse cx="488" cy="106.3" rx="4.1" ry="0.7" opacity="0.8" transform="rotate(110.5 488 106.3)"/>
<ellipse cx="492.3" cy="106" rx="3.2" ry="1.4" transform="rotate(90 492.3 106)"/>
<ellipse cx="492.2" cy="105.5" rx="4.5" ry="0.6" opacity="0.8" transform="rotate(86.1 492.2 105.5)"/>
<ellipse cx="492.5" cy="106.2" rx="4.7" ry="0.7" opacity="0.8" transform="rotate(93.2 492.5 106.2)"/>
<ellipse cx="490.3" cy="116" rx="3.2" ry="1.4" transform="rotate(90 490.3 116)"/>
<ellipse cx="490.5" cy="116.1" rx="4" ry="0.6" opacity="0.8" transform="rotate(93.8 490.5 116.1)"/>
<ellipse cx="490.1" cy="115.6" rx="4.9" ry="0.6" opacity="0.8" transform="rotate(83.4 490.1 115.6)"/>
<ellipse cx="489.4" cy="127.8" rx="2.3" ry="1.9" transform="rotate(90 489.4 127.8)"/>
<ellipse cx="490" cy="127.7" rx="4.6" ry="0.8" opacity="0.8" transform="rotate(112 490 127.7)"/>
<ellipse cx="489.9" cy="127.4" rx="3.1" ry="0.7" opacity="0.8" transform="rotate(146.5 489.9 127.4)"/>
<ellipse cx="461.8" cy="131.1" rx="8.1" ry="2.7" transform="rotate(30 461.8 131.1)"/>
<ellipse cx="461.8" cy="130.3" rx="11.4" ry="1.1" opacity="0.8" transform="rotate(26.2 461.8 130.3)"/>
<ellipse cx="460.9" cy="131" rx="11.5" ry="1" opacity="0.8" transform="rotate(43.3 460.9 131)"/>
<ellipse cx="450.9" cy="137" rx="3.6" ry="2" transform="rotate(0 450.9 137)"/>
<ellipse cx="451.7" cy="136.7" rx="9.9" ry="0.6" opacity="0.8" transform="rotate(116.7 451.7 136.7)"/>
<ellipse cx="450.7" cy="136.7" rx="4.9" ry="0.6" opacity="0.8" transform="rotate(166.2 450.7 136.7)"/>
<ellipse cx="419.1" cy="131.1" rx="2.6" ry="1.9" transform="rotate(0 419.1 131.1)"/>
<ellipse cx="418.7" cy="131" rx="5.3" ry="0.9" opacity="0.8" transform="rotate(142.5 418.7 131)"/>
<ellipse cx="419.2" cy="131" rx="3.8" ry="0.6" opacity="0.8" transform="rotate(203.6 419.2 131)"/>
<ellipse cx="429.1" cy="142" rx="3.6" ry="2" transform="rotate(0 429.1 142)"/>
<ellipse cx="429" cy="141.9" rx="9.3" ry="0.6" opacity="0.8" transform="rotate(6.7 429 141.9)"/>
<ellipse cx="429.5" cy="141.7" rx="4.8" ry="0.9" opacity="0.8" transform="rotate(75.9 429.5 141.7)"/>
<ellipse cx="411.5" cy="150.4" rx="4.4" ry="2.7" transform="rotate(0 411.5 150.4)"/>
<ellipse cx="410.9" cy="150" rx="11.6" ry="0.9" opacity="0.8" transform="rotate(19.9 410.9 150)"/>
<ellipse cx="412.5" cy="150.9" rx="6.1" ry="1.2" opacity="0.8" transform="rotate(69.5 412.5 150.9)"/>
<ellipse cx="461.8" cy="155.4" rx="6.2" ry="3.2" transform="rotate(0 461.8 155.4)"/>
<ellipse cx="462.2" cy="155.8" rx="16.3" ry="1.4" opacity="0.8" transform="rotate(102.4 462.2 155.8)"/>
<ellipse cx="462.3" cy="155.8" rx="8.3" ry="1.4" opacity="0.8" transform="rotate(132.5 462.3 155.8)"/>
<ellipse cx="511.2" cy="169.6" rx="2.6" ry="1.9" transform="rotate(0 511.2 169.6)"/>
<ellipse cx="511.1" cy="169.4" rx="6.2" ry="0.8" opacity="0.8" transform="rotate(76.7 511.1 169.4)"/>
<ellipse cx="511.4" cy="170.3" rx="3.6" ry="0.8" opacity="0.8" transform="rotate(144.4 511.4 170.3)"/>
</g>
<g filter="url(#nuc)" opacity="1.0">
<ellipse cx="403.2" cy="61.6" rx="1.9" ry="1.6" fill="#3848cc" transform="rotate(30.5 403.2 61.6)"/>
<ellipse cx="399.8" cy="84.2" rx="2.4" ry="1.5" fill="#3fb6e0" transform="rotate(69.2 399.8 84.2)"/>
<ellipse cx="380.5" cy="83.4" rx="1.8" ry="1.2" fill="#3848cc" transform="rotate(7.8 380.5 83.4)"/>
<ellipse cx="414" cy="85.9" rx="2.2" ry="1.5" fill="#3fb6e0" transform="rotate(93.5 414 85.9)"/>
<ellipse cx="399" cy="95.1" rx="2.5" ry="1.5" fill="#3fb6e0" transform="rotate(67.9 399 95.1)"/>
<ellipse cx="383.9" cy="97.6" rx="1.5" ry="1" fill="#3848cc" transform="rotate(145.8 383.9 97.6)"/>
<ellipse cx="383.9" cy="113.5" rx="2.1" ry="1.3" fill="#8fe8ee" transform="rotate(79.5 383.9 113.5)"/>
<ellipse cx="401.5" cy="117.7" rx="2.6" ry="1.5" fill="#3848cc" transform="rotate(95.5 401.5 117.7)"/>
<ellipse cx="380.5" cy="124.4" rx="1.4" ry="1.2" fill="#3848cc" transform="rotate(113.4 380.5 124.4)"/>
<ellipse cx="453.4" cy="93.4" rx="2.3" ry="1.3" fill="#3848cc" transform="rotate(16.6 453.4 93.4)"/>
<ellipse cx="479.4" cy="108.5" rx="2" ry="1.5" fill="#3848cc" transform="rotate(91.8 479.4 108.5)"/>
<ellipse cx="472.7" cy="87.2" rx="2.2" ry="1.3" fill="#3fb6e0" transform="rotate(71.7 472.7 87.2)"/>
<ellipse cx="480.2" cy="92.6" rx="2.1" ry="1" fill="#3848cc" transform="rotate(37.3 480.2 92.6)"/>
<ellipse cx="455.1" cy="69.5" rx="2" ry="1.3" fill="#3848cc" transform="rotate(77.9 455.1 69.5)"/>
<ellipse cx="482.7" cy="66.6" rx="1.8" ry="1.1" fill="#2b38a6" transform="rotate(120.4 482.7 66.6)"/>
<ellipse cx="502.8" cy="57.1" rx="1.8" ry="1.1" fill="#3fb6e0" transform="rotate(115.1 502.8 57.1)"/>
<ellipse cx="503.3" cy="102.3" rx="2.5" ry="2" fill="#8fe8ee" transform="rotate(80.5 503.3 102.3)"/>
<ellipse cx="505.3" cy="105.1" rx="1.6" ry="1.1" fill="#3848cc" transform="rotate(123 505.3 105.1)"/>
<ellipse cx="489.4" cy="127.8" rx="1.6" ry="1.2" fill="#3fb6e0" transform="rotate(108.1 489.4 127.8)"/>
<ellipse cx="515.4" cy="121.1" rx="2.1" ry="1.2" fill="#3848cc" transform="rotate(96.1 515.4 121.1)"/>
<ellipse cx="517.1" cy="127.8" rx="2.1" ry="1.2" fill="#3848cc" transform="rotate(71.7 517.1 127.8)"/>
<ellipse cx="509.5" cy="131.9" rx="2.1" ry="1.3" fill="#3848cc" transform="rotate(31 509.5 131.9)"/>
<ellipse cx="459.3" cy="138.6" rx="1.7" ry="1.6" fill="#3848cc" transform="rotate(158.9 459.3 138.6)"/>
<ellipse cx="429.1" cy="142" rx="1.8" ry="1.2" fill="#3fb6e0" transform="rotate(123.2 429.1 142)"/>
<ellipse cx="393.1" cy="155.4" rx="2.1" ry="1" fill="#3848cc" transform="rotate(80.6 393.1 155.4)"/>
<ellipse cx="390.6" cy="151.2" rx="1.6" ry="0.9" fill="#3848cc" transform="rotate(74.7 390.6 151.2)"/>
<ellipse cx="376.4" cy="146.2" rx="1.7" ry="1.4" fill="#3fb6e0" transform="rotate(41.4 376.4 146.2)"/>
<ellipse cx="458.4" cy="161.3" rx="1.5" ry="1.2" fill="#3848cc" transform="rotate(27 458.4 161.3)"/>
<ellipse cx="471.8" cy="162.1" rx="1.4" ry="1" fill="#3848cc" transform="rotate(75.2 471.8 162.1)"/>
<ellipse cx="500.3" cy="160.4" rx="2.5" ry="2" fill="#3848cc" transform="rotate(74.6 500.3 160.4)"/>
<ellipse cx="503.7" cy="155.4" rx="1.5" ry="1" fill="#3848cc" transform="rotate(53.5 503.7 155.4)"/>
<ellipse cx="511.2" cy="169.6" rx="1.9" ry="1" fill="#3fb6e0" transform="rotate(83.7 511.2 169.6)"/>
<ellipse cx="527.9" cy="172.1" rx="2" ry="1.3" fill="#3848cc" transform="rotate(83.2 527.9 172.1)"/>
<ellipse cx="414.9" cy="174.7" rx="1.8" ry="1" fill="#3848cc" transform="rotate(40.8 414.9 174.7)"/>
<ellipse cx="527.9" cy="144.5" rx="1.2" ry="0.9" fill="#3848cc" transform="rotate(142.2 527.9 144.5)"/>
<ellipse cx="378" cy="51.5" rx="1.4" ry="1.1" fill="#3848cc" transform="rotate(174.1 378 51.5)"/>
<ellipse cx="464.3" cy="112.7" rx="1.8" ry="1" fill="#3fb6e0" transform="rotate(1.4 464.3 112.7)"/>
<ellipse cx="421.6" cy="144.5" rx="1.1" ry="0.8" fill="#3848cc" transform="rotate(116.8 421.6 144.5)"/>
<ellipse cx="442.5" cy="153.7" rx="1.4" ry="1" fill="#3848cc" transform="rotate(126.9 442.5 153.7)"/>
<ellipse cx="411.5" cy="161.3" rx="1.6" ry="0.9" fill="#3848cc" transform="rotate(85.5 411.5 161.3)"/>
</g>
</g>
<g clip-path="url(#ca3)">
<rect x="534.5" y="46.5" width="153.8" height="129.7" fill="#020406"/>
<g filter="url(#cell1)" fill="#0f7429" opacity="0.85">
<ellipse cx="574.7" cy="168.8" rx="3.7" ry="2.5" transform="rotate(0 574.7 168.8)"/>
<ellipse cx="574.6" cy="168.5" rx="9.5" ry="1.2" opacity="0.8" transform="rotate(162.4 574.6 168.5)"/>
<ellipse cx="573.9" cy="168.2" rx="6" ry="0.7" opacity="0.8" transform="rotate(211.5 573.9 168.2)"/>
<ellipse cx="573.9" cy="106" rx="7.1" ry="0.9" transform="rotate(-65 573.9 106)"/>
<ellipse cx="574" cy="105.6" rx="10" ry="0.6" opacity="0.8" transform="rotate(-76.4 574 105.6)"/>
<ellipse cx="574.2" cy="106.3" rx="9.4" ry="0.6" opacity="0.8" transform="rotate(-72.7 574.2 106.3)"/>
<ellipse cx="552.1" cy="116" rx="5.7" ry="1.5" transform="rotate(60 552.1 116)"/>
<ellipse cx="551.6" cy="115.8" rx="8.6" ry="0.6" opacity="0.8" transform="rotate(63.9 551.6 115.8)"/>
<ellipse cx="551.5" cy="115.9" rx="7.2" ry="0.6" opacity="0.8" transform="rotate(50.8 551.5 115.9)"/>
<ellipse cx="615.8" cy="90.1" rx="8.5" ry="0.7" transform="rotate(30 615.8 90.1)"/>
<ellipse cx="616" cy="89.9" rx="11" ry="0.6" opacity="0.8" transform="rotate(37.5 616 89.9)"/>
<ellipse cx="615.8" cy="90.1" rx="12.5" ry="0.6" opacity="0.8" transform="rotate(20 615.8 90.1)"/>
<ellipse cx="597.3" cy="122.7" rx="5.7" ry="0.6" transform="rotate(15 597.3 122.7)"/>
<ellipse cx="597.5" cy="122.6" rx="8.2" ry="0.6" opacity="0.8" transform="rotate(11.8 597.5 122.6)"/>
<ellipse cx="597.4" cy="122.5" rx="7.2" ry="0.6" opacity="0.8" transform="rotate(1.9 597.4 122.5)"/>
<ellipse cx="578.9" cy="122.7" rx="4.3" ry="0.9" transform="rotate(-70 578.9 122.7)"/>
<ellipse cx="579" cy="122.6" rx="5.2" ry="0.6" opacity="0.8" transform="rotate(-66.4 579 122.6)"/>
<ellipse cx="579.2" cy="122.4" rx="6.3" ry="0.6" opacity="0.8" transform="rotate(-73.1 579.2 122.4)"/>
<ellipse cx="604.9" cy="147.9" rx="5.7" ry="0.6" transform="rotate(85 604.9 147.9)"/>
<ellipse cx="604.6" cy="148" rx="8.6" ry="0.6" opacity="0.8" transform="rotate(94 604.6 148)"/>
<ellipse cx="604.7" cy="148" rx="8" ry="0.6" opacity="0.8" transform="rotate(93 604.7 148)"/>
<ellipse cx="630.8" cy="136.1" rx="5.7" ry="0.6" transform="rotate(55 630.8 136.1)"/>
<ellipse cx="630.8" cy="136.2" rx="8" ry="0.6" opacity="0.8" transform="rotate(49 630.8 136.2)"/>
<ellipse cx="630.8" cy="136.2" rx="6.8" ry="0.6" opacity="0.8" transform="rotate(65 630.8 136.2)"/>
<ellipse cx="666" cy="130.3" rx="3.6" ry="0.6" transform="rotate(45 666 130.3)"/>
<ellipse cx="665.9" cy="130.3" rx="4.7" ry="0.6" opacity="0.8" transform="rotate(53.6 665.9 130.3)"/>
<ellipse cx="666.2" cy="130.5" rx="4.7" ry="0.6" opacity="0.8" transform="rotate(50 666.2 130.5)"/>
<ellipse cx="599" cy="102.6" rx="3.6" ry="1.2" transform="rotate(50 599 102.6)"/>
<ellipse cx="598.7" cy="102.5" rx="4.7" ry="0.6" opacity="0.8" transform="rotate(46.9 598.7 102.5)"/>
<ellipse cx="599.2" cy="103.1" rx="4.4" ry="0.6" opacity="0.8" transform="rotate(57.2 599.2 103.1)"/>
<ellipse cx="644.2" cy="119.4" rx="4.3" ry="0.7" transform="rotate(90 644.2 119.4)"/>
<ellipse cx="644.2" cy="119.5" rx="5.9" ry="0.6" opacity="0.8" transform="rotate(92.6 644.2 119.5)"/>
<ellipse cx="643.9" cy="119.3" rx="6.5" ry="0.6" opacity="0.8" transform="rotate(102.7 643.9 119.3)"/>
<ellipse cx="556.3" cy="104.3" rx="2.8" ry="1.4" transform="rotate(0 556.3 104.3)"/>
<ellipse cx="556.1" cy="104.8" rx="6.6" ry="0.6" opacity="0.8" transform="rotate(77.6 556.1 104.8)"/>
<ellipse cx="556.5" cy="103.8" rx="4.5" ry="0.6" opacity="0.8" transform="rotate(109.8 556.5 103.8)"/>
<ellipse cx="635.9" cy="88.4" rx="1.4" ry="1" transform="rotate(0 635.9 88.4)"/>
<ellipse cx="636" cy="88.4" rx="3.2" ry="0.6" opacity="0.8" transform="rotate(44.4 636 88.4)"/>
<ellipse cx="635.7" cy="88.2" rx="2.1" ry="0.6" opacity="0.8" transform="rotate(77.4 635.7 88.2)"/>
<ellipse cx="605.7" cy="168" rx="4.3" ry="0.6" transform="rotate(90 605.7 168)"/>
<ellipse cx="605.9" cy="167.7" rx="5.5" ry="0.6" opacity="0.8" transform="rotate(87.6 605.9 167.7)"/>
<ellipse cx="605.8" cy="168.1" rx="5.6" ry="0.6" opacity="0.8" transform="rotate(99.1 605.8 168.1)"/>
<ellipse cx="598.2" cy="162.9" rx="3.6" ry="0.7" transform="rotate(-20 598.2 162.9)"/>
<ellipse cx="598.4" cy="162.9" rx="4.6" ry="0.6" opacity="0.8" transform="rotate(-29.4 598.4 162.9)"/>
<ellipse cx="598" cy="163" rx="5.3" ry="0.6" opacity="0.8" transform="rotate(-26.2 598 163)"/>
<ellipse cx="562.2" cy="86.7" rx="3.6" ry="0.7" transform="rotate(60 562.2 86.7)"/>
<ellipse cx="561.9" cy="87" rx="4.4" ry="0.6" opacity="0.8" transform="rotate(56 561.9 87)"/>
<ellipse cx="562.2" cy="86.6" rx="4.6" ry="0.6" opacity="0.8" transform="rotate(65.9 562.2 86.6)"/>
<ellipse cx="630.8" cy="119.4" rx="2.8" ry="2.4" transform="rotate(0 630.8 119.4)"/>
<ellipse cx="631.7" cy="120.4" rx="6.4" ry="1.1" opacity="0.8" transform="rotate(14.3 631.7 120.4)"/>
<ellipse cx="631.8" cy="119.2" rx="4.1" ry="1" opacity="0.8" transform="rotate(39.3 631.8 119.2)"/>
</g>
<g filter="url(#cell2)" fill="#1aa641" opacity="0.95">
<ellipse cx="639.2" cy="103.5" rx="2.8" ry="2.2" transform="rotate(0 639.2 103.5)"/>
<ellipse cx="639.2" cy="103.8" rx="7.1" ry="0.6" opacity="0.8" transform="rotate(37.7 639.2 103.8)"/>
<ellipse cx="640.1" cy="104.1" rx="4.6" ry="0.7" opacity="0.8" transform="rotate(103.8 640.1 104.1)"/>
<ellipse cx="600.7" cy="113.5" rx="2.1" ry="1.6" transform="rotate(0 600.7 113.5)"/>
<ellipse cx="600.5" cy="113.1" rx="4.9" ry="0.6" opacity="0.8" transform="rotate(45.8 600.5 113.1)"/>
<ellipse cx="600.4" cy="113.8" rx="3.7" ry="0.7" opacity="0.8" transform="rotate(83.9 600.4 113.8)"/>
<ellipse cx="666" cy="88.4" rx="1.4" ry="1" transform="rotate(0 666 88.4)"/>
<ellipse cx="665.7" cy="88.1" rx="3.8" ry="0.6" opacity="0.8" transform="rotate(20 665.7 88.1)"/>
<ellipse cx="665.7" cy="88.5" rx="1.9" ry="0.6" opacity="0.8" transform="rotate(78.2 665.7 88.5)"/>
<ellipse cx="683.6" cy="156.2" rx="2.8" ry="0.7" transform="rotate(60 683.6 156.2)"/>
<ellipse cx="683.3" cy="156.3" rx="4.2" ry="0.6" opacity="0.8" transform="rotate(52.8 683.3 156.3)"/>
<ellipse cx="683.5" cy="156.4" rx="3.7" ry="0.6" opacity="0.8" transform="rotate(46.2 683.5 156.4)"/>
<ellipse cx="610.7" cy="79.5" rx="1.9" ry="1.2" transform="rotate(0 610.7 79.5)"/>
<ellipse cx="610.7" cy="79.4" rx="4.9" ry="0.6" opacity="0.8" transform="rotate(3.1 610.7 79.4)"/>
<ellipse cx="610.6" cy="79.7" rx="2.9" ry="0.6" opacity="0.8" transform="rotate(29.5 610.6 79.7)"/>
<ellipse cx="625" cy="116.9" rx="1.9" ry="1.4" transform="rotate(0 625 116.9)"/>
<ellipse cx="625.1" cy="117.2" rx="4.8" ry="0.6" opacity="0.8" transform="rotate(108.3 625.1 117.2)"/>
<ellipse cx="624.4" cy="117.3" rx="2.6" ry="0.6" opacity="0.8" transform="rotate(164.1 624.4 117.3)"/>
<ellipse cx="658.5" cy="167.1" rx="2.1" ry="1" transform="rotate(0 658.5 167.1)"/>
<ellipse cx="658.8" cy="167.4" rx="3.1" ry="0.6" opacity="0.8" transform="rotate(12.2 658.8 167.4)"/>
<ellipse cx="658.8" cy="167.1" rx="2.9" ry="0.6" opacity="0.8" transform="rotate(-2 658.8 167.1)"/>
<ellipse cx="675.2" cy="145.3" rx="2.1" ry="1.4" transform="rotate(0 675.2 145.3)"/>
<ellipse cx="675" cy="145.1" rx="4.9" ry="0.6" opacity="0.8" transform="rotate(2.4 675 145.1)"/>
<ellipse cx="675" cy="145.8" rx="3.4" ry="0.6" opacity="0.8" transform="rotate(56.3 675 145.8)"/>
<ellipse cx="678.6" cy="73.8" rx="1.1" ry="0.8" transform="rotate(0 678.6 73.8)"/>
<ellipse cx="678.7" cy="73.5" rx="2.7" ry="0.6" opacity="0.8" transform="rotate(85 678.7 73.5)"/>
<ellipse cx="678.7" cy="74" rx="1.8" ry="0.6" opacity="0.8" transform="rotate(146.2 678.7 74)"/>
<ellipse cx="544.6" cy="172.1" rx="1.3" ry="1" transform="rotate(0 544.6 172.1)"/>
<ellipse cx="544.5" cy="172" rx="2.6" ry="0.6" opacity="0.8" transform="rotate(101.8 544.5 172)"/>
<ellipse cx="544.9" cy="171.8" rx="2.1" ry="0.6" opacity="0.8" transform="rotate(157.3 544.9 171.8)"/>
<ellipse cx="663.5" cy="101" rx="1.6" ry="1.1" transform="rotate(90 663.5 101)"/>
<ellipse cx="663.2" cy="100.8" rx="3.7" ry="0.6" opacity="0.8" transform="rotate(119.3 663.2 100.8)"/>
<ellipse cx="663.2" cy="100.6" rx="2.3" ry="0.6" opacity="0.8" transform="rotate(186.8 663.2 100.6)"/>
<ellipse cx="594.8" cy="71.6" rx="1.3" ry="1" transform="rotate(0 594.8 71.6)"/>
<ellipse cx="594.6" cy="71.8" rx="3.5" ry="0.6" opacity="0.8" transform="rotate(155.8 594.6 71.8)"/>
<ellipse cx="595.2" cy="71.6" rx="2" ry="0.6" opacity="0.8" transform="rotate(203.7 595.2 71.6)"/>
</g>
<g filter="url(#cell3)" fill="#35d160" opacity="1.0">
<ellipse cx="572.2" cy="142" rx="3.7" ry="2.2" transform="rotate(90 572.2 142)"/>
<ellipse cx="572" cy="141.2" rx="9.5" ry="0.7" opacity="0.8" transform="rotate(68 572 141.2)"/>
<ellipse cx="572.4" cy="142.8" rx="5.1" ry="0.8" opacity="0.8" transform="rotate(109 572.4 142.8)"/>
<ellipse cx="593.1" cy="153.7" rx="1.8" ry="1.2" transform="rotate(0 593.1 153.7)"/>
<ellipse cx="593.3" cy="153.4" rx="5" ry="0.6" opacity="0.8" transform="rotate(20.2 593.3 153.4)"/>
<ellipse cx="593.5" cy="154" rx="2.4" ry="0.6" opacity="0.8" transform="rotate(67.8 593.5 154)"/>
<ellipse cx="645.9" cy="149.9" rx="3" ry="1.9" transform="rotate(0 645.9 149.9)"/>
<ellipse cx="646.2" cy="150.1" rx="6.3" ry="0.6" opacity="0.8" transform="rotate(17.7 646.2 150.1)"/>
<ellipse cx="646.4" cy="149.1" rx="4.8" ry="0.6" opacity="0.8" transform="rotate(80.7 646.4 149.1)"/>
</g>
<g filter="url(#nuc)" opacity="1.0">
<ellipse cx="538.7" cy="57.4" rx="2.4" ry="1.3" fill="#3848cc" transform="rotate(129.4 538.7 57.4)"/>
<ellipse cx="547.9" cy="50.7" rx="2.6" ry="1.4" fill="#3848cc" transform="rotate(14 547.9 50.7)"/>
<ellipse cx="596.5" cy="62.1" rx="2" ry="1.1" fill="#3848cc" transform="rotate(68.8 596.5 62.1)"/>
<ellipse cx="674.4" cy="60.8" rx="3.1" ry="1.9" fill="#3848cc" transform="rotate(21.4 674.4 60.8)"/>
<ellipse cx="537.9" cy="78.3" rx="1.3" ry="1" fill="#3848cc" transform="rotate(149.1 537.9 78.3)"/>
<ellipse cx="572.2" cy="76.7" rx="1.1" ry="0.9" fill="#2b38a6" transform="rotate(19.3 572.2 76.7)"/>
<ellipse cx="589.8" cy="85" rx="1.9" ry="1.6" fill="#3848cc" transform="rotate(33 589.8 85)"/>
<ellipse cx="594.8" cy="71.6" rx="1.6" ry="1.2" fill="#3fb6e0" transform="rotate(130.1 594.8 71.6)"/>
<ellipse cx="611.1" cy="79.2" rx="1.8" ry="1.4" fill="#3fb6e0" transform="rotate(103.1 611.1 79.2)"/>
<ellipse cx="623.3" cy="83.4" rx="2.2" ry="1.2" fill="#3848cc" transform="rotate(66.4 623.3 83.4)"/>
<ellipse cx="625.8" cy="75.8" rx="1.6" ry="1.2" fill="#3848cc" transform="rotate(111.3 625.8 75.8)"/>
<ellipse cx="634.2" cy="84.2" rx="1.9" ry="1.2" fill="#3848cc" transform="rotate(50.6 634.2 84.2)"/>
<ellipse cx="640.9" cy="75.8" rx="1.8" ry="1.7" fill="#3848cc" transform="rotate(159.6 640.9 75.8)"/>
<ellipse cx="644.2" cy="89.2" rx="2.8" ry="1.6" fill="#3848cc" transform="rotate(127.5 644.2 89.2)"/>
<ellipse cx="686.1" cy="85.9" rx="1.7" ry="1.3" fill="#3848cc" transform="rotate(26.2 686.1 85.9)"/>
<ellipse cx="678.6" cy="73.8" rx="1.2" ry="0.8" fill="#3fb6e0" transform="rotate(18 678.6 73.8)"/>
<ellipse cx="563.8" cy="91.7" rx="2.3" ry="1.1" fill="#3848cc" transform="rotate(146.3 563.8 91.7)"/>
<ellipse cx="554.6" cy="95.9" rx="1.9" ry="1" fill="#3848cc" transform="rotate(87.3 554.6 95.9)"/>
<ellipse cx="569.7" cy="101" rx="2.7" ry="1.7" fill="#3848cc" transform="rotate(101.4 569.7 101)"/>
<ellipse cx="596.5" cy="90.9" rx="2.4" ry="1.5" fill="#3848cc" transform="rotate(52.5 596.5 90.9)"/>
<ellipse cx="535.4" cy="101.8" rx="1.5" ry="1" fill="#3848cc" transform="rotate(70.9 535.4 101.8)"/>
<ellipse cx="663.5" cy="101" rx="2" ry="1.1" fill="#3fb6e0" transform="rotate(134.9 663.5 101)"/>
<ellipse cx="686.9" cy="98.4" rx="1.2" ry="1" fill="#3848cc" transform="rotate(8 686.9 98.4)"/>
<ellipse cx="639.2" cy="103.5" rx="2.3" ry="1.6" fill="#3fb6e0" transform="rotate(97.8 639.2 103.5)"/>
<ellipse cx="600.7" cy="113.5" rx="2" ry="1.3" fill="#3fb6e0" transform="rotate(41.2 600.7 113.5)"/>
<ellipse cx="625" cy="116.9" rx="2.2" ry="1.6" fill="#8fe8ee" transform="rotate(116.3 625 116.9)"/>
<ellipse cx="623.3" cy="124.4" rx="2.4" ry="1.7" fill="#3848cc" transform="rotate(59.5 623.3 124.4)"/>
<ellipse cx="590.6" cy="120.7" rx="2" ry="1.4" fill="#3848cc" transform="rotate(59 590.6 120.7)"/>
<ellipse cx="608.2" cy="124.1" rx="2.3" ry="1.6" fill="#3848cc" transform="rotate(96.6 608.2 124.1)"/>
<ellipse cx="604" cy="119.4" rx="1.9" ry="0.9" fill="#3848cc" transform="rotate(165.5 604 119.4)"/>
<ellipse cx="641.7" cy="126.9" rx="1.6" ry="1.2" fill="#3848cc" transform="rotate(147 641.7 126.9)"/>
<ellipse cx="647.6" cy="119.4" rx="1.1" ry="1" fill="#3848cc" transform="rotate(156.8 647.6 119.4)"/>
<ellipse cx="681.1" cy="122.7" rx="2.6" ry="1.5" fill="#3848cc" transform="rotate(62.2 681.1 122.7)"/>
<ellipse cx="676.1" cy="126.1" rx="1.8" ry="1.3" fill="#3848cc" transform="rotate(12 676.1 126.1)"/>
<ellipse cx="552.9" cy="121.1" rx="1.3" ry="1.3" fill="#2b38a6" transform="rotate(112.8 552.9 121.1)"/>
<ellipse cx="601.5" cy="132.8" rx="2.1" ry="1.7" fill="#3848cc" transform="rotate(52 601.5 132.8)"/>
<ellipse cx="577.2" cy="126.1" rx="2" ry="1.1" fill="#3848cc" transform="rotate(130.4 577.2 126.1)"/>
<ellipse cx="573" cy="116.9" rx="1.9" ry="1.1" fill="#3848cc" transform="rotate(45.4 573 116.9)"/>
<ellipse cx="622.5" cy="136.1" rx="1.9" ry="1.2" fill="#3848cc" transform="rotate(106.9 622.5 136.1)"/>
<ellipse cx="632.5" cy="143.7" rx="1.8" ry="1.4" fill="#3848cc" transform="rotate(75.7 632.5 143.7)"/>
<ellipse cx="547.1" cy="146.2" rx="1.6" ry="1.4" fill="#3848cc" transform="rotate(161.1 547.1 146.2)"/>
<ellipse cx="559.6" cy="145.3" rx="1.9" ry="1.2" fill="#3848cc" transform="rotate(156.9 559.6 145.3)"/>
<ellipse cx="550.4" cy="147.9" rx="1.8" ry="0.8" fill="#3848cc" transform="rotate(87.8 550.4 147.9)"/>
<ellipse cx="675.2" cy="145.3" rx="1.3" ry="1.1" fill="#3fb6e0" transform="rotate(43.5 675.2 145.3)"/>
<ellipse cx="663.5" cy="148.7" rx="1.7" ry="1.2" fill="#3848cc" transform="rotate(155 663.5 148.7)"/>
<ellipse cx="627.5" cy="153.7" rx="1.7" ry="1.1" fill="#3848cc" transform="rotate(179.8 627.5 153.7)"/>
<ellipse cx="640" cy="154.6" rx="2" ry="1.2" fill="#3848cc" transform="rotate(20.2 640 154.6)"/>
<ellipse cx="645.1" cy="150.4" rx="1.5" ry="1.5" fill="#8fe8ee" transform="rotate(95.3 645.1 150.4)"/>
<ellipse cx="605.7" cy="156.2" rx="1.8" ry="1.1" fill="#3848cc" transform="rotate(135.2 605.7 156.2)"/>
<ellipse cx="675.2" cy="157.9" rx="2.2" ry="1.2" fill="#3848cc" transform="rotate(44.3 675.2 157.9)"/>
<ellipse cx="684.4" cy="158.7" rx="1.4" ry="1.1" fill="#3848cc" transform="rotate(143 684.4 158.7)"/>
<ellipse cx="652.6" cy="162.1" rx="2.2" ry="1.3" fill="#3848cc" transform="rotate(85.8 652.6 162.1)"/>
<ellipse cx="643.4" cy="158.7" rx="1.3" ry="1.1" fill="#3848cc" transform="rotate(117.7 643.4 158.7)"/>
<ellipse cx="577.2" cy="163.8" rx="1.9" ry="1.4" fill="#3848cc" transform="rotate(176.3 577.2 163.8)"/>
<ellipse cx="579.7" cy="167.1" rx="1.8" ry="0.9" fill="#3848cc" transform="rotate(51.7 579.7 167.1)"/>
<ellipse cx="587.3" cy="165.4" rx="1.6" ry="1.1" fill="#3848cc" transform="rotate(51.2 587.3 165.4)"/>
<ellipse cx="553.8" cy="164.6" rx="1.8" ry="1" fill="#3848cc" transform="rotate(137.7 553.8 164.6)"/>
<ellipse cx="544.6" cy="172.1" rx="1.2" ry="0.9" fill="#3fb6e0" transform="rotate(4 544.6 172.1)"/>
<ellipse cx="676.1" cy="168.8" rx="2" ry="1.1" fill="#3848cc" transform="rotate(171.5 676.1 168.8)"/>
<ellipse cx="535.4" cy="162.1" rx="1.6" ry="0.9" fill="#3848cc" transform="rotate(64.2 535.4 162.1)"/>
</g>
</g>
<rect x="663.8" y="160.6" width="13.1" height="3.3" fill="#fff"/>
<rect x="55.8" y="209.5" width="141" height="140.2" fill="#fff" stroke="#7a7a7a" stroke-width="0.9"/>
<path d="M55.8 349.4C58.9 349.4 71.1 349.5 75.4 349.2C79.7 348.8 81.1 348.5 82.9 347.2C84.7 345.9 85.7 343.5 86.7 340.9C87.7 338.3 88.4 335.7 89.2 330.8C90 326 90.9 318.8 91.7 310.7C92.5 302.7 93.4 291 94.2 280.6C95 270.1 96 253.9 96.8 245.4C97.5 236.9 98.2 228.5 98.8 227.3C99.4 226.1 99.9 233 100.5 237.9C101.1 242.8 101.8 250.7 102.5 258C103.3 265.2 104.2 274.6 105.1 283.1C105.9 291.5 106.8 302.7 107.6 310.7C108.4 318.8 109.3 327.9 110.1 333.4C110.9 338.8 111.7 342.3 112.6 344.7C113.5 347.1 114.3 347.7 115.6 348.4C116.9 349.2 107.6 349.2 120.6 349.4C133.6 349.6 184.6 349.4 196.8 349.4L196.8 349.7L55.8 349.7Z" fill="#f8b6b7"/>
<path d="M55.8 349.4C58.9 349.4 71.1 349.5 75.4 349.2C79.7 348.8 81.1 348.5 82.9 347.2C84.7 345.9 85.7 343.5 86.7 340.9C87.7 338.3 88.4 335.7 89.2 330.8C90 326 90.9 318.8 91.7 310.7C92.5 302.7 93.4 291 94.2 280.6C95 270.1 96 253.9 96.8 245.4C97.5 236.9 98.2 228.5 98.8 227.3C99.4 226.1 99.9 233 100.5 237.9C101.1 242.8 101.8 250.7 102.5 258C103.3 265.2 104.2 274.6 105.1 283.1C105.9 291.5 106.8 302.7 107.6 310.7C108.4 318.8 109.3 327.9 110.1 333.4C110.9 338.8 111.7 342.3 112.6 344.7C113.5 347.1 114.3 347.7 115.6 348.4C116.9 349.2 107.6 349.2 120.6 349.4C133.6 349.6 184.6 349.4 196.8 349.4" fill="none" stroke="#ee5a5d" stroke-width="1.1" stroke-linejoin="round"/>
<line x1="52.8" y1="227.6" x2="55.8" y2="227.6" stroke="#7a7a7a" stroke-width="0.8"/>
<text x="51.5" y="229.4" font-size="5.3" text-anchor="end" fill="#3a3a3a">250</text>
<line x1="52.8" y1="252.2" x2="55.8" y2="252.2" stroke="#7a7a7a" stroke-width="0.8"/>
<text x="51.5" y="254" font-size="5.3" text-anchor="end" fill="#3a3a3a">200</text>
<line x1="52.8" y1="276.8" x2="55.8" y2="276.8" stroke="#7a7a7a" stroke-width="0.8"/>
<text x="51.5" y="278.6" font-size="5.3" text-anchor="end" fill="#3a3a3a">150</text>
<line x1="52.8" y1="301.4" x2="55.8" y2="301.4" stroke="#7a7a7a" stroke-width="0.8"/>
<text x="51.5" y="303.2" font-size="5.3" text-anchor="end" fill="#3a3a3a">100</text>
<line x1="52.8" y1="326" x2="55.8" y2="326" stroke="#7a7a7a" stroke-width="0.8"/>
<text x="51.5" y="327.8" font-size="5.3" text-anchor="end" fill="#3a3a3a">50</text>
<line x1="52.8" y1="349.6" x2="55.8" y2="349.6" stroke="#7a7a7a" stroke-width="0.8"/>
<text x="51.5" y="351.4" font-size="5.3" text-anchor="end" fill="#3a3a3a">0</text>
<line x1="54.2" y1="344.7" x2="55.8" y2="344.7" stroke="#7a7a7a" stroke-width="0.5"/>
<line x1="54.2" y1="339.8" x2="55.8" y2="339.8" stroke="#7a7a7a" stroke-width="0.5"/>
<line x1="54.2" y1="335" x2="55.8" y2="335" stroke="#7a7a7a" stroke-width="0.5"/>
<line x1="54.2" y1="330.1" x2="55.8" y2="330.1" stroke="#7a7a7a" stroke-width="0.5"/>
<line x1="54.2" y1="320.3" x2="55.8" y2="320.3" stroke="#7a7a7a" stroke-width="0.5"/>
<line x1="54.2" y1="315.4" x2="55.8" y2="315.4" stroke="#7a7a7a" stroke-width="0.5"/>
<line x1="54.2" y1="310.6" x2="55.8" y2="310.6" stroke="#7a7a7a" stroke-width="0.5"/>
<line x1="54.2" y1="305.7" x2="55.8" y2="305.7" stroke="#7a7a7a" stroke-width="0.5"/>
<line x1="54.2" y1="295.9" x2="55.8" y2="295.9" stroke="#7a7a7a" stroke-width="0.5"/>
<line x1="54.2" y1="291" x2="55.8" y2="291" stroke="#7a7a7a" stroke-width="0.5"/>
<line x1="54.2" y1="286.2" x2="55.8" y2="286.2" stroke="#7a7a7a" stroke-width="0.5"/>
<line x1="54.2" y1="281.3" x2="55.8" y2="281.3" stroke="#7a7a7a" stroke-width="0.5"/>
<line x1="54.2" y1="271.5" x2="55.8" y2="271.5" stroke="#7a7a7a" stroke-width="0.5"/>
<line x1="54.2" y1="266.6" x2="55.8" y2="266.6" stroke="#7a7a7a" stroke-width="0.5"/>
<line x1="54.2" y1="261.8" x2="55.8" y2="261.8" stroke="#7a7a7a" stroke-width="0.5"/>
<line x1="54.2" y1="256.9" x2="55.8" y2="256.9" stroke="#7a7a7a" stroke-width="0.5"/>
<line x1="54.2" y1="247.1" x2="55.8" y2="247.1" stroke="#7a7a7a" stroke-width="0.5"/>
<line x1="54.2" y1="242.2" x2="55.8" y2="242.2" stroke="#7a7a7a" stroke-width="0.5"/>
<line x1="54.2" y1="237.4" x2="55.8" y2="237.4" stroke="#7a7a7a" stroke-width="0.5"/>
<line x1="54.2" y1="232.5" x2="55.8" y2="232.5" stroke="#7a7a7a" stroke-width="0.5"/>
<line x1="54.2" y1="222.7" x2="55.8" y2="222.7" stroke="#7a7a7a" stroke-width="0.5"/>
<line x1="54.2" y1="217.8" x2="55.8" y2="217.8" stroke="#7a7a7a" stroke-width="0.5"/>
<line x1="54.2" y1="213" x2="55.8" y2="213" stroke="#7a7a7a" stroke-width="0.5"/>
<line x1="55.8" y1="349.7" x2="55.8" y2="352.9" stroke="#7a7a7a" stroke-width="0.8"/>
<line x1="62.8" y1="349.7" x2="62.8" y2="351.3" stroke="#7a7a7a" stroke-width="0.5"/>
<line x1="66.9" y1="349.7" x2="66.9" y2="351.3" stroke="#7a7a7a" stroke-width="0.5"/>
<line x1="69.8" y1="349.7" x2="69.8" y2="351.3" stroke="#7a7a7a" stroke-width="0.5"/>
<line x1="72.1" y1="349.7" x2="72.1" y2="351.3" stroke="#7a7a7a" stroke-width="0.5"/>
<line x1="73.9" y1="349.7" x2="73.9" y2="351.3" stroke="#7a7a7a" stroke-width="0.5"/>
<line x1="75.5" y1="349.7" x2="75.5" y2="351.3" stroke="#7a7a7a" stroke-width="0.5"/>
<line x1="76.8" y1="349.7" x2="76.8" y2="351.3" stroke="#7a7a7a" stroke-width="0.5"/>
<line x1="78" y1="349.7" x2="78" y2="351.3" stroke="#7a7a7a" stroke-width="0.5"/>
<text x="61.4" y="366.4" font-size="5.4" fill="#3a3a3a" text-anchor="middle">10<tspan dy="-2.6" dx="0.3" font-size="4">0</tspan></text>
<line x1="79.1" y1="349.7" x2="79.1" y2="352.9" stroke="#7a7a7a" stroke-width="0.8"/>
<line x1="86.1" y1="349.7" x2="86.1" y2="351.3" stroke="#7a7a7a" stroke-width="0.5"/>
<line x1="90.2" y1="349.7" x2="90.2" y2="351.3" stroke="#7a7a7a" stroke-width="0.5"/>
<line x1="93.1" y1="349.7" x2="93.1" y2="351.3" stroke="#7a7a7a" stroke-width="0.5"/>
<line x1="95.4" y1="349.7" x2="95.4" y2="351.3" stroke="#7a7a7a" stroke-width="0.5"/>
<line x1="97.2" y1="349.7" x2="97.2" y2="351.3" stroke="#7a7a7a" stroke-width="0.5"/>
<line x1="98.8" y1="349.7" x2="98.8" y2="351.3" stroke="#7a7a7a" stroke-width="0.5"/>
<line x1="100.1" y1="349.7" x2="100.1" y2="351.3" stroke="#7a7a7a" stroke-width="0.5"/>
<line x1="101.3" y1="349.7" x2="101.3" y2="351.3" stroke="#7a7a7a" stroke-width="0.5"/>
<text x="84.7" y="366.4" font-size="5.4" fill="#3a3a3a" text-anchor="middle">10<tspan dy="-2.6" dx="0.3" font-size="4">1</tspan></text>
<line x1="102.4" y1="349.7" x2="102.4" y2="352.9" stroke="#7a7a7a" stroke-width="0.8"/>
<line x1="109.4" y1="349.7" x2="109.4" y2="351.3" stroke="#7a7a7a" stroke-width="0.5"/>
<line x1="113.5" y1="349.7" x2="113.5" y2="351.3" stroke="#7a7a7a" stroke-width="0.5"/>
<line x1="116.4" y1="349.7" x2="116.4" y2="351.3" stroke="#7a7a7a" stroke-width="0.5"/>
<line x1="118.7" y1="349.7" x2="118.7" y2="351.3" stroke="#7a7a7a" stroke-width="0.5"/>
<line x1="120.5" y1="349.7" x2="120.5" y2="351.3" stroke="#7a7a7a" stroke-width="0.5"/>
<line x1="122.1" y1="349.7" x2="122.1" y2="351.3" stroke="#7a7a7a" stroke-width="0.5"/>
<line x1="123.4" y1="349.7" x2="123.4" y2="351.3" stroke="#7a7a7a" stroke-width="0.5"/>
<line x1="124.6" y1="349.7" x2="124.6" y2="351.3" stroke="#7a7a7a" stroke-width="0.5"/>
<text x="108" y="366.4" font-size="5.4" fill="#3a3a3a" text-anchor="middle">10<tspan dy="-2.6" dx="0.3" font-size="4">2</tspan></text>
<line x1="125.7" y1="349.7" x2="125.7" y2="352.9" stroke="#7a7a7a" stroke-width="0.8"/>
<line x1="132.7" y1="349.7" x2="132.7" y2="351.3" stroke="#7a7a7a" stroke-width="0.5"/>
<line x1="136.8" y1="349.7" x2="136.8" y2="351.3" stroke="#7a7a7a" stroke-width="0.5"/>
<line x1="139.7" y1="349.7" x2="139.7" y2="351.3" stroke="#7a7a7a" stroke-width="0.5"/>
<line x1="142" y1="349.7" x2="142" y2="351.3" stroke="#7a7a7a" stroke-width="0.5"/>
<line x1="143.8" y1="349.7" x2="143.8" y2="351.3" stroke="#7a7a7a" stroke-width="0.5"/>
<line x1="145.4" y1="349.7" x2="145.4" y2="351.3" stroke="#7a7a7a" stroke-width="0.5"/>
<line x1="146.7" y1="349.7" x2="146.7" y2="351.3" stroke="#7a7a7a" stroke-width="0.5"/>
<line x1="147.9" y1="349.7" x2="147.9" y2="351.3" stroke="#7a7a7a" stroke-width="0.5"/>
<text x="131.3" y="366.4" font-size="5.4" fill="#3a3a3a" text-anchor="middle">10<tspan dy="-2.6" dx="0.3" font-size="4">3</tspan></text>
<line x1="149" y1="349.7" x2="149" y2="352.9" stroke="#7a7a7a" stroke-width="0.8"/>
<line x1="156" y1="349.7" x2="156" y2="351.3" stroke="#7a7a7a" stroke-width="0.5"/>
<line x1="160.1" y1="349.7" x2="160.1" y2="351.3" stroke="#7a7a7a" stroke-width="0.5"/>
<line x1="163" y1="349.7" x2="163" y2="351.3" stroke="#7a7a7a" stroke-width="0.5"/>
<line x1="165.3" y1="349.7" x2="165.3" y2="351.3" stroke="#7a7a7a" stroke-width="0.5"/>
<line x1="167.1" y1="349.7" x2="167.1" y2="351.3" stroke="#7a7a7a" stroke-width="0.5"/>
<line x1="168.7" y1="349.7" x2="168.7" y2="351.3" stroke="#7a7a7a" stroke-width="0.5"/>
<line x1="170" y1="349.7" x2="170" y2="351.3" stroke="#7a7a7a" stroke-width="0.5"/>
<line x1="171.2" y1="349.7" x2="171.2" y2="351.3" stroke="#7a7a7a" stroke-width="0.5"/>
<text x="154.6" y="366.4" font-size="5.4" fill="#3a3a3a" text-anchor="middle">10<tspan dy="-2.6" dx="0.3" font-size="4">4</tspan></text>
<line x1="172.3" y1="349.7" x2="172.3" y2="352.9" stroke="#7a7a7a" stroke-width="0.8"/>
<line x1="179.3" y1="349.7" x2="179.3" y2="351.3" stroke="#7a7a7a" stroke-width="0.5"/>
<line x1="183.4" y1="349.7" x2="183.4" y2="351.3" stroke="#7a7a7a" stroke-width="0.5"/>
<line x1="186.3" y1="349.7" x2="186.3" y2="351.3" stroke="#7a7a7a" stroke-width="0.5"/>
<line x1="188.6" y1="349.7" x2="188.6" y2="351.3" stroke="#7a7a7a" stroke-width="0.5"/>
<line x1="190.4" y1="349.7" x2="190.4" y2="351.3" stroke="#7a7a7a" stroke-width="0.5"/>
<line x1="192" y1="349.7" x2="192" y2="351.3" stroke="#7a7a7a" stroke-width="0.5"/>
<line x1="193.3" y1="349.7" x2="193.3" y2="351.3" stroke="#7a7a7a" stroke-width="0.5"/>
<line x1="194.5" y1="349.7" x2="194.5" y2="351.3" stroke="#7a7a7a" stroke-width="0.5"/>
<text x="177.9" y="366.4" font-size="5.4" fill="#3a3a3a" text-anchor="middle">10<tspan dy="-2.6" dx="0.3" font-size="4">5</tspan></text>
<line x1="195.6" y1="349.7" x2="195.6" y2="352.9" stroke="#7a7a7a" stroke-width="0.8"/>
<text x="192.4" y="366.4" font-size="5.4" fill="#3a3a3a" text-anchor="middle">10<tspan dy="-2.6" dx="0.3" font-size="4">6</tspan></text>
<line x1="107.3" y1="320.3" x2="188.5" y2="320.3" stroke="#333" stroke-width="1"/>
<line x1="107.3" y1="317.7" x2="107.3" y2="322.9" stroke="#333" stroke-width="1"/>
<line x1="188.5" y1="317.7" x2="188.5" y2="322.9" stroke="#333" stroke-width="1"/>
<text x="147.3" y="308.7" font-size="12.8" font-weight="bold" text-anchor="middle" fill="#111">6.23</text>
<rect x="220.1" y="209.2" width="140.8" height="140.5" fill="#fff" stroke="#7a7a7a" stroke-width="0.9"/>
<path d="M220.1 349.4C223.5 349.4 237.3 349.8 241.5 349.4C245.7 349 244.9 348.9 246.5 347.2C248.1 345.4 250.1 342.6 251.5 338.4C253 334.2 254.3 327.6 255.3 320.8C256.3 314 257.1 304.5 257.8 295.7C258.6 286.8 259.2 274.3 259.8 265.5C260.4 256.7 261.1 246.3 261.6 240.4C262.1 234.4 262.4 227.9 262.9 228.3C263.3 228.7 263.8 237.5 264.4 242.9C264.9 248.2 265.6 258.4 266.1 261.7C266.7 265 267.4 261.6 267.9 263.5C268.4 265.4 268.9 272.4 269.4 273.5C269.9 274.7 270.6 271.5 271.1 270.5C271.7 269.6 272.4 266.7 272.9 267.5C273.4 268.3 273.9 271.1 274.4 275.6C275 280.1 275.7 288.8 276.4 295.7C277.1 302.5 277.9 312.2 278.7 318.3C279.5 324.3 280.3 329.7 281.2 333.4C282.1 337 283.1 339.2 284.2 340.9C285.3 342.6 286.4 343.2 288 343.9C289.6 344.6 292.7 345.3 294.3 345.4C295.9 345.5 296.8 344.8 298 344.7C299.2 344.5 300.6 344.1 301.8 344.4C303 344.8 304.4 346.2 305.6 346.9C306.8 347.6 308.1 348.3 309.4 348.7C310.6 349.1 304.9 349.3 313.1 349.4C321.4 349.5 353.2 349.4 360.9 349.4L360.9 349.7L220.1 349.7Z" fill="#f8b6b7"/>
<path d="M220.1 349.4C223.5 349.4 237.3 349.8 241.5 349.4C245.7 349 244.9 348.9 246.5 347.2C248.1 345.4 250.1 342.6 251.5 338.4C253 334.2 254.3 327.6 255.3 320.8C256.3 314 257.1 304.5 257.8 295.7C258.6 286.8 259.2 274.3 259.8 265.5C260.4 256.7 261.1 246.3 261.6 240.4C262.1 234.4 262.4 227.9 262.9 228.3C263.3 228.7 263.8 237.5 264.4 242.9C264.9 248.2 265.6 258.4 266.1 261.7C266.7 265 267.4 261.6 267.9 263.5C268.4 265.4 268.9 272.4 269.4 273.5C269.9 274.7 270.6 271.5 271.1 270.5C271.7 269.6 272.4 266.7 272.9 267.5C273.4 268.3 273.9 271.1 274.4 275.6C275 280.1 275.7 288.8 276.4 295.7C277.1 302.5 277.9 312.2 278.7 318.3C279.5 324.3 280.3 329.7 281.2 333.4C282.1 337 283.1 339.2 284.2 340.9C285.3 342.6 286.4 343.2 288 343.9C289.6 344.6 292.7 345.3 294.3 345.4C295.9 345.5 296.8 344.8 298 344.7C299.2 344.5 300.6 344.1 301.8 344.4C303 344.8 304.4 346.2 305.6 346.9C306.8 347.6 308.1 348.3 309.4 348.7C310.6 349.1 304.9 349.3 313.1 349.4C321.4 349.5 353.2 349.4 360.9 349.4" fill="none" stroke="#ee5a5d" stroke-width="1.1" stroke-linejoin="round"/>
<line x1="217.1" y1="219.9" x2="220.1" y2="219.9" stroke="#7a7a7a" stroke-width="0.8"/>
<text x="215.8" y="221.7" font-size="5.3" text-anchor="end" fill="#3a3a3a">120</text>
<line x1="217.1" y1="252.6" x2="220.1" y2="252.6" stroke="#7a7a7a" stroke-width="0.8"/>
<text x="215.8" y="254.4" font-size="5.3" text-anchor="end" fill="#3a3a3a">90</text>
<line x1="217.1" y1="285.2" x2="220.1" y2="285.2" stroke="#7a7a7a" stroke-width="0.8"/>
<text x="215.8" y="287" font-size="5.3" text-anchor="end" fill="#3a3a3a">60</text>
<line x1="217.1" y1="317.9" x2="220.1" y2="317.9" stroke="#7a7a7a" stroke-width="0.8"/>
<text x="215.8" y="319.7" font-size="5.3" text-anchor="end" fill="#3a3a3a">30</text>
<line x1="217.1" y1="349.6" x2="220.1" y2="349.6" stroke="#7a7a7a" stroke-width="0.8"/>
<text x="215.8" y="351.4" font-size="5.3" text-anchor="end" fill="#3a3a3a">0</text>
<line x1="218.5" y1="343.1" x2="220.1" y2="343.1" stroke="#7a7a7a" stroke-width="0.5"/>
<line x1="218.5" y1="336.6" x2="220.1" y2="336.6" stroke="#7a7a7a" stroke-width="0.5"/>
<line x1="218.5" y1="330.1" x2="220.1" y2="330.1" stroke="#7a7a7a" stroke-width="0.5"/>
<line x1="218.5" y1="323.7" x2="220.1" y2="323.7" stroke="#7a7a7a" stroke-width="0.5"/>
<line x1="218.5" y1="310.7" x2="220.1" y2="310.7" stroke="#7a7a7a" stroke-width="0.5"/>
<line x1="218.5" y1="304.2" x2="220.1" y2="304.2" stroke="#7a7a7a" stroke-width="0.5"/>
<line x1="218.5" y1="297.7" x2="220.1" y2="297.7" stroke="#7a7a7a" stroke-width="0.5"/>
<line x1="218.5" y1="291.2" x2="220.1" y2="291.2" stroke="#7a7a7a" stroke-width="0.5"/>
<line x1="218.5" y1="278.3" x2="220.1" y2="278.3" stroke="#7a7a7a" stroke-width="0.5"/>
<line x1="218.5" y1="271.8" x2="220.1" y2="271.8" stroke="#7a7a7a" stroke-width="0.5"/>
<line x1="218.5" y1="265.3" x2="220.1" y2="265.3" stroke="#7a7a7a" stroke-width="0.5"/>
<line x1="218.5" y1="258.8" x2="220.1" y2="258.8" stroke="#7a7a7a" stroke-width="0.5"/>
<line x1="218.5" y1="245.8" x2="220.1" y2="245.8" stroke="#7a7a7a" stroke-width="0.5"/>
<line x1="218.5" y1="239.4" x2="220.1" y2="239.4" stroke="#7a7a7a" stroke-width="0.5"/>
<line x1="218.5" y1="232.9" x2="220.1" y2="232.9" stroke="#7a7a7a" stroke-width="0.5"/>
<line x1="218.5" y1="226.4" x2="220.1" y2="226.4" stroke="#7a7a7a" stroke-width="0.5"/>
<line x1="218.5" y1="213.4" x2="220.1" y2="213.4" stroke="#7a7a7a" stroke-width="0.5"/>
<line x1="220.1" y1="349.7" x2="220.1" y2="352.9" stroke="#7a7a7a" stroke-width="0.8"/>
<line x1="227.1" y1="349.7" x2="227.1" y2="351.3" stroke="#7a7a7a" stroke-width="0.5"/>
<line x1="231.2" y1="349.7" x2="231.2" y2="351.3" stroke="#7a7a7a" stroke-width="0.5"/>
<line x1="234.1" y1="349.7" x2="234.1" y2="351.3" stroke="#7a7a7a" stroke-width="0.5"/>
<line x1="236.4" y1="349.7" x2="236.4" y2="351.3" stroke="#7a7a7a" stroke-width="0.5"/>
<line x1="238.2" y1="349.7" x2="238.2" y2="351.3" stroke="#7a7a7a" stroke-width="0.5"/>
<line x1="239.8" y1="349.7" x2="239.8" y2="351.3" stroke="#7a7a7a" stroke-width="0.5"/>
<line x1="241.1" y1="349.7" x2="241.1" y2="351.3" stroke="#7a7a7a" stroke-width="0.5"/>
<line x1="242.3" y1="349.7" x2="242.3" y2="351.3" stroke="#7a7a7a" stroke-width="0.5"/>
<text x="225.7" y="366.4" font-size="5.4" fill="#3a3a3a" text-anchor="middle">10<tspan dy="-2.6" dx="0.3" font-size="4">0</tspan></text>
<line x1="243.4" y1="349.7" x2="243.4" y2="352.9" stroke="#7a7a7a" stroke-width="0.8"/>
<line x1="250.4" y1="349.7" x2="250.4" y2="351.3" stroke="#7a7a7a" stroke-width="0.5"/>
<line x1="254.5" y1="349.7" x2="254.5" y2="351.3" stroke="#7a7a7a" stroke-width="0.5"/>
<line x1="257.4" y1="349.7" x2="257.4" y2="351.3" stroke="#7a7a7a" stroke-width="0.5"/>
<line x1="259.7" y1="349.7" x2="259.7" y2="351.3" stroke="#7a7a7a" stroke-width="0.5"/>
<line x1="261.5" y1="349.7" x2="261.5" y2="351.3" stroke="#7a7a7a" stroke-width="0.5"/>
<line x1="263.1" y1="349.7" x2="263.1" y2="351.3" stroke="#7a7a7a" stroke-width="0.5"/>
<line x1="264.4" y1="349.7" x2="264.4" y2="351.3" stroke="#7a7a7a" stroke-width="0.5"/>
<line x1="265.6" y1="349.7" x2="265.6" y2="351.3" stroke="#7a7a7a" stroke-width="0.5"/>
<text x="249" y="366.4" font-size="5.4" fill="#3a3a3a" text-anchor="middle">10<tspan dy="-2.6" dx="0.3" font-size="4">1</tspan></text>
<line x1="266.7" y1="349.7" x2="266.7" y2="352.9" stroke="#7a7a7a" stroke-width="0.8"/>
<line x1="273.7" y1="349.7" x2="273.7" y2="351.3" stroke="#7a7a7a" stroke-width="0.5"/>
<line x1="277.8" y1="349.7" x2="277.8" y2="351.3" stroke="#7a7a7a" stroke-width="0.5"/>
<line x1="280.7" y1="349.7" x2="280.7" y2="351.3" stroke="#7a7a7a" stroke-width="0.5"/>
<line x1="283" y1="349.7" x2="283" y2="351.3" stroke="#7a7a7a" stroke-width="0.5"/>
<line x1="284.8" y1="349.7" x2="284.8" y2="351.3" stroke="#7a7a7a" stroke-width="0.5"/>
<line x1="286.4" y1="349.7" x2="286.4" y2="351.3" stroke="#7a7a7a" stroke-width="0.5"/>
<line x1="287.7" y1="349.7" x2="287.7" y2="351.3" stroke="#7a7a7a" stroke-width="0.5"/>
<line x1="288.9" y1="349.7" x2="288.9" y2="351.3" stroke="#7a7a7a" stroke-width="0.5"/>
<text x="272.3" y="366.4" font-size="5.4" fill="#3a3a3a" text-anchor="middle">10<tspan dy="-2.6" dx="0.3" font-size="4">2</tspan></text>
<line x1="290" y1="349.7" x2="290" y2="352.9" stroke="#7a7a7a" stroke-width="0.8"/>
<line x1="297" y1="349.7" x2="297" y2="351.3" stroke="#7a7a7a" stroke-width="0.5"/>
<line x1="301.1" y1="349.7" x2="301.1" y2="351.3" stroke="#7a7a7a" stroke-width="0.5"/>
<line x1="304" y1="349.7" x2="304" y2="351.3" stroke="#7a7a7a" stroke-width="0.5"/>
<line x1="306.3" y1="349.7" x2="306.3" y2="351.3" stroke="#7a7a7a" stroke-width="0.5"/>
<line x1="308.1" y1="349.7" x2="308.1" y2="351.3" stroke="#7a7a7a" stroke-width="0.5"/>
<line x1="309.7" y1="349.7" x2="309.7" y2="351.3" stroke="#7a7a7a" stroke-width="0.5"/>
<line x1="311" y1="349.7" x2="311" y2="351.3" stroke="#7a7a7a" stroke-width="0.5"/>
<line x1="312.2" y1="349.7" x2="312.2" y2="351.3" stroke="#7a7a7a" stroke-width="0.5"/>
<text x="295.6" y="366.4" font-size="5.4" fill="#3a3a3a" text-anchor="middle">10<tspan dy="-2.6" dx="0.3" font-size="4">3</tspan></text>
<line x1="313.3" y1="349.7" x2="313.3" y2="352.9" stroke="#7a7a7a" stroke-width="0.8"/>
<line x1="320.3" y1="349.7" x2="320.3" y2="351.3" stroke="#7a7a7a" stroke-width="0.5"/>
<line x1="324.4" y1="349.7" x2="324.4" y2="351.3" stroke="#7a7a7a" stroke-width="0.5"/>
<line x1="327.3" y1="349.7" x2="327.3" y2="351.3" stroke="#7a7a7a" stroke-width="0.5"/>
<line x1="329.6" y1="349.7" x2="329.6" y2="351.3" stroke="#7a7a7a" stroke-width="0.5"/>
<line x1="331.4" y1="349.7" x2="331.4" y2="351.3" stroke="#7a7a7a" stroke-width="0.5"/>
<line x1="333" y1="349.7" x2="333" y2="351.3" stroke="#7a7a7a" stroke-width="0.5"/>
<line x1="334.3" y1="349.7" x2="334.3" y2="351.3" stroke="#7a7a7a" stroke-width="0.5"/>
<line x1="335.5" y1="349.7" x2="335.5" y2="351.3" stroke="#7a7a7a" stroke-width="0.5"/>
<text x="318.9" y="366.4" font-size="5.4" fill="#3a3a3a" text-anchor="middle">10<tspan dy="-2.6" dx="0.3" font-size="4">4</tspan></text>
<line x1="336.6" y1="349.7" x2="336.6" y2="352.9" stroke="#7a7a7a" stroke-width="0.8"/>
<line x1="343.6" y1="349.7" x2="343.6" y2="351.3" stroke="#7a7a7a" stroke-width="0.5"/>
<line x1="347.7" y1="349.7" x2="347.7" y2="351.3" stroke="#7a7a7a" stroke-width="0.5"/>
<line x1="350.6" y1="349.7" x2="350.6" y2="351.3" stroke="#7a7a7a" stroke-width="0.5"/>
<line x1="352.9" y1="349.7" x2="352.9" y2="351.3" stroke="#7a7a7a" stroke-width="0.5"/>
<line x1="354.7" y1="349.7" x2="354.7" y2="351.3" stroke="#7a7a7a" stroke-width="0.5"/>
<line x1="356.3" y1="349.7" x2="356.3" y2="351.3" stroke="#7a7a7a" stroke-width="0.5"/>
<line x1="357.6" y1="349.7" x2="357.6" y2="351.3" stroke="#7a7a7a" stroke-width="0.5"/>
<line x1="358.8" y1="349.7" x2="358.8" y2="351.3" stroke="#7a7a7a" stroke-width="0.5"/>
<text x="342.2" y="366.4" font-size="5.4" fill="#3a3a3a" text-anchor="middle">10<tspan dy="-2.6" dx="0.3" font-size="4">5</tspan></text>
<line x1="359.9" y1="349.7" x2="359.9" y2="352.9" stroke="#7a7a7a" stroke-width="0.8"/>
<text x="356.7" y="366.4" font-size="5.4" fill="#3a3a3a" text-anchor="middle">10<tspan dy="-2.6" dx="0.3" font-size="4">6</tspan></text>
<line x1="271.2" y1="320.3" x2="352.6" y2="320.3" stroke="#333" stroke-width="1"/>
<line x1="271.2" y1="317.7" x2="271.2" y2="322.9" stroke="#333" stroke-width="1"/>
<line x1="352.6" y1="317.7" x2="352.6" y2="322.9" stroke="#333" stroke-width="1"/>
<text x="311.8" y="308.7" font-size="12.8" font-weight="bold" text-anchor="middle" fill="#111">32.6</text>
<rect x="384.4" y="209.2" width="141" height="140.5" fill="#fff" stroke="#7a7a7a" stroke-width="0.9"/>
<path d="M384.4 349.4C387.7 349.4 401.1 349.8 405.2 349.4C409.4 349 408.7 348.9 410.3 347.2C411.9 345.4 413.9 342.6 415.3 338.4C416.7 334.2 418.1 327.6 419.1 320.8C420.1 314 420.8 304.5 421.6 295.7C422.4 286.8 423.4 273.9 424.1 265.5C424.8 257.1 425.4 247.9 425.8 242.9C426.3 237.9 426.7 233.7 427.1 234.1C427.5 234.5 427.9 243.1 428.4 245.4C428.8 247.7 429.4 247.5 429.9 248.4C430.3 249.3 430.7 251.4 431.1 250.9C431.6 250.4 432.1 247.3 432.6 245.4C433.1 243.5 433.6 239.1 434.1 239.1C434.7 239.1 435.3 241.2 435.9 245.4C436.5 249.6 437.3 258.3 437.9 265.5C438.6 272.7 439.2 282.6 439.9 290.6C440.6 298.7 441.4 308.9 442.2 315.8C442.9 322.6 443.8 328.9 444.7 333.4C445.6 337.8 446.6 341.3 448 343.4C449.3 345.5 451 345.9 453 346.4C455 346.9 458.5 346.4 460.5 346.7C462.5 346.9 463.9 347.9 465.6 347.9C467.2 347.9 469 347 470.6 346.7C472.2 346.4 474.1 346.3 475.6 345.9C477.1 345.5 478.9 344.2 480.1 344.2C481.3 344.1 482.1 344.8 483.1 345.4C484.2 346 485.7 347.3 486.9 347.9C488.1 348.6 484.5 349.2 490.7 349.4C496.8 349.6 519.8 349.4 525.4 349.4L525.4 349.7L384.4 349.7Z" fill="#f8b6b7"/>
<path d="M384.4 349.4C387.7 349.4 401.1 349.8 405.2 349.4C409.4 349 408.7 348.9 410.3 347.2C411.9 345.4 413.9 342.6 415.3 338.4C416.7 334.2 418.1 327.6 419.1 320.8C420.1 314 420.8 304.5 421.6 295.7C422.4 286.8 423.4 273.9 424.1 265.5C424.8 257.1 425.4 247.9 425.8 242.9C426.3 237.9 426.7 233.7 427.1 234.1C427.5 234.5 427.9 243.1 428.4 245.4C428.8 247.7 429.4 247.5 429.9 248.4C430.3 249.3 430.7 251.4 431.1 250.9C431.6 250.4 432.1 247.3 432.6 245.4C433.1 243.5 433.6 239.1 434.1 239.1C434.7 239.1 435.3 241.2 435.9 245.4C436.5 249.6 437.3 258.3 437.9 265.5C438.6 272.7 439.2 282.6 439.9 290.6C440.6 298.7 441.4 308.9 442.2 315.8C442.9 322.6 443.8 328.9 444.7 333.4C445.6 337.8 446.6 341.3 448 343.4C449.3 345.5 451 345.9 453 346.4C455 346.9 458.5 346.4 460.5 346.7C462.5 346.9 463.9 347.9 465.6 347.9C467.2 347.9 469 347 470.6 346.7C472.2 346.4 474.1 346.3 475.6 345.9C477.1 345.5 478.9 344.2 480.1 344.2C481.3 344.1 482.1 344.8 483.1 345.4C484.2 346 485.7 347.3 486.9 347.9C488.1 348.6 484.5 349.2 490.7 349.4C496.8 349.6 519.8 349.4 525.4 349.4" fill="none" stroke="#ee5a5d" stroke-width="1.1" stroke-linejoin="round"/>
<line x1="381.4" y1="228.6" x2="384.4" y2="228.6" stroke="#7a7a7a" stroke-width="0.8"/>
<text x="380.1" y="230.4" font-size="5.3" text-anchor="end" fill="#3a3a3a">120</text>
<line x1="381.4" y1="259.2" x2="384.4" y2="259.2" stroke="#7a7a7a" stroke-width="0.8"/>
<text x="380.1" y="261" font-size="5.3" text-anchor="end" fill="#3a3a3a">90</text>
<line x1="381.4" y1="289.8" x2="384.4" y2="289.8" stroke="#7a7a7a" stroke-width="0.8"/>
<text x="380.1" y="291.6" font-size="5.3" text-anchor="end" fill="#3a3a3a">60</text>
<line x1="381.4" y1="320.4" x2="384.4" y2="320.4" stroke="#7a7a7a" stroke-width="0.8"/>
<text x="380.1" y="322.2" font-size="5.3" text-anchor="end" fill="#3a3a3a">30</text>
<line x1="381.4" y1="349.6" x2="384.4" y2="349.6" stroke="#7a7a7a" stroke-width="0.8"/>
<text x="380.1" y="351.4" font-size="5.3" text-anchor="end" fill="#3a3a3a">0</text>
<line x1="382.8" y1="343.6" x2="384.4" y2="343.6" stroke="#7a7a7a" stroke-width="0.5"/>
<line x1="382.8" y1="337.5" x2="384.4" y2="337.5" stroke="#7a7a7a" stroke-width="0.5"/>
<line x1="382.8" y1="331.4" x2="384.4" y2="331.4" stroke="#7a7a7a" stroke-width="0.5"/>
<line x1="382.8" y1="325.4" x2="384.4" y2="325.4" stroke="#7a7a7a" stroke-width="0.5"/>
<line x1="382.8" y1="313.3" x2="384.4" y2="313.3" stroke="#7a7a7a" stroke-width="0.5"/>
<line x1="382.8" y1="307.2" x2="384.4" y2="307.2" stroke="#7a7a7a" stroke-width="0.5"/>
<line x1="382.8" y1="301.2" x2="384.4" y2="301.2" stroke="#7a7a7a" stroke-width="0.5"/>
<line x1="382.8" y1="295.1" x2="384.4" y2="295.1" stroke="#7a7a7a" stroke-width="0.5"/>
<line x1="382.8" y1="283" x2="384.4" y2="283" stroke="#7a7a7a" stroke-width="0.5"/>
<line x1="382.8" y1="277" x2="384.4" y2="277" stroke="#7a7a7a" stroke-width="0.5"/>
<line x1="382.8" y1="270.9" x2="384.4" y2="270.9" stroke="#7a7a7a" stroke-width="0.5"/>
<line x1="382.8" y1="264.9" x2="384.4" y2="264.9" stroke="#7a7a7a" stroke-width="0.5"/>
<line x1="382.8" y1="252.8" x2="384.4" y2="252.8" stroke="#7a7a7a" stroke-width="0.5"/>
<line x1="382.8" y1="246.7" x2="384.4" y2="246.7" stroke="#7a7a7a" stroke-width="0.5"/>
<line x1="382.8" y1="240.7" x2="384.4" y2="240.7" stroke="#7a7a7a" stroke-width="0.5"/>
<line x1="382.8" y1="234.6" x2="384.4" y2="234.6" stroke="#7a7a7a" stroke-width="0.5"/>
<line x1="382.8" y1="222.5" x2="384.4" y2="222.5" stroke="#7a7a7a" stroke-width="0.5"/>
<line x1="382.8" y1="216.5" x2="384.4" y2="216.5" stroke="#7a7a7a" stroke-width="0.5"/>
<line x1="384.4" y1="349.7" x2="384.4" y2="352.9" stroke="#7a7a7a" stroke-width="0.8"/>
<line x1="391.4" y1="349.7" x2="391.4" y2="351.3" stroke="#7a7a7a" stroke-width="0.5"/>
<line x1="395.5" y1="349.7" x2="395.5" y2="351.3" stroke="#7a7a7a" stroke-width="0.5"/>
<line x1="398.4" y1="349.7" x2="398.4" y2="351.3" stroke="#7a7a7a" stroke-width="0.5"/>
<line x1="400.7" y1="349.7" x2="400.7" y2="351.3" stroke="#7a7a7a" stroke-width="0.5"/>
<line x1="402.5" y1="349.7" x2="402.5" y2="351.3" stroke="#7a7a7a" stroke-width="0.5"/>
<line x1="404.1" y1="349.7" x2="404.1" y2="351.3" stroke="#7a7a7a" stroke-width="0.5"/>
<line x1="405.4" y1="349.7" x2="405.4" y2="351.3" stroke="#7a7a7a" stroke-width="0.5"/>
<line x1="406.6" y1="349.7" x2="406.6" y2="351.3" stroke="#7a7a7a" stroke-width="0.5"/>
<text x="390" y="366.4" font-size="5.4" fill="#3a3a3a" text-anchor="middle">10<tspan dy="-2.6" dx="0.3" font-size="4">0</tspan></text>
<line x1="407.7" y1="349.7" x2="407.7" y2="352.9" stroke="#7a7a7a" stroke-width="0.8"/>
<line x1="414.7" y1="349.7" x2="414.7" y2="351.3" stroke="#7a7a7a" stroke-width="0.5"/>
<line x1="418.8" y1="349.7" x2="418.8" y2="351.3" stroke="#7a7a7a" stroke-width="0.5"/>
<line x1="421.7" y1="349.7" x2="421.7" y2="351.3" stroke="#7a7a7a" stroke-width="0.5"/>
<line x1="424" y1="349.7" x2="424" y2="351.3" stroke="#7a7a7a" stroke-width="0.5"/>
<line x1="425.8" y1="349.7" x2="425.8" y2="351.3" stroke="#7a7a7a" stroke-width="0.5"/>
<line x1="427.4" y1="349.7" x2="427.4" y2="351.3" stroke="#7a7a7a" stroke-width="0.5"/>
<line x1="428.7" y1="349.7" x2="428.7" y2="351.3" stroke="#7a7a7a" stroke-width="0.5"/>
<line x1="429.9" y1="349.7" x2="429.9" y2="351.3" stroke="#7a7a7a" stroke-width="0.5"/>
<text x="413.3" y="366.4" font-size="5.4" fill="#3a3a3a" text-anchor="middle">10<tspan dy="-2.6" dx="0.3" font-size="4">1</tspan></text>
<line x1="431" y1="349.7" x2="431" y2="352.9" stroke="#7a7a7a" stroke-width="0.8"/>
<line x1="438" y1="349.7" x2="438" y2="351.3" stroke="#7a7a7a" stroke-width="0.5"/>
<line x1="442.1" y1="349.7" x2="442.1" y2="351.3" stroke="#7a7a7a" stroke-width="0.5"/>
<line x1="445" y1="349.7" x2="445" y2="351.3" stroke="#7a7a7a" stroke-width="0.5"/>
<line x1="447.3" y1="349.7" x2="447.3" y2="351.3" stroke="#7a7a7a" stroke-width="0.5"/>
<line x1="449.1" y1="349.7" x2="449.1" y2="351.3" stroke="#7a7a7a" stroke-width="0.5"/>
<line x1="450.7" y1="349.7" x2="450.7" y2="351.3" stroke="#7a7a7a" stroke-width="0.5"/>
<line x1="452" y1="349.7" x2="452" y2="351.3" stroke="#7a7a7a" stroke-width="0.5"/>
<line x1="453.2" y1="349.7" x2="453.2" y2="351.3" stroke="#7a7a7a" stroke-width="0.5"/>
<text x="436.6" y="366.4" font-size="5.4" fill="#3a3a3a" text-anchor="middle">10<tspan dy="-2.6" dx="0.3" font-size="4">2</tspan></text>
<line x1="454.3" y1="349.7" x2="454.3" y2="352.9" stroke="#7a7a7a" stroke-width="0.8"/>
<line x1="461.3" y1="349.7" x2="461.3" y2="351.3" stroke="#7a7a7a" stroke-width="0.5"/>
<line x1="465.4" y1="349.7" x2="465.4" y2="351.3" stroke="#7a7a7a" stroke-width="0.5"/>
<line x1="468.3" y1="349.7" x2="468.3" y2="351.3" stroke="#7a7a7a" stroke-width="0.5"/>
<line x1="470.6" y1="349.7" x2="470.6" y2="351.3" stroke="#7a7a7a" stroke-width="0.5"/>
<line x1="472.4" y1="349.7" x2="472.4" y2="351.3" stroke="#7a7a7a" stroke-width="0.5"/>
<line x1="474" y1="349.7" x2="474" y2="351.3" stroke="#7a7a7a" stroke-width="0.5"/>
<line x1="475.3" y1="349.7" x2="475.3" y2="351.3" stroke="#7a7a7a" stroke-width="0.5"/>
<line x1="476.5" y1="349.7" x2="476.5" y2="351.3" stroke="#7a7a7a" stroke-width="0.5"/>
<text x="459.9" y="366.4" font-size="5.4" fill="#3a3a3a" text-anchor="middle">10<tspan dy="-2.6" dx="0.3" font-size="4">3</tspan></text>
<line x1="477.6" y1="349.7" x2="477.6" y2="352.9" stroke="#7a7a7a" stroke-width="0.8"/>
<line x1="484.6" y1="349.7" x2="484.6" y2="351.3" stroke="#7a7a7a" stroke-width="0.5"/>
<line x1="488.7" y1="349.7" x2="488.7" y2="351.3" stroke="#7a7a7a" stroke-width="0.5"/>
<line x1="491.6" y1="349.7" x2="491.6" y2="351.3" stroke="#7a7a7a" stroke-width="0.5"/>
<line x1="493.9" y1="349.7" x2="493.9" y2="351.3" stroke="#7a7a7a" stroke-width="0.5"/>
<line x1="495.7" y1="349.7" x2="495.7" y2="351.3" stroke="#7a7a7a" stroke-width="0.5"/>
<line x1="497.3" y1="349.7" x2="497.3" y2="351.3" stroke="#7a7a7a" stroke-width="0.5"/>
<line x1="498.6" y1="349.7" x2="498.6" y2="351.3" stroke="#7a7a7a" stroke-width="0.5"/>
<line x1="499.8" y1="349.7" x2="499.8" y2="351.3" stroke="#7a7a7a" stroke-width="0.5"/>
<text x="483.2" y="366.4" font-size="5.4" fill="#3a3a3a" text-anchor="middle">10<tspan dy="-2.6" dx="0.3" font-size="4">4</tspan></text>
<line x1="500.9" y1="349.7" x2="500.9" y2="352.9" stroke="#7a7a7a" stroke-width="0.8"/>
<line x1="507.9" y1="349.7" x2="507.9" y2="351.3" stroke="#7a7a7a" stroke-width="0.5"/>
<line x1="512" y1="349.7" x2="512" y2="351.3" stroke="#7a7a7a" stroke-width="0.5"/>
<line x1="514.9" y1="349.7" x2="514.9" y2="351.3" stroke="#7a7a7a" stroke-width="0.5"/>
<line x1="517.2" y1="349.7" x2="517.2" y2="351.3" stroke="#7a7a7a" stroke-width="0.5"/>
<line x1="519" y1="349.7" x2="519" y2="351.3" stroke="#7a7a7a" stroke-width="0.5"/>
<line x1="520.6" y1="349.7" x2="520.6" y2="351.3" stroke="#7a7a7a" stroke-width="0.5"/>
<line x1="521.9" y1="349.7" x2="521.9" y2="351.3" stroke="#7a7a7a" stroke-width="0.5"/>
<line x1="523.1" y1="349.7" x2="523.1" y2="351.3" stroke="#7a7a7a" stroke-width="0.5"/>
<text x="506.5" y="366.4" font-size="5.4" fill="#3a3a3a" text-anchor="middle">10<tspan dy="-2.6" dx="0.3" font-size="4">5</tspan></text>
<line x1="524.2" y1="349.7" x2="524.2" y2="352.9" stroke="#7a7a7a" stroke-width="0.8"/>
<text x="521" y="366.4" font-size="5.4" fill="#3a3a3a" text-anchor="middle">10<tspan dy="-2.6" dx="0.3" font-size="4">6</tspan></text>
<line x1="435.4" y1="320.3" x2="517.1" y2="320.3" stroke="#333" stroke-width="1"/>
<line x1="435.4" y1="317.7" x2="435.4" y2="322.9" stroke="#333" stroke-width="1"/>
<line x1="517.1" y1="317.7" x2="517.1" y2="322.9" stroke="#333" stroke-width="1"/>
<text x="476.1" y="308.7" font-size="12.8" font-weight="bold" text-anchor="middle" fill="#111">27.2</text>
<rect x="549.4" y="209.5" width="140.2" height="140.2" fill="#fff" stroke="#7a7a7a" stroke-width="0.9"/>
<path d="M549.4 349.4C552.5 349.4 565.1 349.8 569 349.4C572.9 349 572.4 348.9 574 347.2C575.6 345.4 577.7 342.6 579.1 338.4C580.5 334.2 581.7 328.4 582.8 320.8C583.9 313.2 585 300.3 585.8 290.6C586.7 281 587.6 268.9 588.4 260.5C589.1 252 589.8 243.2 590.4 237.9C591 232.5 591.6 226.9 592.1 227.3C592.7 227.7 593 234.7 593.6 240.4C594.2 246.1 595.1 255.3 595.9 263C596.7 270.6 597.6 280.1 598.4 288.1C599.2 296.2 600.1 306.4 600.9 313.3C601.8 320.1 602.8 326.4 603.7 330.8C604.6 335.3 605.6 338.6 606.7 340.9C607.8 343.2 608.7 344.4 610.5 345.4C612.3 346.5 615.6 347 618 347.4C620.4 347.8 623.3 348 625.6 347.9C627.8 347.9 629.8 347.2 631.8 346.9C633.8 346.6 636.3 346.1 638.1 346.2C639.9 346.2 641.5 346.8 643.1 347.2C644.8 347.6 646.6 348.3 648.2 348.7C649.8 349 646.6 349.3 653.2 349.4C659.8 349.5 683.8 349.4 689.6 349.4L689.6 349.7L549.4 349.7Z" fill="#f8b6b7"/>
<path d="M549.4 349.4C552.5 349.4 565.1 349.8 569 349.4C572.9 349 572.4 348.9 574 347.2C575.6 345.4 577.7 342.6 579.1 338.4C580.5 334.2 581.7 328.4 582.8 320.8C583.9 313.2 585 300.3 585.8 290.6C586.7 281 587.6 268.9 588.4 260.5C589.1 252 589.8 243.2 590.4 237.9C591 232.5 591.6 226.9 592.1 227.3C592.7 227.7 593 234.7 593.6 240.4C594.2 246.1 595.1 255.3 595.9 263C596.7 270.6 597.6 280.1 598.4 288.1C599.2 296.2 600.1 306.4 600.9 313.3C601.8 320.1 602.8 326.4 603.7 330.8C604.6 335.3 605.6 338.6 606.7 340.9C607.8 343.2 608.7 344.4 610.5 345.4C612.3 346.5 615.6 347 618 347.4C620.4 347.8 623.3 348 625.6 347.9C627.8 347.9 629.8 347.2 631.8 346.9C633.8 346.6 636.3 346.1 638.1 346.2C639.9 346.2 641.5 346.8 643.1 347.2C644.8 347.6 646.6 348.3 648.2 348.7C649.8 349 646.6 349.3 653.2 349.4C659.8 349.5 683.8 349.4 689.6 349.4" fill="none" stroke="#ee5a5d" stroke-width="1.1" stroke-linejoin="round"/>
<line x1="546.4" y1="240" x2="549.4" y2="240" stroke="#7a7a7a" stroke-width="0.8"/>
<text x="545.1" y="241.8" font-size="5.3" text-anchor="end" fill="#3a3a3a">150</text>
<line x1="546.4" y1="276.5" x2="549.4" y2="276.5" stroke="#7a7a7a" stroke-width="0.8"/>
<text x="545.1" y="278.3" font-size="5.3" text-anchor="end" fill="#3a3a3a">100</text>
<line x1="546.4" y1="313.4" x2="549.4" y2="313.4" stroke="#7a7a7a" stroke-width="0.8"/>
<text x="545.1" y="315.2" font-size="5.3" text-anchor="end" fill="#3a3a3a">50</text>
<line x1="546.4" y1="349.6" x2="549.4" y2="349.6" stroke="#7a7a7a" stroke-width="0.8"/>
<text x="545.1" y="351.4" font-size="5.3" text-anchor="end" fill="#3a3a3a">0</text>
<line x1="547.8" y1="342.3" x2="549.4" y2="342.3" stroke="#7a7a7a" stroke-width="0.5"/>
<line x1="547.8" y1="335" x2="549.4" y2="335" stroke="#7a7a7a" stroke-width="0.5"/>
<line x1="547.8" y1="327.7" x2="549.4" y2="327.7" stroke="#7a7a7a" stroke-width="0.5"/>
<line x1="547.8" y1="320.4" x2="549.4" y2="320.4" stroke="#7a7a7a" stroke-width="0.5"/>
<line x1="547.8" y1="305.8" x2="549.4" y2="305.8" stroke="#7a7a7a" stroke-width="0.5"/>
<line x1="547.8" y1="298.5" x2="549.4" y2="298.5" stroke="#7a7a7a" stroke-width="0.5"/>
<line x1="547.8" y1="291.1" x2="549.4" y2="291.1" stroke="#7a7a7a" stroke-width="0.5"/>
<line x1="547.8" y1="283.8" x2="549.4" y2="283.8" stroke="#7a7a7a" stroke-width="0.5"/>
<line x1="547.8" y1="269.2" x2="549.4" y2="269.2" stroke="#7a7a7a" stroke-width="0.5"/>
<line x1="547.8" y1="261.9" x2="549.4" y2="261.9" stroke="#7a7a7a" stroke-width="0.5"/>
<line x1="547.8" y1="254.6" x2="549.4" y2="254.6" stroke="#7a7a7a" stroke-width="0.5"/>
<line x1="547.8" y1="247.3" x2="549.4" y2="247.3" stroke="#7a7a7a" stroke-width="0.5"/>
<line x1="547.8" y1="232.7" x2="549.4" y2="232.7" stroke="#7a7a7a" stroke-width="0.5"/>
<line x1="547.8" y1="225.4" x2="549.4" y2="225.4" stroke="#7a7a7a" stroke-width="0.5"/>
<line x1="547.8" y1="218.1" x2="549.4" y2="218.1" stroke="#7a7a7a" stroke-width="0.5"/>
<line x1="549.4" y1="349.7" x2="549.4" y2="352.9" stroke="#7a7a7a" stroke-width="0.8"/>
<line x1="556.4" y1="349.7" x2="556.4" y2="351.3" stroke="#7a7a7a" stroke-width="0.5"/>
<line x1="560.5" y1="349.7" x2="560.5" y2="351.3" stroke="#7a7a7a" stroke-width="0.5"/>
<line x1="563.4" y1="349.7" x2="563.4" y2="351.3" stroke="#7a7a7a" stroke-width="0.5"/>
<line x1="565.7" y1="349.7" x2="565.7" y2="351.3" stroke="#7a7a7a" stroke-width="0.5"/>
<line x1="567.5" y1="349.7" x2="567.5" y2="351.3" stroke="#7a7a7a" stroke-width="0.5"/>
<line x1="569.1" y1="349.7" x2="569.1" y2="351.3" stroke="#7a7a7a" stroke-width="0.5"/>
<line x1="570.4" y1="349.7" x2="570.4" y2="351.3" stroke="#7a7a7a" stroke-width="0.5"/>
<line x1="571.6" y1="349.7" x2="571.6" y2="351.3" stroke="#7a7a7a" stroke-width="0.5"/>
<text x="555" y="366.4" font-size="5.4" fill="#3a3a3a" text-anchor="middle">10<tspan dy="-2.6" dx="0.3" font-size="4">0</tspan></text>
<line x1="572.7" y1="349.7" x2="572.7" y2="352.9" stroke="#7a7a7a" stroke-width="0.8"/>
<line x1="579.7" y1="349.7" x2="579.7" y2="351.3" stroke="#7a7a7a" stroke-width="0.5"/>
<line x1="583.8" y1="349.7" x2="583.8" y2="351.3" stroke="#7a7a7a" stroke-width="0.5"/>
<line x1="586.7" y1="349.7" x2="586.7" y2="351.3" stroke="#7a7a7a" stroke-width="0.5"/>
<line x1="589" y1="349.7" x2="589" y2="351.3" stroke="#7a7a7a" stroke-width="0.5"/>
<line x1="590.8" y1="349.7" x2="590.8" y2="351.3" stroke="#7a7a7a" stroke-width="0.5"/>
<line x1="592.4" y1="349.7" x2="592.4" y2="351.3" stroke="#7a7a7a" stroke-width="0.5"/>
<line x1="593.7" y1="349.7" x2="593.7" y2="351.3" stroke="#7a7a7a" stroke-width="0.5"/>
<line x1="594.9" y1="349.7" x2="594.9" y2="351.3" stroke="#7a7a7a" stroke-width="0.5"/>
<text x="578.3" y="366.4" font-size="5.4" fill="#3a3a3a" text-anchor="middle">10<tspan dy="-2.6" dx="0.3" font-size="4">1</tspan></text>
<line x1="596" y1="349.7" x2="596" y2="352.9" stroke="#7a7a7a" stroke-width="0.8"/>
<line x1="603" y1="349.7" x2="603" y2="351.3" stroke="#7a7a7a" stroke-width="0.5"/>
<line x1="607.1" y1="349.7" x2="607.1" y2="351.3" stroke="#7a7a7a" stroke-width="0.5"/>
<line x1="610" y1="349.7" x2="610" y2="351.3" stroke="#7a7a7a" stroke-width="0.5"/>
<line x1="612.3" y1="349.7" x2="612.3" y2="351.3" stroke="#7a7a7a" stroke-width="0.5"/>
<line x1="614.1" y1="349.7" x2="614.1" y2="351.3" stroke="#7a7a7a" stroke-width="0.5"/>
<line x1="615.7" y1="349.7" x2="615.7" y2="351.3" stroke="#7a7a7a" stroke-width="0.5"/>
<line x1="617" y1="349.7" x2="617" y2="351.3" stroke="#7a7a7a" stroke-width="0.5"/>
<line x1="618.2" y1="349.7" x2="618.2" y2="351.3" stroke="#7a7a7a" stroke-width="0.5"/>
<text x="601.6" y="366.4" font-size="5.4" fill="#3a3a3a" text-anchor="middle">10<tspan dy="-2.6" dx="0.3" font-size="4">2</tspan></text>
<line x1="619.3" y1="349.7" x2="619.3" y2="352.9" stroke="#7a7a7a" stroke-width="0.8"/>
<line x1="626.3" y1="349.7" x2="626.3" y2="351.3" stroke="#7a7a7a" stroke-width="0.5"/>
<line x1="630.4" y1="349.7" x2="630.4" y2="351.3" stroke="#7a7a7a" stroke-width="0.5"/>
<line x1="633.3" y1="349.7" x2="633.3" y2="351.3" stroke="#7a7a7a" stroke-width="0.5"/>
<line x1="635.6" y1="349.7" x2="635.6" y2="351.3" stroke="#7a7a7a" stroke-width="0.5"/>
<line x1="637.4" y1="349.7" x2="637.4" y2="351.3" stroke="#7a7a7a" stroke-width="0.5"/>
<line x1="639" y1="349.7" x2="639" y2="351.3" stroke="#7a7a7a" stroke-width="0.5"/>
<line x1="640.3" y1="349.7" x2="640.3" y2="351.3" stroke="#7a7a7a" stroke-width="0.5"/>
<line x1="641.5" y1="349.7" x2="641.5" y2="351.3" stroke="#7a7a7a" stroke-width="0.5"/>
<text x="624.9" y="366.4" font-size="5.4" fill="#3a3a3a" text-anchor="middle">10<tspan dy="-2.6" dx="0.3" font-size="4">3</tspan></text>
<line x1="642.6" y1="349.7" x2="642.6" y2="352.9" stroke="#7a7a7a" stroke-width="0.8"/>
<line x1="649.6" y1="349.7" x2="649.6" y2="351.3" stroke="#7a7a7a" stroke-width="0.5"/>
<line x1="653.7" y1="349.7" x2="653.7" y2="351.3" stroke="#7a7a7a" stroke-width="0.5"/>
<line x1="656.6" y1="349.7" x2="656.6" y2="351.3" stroke="#7a7a7a" stroke-width="0.5"/>
<line x1="658.9" y1="349.7" x2="658.9" y2="351.3" stroke="#7a7a7a" stroke-width="0.5"/>
<line x1="660.7" y1="349.7" x2="660.7" y2="351.3" stroke="#7a7a7a" stroke-width="0.5"/>
<line x1="662.3" y1="349.7" x2="662.3" y2="351.3" stroke="#7a7a7a" stroke-width="0.5"/>
<line x1="663.6" y1="349.7" x2="663.6" y2="351.3" stroke="#7a7a7a" stroke-width="0.5"/>
<line x1="664.8" y1="349.7" x2="664.8" y2="351.3" stroke="#7a7a7a" stroke-width="0.5"/>
<text x="648.2" y="366.4" font-size="5.4" fill="#3a3a3a" text-anchor="middle">10<tspan dy="-2.6" dx="0.3" font-size="4">4</tspan></text>
<line x1="665.9" y1="349.7" x2="665.9" y2="352.9" stroke="#7a7a7a" stroke-width="0.8"/>
<line x1="672.9" y1="349.7" x2="672.9" y2="351.3" stroke="#7a7a7a" stroke-width="0.5"/>
<line x1="677" y1="349.7" x2="677" y2="351.3" stroke="#7a7a7a" stroke-width="0.5"/>
<line x1="679.9" y1="349.7" x2="679.9" y2="351.3" stroke="#7a7a7a" stroke-width="0.5"/>
<line x1="682.2" y1="349.7" x2="682.2" y2="351.3" stroke="#7a7a7a" stroke-width="0.5"/>
<line x1="684" y1="349.7" x2="684" y2="351.3" stroke="#7a7a7a" stroke-width="0.5"/>
<line x1="685.6" y1="349.7" x2="685.6" y2="351.3" stroke="#7a7a7a" stroke-width="0.5"/>
<line x1="686.9" y1="349.7" x2="686.9" y2="351.3" stroke="#7a7a7a" stroke-width="0.5"/>
<line x1="688.1" y1="349.7" x2="688.1" y2="351.3" stroke="#7a7a7a" stroke-width="0.5"/>
<text x="671.5" y="366.4" font-size="5.4" fill="#3a3a3a" text-anchor="middle">10<tspan dy="-2.6" dx="0.3" font-size="4">5</tspan></text>
<line x1="689.2" y1="349.7" x2="689.2" y2="352.9" stroke="#7a7a7a" stroke-width="0.8"/>
<text x="686" y="366.4" font-size="5.4" fill="#3a3a3a" text-anchor="middle">10<tspan dy="-2.6" dx="0.3" font-size="4">6</tspan></text>
<line x1="599.9" y1="320.3" x2="681.3" y2="320.3" stroke="#333" stroke-width="1"/>
<line x1="599.9" y1="317.7" x2="599.9" y2="322.9" stroke="#333" stroke-width="1"/>
<line x1="681.3" y1="317.7" x2="681.3" y2="322.9" stroke="#333" stroke-width="1"/>
<text x="640.9" y="308.7" font-size="12.8" font-weight="bold" text-anchor="middle" fill="#111">16.3</text>
<line x1="44.7" y1="366.8" x2="44.7" y2="253.5" stroke="#000" stroke-width="2.7"/>
<path d="M44.7 244.4L50 255.4L39.4 255.4Z" fill="#000"/>
<line x1="43.4" y1="365.5" x2="184.5" y2="365.5" stroke="#000" stroke-width="2.7"/>
<path d="M193.8 365.5L182.8 370.8L182.8 360.2Z" fill="#000"/>
<text x="34" y="314.8" font-size="16.6" font-weight="bold" text-anchor="middle" textLength="48.4" lengthAdjust="spacingAndGlyphs" transform="rotate(-90 34 314.8)">Count</text>
<text x="76.7" y="386.6" font-size="17.4" font-weight="bold" fill="#e1242b" textLength="72.1" lengthAdjust="spacingAndGlyphs">MitoSOX</text>
<rect x="65.2" y="421.8" width="152" height="156.6" fill="#030402"/>
<g style="isolation:isolate" transform="translate(65.2 421.8)">
<use href="#e0g"/>
<use href="#e0r" style="mix-blend-mode:screen"/>
</g>
<rect x="65.2" y="583.1" width="73.7" height="76.2" fill="#030402"/>
<use href="#e0g" opacity="0.72" transform="translate(65.2 583.1) scale(0.4849 0.4854)"/>
<rect x="143.5" y="583.1" width="73.7" height="76.2" fill="#030402"/>
<use href="#e0r" opacity="0.85" transform="translate(143.5 583.1) scale(0.4849 0.4854)"/>
<rect x="220.2" y="421.8" width="152" height="156.6" fill="#030402"/>
<g style="isolation:isolate" transform="translate(220.2 421.8)">
<use href="#e1g"/>
<use href="#e1r" style="mix-blend-mode:screen"/>
</g>
<rect x="220.2" y="583.1" width="73.7" height="76.2" fill="#030402"/>
<use href="#e1g" opacity="0.72" transform="translate(220.2 583.1) scale(0.4849 0.4854)"/>
<rect x="298.5" y="583.1" width="73.7" height="76.2" fill="#030402"/>
<use href="#e1r" opacity="0.85" transform="translate(298.5 583.1) scale(0.4849 0.4854)"/>
<rect x="375.1" y="421.8" width="152" height="156.6" fill="#030402"/>
<g style="isolation:isolate" transform="translate(375.1 421.8)">
<use href="#e2g"/>
<use href="#e2r" style="mix-blend-mode:screen"/>
</g>
<rect x="375.1" y="583.1" width="73.7" height="76.2" fill="#030402"/>
<use href="#e2g" opacity="0.72" transform="translate(375.1 583.1) scale(0.4849 0.4854)"/>
<rect x="453.4" y="583.1" width="73.7" height="76.2" fill="#030402"/>
<use href="#e2r" opacity="0.85" transform="translate(453.4 583.1) scale(0.4849 0.4854)"/>
<rect x="530" y="421.8" width="152" height="156.6" fill="#030402"/>
<g style="isolation:isolate" transform="translate(530 421.8)">
<use href="#e3g"/>
<use href="#e3r" style="mix-blend-mode:screen"/>
</g>
<rect x="530" y="583.1" width="73.7" height="76.2" fill="#030402"/>
<use href="#e3g" opacity="0.72" transform="translate(530 583.1) scale(0.4849 0.4854)"/>
<rect x="608.3" y="583.1" width="73.7" height="76.2" fill="#030402"/>
<use href="#e3r" opacity="0.85" transform="translate(608.3 583.1) scale(0.4849 0.4854)"/>
<rect x="657.2" y="566.1" width="18.6" height="4.3" fill="#fff"/>
<rect x="664.6" y="646.6" width="9.4" height="3" fill="#fff"/>
<rect x="766.9" y="180.4" width="26.3" height="18.9" fill="#000000"/>
<line x1="780" y1="180.9" x2="780" y2="175.4" stroke="#000" stroke-width="2"/>
<line x1="773.4" y1="175.4" x2="786.6" y2="175.4" stroke="#000" stroke-width="2"/>
<rect x="801.5" y="95.2" width="26.4" height="104.1" fill="#9c9ea9"/>
<line x1="814.7" y1="95.7" x2="814.7" y2="81.3" stroke="#000" stroke-width="2"/>
<line x1="808.1" y1="81.3" x2="821.3" y2="81.3" stroke="#000" stroke-width="2"/>
<rect x="836.2" y="104.6" width="26.4" height="94.7" fill="#7e827d"/>
<line x1="849.4" y1="105.1" x2="849.4" y2="85.2" stroke="#000" stroke-width="2"/>
<line x1="842.8" y1="85.2" x2="856" y2="85.2" stroke="#000" stroke-width="2"/>
<rect x="870.9" y="167" width="26.4" height="32.3" fill="#d8d9d4"/>
<line x1="884.1" y1="167.5" x2="884.1" y2="153.2" stroke="#000" stroke-width="2"/>
<line x1="877.5" y1="153.2" x2="890.7" y2="153.2" stroke="#000" stroke-width="2"/>
<rect x="752.6" y="42.1" width="158.7" height="157.2" fill="none" stroke="#000" stroke-width="1.6"/>
<line x1="746.6" y1="42.1" x2="752.6" y2="42.1" stroke="#000" stroke-width="1.6"/>
<text x="744.7" y="46" font-size="10.9" font-weight="bold" text-anchor="end">8</text>
<line x1="746.6" y1="81.3" x2="752.6" y2="81.3" stroke="#000" stroke-width="1.6"/>
<text x="744.7" y="85.2" font-size="10.9" font-weight="bold" text-anchor="end">6</text>
<line x1="746.6" y1="120.8" x2="752.6" y2="120.8" stroke="#000" stroke-width="1.6"/>
<text x="744.7" y="124.7" font-size="10.9" font-weight="bold" text-anchor="end">4</text>
<line x1="746.6" y1="160.2" x2="752.6" y2="160.2" stroke="#000" stroke-width="1.6"/>
<text x="744.7" y="164.1" font-size="10.9" font-weight="bold" text-anchor="end">2</text>
<line x1="746.6" y1="199.3" x2="752.6" y2="199.3" stroke="#000" stroke-width="1.6"/>
<text x="744.7" y="203.2" font-size="10.9" font-weight="bold" text-anchor="end">0</text>
<line x1="780" y1="199.3" x2="780" y2="206.1" stroke="#000" stroke-width="1.6"/>
<line x1="814.7" y1="199.3" x2="814.7" y2="206.1" stroke="#000" stroke-width="1.6"/>
<line x1="849.4" y1="199.3" x2="849.4" y2="206.1" stroke="#000" stroke-width="1.6"/>
<line x1="884.1" y1="199.3" x2="884.1" y2="206.1" stroke="#000" stroke-width="1.6"/>
<text x="828.4" y="38.8" font-size="12.3" font-weight="bold" text-anchor="middle">DCFH</text>
<text x="715.6" y="121.3" font-size="12.6" font-weight="bold" text-anchor="middle" textLength="115.7" lengthAdjust="spacingAndGlyphs" transform="rotate(-90 715.6 121.3)">Mean fluorescence</text>
<text x="729.9" y="121.5" font-size="12.6" font-weight="bold" text-anchor="middle" textLength="144.3" lengthAdjust="spacingAndGlyphs" transform="rotate(-90 729.9 121.5)">intensity (Fold Change)</text>
<text x="814.6" y="84.3" font-size="16.5" text-anchor="middle" stroke="#000" stroke-width="0.35">**</text>
<text x="849.2" y="88.6" font-size="16.5" text-anchor="middle" stroke="#000" stroke-width="0.35">**</text>
<polyline points="816.8,69.9 846.2,69.9" fill="none" stroke="#111" stroke-width="1.2"/>
<text x="831.5" y="68.3" font-size="13.2" text-anchor="middle">ns</text>
<polyline points="828.7,59.5 828.7,56.9 883.7,56.9 883.7,136" fill="none" stroke="#111" stroke-width="1.2"/>
<text x="855.9" y="53.8" font-size="9.2" font-weight="bold" text-anchor="middle" textLength="11.8" lengthAdjust="spacingAndGlyphs" stroke="#000" stroke-width="0.35">##</text>
<text x="884.2" y="149.8" font-size="13.2" text-anchor="middle">ns</text>
<rect x="766.9" y="357.3" width="26.3" height="24.2" fill="#000000"/>
<line x1="780" y1="357.8" x2="780" y2="345.4" stroke="#000" stroke-width="2"/>
<line x1="773.4" y1="345.4" x2="786.6" y2="345.4" stroke="#000" stroke-width="2"/>
<rect x="801.5" y="270.5" width="26.7" height="111" fill="#9c9ea9"/>
<line x1="814.9" y1="271" x2="814.9" y2="262.7" stroke="#000" stroke-width="2"/>
<line x1="808.2" y1="262.7" x2="821.5" y2="262.7" stroke="#000" stroke-width="2"/>
<rect x="836.5" y="288.5" width="26.9" height="93" fill="#7e827d"/>
<line x1="850" y1="289" x2="850" y2="274.6" stroke="#000" stroke-width="2"/>
<line x1="843.4" y1="274.6" x2="856.6" y2="274.6" stroke="#000" stroke-width="2"/>
<rect x="871.7" y="324.9" width="27" height="56.6" fill="#d8d9d4"/>
<line x1="885.2" y1="325.4" x2="885.2" y2="312.6" stroke="#000" stroke-width="2"/>
<line x1="878.6" y1="312.6" x2="891.8" y2="312.6" stroke="#000" stroke-width="2"/>
<rect x="752.6" y="222.5" width="160.2" height="159" fill="none" stroke="#000" stroke-width="1.6"/>
<line x1="746.6" y1="222.5" x2="752.6" y2="222.5" stroke="#000" stroke-width="1.6"/>
<text x="744.7" y="226.4" font-size="10.9" font-weight="bold" text-anchor="end">50</text>
<line x1="746.6" y1="254" x2="752.6" y2="254" stroke="#000" stroke-width="1.6"/>
<text x="744.7" y="257.9" font-size="10.9" font-weight="bold" text-anchor="end">40</text>
<line x1="746.6" y1="285.8" x2="752.6" y2="285.8" stroke="#000" stroke-width="1.6"/>
<text x="744.7" y="289.7" font-size="10.9" font-weight="bold" text-anchor="end">30</text>
<line x1="746.6" y1="317.6" x2="752.6" y2="317.6" stroke="#000" stroke-width="1.6"/>
<text x="744.7" y="321.5" font-size="10.9" font-weight="bold" text-anchor="end">20</text>
<line x1="746.6" y1="349.6" x2="752.6" y2="349.6" stroke="#000" stroke-width="1.6"/>
<text x="744.7" y="353.5" font-size="10.9" font-weight="bold" text-anchor="end">10</text>
<line x1="746.6" y1="381.5" x2="752.6" y2="381.5" stroke="#000" stroke-width="1.6"/>
<text x="744.7" y="385.4" font-size="10.9" font-weight="bold" text-anchor="end">0</text>
<line x1="780" y1="381.5" x2="780" y2="388.3" stroke="#000" stroke-width="1.6"/>
<line x1="814.9" y1="381.5" x2="814.9" y2="388.3" stroke="#000" stroke-width="1.6"/>
<line x1="850" y1="381.5" x2="850" y2="388.3" stroke="#000" stroke-width="1.6"/>
<line x1="885.2" y1="381.5" x2="885.2" y2="388.3" stroke="#000" stroke-width="1.6"/>
<text x="0" y="0" font-size="15" font-weight="bold" text-anchor="middle" font-style="italic"></text>
<text x="724.8" y="302" font-size="12.3" font-weight="bold" text-anchor="middle" textLength="156.5" lengthAdjust="spacingAndGlyphs" transform="rotate(-90 724.8 302)">MitoSOX positive rate(%)</text>
<text x="814.6" y="264.7" font-size="16.5" text-anchor="middle" stroke="#000" stroke-width="0.35">**</text>
<text x="849.8" y="276.6" font-size="16.5" text-anchor="middle" stroke="#000" stroke-width="0.35">**</text>
<text x="885.2" y="315.3" font-size="16.5" text-anchor="middle" stroke="#000" stroke-width="0.35">*</text>
<polyline points="816.2,251 846.2,251" fill="none" stroke="#111" stroke-width="1.2"/>
<text x="831" y="249.4" font-size="13.2" text-anchor="middle">ns</text>
<polyline points="828.2,238.8 828.2,236.3 883.7,236.3 883.7,289.9" fill="none" stroke="#111" stroke-width="1.2"/>
<text x="853.7" y="234.3" font-size="9.2" font-weight="bold" text-anchor="middle" textLength="5.8" lengthAdjust="spacingAndGlyphs" stroke="#000" stroke-width="0.35">#</text>
<rect x="763.5" y="466.9" width="26.9" height="108.2" fill="#000000"/>
<line x1="777" y1="467.4" x2="777" y2="458.5" stroke="#000" stroke-width="2"/>
<line x1="770.4" y1="458.5" x2="783.6" y2="458.5" stroke="#000" stroke-width="2"/>
<rect x="799" y="541.2" width="27" height="33.9" fill="#9c9ea9"/>
<line x1="812.5" y1="541.7" x2="812.5" y2="531.5" stroke="#000" stroke-width="2"/>
<line x1="805.9" y1="531.5" x2="819.1" y2="531.5" stroke="#000" stroke-width="2"/>
<rect x="834.8" y="544.5" width="27.2" height="30.6" fill="#7e827d"/>
<line x1="848.4" y1="545" x2="848.4" y2="535.4" stroke="#000" stroke-width="2"/>
<line x1="841.8" y1="535.4" x2="855" y2="535.4" stroke="#000" stroke-width="2"/>
<rect x="870.6" y="482.1" width="27.5" height="93" fill="#d8d9d4"/>
<line x1="884.4" y1="482.6" x2="884.4" y2="466.9" stroke="#000" stroke-width="2"/>
<line x1="877.8" y1="466.9" x2="891" y2="466.9" stroke="#000" stroke-width="2"/>
<rect x="749.2" y="412.7" width="163.6" height="162.4" fill="none" stroke="#000" stroke-width="1.6"/>
<line x1="743.2" y1="412.7" x2="749.2" y2="412.7" stroke="#000" stroke-width="1.6"/>
<text x="741.3" y="416.6" font-size="10.9" font-weight="bold" text-anchor="end">1.5</text>
<line x1="743.2" y1="466.9" x2="749.2" y2="466.9" stroke="#000" stroke-width="1.6"/>
<text x="741.3" y="470.8" font-size="10.9" font-weight="bold" text-anchor="end">1.0</text>
<line x1="743.2" y1="521" x2="749.2" y2="521" stroke="#000" stroke-width="1.6"/>
<text x="741.3" y="524.9" font-size="10.9" font-weight="bold" text-anchor="end">0.5</text>
<line x1="743.2" y1="575.1" x2="749.2" y2="575.1" stroke="#000" stroke-width="1.6"/>
<text x="741.3" y="579" font-size="10.9" font-weight="bold" text-anchor="end">0.0</text>
<line x1="777" y1="575.1" x2="777" y2="581.9" stroke="#000" stroke-width="1.6"/>
<line x1="812.5" y1="575.1" x2="812.5" y2="581.9" stroke="#000" stroke-width="1.6"/>
<line x1="848.4" y1="575.1" x2="848.4" y2="581.9" stroke="#000" stroke-width="1.6"/>
<line x1="884.4" y1="575.1" x2="884.4" y2="581.9" stroke="#000" stroke-width="1.6"/>
<text x="828.7" y="406.8" font-size="12.3" font-weight="bold" text-anchor="middle">JC-1</text>
<text x="701.6" y="493.8" font-size="12.6" font-weight="bold" text-anchor="middle" textLength="113.8" lengthAdjust="spacingAndGlyphs" transform="rotate(-90 701.6 493.8)">Polymer/Monomer</text>
<text x="717.6" y="494.2" font-size="12.6" font-weight="bold" text-anchor="middle" textLength="89.6" lengthAdjust="spacingAndGlyphs" transform="rotate(-90 717.6 494.2)">(Fold Change)</text>
<text x="812.4" y="534.6" font-size="16.5" text-anchor="middle" stroke="#000" stroke-width="0.35">**</text>
<text x="848.2" y="538.3" font-size="16.5" text-anchor="middle" stroke="#000" stroke-width="0.35">**</text>
<polyline points="809.9,519.6 853.2,519.6" fill="none" stroke="#111" stroke-width="1.2"/>
<text x="832.1" y="514.6" font-size="13.2" text-anchor="middle">ns</text>
<polyline points="831.5,503.8 831.5,436.9 885.6,436.9 885.6,451.6" fill="none" stroke="#111" stroke-width="1.2"/>
<text x="858.4" y="434.1" font-size="9.2" font-weight="bold" text-anchor="middle" textLength="11.8" lengthAdjust="spacingAndGlyphs" stroke="#000" stroke-width="0.35">##</text>
<text x="884.2" y="462.4" font-size="13.2" text-anchor="middle">ns</text>
<rect x="101.7" y="758.5" width="28.9" height="113.4" fill="#000000"/>
<line x1="116.2" y1="759" x2="116.2" y2="750.5" stroke="#000" stroke-width="2"/>
<line x1="109.6" y1="750.5" x2="122.8" y2="750.5" stroke="#000" stroke-width="2"/>
<rect x="139.4" y="842.2" width="28.9" height="29.7" fill="#9c9ea9"/>
<line x1="153.9" y1="842.7" x2="153.9" y2="828.9" stroke="#000" stroke-width="2"/>
<line x1="147.3" y1="828.9" x2="160.5" y2="828.9" stroke="#000" stroke-width="2"/>
<rect x="176.6" y="844.2" width="28.9" height="27.7" fill="#7e827d"/>
<line x1="191.1" y1="844.7" x2="191.1" y2="836.7" stroke="#000" stroke-width="2"/>
<line x1="184.5" y1="836.7" x2="197.7" y2="836.7" stroke="#000" stroke-width="2"/>
<rect x="214.3" y="778.1" width="28.9" height="93.8" fill="#d8d9d4"/>
<line x1="228.8" y1="778.6" x2="228.8" y2="761.8" stroke="#000" stroke-width="2"/>
<line x1="222.2" y1="761.8" x2="235.3" y2="761.8" stroke="#000" stroke-width="2"/>
<rect x="87.6" y="701.6" width="170.1" height="170.3" fill="none" stroke="#000" stroke-width="1.6"/>
<line x1="81.6" y1="701.6" x2="87.6" y2="701.6" stroke="#000" stroke-width="1.6"/>
<text x="79.7" y="705.5" font-size="10.9" font-weight="bold" text-anchor="end">1.5</text>
<line x1="81.6" y1="758.5" x2="87.6" y2="758.5" stroke="#000" stroke-width="1.6"/>
<text x="79.7" y="762.4" font-size="10.9" font-weight="bold" text-anchor="end">1.0</text>
<line x1="81.6" y1="815.3" x2="87.6" y2="815.3" stroke="#000" stroke-width="1.6"/>
<text x="79.7" y="819.2" font-size="10.9" font-weight="bold" text-anchor="end">0.5</text>
<line x1="81.6" y1="871.9" x2="87.6" y2="871.9" stroke="#000" stroke-width="1.6"/>
<text x="79.7" y="875.8" font-size="10.9" font-weight="bold" text-anchor="end">0.0</text>
<line x1="116.2" y1="871.9" x2="116.2" y2="878.7" stroke="#000" stroke-width="1.6"/>
<line x1="153.9" y1="871.9" x2="153.9" y2="878.7" stroke="#000" stroke-width="1.6"/>
<line x1="191.1" y1="871.9" x2="191.1" y2="878.7" stroke="#000" stroke-width="1.6"/>
<line x1="228.8" y1="871.9" x2="228.8" y2="878.7" stroke="#000" stroke-width="1.6"/>
<text x="172.3" y="693.9" font-size="15" font-weight="bold" text-anchor="middle" font-style="italic" textLength="43.2" lengthAdjust="spacingAndGlyphs">SOD1</text>
<text stroke="#000" stroke-width="0.22" x="53.8" y="787.2" font-size="14.4" text-anchor="middle" textLength="179" lengthAdjust="spacingAndGlyphs" transform="rotate(-90 53.8 787.2)">Relative mRNA Expression</text>
<text x="153.7" y="832" font-size="16.5" text-anchor="middle" stroke="#000" stroke-width="0.35">**</text>
<text x="190.9" y="839.8" font-size="16.5" text-anchor="middle" stroke="#000" stroke-width="0.35">**</text>
<text x="228.3" y="756" font-size="13.2" text-anchor="middle">ns</text>
<text x="204" y="728.1" font-size="9.2" font-weight="bold" text-anchor="middle" textLength="11.8" lengthAdjust="spacingAndGlyphs" stroke="#000" stroke-width="0.35">##</text>
<polyline points="148.2,811.5 197.9,811.5" fill="none" stroke="#2b3a8f" stroke-width="1.3"/>
<polyline points="172.8,811.5 172.8,731.1 231.1,731.1 231.1,739.9" fill="none" stroke="#2b3a8f" stroke-width="1.2"/>
<rect x="316.6" y="815.8" width="28.1" height="56.1" fill="#000000"/>
<line x1="330.6" y1="816.3" x2="330.6" y2="812.6" stroke="#000" stroke-width="2"/>
<line x1="324" y1="812.6" x2="337.2" y2="812.6" stroke="#000" stroke-width="2"/>
<rect x="353.8" y="797" width="28.6" height="74.9" fill="#9c9ea9"/>
<line x1="368.1" y1="797.5" x2="368.1" y2="783.9" stroke="#000" stroke-width="2"/>
<line x1="361.5" y1="783.9" x2="374.7" y2="783.9" stroke="#000" stroke-width="2"/>
<rect x="391.2" y="796.5" width="28.9" height="75.4" fill="#7e827d"/>
<line x1="405.6" y1="797" x2="405.6" y2="789.4" stroke="#000" stroke-width="2"/>
<line x1="399" y1="789.4" x2="412.2" y2="789.4" stroke="#000" stroke-width="2"/>
<rect x="428.4" y="757.5" width="28.4" height="114.4" fill="#d8d9d4"/>
<line x1="442.6" y1="758" x2="442.6" y2="734.9" stroke="#000" stroke-width="2"/>
<line x1="436" y1="734.9" x2="449.2" y2="734.9" stroke="#000" stroke-width="2"/>
<rect x="301.6" y="702" width="171" height="169.9" fill="none" stroke="#000" stroke-width="1.6"/>
<line x1="295.6" y1="702" x2="301.6" y2="702" stroke="#000" stroke-width="1.6"/>
<text x="293.7" y="705.9" font-size="10.9" font-weight="bold" text-anchor="end">3</text>
<line x1="295.6" y1="758.5" x2="301.6" y2="758.5" stroke="#000" stroke-width="1.6"/>
<text x="293.7" y="762.4" font-size="10.9" font-weight="bold" text-anchor="end">2</text>
<line x1="295.6" y1="815.3" x2="301.6" y2="815.3" stroke="#000" stroke-width="1.6"/>
<text x="293.7" y="819.2" font-size="10.9" font-weight="bold" text-anchor="end">1</text>
<line x1="295.6" y1="871.9" x2="301.6" y2="871.9" stroke="#000" stroke-width="1.6"/>
<text x="293.7" y="875.8" font-size="10.9" font-weight="bold" text-anchor="end">0</text>
<line x1="330.6" y1="871.9" x2="330.6" y2="878.7" stroke="#000" stroke-width="1.6"/>
<line x1="368.1" y1="871.9" x2="368.1" y2="878.7" stroke="#000" stroke-width="1.6"/>
<line x1="405.6" y1="871.9" x2="405.6" y2="878.7" stroke="#000" stroke-width="1.6"/>
<line x1="442.6" y1="871.9" x2="442.6" y2="878.7" stroke="#000" stroke-width="1.6"/>
<text x="387" y="693.9" font-size="15" font-weight="bold" text-anchor="middle" font-style="italic" textLength="43.7" lengthAdjust="spacingAndGlyphs">SOD2</text>
<text stroke="#000" stroke-width="0.22" x="278.8" y="786.9" font-size="14.4" text-anchor="middle" textLength="178.5" lengthAdjust="spacingAndGlyphs" transform="rotate(-90 278.8 786.9)">Relative mRNA Expression</text>
<text x="367.4" y="781.4" font-size="13.2" text-anchor="middle">ns</text>
<text x="405.8" y="784.4" font-size="13.2" text-anchor="middle">ns</text>
<text x="442.5" y="737.7" font-size="16.5" text-anchor="middle" stroke="#000" stroke-width="0.35">**</text>
<text x="412.9" y="714.8" font-size="9.2" font-weight="bold" text-anchor="middle" textLength="11.8" lengthAdjust="spacingAndGlyphs" stroke="#000" stroke-width="0.35">##</text>
<polyline points="366.9,762.3 407.8,762.3" fill="none" stroke="#2b3a8f" stroke-width="1.3"/>
<polyline points="386.5,762.3 386.5,716.5 443.5,716.5 443.5,724.1" fill="none" stroke="#2b3a8f" stroke-width="1.2"/>
<rect x="541.1" y="787.4" width="28.7" height="84.5" fill="#000000"/>
<line x1="555.5" y1="787.9" x2="555.5" y2="783.1" stroke="#000" stroke-width="2"/>
<line x1="548.9" y1="783.1" x2="562.1" y2="783.1" stroke="#000" stroke-width="2"/>
<rect x="578.6" y="830.4" width="28.4" height="41.5" fill="#9c9ea9"/>
<line x1="592.8" y1="830.9" x2="592.8" y2="821.1" stroke="#000" stroke-width="2"/>
<line x1="586.2" y1="821.1" x2="599.4" y2="821.1" stroke="#000" stroke-width="2"/>
<rect x="615.8" y="824.1" width="28.4" height="47.8" fill="#7e827d"/>
<line x1="630" y1="824.6" x2="630" y2="812" stroke="#000" stroke-width="2"/>
<line x1="623.4" y1="812" x2="636.6" y2="812" stroke="#000" stroke-width="2"/>
<rect x="653" y="756.3" width="28.1" height="115.6" fill="#d8d9d4"/>
<line x1="667" y1="756.8" x2="667" y2="739.4" stroke="#000" stroke-width="2"/>
<line x1="660.4" y1="739.4" x2="673.6" y2="739.4" stroke="#000" stroke-width="2"/>
<rect x="526.6" y="702" width="170.2" height="169.9" fill="none" stroke="#000" stroke-width="1.6"/>
<line x1="520.6" y1="702" x2="526.6" y2="702" stroke="#000" stroke-width="1.6"/>
<text x="518.7" y="705.9" font-size="10.9" font-weight="bold" text-anchor="end">2.0</text>
<line x1="520.6" y1="744.6" x2="526.6" y2="744.6" stroke="#000" stroke-width="1.6"/>
<text x="518.7" y="748.5" font-size="10.9" font-weight="bold" text-anchor="end">1.5</text>
<line x1="520.6" y1="787.2" x2="526.6" y2="787.2" stroke="#000" stroke-width="1.6"/>
<text x="518.7" y="791.1" font-size="10.9" font-weight="bold" text-anchor="end">1.0</text>
<line x1="520.6" y1="829.6" x2="526.6" y2="829.6" stroke="#000" stroke-width="1.6"/>
<text x="518.7" y="833.5" font-size="10.9" font-weight="bold" text-anchor="end">0.5</text>
<line x1="520.6" y1="871.9" x2="526.6" y2="871.9" stroke="#000" stroke-width="1.6"/>
<text x="518.7" y="875.8" font-size="10.9" font-weight="bold" text-anchor="end">0.0</text>
<line x1="555.5" y1="871.9" x2="555.5" y2="878.7" stroke="#000" stroke-width="1.6"/>
<line x1="592.8" y1="871.9" x2="592.8" y2="878.7" stroke="#000" stroke-width="1.6"/>
<line x1="630" y1="871.9" x2="630" y2="878.7" stroke="#000" stroke-width="1.6"/>
<line x1="667" y1="871.9" x2="667" y2="878.7" stroke="#000" stroke-width="1.6"/>
<text x="611.4" y="693.9" font-size="15" font-weight="bold" text-anchor="middle" font-style="italic" textLength="41.5" lengthAdjust="spacingAndGlyphs">GPX1</text>
<text stroke="#000" stroke-width="0.22" x="493.4" y="787.2" font-size="14.4" text-anchor="middle" textLength="178" lengthAdjust="spacingAndGlyphs" transform="rotate(-90 493.4 787.2)">Relative mRNA Expression</text>
<text x="592.6" y="824.7" font-size="16.5" text-anchor="middle" stroke="#000" stroke-width="0.35">**</text>
<text x="629.8" y="815.1" font-size="16.5" text-anchor="middle" stroke="#000" stroke-width="0.35">*</text>
<text x="667.3" y="742.7" font-size="16.5" text-anchor="middle" stroke="#000" stroke-width="0.35">*</text>
<text x="643.4" y="719.1" font-size="9.2" font-weight="bold" text-anchor="middle" textLength="11.8" lengthAdjust="spacingAndGlyphs" stroke="#000" stroke-width="0.35">##</text>
<polyline points="590.1,797.5 630.8,797.5" fill="none" stroke="#2b3a8f" stroke-width="1.3"/>
<polyline points="611.5,797.5 611.5,721.6 668.5,721.6 668.5,726.6" fill="none" stroke="#2b3a8f" stroke-width="1.2"/>
<rect x="763.6" y="862.3" width="28.7" height="11.6" fill="#000000"/>
<line x1="778" y1="862.8" x2="778" y2="861" stroke="#000" stroke-width="2"/>
<line x1="771.4" y1="861" x2="784.6" y2="861" stroke="#000" stroke-width="2"/>
<rect x="801.1" y="827.9" width="28.4" height="46" fill="#9c9ea9"/>
<line x1="815.3" y1="828.4" x2="815.3" y2="817.8" stroke="#000" stroke-width="2"/>
<line x1="808.7" y1="817.8" x2="821.9" y2="817.8" stroke="#000" stroke-width="2"/>
<rect x="838.3" y="828.6" width="28.9" height="45.3" fill="#7e827d"/>
<line x1="852.8" y1="829.1" x2="852.8" y2="811.8" stroke="#000" stroke-width="2"/>
<line x1="846.1" y1="811.8" x2="859.4" y2="811.8" stroke="#000" stroke-width="2"/>
<rect x="875.5" y="774.6" width="28.6" height="99.3" fill="#d8d9d4"/>
<line x1="889.8" y1="775.1" x2="889.8" y2="760" stroke="#000" stroke-width="2"/>
<line x1="883.2" y1="760" x2="896.4" y2="760" stroke="#000" stroke-width="2"/>
<rect x="749.2" y="704" width="170.8" height="169.9" fill="none" stroke="#000" stroke-width="1.6"/>
<line x1="743.2" y1="704" x2="749.2" y2="704" stroke="#000" stroke-width="1.6"/>
<text x="741.3" y="707.9" font-size="10.9" font-weight="bold" text-anchor="end">15</text>
<line x1="743.2" y1="760.6" x2="749.2" y2="760.6" stroke="#000" stroke-width="1.6"/>
<text x="741.3" y="764.5" font-size="10.9" font-weight="bold" text-anchor="end">10</text>
<line x1="743.2" y1="817.3" x2="749.2" y2="817.3" stroke="#000" stroke-width="1.6"/>
<text x="741.3" y="821.2" font-size="10.9" font-weight="bold" text-anchor="end">5</text>
<line x1="743.2" y1="873.9" x2="749.2" y2="873.9" stroke="#000" stroke-width="1.6"/>
<text x="741.3" y="877.8" font-size="10.9" font-weight="bold" text-anchor="end">0</text>
<line x1="778" y1="873.9" x2="778" y2="880.7" stroke="#000" stroke-width="1.6"/>
<line x1="815.3" y1="873.9" x2="815.3" y2="880.7" stroke="#000" stroke-width="1.6"/>
<line x1="852.8" y1="873.9" x2="852.8" y2="880.7" stroke="#000" stroke-width="1.6"/>
<line x1="889.8" y1="873.9" x2="889.8" y2="880.7" stroke="#000" stroke-width="1.6"/>
<text x="833.5" y="696.4" font-size="15" font-weight="bold" text-anchor="middle" font-style="italic" textLength="59.8" lengthAdjust="spacingAndGlyphs">NFE2L2</text>
<text stroke="#000" stroke-width="0.22" x="719.4" y="788.6" font-size="14.4" text-anchor="middle" textLength="178" lengthAdjust="spacingAndGlyphs" transform="rotate(-90 719.4 788.6)">Relative mRNA Expression</text>
<text x="814.9" y="820.1" font-size="16.5" text-anchor="middle" stroke="#000" stroke-width="0.35">*</text>
<text x="852.6" y="814.6" font-size="16.5" text-anchor="middle" stroke="#000" stroke-width="0.35">*</text>
<text x="890" y="763.1" font-size="16.5" text-anchor="middle" stroke="#000" stroke-width="0.35">**</text>
<text x="863.9" y="736.9" font-size="9.2" font-weight="bold" text-anchor="middle" textLength="11.8" lengthAdjust="spacingAndGlyphs" stroke="#000" stroke-width="0.35">##</text>
<polyline points="813.7,798 854.6,798" fill="none" stroke="#2b3a8f" stroke-width="1.3"/>
<polyline points="834,798 834,739.9 890.3,739.9 890.3,745.4" fill="none" stroke="#2b3a8f" stroke-width="1.2"/>
<rect x="91.1" y="1060" width="28.7" height="27.4" fill="#000000"/>
<line x1="105.4" y1="1060.5" x2="105.4" y2="1057.3" stroke="#000" stroke-width="2"/>
<line x1="98.8" y1="1057.3" x2="112" y2="1057.3" stroke="#000" stroke-width="2"/>
<rect x="128.6" y="1017" width="28.4" height="70.4" fill="#9c9ea9"/>
<line x1="142.8" y1="1017.5" x2="142.8" y2="1004" stroke="#000" stroke-width="2"/>
<line x1="136.2" y1="1004" x2="149.4" y2="1004" stroke="#000" stroke-width="2"/>
<rect x="165.8" y="1018.1" width="28.4" height="69.3" fill="#7e827d"/>
<line x1="180" y1="1018.6" x2="180" y2="1007.8" stroke="#000" stroke-width="2"/>
<line x1="173.4" y1="1007.8" x2="186.6" y2="1007.8" stroke="#000" stroke-width="2"/>
<rect x="203" y="977.6" width="28.6" height="109.8" fill="#d8d9d4"/>
<line x1="217.3" y1="978.1" x2="217.3" y2="952.5" stroke="#000" stroke-width="2"/>
<line x1="210.7" y1="952.5" x2="223.9" y2="952.5" stroke="#000" stroke-width="2"/>
<rect x="76.6" y="917.6" width="170" height="169.8" fill="none" stroke="#000" stroke-width="1.6"/>
<line x1="70.6" y1="917.6" x2="76.6" y2="917.6" stroke="#000" stroke-width="1.6"/>
<text x="68.7" y="921.5" font-size="10.9" font-weight="bold" text-anchor="end">6</text>
<line x1="70.6" y1="974.4" x2="76.6" y2="974.4" stroke="#000" stroke-width="1.6"/>
<text x="68.7" y="978.3" font-size="10.9" font-weight="bold" text-anchor="end">4</text>
<line x1="70.6" y1="1030.9" x2="76.6" y2="1030.9" stroke="#000" stroke-width="1.6"/>
<text x="68.7" y="1034.8" font-size="10.9" font-weight="bold" text-anchor="end">2</text>
<line x1="70.6" y1="1087.4" x2="76.6" y2="1087.4" stroke="#000" stroke-width="1.6"/>
<text x="68.7" y="1091.3" font-size="10.9" font-weight="bold" text-anchor="end">0</text>
<line x1="105.4" y1="1087.4" x2="105.4" y2="1094.2" stroke="#000" stroke-width="1.6"/>
<line x1="142.8" y1="1087.4" x2="142.8" y2="1094.2" stroke="#000" stroke-width="1.6"/>
<line x1="180" y1="1087.4" x2="180" y2="1094.2" stroke="#000" stroke-width="1.6"/>
<line x1="217.3" y1="1087.4" x2="217.3" y2="1094.2" stroke="#000" stroke-width="1.6"/>
<text x="161.4" y="909.6" font-size="15" font-weight="bold" text-anchor="middle" font-style="italic" textLength="61.6" lengthAdjust="spacingAndGlyphs">HMOX-1</text>
<text stroke="#000" stroke-width="0.22" x="53.8" y="1002.7" font-size="14.4" text-anchor="middle" textLength="178.5" lengthAdjust="spacingAndGlyphs" transform="rotate(-90 53.8 1002.7)">Relative mRNA Expression</text>
<text x="142.6" y="1007.8" font-size="16.5" text-anchor="middle" stroke="#000" stroke-width="0.35">*</text>
<text x="179.8" y="1010.3" font-size="16.5" text-anchor="middle" stroke="#000" stroke-width="0.35">*</text>
<text x="217.3" y="954.8" font-size="16.5" text-anchor="middle" stroke="#000" stroke-width="0.35">**</text>
<text x="190.9" y="931.1" font-size="9.2" font-weight="bold" text-anchor="middle" textLength="5.8" lengthAdjust="spacingAndGlyphs" stroke="#000" stroke-width="0.35">#</text>
<polyline points="141.4,992.7 182.1,992.7" fill="none" stroke="#2b3a8f" stroke-width="1.3"/>
<polyline points="161.5,992.7 161.5,934.9 217.8,934.9 217.8,939.9" fill="none" stroke="#2b3a8f" stroke-width="1.2"/>
<rect x="316.2" y="1019.8" width="28.1" height="67.6" fill="#000000"/>
<line x1="330.2" y1="1020.3" x2="330.2" y2="1014.3" stroke="#000" stroke-width="2"/>
<line x1="323.6" y1="1014.3" x2="336.9" y2="1014.3" stroke="#000" stroke-width="2"/>
<rect x="353.6" y="1061.8" width="28.4" height="25.6" fill="#9c9ea9"/>
<line x1="367.8" y1="1062.3" x2="367.8" y2="1055" stroke="#000" stroke-width="2"/>
<line x1="361.2" y1="1055" x2="374.4" y2="1055" stroke="#000" stroke-width="2"/>
<rect x="390.8" y="1068.3" width="28.4" height="19.1" fill="#7e827d"/>
<line x1="405" y1="1068.8" x2="405" y2="1061.8" stroke="#000" stroke-width="2"/>
<line x1="398.4" y1="1061.8" x2="411.6" y2="1061.8" stroke="#000" stroke-width="2"/>
<rect x="428" y="981.9" width="28.6" height="105.5" fill="#d8d9d4"/>
<line x1="442.3" y1="982.4" x2="442.3" y2="962" stroke="#000" stroke-width="2"/>
<line x1="435.7" y1="962" x2="448.9" y2="962" stroke="#000" stroke-width="2"/>
<rect x="301.6" y="917.4" width="170" height="170" fill="none" stroke="#000" stroke-width="1.6"/>
<line x1="295.6" y1="917.4" x2="301.6" y2="917.4" stroke="#000" stroke-width="1.6"/>
<text x="293.7" y="921.3" font-size="10.9" font-weight="bold" text-anchor="end">2.5</text>
<line x1="295.6" y1="951.4" x2="301.6" y2="951.4" stroke="#000" stroke-width="1.6"/>
<text x="293.7" y="955.3" font-size="10.9" font-weight="bold" text-anchor="end">2.0</text>
<line x1="295.6" y1="985.4" x2="301.6" y2="985.4" stroke="#000" stroke-width="1.6"/>
<text x="293.7" y="989.3" font-size="10.9" font-weight="bold" text-anchor="end">1.5</text>
<line x1="295.6" y1="1019.4" x2="301.6" y2="1019.4" stroke="#000" stroke-width="1.6"/>
<text x="293.7" y="1023.3" font-size="10.9" font-weight="bold" text-anchor="end">1.0</text>
<line x1="295.6" y1="1053.4" x2="301.6" y2="1053.4" stroke="#000" stroke-width="1.6"/>
<text x="293.7" y="1057.3" font-size="10.9" font-weight="bold" text-anchor="end">0.5</text>
<line x1="295.6" y1="1087.4" x2="301.6" y2="1087.4" stroke="#000" stroke-width="1.6"/>
<text x="293.7" y="1091.3" font-size="10.9" font-weight="bold" text-anchor="end">0.0</text>
<line x1="330.2" y1="1087.4" x2="330.2" y2="1094.2" stroke="#000" stroke-width="1.6"/>
<line x1="367.8" y1="1087.4" x2="367.8" y2="1094.2" stroke="#000" stroke-width="1.6"/>
<line x1="405" y1="1087.4" x2="405" y2="1094.2" stroke="#000" stroke-width="1.6"/>
<line x1="442.3" y1="1087.4" x2="442.3" y2="1094.2" stroke="#000" stroke-width="1.6"/>
<text x="386.4" y="909.2" font-size="15" font-weight="bold" text-anchor="middle" font-style="italic" textLength="44" lengthAdjust="spacingAndGlyphs">NQO1</text>
<text stroke="#000" stroke-width="0.22" x="267.4" y="1002.7" font-size="14.4" text-anchor="middle" textLength="178.5" lengthAdjust="spacingAndGlyphs" transform="rotate(-90 267.4 1002.7)">Relative mRNA Expression</text>
<text x="367.7" y="1058.1" font-size="16.5" text-anchor="middle" stroke="#000" stroke-width="0.35">**</text>
<text x="404.9" y="1064.1" font-size="16.5" text-anchor="middle" stroke="#000" stroke-width="0.35">**</text>
<text x="442.3" y="964.3" font-size="16.5" text-anchor="middle" stroke="#000" stroke-width="0.35">*</text>
<text x="415.2" y="934.4" font-size="9.2" font-weight="bold" text-anchor="middle" textLength="11.8" lengthAdjust="spacingAndGlyphs" stroke="#000" stroke-width="0.35">##</text>
<polyline points="365.7,1040.9 406.4,1040.9" fill="none" stroke="#2b3a8f" stroke-width="1.3"/>
<polyline points="385.8,1040.9 385.8,939.2 444.1,939.2 444.1,951.2" fill="none" stroke="#2b3a8f" stroke-width="1.2"/>
<rect x="541.7" y="974.6" width="28.4" height="112.8" fill="#000000"/>
<line x1="555.9" y1="975.1" x2="555.9" y2="968.1" stroke="#000" stroke-width="2"/>
<line x1="549.3" y1="968.1" x2="562.5" y2="968.1" stroke="#000" stroke-width="2"/>
<rect x="578.8" y="1048.7" width="28.7" height="38.7" fill="#9c9ea9"/>
<line x1="593.1" y1="1049.2" x2="593.1" y2="1037.4" stroke="#000" stroke-width="2"/>
<line x1="586.5" y1="1037.4" x2="599.8" y2="1037.4" stroke="#000" stroke-width="2"/>
<rect x="616.3" y="1055.5" width="28.4" height="31.9" fill="#7e827d"/>
<line x1="630.5" y1="1056" x2="630.5" y2="1044" stroke="#000" stroke-width="2"/>
<line x1="623.9" y1="1044" x2="637.1" y2="1044" stroke="#000" stroke-width="2"/>
<rect x="653.5" y="999" width="28.9" height="88.4" fill="#d8d9d4"/>
<line x1="668" y1="999.5" x2="668" y2="983.1" stroke="#000" stroke-width="2"/>
<line x1="661.4" y1="983.1" x2="674.6" y2="983.1" stroke="#000" stroke-width="2"/>
<rect x="526.6" y="917.4" width="170" height="170" fill="none" stroke="#000" stroke-width="1.6"/>
<line x1="520.6" y1="917.4" x2="526.6" y2="917.4" stroke="#000" stroke-width="1.6"/>
<text x="518.7" y="921.3" font-size="10.9" font-weight="bold" text-anchor="end">1.5</text>
<line x1="520.6" y1="974.1" x2="526.6" y2="974.1" stroke="#000" stroke-width="1.6"/>
<text x="518.7" y="978" font-size="10.9" font-weight="bold" text-anchor="end">1.0</text>
<line x1="520.6" y1="1030.7" x2="526.6" y2="1030.7" stroke="#000" stroke-width="1.6"/>
<text x="518.7" y="1034.6" font-size="10.9" font-weight="bold" text-anchor="end">0.5</text>
<line x1="520.6" y1="1087.4" x2="526.6" y2="1087.4" stroke="#000" stroke-width="1.6"/>
<text x="518.7" y="1091.3" font-size="10.9" font-weight="bold" text-anchor="end">0.0</text>
<line x1="555.9" y1="1087.4" x2="555.9" y2="1094.2" stroke="#000" stroke-width="1.6"/>
<line x1="593.1" y1="1087.4" x2="593.1" y2="1094.2" stroke="#000" stroke-width="1.6"/>
<line x1="630.5" y1="1087.4" x2="630.5" y2="1094.2" stroke="#000" stroke-width="1.6"/>
<line x1="668" y1="1087.4" x2="668" y2="1094.2" stroke="#000" stroke-width="1.6"/>
<text x="612.9" y="909.2" font-size="15" font-weight="bold" text-anchor="middle" font-style="italic" textLength="46" lengthAdjust="spacingAndGlyphs">TGF-β</text>
<text stroke="#000" stroke-width="0.22" x="492.4" y="1002.7" font-size="14.4" text-anchor="middle" textLength="178.5" lengthAdjust="spacingAndGlyphs" transform="rotate(-90 492.4 1002.7)">Relative mRNA Expression</text>
<text x="593.2" y="1041" font-size="16.5" text-anchor="middle" stroke="#000" stroke-width="0.35">**</text>
<text x="630.4" y="1047.5" font-size="16.5" text-anchor="middle" stroke="#000" stroke-width="0.35">**</text>
<text x="666.8" y="978.9" font-size="13.2" text-anchor="middle">ns</text>
<text x="640.9" y="944.5" font-size="9.2" font-weight="bold" text-anchor="middle" textLength="11.8" lengthAdjust="spacingAndGlyphs" stroke="#000" stroke-width="0.35">##</text>
<polyline points="588.1,1020.8 629.6,1020.8" fill="none" stroke="#2b3a8f" stroke-width="1.3"/>
<polyline points="609.5,1020.8 609.5,949.2 668.1,949.2 668.1,962.5" fill="none" stroke="#2b3a8f" stroke-width="1.2"/>
<rect x="767.4" y="974.6" width="28.2" height="112.8" fill="#000000"/>
<line x1="781.5" y1="975.1" x2="781.5" y2="960.5" stroke="#000" stroke-width="2"/>
<line x1="774.9" y1="960.5" x2="788.1" y2="960.5" stroke="#000" stroke-width="2"/>
<rect x="804.4" y="1040.9" width="28.4" height="46.5" fill="#9c9ea9"/>
<line x1="818.6" y1="1041.4" x2="818.6" y2="1033.7" stroke="#000" stroke-width="2"/>
<line x1="812" y1="1033.7" x2="825.2" y2="1033.7" stroke="#000" stroke-width="2"/>
<rect x="842" y="1017.8" width="28.4" height="69.6" fill="#7e827d"/>
<line x1="856.2" y1="1018.3" x2="856.2" y2="1008.5" stroke="#000" stroke-width="2"/>
<line x1="849.6" y1="1008.5" x2="862.8" y2="1008.5" stroke="#000" stroke-width="2"/>
<rect x="879" y="980.1" width="28.6" height="107.3" fill="#d8d9d4"/>
<line x1="893.3" y1="980.6" x2="893.3" y2="961.5" stroke="#000" stroke-width="2"/>
<line x1="886.7" y1="961.5" x2="899.9" y2="961.5" stroke="#000" stroke-width="2"/>
<rect x="752.2" y="917.4" width="170.8" height="170" fill="none" stroke="#000" stroke-width="1.6"/>
<line x1="746.2" y1="917.4" x2="752.2" y2="917.4" stroke="#000" stroke-width="1.6"/>
<text x="744.3" y="921.3" font-size="10.9" font-weight="bold" text-anchor="end">1.5</text>
<line x1="746.2" y1="974.1" x2="752.2" y2="974.1" stroke="#000" stroke-width="1.6"/>
<text x="744.3" y="978" font-size="10.9" font-weight="bold" text-anchor="end">1.0</text>
<line x1="746.2" y1="1030.7" x2="752.2" y2="1030.7" stroke="#000" stroke-width="1.6"/>
<text x="744.3" y="1034.6" font-size="10.9" font-weight="bold" text-anchor="end">0.5</text>
<line x1="746.2" y1="1087.4" x2="752.2" y2="1087.4" stroke="#000" stroke-width="1.6"/>
<text x="744.3" y="1091.3" font-size="10.9" font-weight="bold" text-anchor="end">0.0</text>
<line x1="781.5" y1="1087.4" x2="781.5" y2="1094.2" stroke="#000" stroke-width="1.6"/>
<line x1="818.6" y1="1087.4" x2="818.6" y2="1094.2" stroke="#000" stroke-width="1.6"/>
<line x1="856.2" y1="1087.4" x2="856.2" y2="1094.2" stroke="#000" stroke-width="1.6"/>
<line x1="893.3" y1="1087.4" x2="893.3" y2="1094.2" stroke="#000" stroke-width="1.6"/>
<text x="838.6" y="909.2" font-size="15" font-weight="bold" text-anchor="middle" font-style="italic" textLength="43.5" lengthAdjust="spacingAndGlyphs">VEGF</text>
<text stroke="#000" stroke-width="0.22" x="718" y="1002.7" font-size="14.4" text-anchor="middle" textLength="178.5" lengthAdjust="spacingAndGlyphs" transform="rotate(-90 718 1002.7)">Relative mRNA Expression</text>
<text x="818.7" y="1036.5" font-size="16.5" text-anchor="middle" stroke="#000" stroke-width="0.35">**</text>
<text x="856.1" y="1012.1" font-size="16.5" text-anchor="middle" stroke="#000" stroke-width="0.35">*</text>
<text x="892.3" y="957.5" font-size="13.2" text-anchor="middle">ns</text>
<text x="865.9" y="933.7" font-size="9.2" font-weight="bold" text-anchor="middle" textLength="5.8" lengthAdjust="spacingAndGlyphs" stroke="#000" stroke-width="0.35">#</text>
<polyline points="814.4,996.5 854.6,996.5" fill="none" stroke="#2b3a8f" stroke-width="1.3"/>
<polyline points="835.3,996.5 835.3,935.6 893.6,935.6 893.6,943.7" fill="none" stroke="#2b3a8f" stroke-width="1.2"/>
<rect x="699.2" y="601.9" width="21.9" height="11.7" fill="#000000"/>
<text x="733.8" y="613.8" font-size="18.4" font-weight="bold" textLength="59" lengthAdjust="spacingAndGlyphs">Control</text>
<rect x="699.2" y="632.4" width="21.9" height="11.7" fill="#9c9ea9"/>
<text x="733.8" y="644.4" font-size="18.4" font-weight="bold" textLength="25.2" lengthAdjust="spacingAndGlyphs">DM</text>
<rect x="802.4" y="603.3" width="21.6" height="11.7" fill="#7e827d"/>
<text x="837.1" y="615.8" font-size="18.4" font-weight="bold" textLength="62.4" lengthAdjust="spacingAndGlyphs">DM+GM</text>
<rect x="802.4" y="633.8" width="21.6" height="11.7" fill="#d8d9d4"/>
<text x="837.1" y="646.3" font-size="18.4" font-weight="bold" textLength="83.8" lengthAdjust="spacingAndGlyphs">DM+GMAP</text>
</svg>
</body></html>
